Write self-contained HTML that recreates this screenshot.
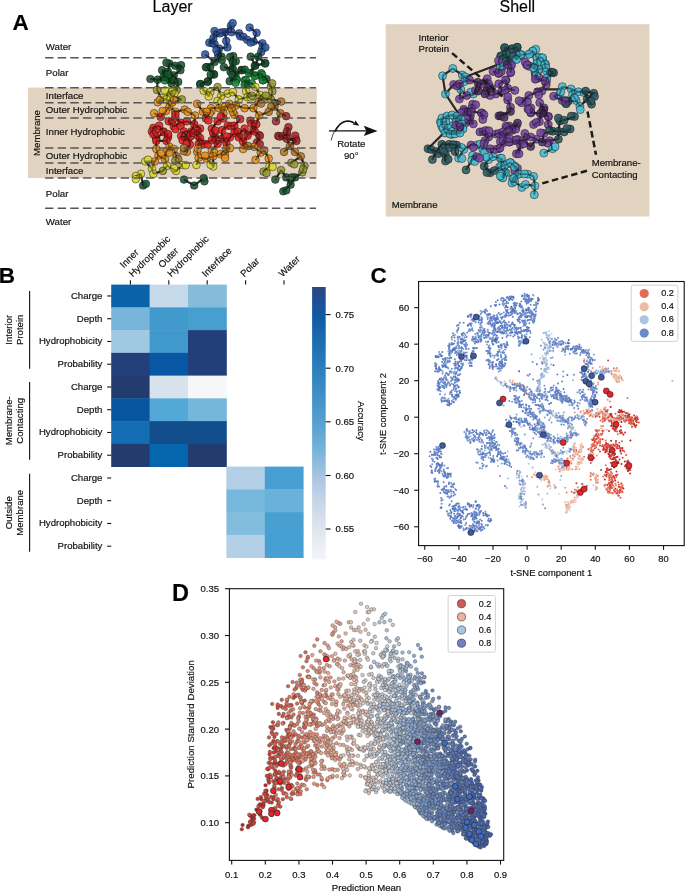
<!DOCTYPE html>
<html><head><meta charset="utf-8"><style>
html,body{margin:0;padding:0;background:#fff;}
svg{display:block;font-family:"Liberation Sans", sans-serif;will-change:transform;}
text{stroke:#111;stroke-width:0.18px;}
.sc circle{r:1px}
.sd circle{r:1.8px}
</style></head><body>
<svg width="685" height="892" viewBox="0 0 685 892">
<text x="12.4" y="30.3" font-size="22.5" font-weight="bold">A</text>
<text x="152.6" y="12.2" font-size="16">Layer</text>
<text x="499.5" y="12.4" font-size="16">Shell</text>
<rect x="28" y="87.6" width="288.8" height="90.4" fill="#e2d2c0"/>
<rect x="385.7" y="24.2" width="263.7" height="192.3" fill="#e2d2c0"/>
<text x="45.8" y="50.4" font-size="9.7" fill="#111">Water</text>
<text x="45.8" y="76.4" font-size="9.7" fill="#111">Polar</text>
<text x="45.8" y="98.5" font-size="9.7" fill="#111">Interface</text>
<text x="45.8" y="113.4" font-size="9.7" fill="#111">Outer Hydrophobic</text>
<text x="45.8" y="135.2" font-size="9.7" fill="#111">Inner Hydrophobic</text>
<text x="45.8" y="158.8" font-size="9.7" fill="#111">Outer Hydrophobic</text>
<text x="45.8" y="174.0" font-size="9.7" fill="#111">Interface</text>
<text x="45.8" y="196.8" font-size="9.7" fill="#111">Polar</text>
<text x="45.8" y="224.6" font-size="9.7" fill="#111">Water</text>
<text x="0" y="0" font-size="9.6" text-anchor="middle" transform="translate(39.5 133) rotate(-90)" fill="#111">Membrane</text>
<g stroke="#111" stroke-width="0.7" stroke-opacity="0.7" fill-opacity="0.88">
<path d="M230.9 25.8L225.0 32.2M230.9 25.8L231.5 32.2M214.5 31.0L219.8 33.4M214.5 31.0L213.4 38.0M225.0 32.2L219.8 33.4M225.0 32.2L231.5 32.2M225.0 32.2L226.2 40.9M219.8 33.4L213.4 38.0M231.5 32.2L239.1 33.4M239.1 33.4L240.2 36.3M240.2 36.3L247.2 39.8M249.6 27.5L256.6 32.8M256.6 32.8L253.6 41.5M247.2 39.8L253.6 41.5M253.6 41.5L262.4 43.3M262.4 43.3L262.4 48.5M262.4 43.3L261.2 52.0M262.4 48.5L261.2 52.0M261.2 52.0L258.3 56.7M209.3 42.7L214.5 43.9M209.3 42.7L213.4 38.0M214.5 43.9L219.2 48.5M214.5 43.9L213.4 38.0M226.2 40.9L227.4 47.4M227.4 47.4L219.2 48.5M219.2 48.5L218.0 54.4M219.2 48.5L221.5 56.7M218.0 54.4L221.5 56.7M218.0 54.4L214.5 62.0M205.2 54.4L214.5 62.0M221.5 56.7L214.5 62.0M233.2 56.1L232.6 60.8M233.2 56.1L232.9 62.2M232.6 60.8L232.0 69.0M232.6 60.8L232.9 68.8M250.7 56.7L258.3 56.7M250.7 56.7L255.4 65.5M258.3 56.7L255.4 65.5M258.3 56.7L265.3 63.1M258.3 56.7L265.0 63.6M214.5 62.0L206.9 67.2M214.5 62.0L205.9 67.3M206.9 67.2L213.9 74.2M223.9 67.2L232.0 69.0M223.9 67.2L232.9 68.8M232.0 69.0L235.5 74.2M232.0 69.0L232.9 62.2M241.4 70.1L235.5 74.2M241.4 70.1L249.0 73.1M255.4 65.5L265.3 63.1M255.4 65.5L250.7 73.1M255.4 65.5L265.0 63.6M213.9 74.2L208.1 81.2M208.1 81.2L200.5 84.2M208.1 81.2L200.1 84.1M208.1 81.2L213.9 74.6M200.5 84.2L207.4 81.9M200.5 84.2L203.7 90.7M229.7 81.2L236.7 79.5M229.7 81.2L234.4 77.5M229.7 81.2L236.6 79.7M235.5 74.2L236.7 79.5M235.5 74.2L232.9 68.8M235.5 74.2L241.7 70.2M235.5 74.2L234.4 77.5M235.5 74.2L236.6 79.7M236.7 79.5L234.4 77.5M244.9 80.1L246.1 84.7M244.9 80.1L244.6 84.8M244.9 80.1L251.9 83.4M250.7 73.1L255.4 75.4M250.7 73.1L254.8 65.8M250.7 73.1L254.8 76.1M255.4 75.4L261.2 73.1M255.4 75.4L249.0 73.1M255.4 75.4L262.1 74.6M261.2 73.1L263.0 80.1M261.2 73.1L254.8 76.1M261.2 73.1L262.8 80.4M263.0 80.1L266.5 79.0M263.0 80.1L262.1 74.6M246.1 84.7L246.1 80.4M246.1 84.7L251.9 83.4M246.1 84.7L246.1 91.4M169.4 63.6L175.3 65.8M169.4 63.6L168.0 71.7M175.3 65.8L181.1 65.1M175.3 65.8L180.4 70.2M181.1 65.1L180.4 70.2M180.4 70.2L173.8 75.3M162.1 70.2L168.0 71.7M162.1 70.2L163.6 76.8M162.1 70.2L168.0 74.6M168.0 71.7L173.8 75.3M168.0 71.7L163.6 76.8M173.8 75.3L168.7 79.0M173.8 75.3L178.2 81.9M173.8 75.3L168.0 74.6M150.4 79.0L157.7 79.7M157.7 79.7L163.6 76.8M157.7 79.7L165.0 80.4M157.7 79.7L157.0 89.9M163.6 76.8L168.7 79.0M163.6 76.8L168.0 74.6M163.6 76.8L165.0 80.4M168.7 79.0L171.6 83.4M168.7 79.0L168.0 74.6M168.7 79.0L165.0 80.4M171.6 83.4L178.2 81.9M171.6 83.4L165.0 80.4M178.2 81.9L176.7 89.9M200.1 84.1L207.4 81.9M200.1 84.1L203.7 90.7M207.4 81.9L213.9 74.6M168.0 74.6L165.0 80.4M157.0 89.9L161.4 98.0M176.7 89.9L172.3 91.4M176.7 89.9L173.8 96.5M217.6 87.0L210.3 92.1M217.6 87.0L221.2 95.8M181.8 99.4L173.8 96.5M181.8 99.4L172.3 102.3M161.4 98.0L166.5 99.4M161.4 98.0L157.7 102.3M168.0 91.4L172.3 91.4M168.0 91.4L173.8 96.5M168.0 91.4L166.5 99.4M172.3 91.4L173.8 96.5M173.8 96.5L172.3 102.3M166.5 99.4L157.7 102.3M166.5 99.4L169.4 106.7M166.5 99.4L172.3 102.3M203.7 90.7L210.3 92.1M203.7 90.7L208.8 96.5M210.3 92.1L208.8 96.5M221.2 95.8L217.6 100.9M221.2 95.8L227.8 93.6M217.6 100.9L219.1 108.2M227.8 93.6L232.9 92.1M169.4 106.7L165.8 111.1M169.4 106.7L175.3 111.8M169.4 106.7L172.3 102.3M165.8 111.1L160.7 116.9M175.3 111.8L184.7 109.6M175.3 111.8L175.3 117.7M154.1 113.3L160.7 116.9M184.7 109.6L187.7 111.8M187.7 111.8L195.0 115.5M197.2 103.8L203.0 111.8M195.0 115.5L194.2 124.2M203.0 111.8L209.6 113.3M203.0 111.8L205.9 118.4M211.0 108.2L209.6 113.3M211.0 108.2L219.1 108.2M209.6 113.3L205.9 118.4M219.1 108.2L224.9 106.7M219.1 108.2L223.4 113.3M224.9 106.7L223.4 113.3M224.9 106.7L229.3 103.8M224.9 106.7L231.5 108.2M223.4 113.3L223.4 118.4M229.3 103.8L235.8 105.3M229.3 103.8L231.5 108.2M168.7 121.3L175.3 117.7M168.7 121.3L173.8 126.4M175.3 117.7L181.1 122.8M153.4 127.9L159.2 125.7M153.4 127.9L151.9 131.5M159.2 125.7L163.6 131.5M159.2 125.7L163.6 132.2M163.6 131.5L168.0 135.9M163.6 131.5L168.0 137.3M173.8 126.4L181.1 122.8M168.0 135.9L163.6 132.2M168.0 135.9L166.5 140.9M181.1 122.8L186.9 121.3M186.9 121.3L194.2 124.2M194.2 124.2L191.3 131.5M194.2 124.2L200.1 128.6M184.0 131.5L191.3 131.5M184.0 131.5L181.1 135.8M184.0 131.5L188.4 138.8M191.3 131.5L188.4 138.8M200.1 128.6L197.9 135.9M200.1 128.6L192.8 132.9M197.9 135.9L192.8 132.9M197.9 135.9L200.1 138.0M197.9 135.9L198.6 143.9M211.8 128.6L217.6 121.3M211.8 128.6L214.7 135.9M211.8 128.6L213.2 132.9M217.6 121.3L223.4 118.4M222.0 130.1L227.8 125.7M222.0 130.1L222.0 138.8M227.8 125.7L234.4 125.7M214.7 135.9L213.2 132.9M214.7 135.9L222.0 138.8M214.7 135.9L217.6 143.9M214.7 135.9L211.8 140.2M156.3 138.8L151.9 131.5M156.3 138.8L163.6 132.2M232.9 62.2L232.9 68.8M241.7 70.2L249.0 73.1M254.8 65.8L249.0 73.1M234.4 77.5L236.6 79.7M266.5 79.0L262.1 74.6M266.5 79.0L262.8 80.4M266.5 79.0L270.9 86.3M249.0 73.1L254.8 76.1M262.1 74.6L262.8 80.4M246.1 80.4L244.6 84.8M246.1 80.4L251.9 83.4M244.6 84.8L246.1 91.4M251.9 83.4L255.5 87.0M255.5 87.0L259.9 95.0M232.9 92.1L238.8 99.4M246.1 91.4L247.5 97.2M246.1 91.4L251.9 95.8M238.8 99.4L247.5 97.2M238.8 99.4L235.8 105.3M247.5 97.2L251.9 95.8M259.9 95.0L263.6 98.0M259.9 95.0L251.9 95.8M259.9 95.0L258.5 101.6M270.9 86.3L272.3 91.4M272.3 91.4L270.9 99.4M270.9 99.4L263.6 98.0M270.9 99.4L281.1 101.6M270.9 99.4L274.5 106.7M263.6 98.0L258.5 101.6M235.8 105.3L244.6 108.2M235.8 105.3L231.5 108.2M244.6 108.2L253.4 108.2M253.4 108.2L259.2 115.5M253.4 108.2L258.5 101.6M259.2 115.5L268.7 111.8M259.2 115.5L256.3 124.2M234.4 114.7L231.5 108.2M234.4 114.7L240.2 119.1M281.1 101.6L274.5 106.7M274.5 106.7L268.7 111.8M274.5 106.7L280.4 113.3M280.4 113.3L286.2 116.2M280.4 113.3L276.0 121.3M240.2 119.1L234.4 125.7M250.4 120.6L256.3 124.2M250.4 120.6L253.4 130.1M256.3 124.2L253.4 130.1M256.3 124.2L254.8 131.5M234.4 125.7L234.4 132.9M244.6 128.6L238.8 134.5M244.6 128.6L247.5 134.5M244.6 128.6L247.5 135.8M253.4 130.1L247.5 134.5M253.4 130.1L259.2 135.2M253.4 130.1L247.5 135.8M238.8 134.5L234.4 132.9M238.8 134.5L243.1 141.7M247.5 134.5L254.8 131.5M259.2 135.2L254.8 131.5M259.2 135.2L257.0 142.4M288.4 127.2L286.9 134.5M288.4 127.2L286.9 131.5M278.2 135.9L286.9 134.5M278.2 135.9L286.9 138.8M286.9 134.5L279.6 136.6M286.9 134.5L286.9 138.8M295.7 138.8L286.9 138.8M295.7 138.8L289.9 146.1M163.6 132.2L168.0 137.3M168.0 137.3L166.5 140.9M156.3 140.9L166.5 140.9M156.3 140.9L156.3 149.0M166.5 140.9L169.4 146.8M181.1 135.8L182.6 140.2M181.1 135.8L188.4 138.8M182.6 140.2L188.4 138.8M188.4 138.8L192.8 132.9M188.4 138.8L189.9 144.6M200.1 138.0L198.6 143.9M200.1 138.0L204.5 143.9M198.6 143.9L204.5 143.9M198.6 143.9L197.2 151.9M189.9 144.6L186.9 151.9M189.9 144.6L184.0 151.2M204.5 143.9L211.8 140.2M213.2 132.9L211.8 140.2M222.0 138.8L217.6 143.9M222.0 138.8L226.4 143.1M222.0 138.8L230.0 137.3M217.6 143.9L211.8 140.2M217.6 143.9L211.8 150.4M226.4 143.1L226.4 149.0M226.4 143.1L230.0 137.3M226.4 143.1L230.0 148.2M156.3 149.0L158.5 155.5M169.4 146.8L173.8 149.0M169.4 146.8L166.5 151.2M173.8 149.0L166.5 151.2M173.8 149.0L176.7 156.3M166.5 151.2L165.0 159.2M158.5 155.5L165.0 159.2M158.5 155.5L154.8 161.4M165.0 159.2L167.2 165.8M154.8 161.4L145.3 161.4M154.8 161.4L151.9 168.7M186.9 151.9L184.0 151.2M197.2 151.9L198.6 157.7M198.6 157.7L206.6 158.5M198.6 157.7L196.4 165.0M206.6 158.5L213.2 156.3M206.6 158.5L213.2 166.5M211.8 150.4L213.2 156.3M220.5 154.1L224.9 154.8M220.5 154.1L213.2 156.3M220.5 154.1L226.4 149.0M224.9 154.8L226.4 149.0M224.9 154.8L230.0 148.2M213.2 156.3L213.2 166.5M226.4 149.0L230.0 148.2M176.7 156.3L175.3 160.7M145.3 161.4L151.9 168.7M151.9 168.7L153.4 173.8M153.4 173.8L162.8 170.9M140.9 173.8L135.8 176.0M140.9 173.8L143.1 185.5M167.2 165.8L176.0 170.9M167.2 165.8L162.8 170.9M176.0 170.9L182.6 165.0M182.6 165.0L175.3 160.7M184.0 179.6L194.2 185.5M194.2 185.5L203.7 178.2M234.4 132.9L238.8 137.3M234.4 132.9L230.0 137.3M238.8 137.3L243.1 141.7M247.5 135.8L243.1 141.7M243.1 141.7L243.1 149.0M243.1 141.7L248.2 146.1M254.8 131.5L259.9 135.8M259.9 135.8L257.0 142.4M257.0 142.4L254.1 146.8M279.6 136.6L286.9 138.8M286.9 131.5L286.9 138.8M286.9 138.8L296.4 140.9M286.9 138.8L289.9 146.1M296.4 140.9L289.9 146.1M243.1 149.0L248.2 146.1M254.1 146.8L260.7 152.6M254.1 146.8L248.2 146.1M260.7 152.6L255.5 159.9M260.7 152.6L264.3 150.4M268.7 158.5L264.3 150.4M268.7 158.5L269.4 166.5M289.9 146.1L284.0 151.9M289.9 146.1L295.0 151.9M295.0 151.9L300.8 156.3M300.8 156.3L291.3 162.8M300.8 156.3L304.5 165.8M269.4 166.5L263.6 171.6M281.1 170.1L275.3 179.6M281.1 170.1L286.2 177.4M304.5 165.8L302.3 172.3M302.3 172.3L295.0 177.4M286.2 177.4L295.0 177.4M286.2 177.4L290.6 184.7M295.0 177.4L290.6 184.7M290.6 184.7L283.3 191.3" stroke="#000" stroke-width="2.2" fill="none"/>
<circle cx="230.9" cy="25.8" r="3.85" fill="#2f58a8"/>
<circle cx="232.7" cy="23.1" r="3.85" fill="#2f58a8"/>
<circle cx="214.5" cy="31.0" r="3.85" fill="#2f58a8"/>
<circle cx="225.0" cy="32.2" r="3.85" fill="#2f58a8"/>
<circle cx="221.8" cy="32.3" r="3.85" fill="#2f58a8"/>
<circle cx="219.8" cy="33.4" r="3.85" fill="#2f58a8"/>
<circle cx="231.5" cy="32.2" r="3.85" fill="#2f58a8"/>
<circle cx="239.1" cy="33.4" r="3.85" fill="#2f58a8"/>
<circle cx="240.2" cy="36.3" r="3.85" fill="#2f58a8"/>
<circle cx="243.4" cy="36.8" r="3.85" fill="#2f58a8"/>
<circle cx="249.6" cy="27.5" r="3.85" fill="#2f58a8"/>
<circle cx="256.6" cy="32.8" r="3.85" fill="#2f58a8"/>
<circle cx="247.2" cy="39.8" r="3.85" fill="#2f58a8"/>
<circle cx="253.6" cy="41.5" r="3.85" fill="#2f58a8"/>
<circle cx="250.6" cy="42.6" r="3.85" fill="#2f58a8"/>
<circle cx="262.4" cy="43.3" r="3.85" fill="#2f58a8"/>
<circle cx="262.4" cy="48.5" r="3.85" fill="#2f58a8"/>
<circle cx="265.4" cy="47.5" r="3.85" fill="#2f58a8"/>
<circle cx="261.2" cy="52.0" r="3.85" fill="#2f58a8"/>
<circle cx="209.3" cy="42.7" r="3.85" fill="#2f58a8"/>
<circle cx="212.4" cy="43.2" r="3.85" fill="#2f58a8"/>
<circle cx="214.5" cy="43.9" r="3.85" fill="#2f58a8"/>
<circle cx="226.2" cy="40.9" r="3.85" fill="#2f58a8"/>
<circle cx="227.4" cy="47.4" r="3.85" fill="#2f58a8"/>
<circle cx="219.2" cy="48.5" r="3.85" fill="#2f58a8"/>
<circle cx="216.4" cy="50.0" r="3.85" fill="#2f58a8"/>
<circle cx="218.0" cy="54.4" r="3.85" fill="#2f58a8"/>
<circle cx="218.6" cy="57.5" r="3.85" fill="#2f58a8"/>
<circle cx="205.2" cy="54.4" r="3.85" fill="#2f58a8"/>
<circle cx="213.4" cy="38.0" r="3.85" fill="#2f58a8"/>
<circle cx="221.5" cy="56.7" r="3.85" fill="#1a5530"/>
<circle cx="221.9" cy="59.9" r="3.85" fill="#1a5530"/>
<circle cx="233.2" cy="56.1" r="3.85" fill="#1a5530"/>
<circle cx="230.1" cy="56.9" r="3.85" fill="#1a5530"/>
<circle cx="232.6" cy="60.8" r="3.85" fill="#1a5530"/>
<circle cx="235.8" cy="61.2" r="3.85" fill="#1a5530"/>
<circle cx="250.7" cy="56.7" r="3.85" fill="#1a5530"/>
<circle cx="258.3" cy="56.7" r="3.85" fill="#1a5530"/>
<circle cx="214.5" cy="62.0" r="3.85" fill="#1a5530"/>
<circle cx="206.9" cy="67.2" r="3.85" fill="#1a5530"/>
<circle cx="210.1" cy="67.1" r="3.85" fill="#1a5530"/>
<circle cx="223.9" cy="67.2" r="3.85" fill="#1a5530"/>
<circle cx="232.0" cy="69.0" r="3.85" fill="#1a5530"/>
<circle cx="230.5" cy="71.8" r="3.85" fill="#1a5530"/>
<circle cx="241.4" cy="70.1" r="3.85" fill="#1a5530"/>
<circle cx="255.4" cy="65.5" r="3.85" fill="#1a5530"/>
<circle cx="265.3" cy="63.1" r="3.85" fill="#1a5530"/>
<circle cx="213.9" cy="74.2" r="3.85" fill="#1a5530"/>
<circle cx="208.1" cy="81.2" r="3.85" fill="#1a5530"/>
<circle cx="200.5" cy="84.2" r="3.85" fill="#1a5530"/>
<circle cx="229.7" cy="81.2" r="3.85" fill="#1a5530"/>
<circle cx="235.5" cy="74.2" r="3.85" fill="#1a5530"/>
<circle cx="236.7" cy="79.5" r="3.85" fill="#178a3e"/>
<circle cx="244.9" cy="80.1" r="3.85" fill="#178a3e"/>
<circle cx="250.7" cy="73.1" r="3.85" fill="#178a3e"/>
<circle cx="255.4" cy="75.4" r="3.85" fill="#178a3e"/>
<circle cx="261.2" cy="73.1" r="3.85" fill="#178a3e"/>
<circle cx="261.4" cy="76.3" r="3.85" fill="#178a3e"/>
<circle cx="263.0" cy="80.1" r="3.85" fill="#178a3e"/>
<circle cx="246.1" cy="84.7" r="3.85" fill="#178a3e"/>
<circle cx="169.4" cy="63.6" r="3.85" fill="#1a5530"/>
<circle cx="166.4" cy="62.7" r="3.85" fill="#1a5530"/>
<circle cx="175.3" cy="65.8" r="3.85" fill="#1a5530"/>
<circle cx="181.1" cy="65.1" r="3.85" fill="#1a5530"/>
<circle cx="180.4" cy="70.2" r="3.85" fill="#1a5530"/>
<circle cx="162.1" cy="70.2" r="3.85" fill="#1a5530"/>
<circle cx="168.0" cy="71.7" r="3.85" fill="#1a5530"/>
<circle cx="173.8" cy="75.3" r="3.85" fill="#1a5530"/>
<circle cx="150.4" cy="79.0" r="3.85" fill="#1a5530"/>
<circle cx="157.7" cy="79.7" r="3.85" fill="#1a5530"/>
<circle cx="163.6" cy="76.8" r="3.85" fill="#1a5530"/>
<circle cx="168.7" cy="79.0" r="3.85" fill="#1a5530"/>
<circle cx="171.8" cy="79.8" r="3.85" fill="#1a5530"/>
<circle cx="171.6" cy="83.4" r="3.85" fill="#1a5530"/>
<circle cx="178.2" cy="81.9" r="3.85" fill="#1a5530"/>
<circle cx="200.1" cy="84.1" r="3.85" fill="#1a5530"/>
<circle cx="207.4" cy="81.9" r="3.85" fill="#1a5530"/>
<circle cx="213.9" cy="74.6" r="3.85" fill="#1a5530"/>
<circle cx="210.7" cy="74.6" r="3.85" fill="#1a5530"/>
<circle cx="205.9" cy="67.3" r="3.85" fill="#1a5530"/>
<circle cx="168.0" cy="74.6" r="3.85" fill="#178a3e"/>
<circle cx="165.0" cy="80.4" r="3.85" fill="#178a3e"/>
<circle cx="157.0" cy="89.9" r="3.85" fill="#999a32"/>
<circle cx="176.7" cy="89.9" r="3.85" fill="#999a32"/>
<circle cx="173.5" cy="89.7" r="3.85" fill="#999a32"/>
<circle cx="217.6" cy="87.0" r="3.85" fill="#999a32"/>
<circle cx="181.8" cy="99.4" r="3.85" fill="#999a32"/>
<circle cx="161.4" cy="98.0" r="3.85" fill="#dcd830"/>
<circle cx="168.0" cy="91.4" r="3.85" fill="#dcd830"/>
<circle cx="164.9" cy="90.4" r="3.85" fill="#dcd830"/>
<circle cx="172.3" cy="91.4" r="3.85" fill="#dcd830"/>
<circle cx="173.8" cy="96.5" r="3.85" fill="#dcd830"/>
<circle cx="174.5" cy="93.4" r="3.85" fill="#dcd830"/>
<circle cx="166.5" cy="99.4" r="3.85" fill="#dcd830"/>
<circle cx="203.7" cy="90.7" r="3.85" fill="#dcd830"/>
<circle cx="210.3" cy="92.1" r="3.85" fill="#dcd830"/>
<circle cx="208.8" cy="96.5" r="3.85" fill="#dcd830"/>
<circle cx="221.2" cy="95.8" r="3.85" fill="#dcd830"/>
<circle cx="217.6" cy="100.9" r="3.85" fill="#dcd830"/>
<circle cx="227.8" cy="93.6" r="3.85" fill="#dcd830"/>
<circle cx="157.7" cy="102.3" r="3.85" fill="#e6921c"/>
<circle cx="159.9" cy="100.0" r="3.85" fill="#e6921c"/>
<circle cx="169.4" cy="106.7" r="3.85" fill="#e6921c"/>
<circle cx="165.8" cy="111.1" r="3.85" fill="#e6921c"/>
<circle cx="162.6" cy="111.0" r="3.85" fill="#e6921c"/>
<circle cx="175.3" cy="111.8" r="3.85" fill="#e6921c"/>
<circle cx="154.1" cy="113.3" r="3.85" fill="#e6921c"/>
<circle cx="184.7" cy="109.6" r="3.85" fill="#e6921c"/>
<circle cx="187.7" cy="111.8" r="3.85" fill="#e6921c"/>
<circle cx="197.2" cy="103.8" r="3.85" fill="#e6921c"/>
<circle cx="195.0" cy="115.5" r="3.85" fill="#e6921c"/>
<circle cx="203.0" cy="111.8" r="3.85" fill="#e6921c"/>
<circle cx="211.0" cy="108.2" r="3.85" fill="#e6921c"/>
<circle cx="211.4" cy="111.3" r="3.85" fill="#e6921c"/>
<circle cx="209.6" cy="113.3" r="3.85" fill="#e6921c"/>
<circle cx="206.8" cy="111.7" r="3.85" fill="#e6921c"/>
<circle cx="219.1" cy="108.2" r="3.85" fill="#e6921c"/>
<circle cx="224.9" cy="106.7" r="3.85" fill="#e6921c"/>
<circle cx="223.4" cy="113.3" r="3.85" fill="#e6921c"/>
<circle cx="229.3" cy="103.8" r="3.85" fill="#e6921c"/>
<circle cx="172.3" cy="102.3" r="3.85" fill="#e6921c"/>
<circle cx="174.1" cy="99.7" r="3.85" fill="#e6921c"/>
<circle cx="160.7" cy="116.9" r="3.85" fill="#e02424"/>
<circle cx="168.7" cy="121.3" r="3.85" fill="#e02424"/>
<circle cx="171.9" cy="121.6" r="3.85" fill="#e02424"/>
<circle cx="175.3" cy="117.7" r="3.85" fill="#e02424"/>
<circle cx="175.4" cy="114.5" r="3.85" fill="#e02424"/>
<circle cx="153.4" cy="127.9" r="3.85" fill="#e02424"/>
<circle cx="155.8" cy="129.9" r="3.85" fill="#e02424"/>
<circle cx="159.2" cy="125.7" r="3.85" fill="#e02424"/>
<circle cx="163.6" cy="131.5" r="3.85" fill="#e02424"/>
<circle cx="173.8" cy="126.4" r="3.85" fill="#e02424"/>
<circle cx="175.5" cy="129.1" r="3.85" fill="#e02424"/>
<circle cx="168.0" cy="135.9" r="3.85" fill="#e02424"/>
<circle cx="181.1" cy="122.8" r="3.85" fill="#e02424"/>
<circle cx="180.6" cy="125.9" r="3.85" fill="#e02424"/>
<circle cx="186.9" cy="121.3" r="3.85" fill="#e02424"/>
<circle cx="194.2" cy="124.2" r="3.85" fill="#e02424"/>
<circle cx="184.0" cy="131.5" r="3.85" fill="#e02424"/>
<circle cx="191.3" cy="131.5" r="3.85" fill="#e02424"/>
<circle cx="200.1" cy="128.6" r="3.85" fill="#e02424"/>
<circle cx="197.7" cy="130.7" r="3.85" fill="#e02424"/>
<circle cx="197.9" cy="135.9" r="3.85" fill="#e02424"/>
<circle cx="205.9" cy="118.4" r="3.85" fill="#e02424"/>
<circle cx="208.4" cy="120.4" r="3.85" fill="#e02424"/>
<circle cx="211.8" cy="128.6" r="3.85" fill="#e02424"/>
<circle cx="217.6" cy="121.3" r="3.85" fill="#e02424"/>
<circle cx="223.4" cy="118.4" r="3.85" fill="#e02424"/>
<circle cx="220.9" cy="116.4" r="3.85" fill="#e02424"/>
<circle cx="222.0" cy="130.1" r="3.85" fill="#e02424"/>
<circle cx="227.8" cy="125.7" r="3.85" fill="#e02424"/>
<circle cx="231.0" cy="126.1" r="3.85" fill="#e02424"/>
<circle cx="214.7" cy="135.9" r="3.85" fill="#e02424"/>
<circle cx="214.0" cy="132.8" r="3.85" fill="#e02424"/>
<circle cx="156.3" cy="138.8" r="3.85" fill="#e02424"/>
<circle cx="155.4" cy="135.8" r="3.85" fill="#e02424"/>
<circle cx="232.9" cy="62.2" r="3.85" fill="#1a5530"/>
<circle cx="232.9" cy="68.8" r="3.85" fill="#1a5530"/>
<circle cx="241.7" cy="70.2" r="3.85" fill="#1a5530"/>
<circle cx="244.8" cy="69.7" r="3.85" fill="#1a5530"/>
<circle cx="254.8" cy="65.8" r="3.85" fill="#1a5530"/>
<circle cx="265.0" cy="63.6" r="3.85" fill="#1a5530"/>
<circle cx="234.4" cy="77.5" r="3.85" fill="#1a5530"/>
<circle cx="232.5" cy="74.9" r="3.85" fill="#1a5530"/>
<circle cx="266.5" cy="79.0" r="3.85" fill="#1a5530"/>
<circle cx="249.0" cy="73.1" r="3.85" fill="#178a3e"/>
<circle cx="254.8" cy="76.1" r="3.85" fill="#178a3e"/>
<circle cx="262.1" cy="74.6" r="3.85" fill="#178a3e"/>
<circle cx="236.6" cy="79.7" r="3.85" fill="#178a3e"/>
<circle cx="235.6" cy="82.8" r="3.85" fill="#178a3e"/>
<circle cx="246.1" cy="80.4" r="3.85" fill="#178a3e"/>
<circle cx="244.6" cy="84.8" r="3.85" fill="#178a3e"/>
<circle cx="262.8" cy="80.4" r="3.85" fill="#178a3e"/>
<circle cx="251.9" cy="83.4" r="3.85" fill="#178a3e"/>
<circle cx="255.5" cy="87.0" r="3.85" fill="#dcd830"/>
<circle cx="232.9" cy="92.1" r="3.85" fill="#dcd830"/>
<circle cx="246.1" cy="91.4" r="3.85" fill="#dcd830"/>
<circle cx="238.8" cy="99.4" r="3.85" fill="#dcd830"/>
<circle cx="247.5" cy="97.2" r="3.85" fill="#dcd830"/>
<circle cx="250.7" cy="97.4" r="3.85" fill="#dcd830"/>
<circle cx="259.9" cy="95.0" r="3.85" fill="#dcd830"/>
<circle cx="270.9" cy="86.3" r="3.85" fill="#999a32"/>
<circle cx="272.2" cy="83.4" r="3.85" fill="#999a32"/>
<circle cx="272.3" cy="91.4" r="3.85" fill="#999a32"/>
<circle cx="270.9" cy="99.4" r="3.85" fill="#999a32"/>
<circle cx="263.6" cy="98.0" r="3.85" fill="#999a32"/>
<circle cx="265.7" cy="95.6" r="3.85" fill="#999a32"/>
<circle cx="251.9" cy="95.8" r="3.85" fill="#999a32"/>
<circle cx="235.8" cy="105.3" r="3.85" fill="#e6921c"/>
<circle cx="244.6" cy="108.2" r="3.85" fill="#e6921c"/>
<circle cx="253.4" cy="108.2" r="3.85" fill="#e6921c"/>
<circle cx="259.2" cy="115.5" r="3.85" fill="#e6921c"/>
<circle cx="234.4" cy="114.7" r="3.85" fill="#e6921c"/>
<circle cx="232.9" cy="111.9" r="3.85" fill="#e6921c"/>
<circle cx="231.5" cy="108.2" r="3.85" fill="#e6921c"/>
<circle cx="258.5" cy="101.6" r="3.85" fill="#b47a2c"/>
<circle cx="261.0" cy="103.6" r="3.85" fill="#b47a2c"/>
<circle cx="281.1" cy="101.6" r="3.85" fill="#b47a2c"/>
<circle cx="274.5" cy="106.7" r="3.85" fill="#b47a2c"/>
<circle cx="271.3" cy="106.7" r="3.85" fill="#b47a2c"/>
<circle cx="268.7" cy="111.8" r="3.85" fill="#b47a2c"/>
<circle cx="280.4" cy="113.3" r="3.85" fill="#b47a2c"/>
<circle cx="240.2" cy="119.1" r="3.85" fill="#e02424"/>
<circle cx="250.4" cy="120.6" r="3.85" fill="#e02424"/>
<circle cx="251.4" cy="123.6" r="3.85" fill="#e02424"/>
<circle cx="256.3" cy="124.2" r="3.85" fill="#e02424"/>
<circle cx="234.4" cy="125.7" r="3.85" fill="#e02424"/>
<circle cx="244.6" cy="128.6" r="3.85" fill="#e02424"/>
<circle cx="253.4" cy="130.1" r="3.85" fill="#e02424"/>
<circle cx="238.8" cy="134.5" r="3.85" fill="#e02424"/>
<circle cx="237.3" cy="131.6" r="3.85" fill="#e02424"/>
<circle cx="247.5" cy="134.5" r="3.85" fill="#e02424"/>
<circle cx="259.2" cy="135.2" r="3.85" fill="#e02424"/>
<circle cx="286.2" cy="116.2" r="3.85" fill="#a92a2c"/>
<circle cx="276.0" cy="121.3" r="3.85" fill="#a92a2c"/>
<circle cx="288.4" cy="127.2" r="3.85" fill="#a92a2c"/>
<circle cx="278.2" cy="135.9" r="3.85" fill="#a92a2c"/>
<circle cx="286.9" cy="134.5" r="3.85" fill="#a92a2c"/>
<circle cx="295.7" cy="138.8" r="3.85" fill="#a92a2c"/>
<circle cx="295.2" cy="135.7" r="3.85" fill="#a92a2c"/>
<circle cx="151.9" cy="131.5" r="3.85" fill="#e02424"/>
<circle cx="153.4" cy="134.3" r="3.85" fill="#e02424"/>
<circle cx="163.6" cy="132.2" r="3.85" fill="#e02424"/>
<circle cx="168.0" cy="137.3" r="3.85" fill="#e02424"/>
<circle cx="168.1" cy="134.1" r="3.85" fill="#e02424"/>
<circle cx="156.3" cy="140.9" r="3.85" fill="#e02424"/>
<circle cx="166.5" cy="140.9" r="3.85" fill="#e02424"/>
<circle cx="181.1" cy="135.8" r="3.85" fill="#e02424"/>
<circle cx="182.6" cy="140.2" r="3.85" fill="#e02424"/>
<circle cx="188.4" cy="138.8" r="3.85" fill="#e02424"/>
<circle cx="190.5" cy="136.4" r="3.85" fill="#e02424"/>
<circle cx="192.8" cy="132.9" r="3.85" fill="#e02424"/>
<circle cx="200.1" cy="138.0" r="3.85" fill="#e02424"/>
<circle cx="198.6" cy="143.9" r="3.85" fill="#e02424"/>
<circle cx="189.9" cy="144.6" r="3.85" fill="#e02424"/>
<circle cx="186.8" cy="143.6" r="3.85" fill="#e02424"/>
<circle cx="204.5" cy="143.9" r="3.85" fill="#e02424"/>
<circle cx="207.6" cy="144.6" r="3.85" fill="#e02424"/>
<circle cx="213.2" cy="132.9" r="3.85" fill="#e02424"/>
<circle cx="215.3" cy="130.5" r="3.85" fill="#e02424"/>
<circle cx="222.0" cy="138.8" r="3.85" fill="#e02424"/>
<circle cx="217.6" cy="143.9" r="3.85" fill="#e02424"/>
<circle cx="226.4" cy="143.1" r="3.85" fill="#e02424"/>
<circle cx="211.8" cy="140.2" r="3.85" fill="#e02424"/>
<circle cx="156.3" cy="149.0" r="3.85" fill="#e6921c"/>
<circle cx="169.4" cy="146.8" r="3.85" fill="#e6921c"/>
<circle cx="173.8" cy="149.0" r="3.85" fill="#e6921c"/>
<circle cx="166.5" cy="151.2" r="3.85" fill="#e6921c"/>
<circle cx="169.3" cy="152.7" r="3.85" fill="#e6921c"/>
<circle cx="158.5" cy="155.5" r="3.85" fill="#e6921c"/>
<circle cx="160.9" cy="153.5" r="3.85" fill="#e6921c"/>
<circle cx="165.0" cy="159.2" r="3.85" fill="#e6921c"/>
<circle cx="154.8" cy="161.4" r="3.85" fill="#e6921c"/>
<circle cx="186.9" cy="151.9" r="3.85" fill="#e6921c"/>
<circle cx="197.2" cy="151.9" r="3.85" fill="#e6921c"/>
<circle cx="197.9" cy="148.8" r="3.85" fill="#e6921c"/>
<circle cx="198.6" cy="157.7" r="3.85" fill="#e6921c"/>
<circle cx="206.6" cy="158.5" r="3.85" fill="#e6921c"/>
<circle cx="205.1" cy="155.7" r="3.85" fill="#e6921c"/>
<circle cx="211.8" cy="150.4" r="3.85" fill="#e6921c"/>
<circle cx="214.2" cy="152.6" r="3.85" fill="#e6921c"/>
<circle cx="220.5" cy="154.1" r="3.85" fill="#e6921c"/>
<circle cx="224.9" cy="154.8" r="3.85" fill="#e6921c"/>
<circle cx="225.1" cy="158.0" r="3.85" fill="#e6921c"/>
<circle cx="213.2" cy="156.3" r="3.85" fill="#e6921c"/>
<circle cx="226.4" cy="149.0" r="3.85" fill="#e6921c"/>
<circle cx="176.7" cy="156.3" r="3.85" fill="#b47a2c"/>
<circle cx="178.3" cy="159.1" r="3.85" fill="#b47a2c"/>
<circle cx="184.0" cy="151.2" r="3.85" fill="#b47a2c"/>
<circle cx="183.9" cy="148.0" r="3.85" fill="#b47a2c"/>
<circle cx="145.3" cy="161.4" r="3.85" fill="#dcd830"/>
<circle cx="148.0" cy="159.7" r="3.85" fill="#dcd830"/>
<circle cx="151.9" cy="168.7" r="3.85" fill="#dcd830"/>
<circle cx="153.4" cy="173.8" r="3.85" fill="#dcd830"/>
<circle cx="140.9" cy="173.8" r="3.85" fill="#dcd830"/>
<circle cx="135.8" cy="176.0" r="3.85" fill="#dcd830"/>
<circle cx="135.8" cy="179.2" r="3.85" fill="#dcd830"/>
<circle cx="167.2" cy="165.8" r="3.85" fill="#dcd830"/>
<circle cx="176.0" cy="170.9" r="3.85" fill="#dcd830"/>
<circle cx="174.1" cy="168.3" r="3.85" fill="#dcd830"/>
<circle cx="182.6" cy="165.0" r="3.85" fill="#dcd830"/>
<circle cx="185.7" cy="165.2" r="3.85" fill="#dcd830"/>
<circle cx="196.4" cy="165.0" r="3.85" fill="#dcd830"/>
<circle cx="213.2" cy="166.5" r="3.85" fill="#dcd830"/>
<circle cx="210.6" cy="164.7" r="3.85" fill="#dcd830"/>
<circle cx="162.8" cy="170.9" r="3.85" fill="#999a32"/>
<circle cx="175.3" cy="160.7" r="3.85" fill="#999a32"/>
<circle cx="143.1" cy="185.5" r="3.85" fill="#1a5530"/>
<circle cx="145.9" cy="183.8" r="3.85" fill="#1a5530"/>
<circle cx="184.0" cy="179.6" r="3.85" fill="#1a5530"/>
<circle cx="194.2" cy="185.5" r="3.85" fill="#1a5530"/>
<circle cx="203.7" cy="178.2" r="3.85" fill="#1a5530"/>
<circle cx="204.4" cy="181.3" r="3.85" fill="#1a5530"/>
<circle cx="234.4" cy="132.9" r="3.85" fill="#e02424"/>
<circle cx="238.8" cy="137.3" r="3.85" fill="#e02424"/>
<circle cx="247.5" cy="135.8" r="3.85" fill="#e02424"/>
<circle cx="243.1" cy="141.7" r="3.85" fill="#e02424"/>
<circle cx="254.8" cy="131.5" r="3.85" fill="#e02424"/>
<circle cx="230.0" cy="137.3" r="3.85" fill="#e02424"/>
<circle cx="226.9" cy="136.5" r="3.85" fill="#e02424"/>
<circle cx="259.9" cy="135.8" r="3.85" fill="#a92a2c"/>
<circle cx="257.0" cy="142.4" r="3.85" fill="#a92a2c"/>
<circle cx="259.8" cy="144.0" r="3.85" fill="#a92a2c"/>
<circle cx="279.6" cy="136.6" r="3.85" fill="#a92a2c"/>
<circle cx="282.8" cy="136.2" r="3.85" fill="#a92a2c"/>
<circle cx="286.9" cy="131.5" r="3.85" fill="#a92a2c"/>
<circle cx="286.9" cy="138.8" r="3.85" fill="#a92a2c"/>
<circle cx="296.4" cy="140.9" r="3.85" fill="#a92a2c"/>
<circle cx="243.1" cy="149.0" r="3.85" fill="#e6921c"/>
<circle cx="254.1" cy="146.8" r="3.85" fill="#e6921c"/>
<circle cx="260.7" cy="152.6" r="3.85" fill="#e6921c"/>
<circle cx="255.5" cy="159.9" r="3.85" fill="#e6921c"/>
<circle cx="268.7" cy="158.5" r="3.85" fill="#e6921c"/>
<circle cx="230.0" cy="148.2" r="3.85" fill="#e6921c"/>
<circle cx="248.2" cy="146.1" r="3.85" fill="#b47a2c"/>
<circle cx="264.3" cy="150.4" r="3.85" fill="#b47a2c"/>
<circle cx="289.9" cy="146.1" r="3.85" fill="#b47a2c"/>
<circle cx="284.0" cy="151.9" r="3.85" fill="#b47a2c"/>
<circle cx="295.0" cy="151.9" r="3.85" fill="#b47a2c"/>
<circle cx="300.8" cy="156.3" r="3.85" fill="#b47a2c"/>
<circle cx="269.4" cy="166.5" r="3.85" fill="#dcd830"/>
<circle cx="272.6" cy="166.9" r="3.85" fill="#dcd830"/>
<circle cx="263.6" cy="171.6" r="3.85" fill="#999a32"/>
<circle cx="266.5" cy="173.0" r="3.85" fill="#999a32"/>
<circle cx="281.1" cy="170.1" r="3.85" fill="#999a32"/>
<circle cx="291.3" cy="162.8" r="3.85" fill="#999a32"/>
<circle cx="294.2" cy="164.3" r="3.85" fill="#999a32"/>
<circle cx="304.5" cy="165.8" r="3.85" fill="#999a32"/>
<circle cx="302.3" cy="172.3" r="3.85" fill="#999a32"/>
<circle cx="303.1" cy="169.2" r="3.85" fill="#999a32"/>
<circle cx="275.3" cy="179.6" r="3.85" fill="#1a5530"/>
<circle cx="286.2" cy="177.4" r="3.85" fill="#1a5530"/>
<circle cx="295.0" cy="177.4" r="3.85" fill="#1a5530"/>
<circle cx="291.8" cy="177.4" r="3.85" fill="#1a5530"/>
<circle cx="290.6" cy="184.7" r="3.85" fill="#1a5530"/>
<circle cx="283.3" cy="191.3" r="3.85" fill="#1a5530"/>
<circle cx="286.3" cy="190.3" r="3.85" fill="#1a5530"/>
<path d="M230.9 25.8L225.0 32.2M230.9 25.8L231.5 32.2M214.5 31.0L219.8 33.4M214.5 31.0L213.4 38.0M225.0 32.2L219.8 33.4M225.0 32.2L231.5 32.2M225.0 32.2L226.2 40.9M219.8 33.4L213.4 38.0M231.5 32.2L239.1 33.4M239.1 33.4L240.2 36.3M240.2 36.3L247.2 39.8M249.6 27.5L256.6 32.8M256.6 32.8L253.6 41.5M247.2 39.8L253.6 41.5M253.6 41.5L262.4 43.3M262.4 43.3L262.4 48.5M262.4 43.3L261.2 52.0M262.4 48.5L261.2 52.0M261.2 52.0L258.3 56.7M209.3 42.7L214.5 43.9M209.3 42.7L213.4 38.0M214.5 43.9L219.2 48.5M214.5 43.9L213.4 38.0M226.2 40.9L227.4 47.4M227.4 47.4L219.2 48.5M219.2 48.5L218.0 54.4M219.2 48.5L221.5 56.7M218.0 54.4L221.5 56.7M218.0 54.4L214.5 62.0M205.2 54.4L214.5 62.0M221.5 56.7L214.5 62.0M233.2 56.1L232.6 60.8M233.2 56.1L232.9 62.2M232.6 60.8L232.0 69.0M232.6 60.8L232.9 68.8M250.7 56.7L258.3 56.7M250.7 56.7L255.4 65.5M258.3 56.7L255.4 65.5M258.3 56.7L265.3 63.1M258.3 56.7L265.0 63.6M214.5 62.0L206.9 67.2M214.5 62.0L205.9 67.3M206.9 67.2L213.9 74.2M223.9 67.2L232.0 69.0M223.9 67.2L232.9 68.8M232.0 69.0L235.5 74.2M232.0 69.0L232.9 62.2M241.4 70.1L235.5 74.2M241.4 70.1L249.0 73.1M255.4 65.5L265.3 63.1M255.4 65.5L250.7 73.1M255.4 65.5L265.0 63.6M213.9 74.2L208.1 81.2M208.1 81.2L200.5 84.2M208.1 81.2L200.1 84.1M208.1 81.2L213.9 74.6M200.5 84.2L207.4 81.9M200.5 84.2L203.7 90.7M229.7 81.2L236.7 79.5M229.7 81.2L234.4 77.5M229.7 81.2L236.6 79.7M235.5 74.2L236.7 79.5M235.5 74.2L232.9 68.8M235.5 74.2L241.7 70.2M235.5 74.2L234.4 77.5M235.5 74.2L236.6 79.7M236.7 79.5L234.4 77.5M244.9 80.1L246.1 84.7M244.9 80.1L244.6 84.8M244.9 80.1L251.9 83.4M250.7 73.1L255.4 75.4M250.7 73.1L254.8 65.8M250.7 73.1L254.8 76.1M255.4 75.4L261.2 73.1M255.4 75.4L249.0 73.1M255.4 75.4L262.1 74.6M261.2 73.1L263.0 80.1M261.2 73.1L254.8 76.1M261.2 73.1L262.8 80.4M263.0 80.1L266.5 79.0M263.0 80.1L262.1 74.6M246.1 84.7L246.1 80.4M246.1 84.7L251.9 83.4M246.1 84.7L246.1 91.4M169.4 63.6L175.3 65.8M169.4 63.6L168.0 71.7M175.3 65.8L181.1 65.1M175.3 65.8L180.4 70.2M181.1 65.1L180.4 70.2M180.4 70.2L173.8 75.3M162.1 70.2L168.0 71.7M162.1 70.2L163.6 76.8M162.1 70.2L168.0 74.6M168.0 71.7L173.8 75.3M168.0 71.7L163.6 76.8M173.8 75.3L168.7 79.0M173.8 75.3L178.2 81.9M173.8 75.3L168.0 74.6M150.4 79.0L157.7 79.7M157.7 79.7L163.6 76.8M157.7 79.7L165.0 80.4M157.7 79.7L157.0 89.9M163.6 76.8L168.7 79.0M163.6 76.8L168.0 74.6M163.6 76.8L165.0 80.4M168.7 79.0L171.6 83.4M168.7 79.0L168.0 74.6M168.7 79.0L165.0 80.4M171.6 83.4L178.2 81.9M171.6 83.4L165.0 80.4M178.2 81.9L176.7 89.9M200.1 84.1L207.4 81.9M200.1 84.1L203.7 90.7M207.4 81.9L213.9 74.6M168.0 74.6L165.0 80.4M157.0 89.9L161.4 98.0M176.7 89.9L172.3 91.4M176.7 89.9L173.8 96.5M217.6 87.0L210.3 92.1M217.6 87.0L221.2 95.8M181.8 99.4L173.8 96.5M181.8 99.4L172.3 102.3M161.4 98.0L166.5 99.4M161.4 98.0L157.7 102.3M168.0 91.4L172.3 91.4M168.0 91.4L173.8 96.5M168.0 91.4L166.5 99.4M172.3 91.4L173.8 96.5M173.8 96.5L172.3 102.3M166.5 99.4L157.7 102.3M166.5 99.4L169.4 106.7M166.5 99.4L172.3 102.3M203.7 90.7L210.3 92.1M203.7 90.7L208.8 96.5M210.3 92.1L208.8 96.5M221.2 95.8L217.6 100.9M221.2 95.8L227.8 93.6M217.6 100.9L219.1 108.2M227.8 93.6L232.9 92.1M169.4 106.7L165.8 111.1M169.4 106.7L175.3 111.8M169.4 106.7L172.3 102.3M165.8 111.1L160.7 116.9M175.3 111.8L184.7 109.6M175.3 111.8L175.3 117.7M154.1 113.3L160.7 116.9M184.7 109.6L187.7 111.8M187.7 111.8L195.0 115.5M197.2 103.8L203.0 111.8M195.0 115.5L194.2 124.2M203.0 111.8L209.6 113.3M203.0 111.8L205.9 118.4M211.0 108.2L209.6 113.3M211.0 108.2L219.1 108.2M209.6 113.3L205.9 118.4M219.1 108.2L224.9 106.7M219.1 108.2L223.4 113.3M224.9 106.7L223.4 113.3M224.9 106.7L229.3 103.8M224.9 106.7L231.5 108.2M223.4 113.3L223.4 118.4M229.3 103.8L235.8 105.3M229.3 103.8L231.5 108.2M168.7 121.3L175.3 117.7M168.7 121.3L173.8 126.4M175.3 117.7L181.1 122.8M153.4 127.9L159.2 125.7M153.4 127.9L151.9 131.5M159.2 125.7L163.6 131.5M159.2 125.7L163.6 132.2M163.6 131.5L168.0 135.9M163.6 131.5L168.0 137.3M173.8 126.4L181.1 122.8M168.0 135.9L163.6 132.2M168.0 135.9L166.5 140.9M181.1 122.8L186.9 121.3M186.9 121.3L194.2 124.2M194.2 124.2L191.3 131.5M194.2 124.2L200.1 128.6M184.0 131.5L191.3 131.5M184.0 131.5L181.1 135.8M184.0 131.5L188.4 138.8M191.3 131.5L188.4 138.8M200.1 128.6L197.9 135.9M200.1 128.6L192.8 132.9M197.9 135.9L192.8 132.9M197.9 135.9L200.1 138.0M197.9 135.9L198.6 143.9M211.8 128.6L217.6 121.3M211.8 128.6L214.7 135.9M211.8 128.6L213.2 132.9M217.6 121.3L223.4 118.4M222.0 130.1L227.8 125.7M222.0 130.1L222.0 138.8M227.8 125.7L234.4 125.7M214.7 135.9L213.2 132.9M214.7 135.9L222.0 138.8M214.7 135.9L217.6 143.9M214.7 135.9L211.8 140.2M156.3 138.8L151.9 131.5M156.3 138.8L163.6 132.2M232.9 62.2L232.9 68.8M241.7 70.2L249.0 73.1M254.8 65.8L249.0 73.1M234.4 77.5L236.6 79.7M266.5 79.0L262.1 74.6M266.5 79.0L262.8 80.4M266.5 79.0L270.9 86.3M249.0 73.1L254.8 76.1M262.1 74.6L262.8 80.4M246.1 80.4L244.6 84.8M246.1 80.4L251.9 83.4M244.6 84.8L246.1 91.4M251.9 83.4L255.5 87.0M255.5 87.0L259.9 95.0M232.9 92.1L238.8 99.4M246.1 91.4L247.5 97.2M246.1 91.4L251.9 95.8M238.8 99.4L247.5 97.2M238.8 99.4L235.8 105.3M247.5 97.2L251.9 95.8M259.9 95.0L263.6 98.0M259.9 95.0L251.9 95.8M259.9 95.0L258.5 101.6M270.9 86.3L272.3 91.4M272.3 91.4L270.9 99.4M270.9 99.4L263.6 98.0M270.9 99.4L281.1 101.6M270.9 99.4L274.5 106.7M263.6 98.0L258.5 101.6M235.8 105.3L244.6 108.2M235.8 105.3L231.5 108.2M244.6 108.2L253.4 108.2M253.4 108.2L259.2 115.5M253.4 108.2L258.5 101.6M259.2 115.5L268.7 111.8M259.2 115.5L256.3 124.2M234.4 114.7L231.5 108.2M234.4 114.7L240.2 119.1M281.1 101.6L274.5 106.7M274.5 106.7L268.7 111.8M274.5 106.7L280.4 113.3M280.4 113.3L286.2 116.2M280.4 113.3L276.0 121.3M240.2 119.1L234.4 125.7M250.4 120.6L256.3 124.2M250.4 120.6L253.4 130.1M256.3 124.2L253.4 130.1M256.3 124.2L254.8 131.5M234.4 125.7L234.4 132.9M244.6 128.6L238.8 134.5M244.6 128.6L247.5 134.5M244.6 128.6L247.5 135.8M253.4 130.1L247.5 134.5M253.4 130.1L259.2 135.2M253.4 130.1L247.5 135.8M238.8 134.5L234.4 132.9M238.8 134.5L243.1 141.7M247.5 134.5L254.8 131.5M259.2 135.2L254.8 131.5M259.2 135.2L257.0 142.4M288.4 127.2L286.9 134.5M288.4 127.2L286.9 131.5M278.2 135.9L286.9 134.5M278.2 135.9L286.9 138.8M286.9 134.5L279.6 136.6M286.9 134.5L286.9 138.8M295.7 138.8L286.9 138.8M295.7 138.8L289.9 146.1M163.6 132.2L168.0 137.3M168.0 137.3L166.5 140.9M156.3 140.9L166.5 140.9M156.3 140.9L156.3 149.0M166.5 140.9L169.4 146.8M181.1 135.8L182.6 140.2M181.1 135.8L188.4 138.8M182.6 140.2L188.4 138.8M188.4 138.8L192.8 132.9M188.4 138.8L189.9 144.6M200.1 138.0L198.6 143.9M200.1 138.0L204.5 143.9M198.6 143.9L204.5 143.9M198.6 143.9L197.2 151.9M189.9 144.6L186.9 151.9M189.9 144.6L184.0 151.2M204.5 143.9L211.8 140.2M213.2 132.9L211.8 140.2M222.0 138.8L217.6 143.9M222.0 138.8L226.4 143.1M222.0 138.8L230.0 137.3M217.6 143.9L211.8 140.2M217.6 143.9L211.8 150.4M226.4 143.1L226.4 149.0M226.4 143.1L230.0 137.3M226.4 143.1L230.0 148.2M156.3 149.0L158.5 155.5M169.4 146.8L173.8 149.0M169.4 146.8L166.5 151.2M173.8 149.0L166.5 151.2M173.8 149.0L176.7 156.3M166.5 151.2L165.0 159.2M158.5 155.5L165.0 159.2M158.5 155.5L154.8 161.4M165.0 159.2L167.2 165.8M154.8 161.4L145.3 161.4M154.8 161.4L151.9 168.7M186.9 151.9L184.0 151.2M197.2 151.9L198.6 157.7M198.6 157.7L206.6 158.5M198.6 157.7L196.4 165.0M206.6 158.5L213.2 156.3M206.6 158.5L213.2 166.5M211.8 150.4L213.2 156.3M220.5 154.1L224.9 154.8M220.5 154.1L213.2 156.3M220.5 154.1L226.4 149.0M224.9 154.8L226.4 149.0M224.9 154.8L230.0 148.2M213.2 156.3L213.2 166.5M226.4 149.0L230.0 148.2M176.7 156.3L175.3 160.7M145.3 161.4L151.9 168.7M151.9 168.7L153.4 173.8M153.4 173.8L162.8 170.9M140.9 173.8L135.8 176.0M140.9 173.8L143.1 185.5M167.2 165.8L176.0 170.9M167.2 165.8L162.8 170.9M176.0 170.9L182.6 165.0M182.6 165.0L175.3 160.7M184.0 179.6L194.2 185.5M194.2 185.5L203.7 178.2M234.4 132.9L238.8 137.3M234.4 132.9L230.0 137.3M238.8 137.3L243.1 141.7M247.5 135.8L243.1 141.7M243.1 141.7L243.1 149.0M243.1 141.7L248.2 146.1M254.8 131.5L259.9 135.8M259.9 135.8L257.0 142.4M257.0 142.4L254.1 146.8M279.6 136.6L286.9 138.8M286.9 131.5L286.9 138.8M286.9 138.8L296.4 140.9M286.9 138.8L289.9 146.1M296.4 140.9L289.9 146.1M243.1 149.0L248.2 146.1M254.1 146.8L260.7 152.6M254.1 146.8L248.2 146.1M260.7 152.6L255.5 159.9M260.7 152.6L264.3 150.4M268.7 158.5L264.3 150.4M268.7 158.5L269.4 166.5M289.9 146.1L284.0 151.9M289.9 146.1L295.0 151.9M295.0 151.9L300.8 156.3M300.8 156.3L291.3 162.8M300.8 156.3L304.5 165.8M269.4 166.5L263.6 171.6M281.1 170.1L275.3 179.6M281.1 170.1L286.2 177.4M304.5 165.8L302.3 172.3M302.3 172.3L295.0 177.4M286.2 177.4L295.0 177.4M286.2 177.4L290.6 184.7M295.0 177.4L290.6 184.7M290.6 184.7L283.3 191.3" stroke="#000" stroke-opacity="0.35" stroke-width="1.8" fill="none"/>
<path d="M442.6 75.8L452.8 68.5M452.8 68.5L462.3 75.0M462.3 75.0L464.5 81.6M462.3 75.0L469.6 80.1M445.5 94.0L453.6 84.5M464.5 81.6L459.4 83.8M464.5 81.6L469.6 80.1M460.9 89.6L453.6 84.5M460.9 89.6L459.4 83.8M460.9 89.6L466.7 95.5M460.9 89.6L459.4 99.1M473.3 94.0L466.7 95.5M473.3 94.0L475.5 90.4M473.3 94.0L478.4 91.1M499.6 65.5L498.8 73.6M499.6 65.5L503.2 66.3M499.6 65.5L498.5 60.8M499.6 65.5L498.5 73.0M501.0 56.1L506.1 53.9M501.0 56.1L506.4 53.8M501.0 56.1L498.5 60.8M506.1 53.9L504.7 48.0M506.1 53.9L507.6 59.7M506.1 53.9L504.6 47.6M506.1 53.9L500.7 56.0M516.4 59.0L519.3 56.1M516.4 59.0L521.5 54.6M516.4 59.0L513.4 56.4M516.4 59.0L520.4 54.6M519.3 56.1L513.4 56.4M519.3 56.1L516.5 59.5M504.7 48.0L512.0 48.8M504.7 48.0L512.1 48.9M504.7 48.0L506.4 53.8M512.0 48.8L517.1 47.3M512.0 48.8L504.6 47.6M512.0 48.8L517.3 47.2M517.1 47.3L512.1 48.9M517.1 47.3L520.4 54.6M507.6 59.7L506.4 53.8M507.6 59.7L507.3 64.3M507.6 59.7L511.6 65.1M453.6 84.5L459.4 83.8M469.6 80.1L477.7 82.3M466.7 95.5L459.4 99.1M472.6 104.2L471.8 108.6M472.6 104.2L471.1 111.5M463.8 109.3L471.8 108.6M463.8 109.3L471.1 111.5M471.8 108.6L470.4 115.9M482.0 113.0L482.8 119.5M493.0 71.4L498.8 73.6M493.0 71.4L498.5 73.0M498.8 73.6L500.3 66.0M510.5 72.8L510.5 66.3M510.5 72.8L511.6 65.1M506.1 80.1L498.8 83.8M506.1 80.1L507.6 88.2M498.8 83.8L501.8 91.1M498.8 83.8L505.5 80.0M507.6 88.2L514.9 90.4M507.6 88.2L501.8 91.1M507.6 88.2L505.5 80.0M501.8 91.1L495.9 94.0M495.9 94.0L491.5 88.2M495.9 94.0L490.1 95.5M507.6 99.9L510.5 107.2M510.5 107.2L510.5 111.5M498.8 115.9L510.5 111.5M475.5 90.4L477.7 82.3M475.5 90.4L478.4 91.1M487.2 78.7L481.3 83.8M487.2 78.7L488.6 83.8M481.3 83.8L488.6 83.8M481.3 83.8L477.7 82.3M481.3 83.8L478.4 91.1M488.6 83.8L491.5 88.2M488.6 83.8L487.2 89.6M488.6 83.8L486.4 91.1M491.5 88.2L487.2 89.6M491.5 88.2L486.4 91.1M487.2 89.6L490.1 95.5M490.1 95.5L486.4 91.1M503.2 66.3L506.0 61.2M503.2 66.3L507.3 64.3M510.5 66.3L506.0 61.2M510.5 66.3L507.3 64.3M510.5 66.3L510.8 72.2M470.4 115.9L463.8 111.5M470.4 115.9L471.1 111.5M470.4 115.9L469.6 119.5M470.4 115.9L473.3 123.9M521.5 54.6L529.5 53.9M521.5 54.6L516.5 59.5M521.5 54.6L529.2 54.2M533.1 50.9L529.5 53.9M533.1 50.9L529.2 54.2M533.1 50.9L537.0 57.7M529.5 53.9L532.7 51.1M536.8 58.2L542.6 58.2M536.8 58.2L537.5 63.4M536.8 58.2L542.3 57.7M536.8 58.2L537.0 63.4M542.6 58.2L545.5 64.1M542.6 58.2L537.0 57.7M542.6 58.2L544.9 64.3M537.5 63.4L537.0 57.7M537.5 63.4L538.8 69.5M537.5 63.4L533.5 67.8M545.5 64.1L545.5 67.7M545.5 64.1L545.8 67.8M528.8 66.3L537.0 63.4M528.8 66.3L533.5 67.8M538.2 70.7L536.1 78.7M538.2 70.7L535.3 75.0M538.2 70.7L533.5 67.8M538.2 70.7L536.2 75.7M545.5 67.7L544.9 64.3M545.5 67.7L538.8 69.5M545.5 67.7L551.9 72.2M546.3 78.7L553.6 72.8M546.3 78.7L551.9 72.2M562.3 86.7L571.1 88.9M562.3 86.7L559.4 94.7M571.1 88.9L572.6 94.7M571.1 88.9L578.4 91.8M559.4 94.7L553.6 96.2M559.4 94.7L562.3 100.6M572.6 94.7L578.4 91.8M572.6 94.7L576.2 100.6M572.6 94.7L568.2 101.3M578.4 91.8L584.2 92.6M578.4 91.8L585.7 91.1M566.0 103.5L568.2 101.3M566.0 103.5L562.3 100.6M576.2 100.6L579.9 106.4M576.2 100.6L568.2 101.3M579.9 106.4L587.2 99.1M584.2 92.6L587.2 99.1M553.6 72.8L545.8 67.8M553.6 72.8L546.7 78.3M585.7 91.1L593.7 93.3M585.7 91.1L587.2 99.1M593.7 93.3L587.2 99.1M587.2 99.1L591.5 104.2M568.2 101.3L562.3 100.6M526.6 64.8L530.0 66.0M526.6 64.8L533.5 67.8M536.1 78.7L535.3 75.0M536.1 78.7L544.9 80.9M535.3 75.0L535.3 79.2M546.3 81.6L541.9 91.1M546.3 81.6L546.7 78.3M541.9 91.1L537.5 91.8M537.5 91.8L528.8 95.5M553.6 96.2L562.3 100.6M528.8 95.5L524.4 101.3M528.8 95.5L521.5 102.8M524.4 101.3L521.5 102.8M539.7 102.8L544.1 107.9M539.7 102.8L543.8 110.0M544.1 107.9L540.4 113.7M544.1 107.9L540.9 113.6M530.9 107.9L530.9 113.0M530.9 107.9L530.7 112.2M530.9 113.0L540.4 113.7M540.4 113.7L530.7 112.2M540.4 113.7L539.4 121.7M540.4 113.7L543.8 110.0M548.5 116.6L540.9 113.6M548.5 116.6L548.2 124.6M548.5 116.6L543.8 110.0M446.3 117.3L442.0 118.0M446.3 117.3L452.0 115.0M446.3 117.3L446.0 122.0M455.0 117.3L456.5 121.7M455.0 117.3L452.0 115.0M455.0 117.3L456.0 122.0M440.4 121.7L442.0 118.0M440.4 121.7L446.0 122.0M440.4 121.7L443.0 128.0M447.7 126.1L443.4 129.0M447.7 126.1L446.0 122.0M447.7 126.1L443.0 128.0M443.4 129.0L448.0 128.0M443.4 129.0L445.0 133.0M449.2 132.6L448.0 128.0M449.2 132.6L453.0 131.0M449.2 132.6L445.0 133.0M458.0 131.9L453.0 131.0M458.0 131.9L458.0 128.0M458.0 131.9L455.0 134.0M462.3 128.2L465.3 123.1M462.3 128.2L462.0 124.0M462.3 128.2L458.0 128.0M462.3 128.2L460.0 133.0M455.8 126.1L456.5 121.7M455.8 126.1L456.0 122.0M455.8 126.1L460.0 127.0M476.9 145.0L482.8 149.4M476.9 145.0L471.1 145.0M463.8 149.4L458.7 158.2M463.8 149.4L456.5 145.0M463.8 149.4L471.1 145.0M458.7 158.2L455.0 151.6M472.6 155.3L471.8 160.4M472.6 155.3L476.9 156.7M471.8 160.4L466.0 169.9M471.8 160.4L476.9 156.7M482.8 149.4L485.0 140.7M482.8 149.4L490.1 148.7M488.6 159.6L493.0 156.7M488.6 159.6L484.2 166.2M493.0 156.7L500.3 158.2M493.0 156.7L490.1 148.7M500.3 158.2L501.5 165.5M499.6 166.9L504.7 165.5M499.6 166.9L494.5 170.6M499.6 166.9L504.4 172.8M504.7 165.5L510.5 162.6M504.7 165.5L506.1 172.8M504.7 165.5L501.5 158.2M504.7 165.5L501.5 165.5M504.7 165.5L510.2 162.6M504.7 165.5L504.4 172.8M510.5 162.6L514.9 166.2M510.5 162.6L514.6 166.9M514.9 166.2L517.5 168.4M514.9 166.2L510.2 162.6M506.1 172.8L501.8 177.2M506.1 172.8L502.9 177.9M501.8 177.2L504.4 172.8M512.7 178.6L517.8 174.2M512.7 178.6L512.0 183.0M512.7 178.6L519.0 174.2M512.7 178.6L514.6 181.5M517.8 174.2L517.5 168.4M517.8 174.2L514.6 166.9M517.8 174.2L514.6 181.5M512.0 183.0L514.6 181.5M428.0 148.7L436.1 151.6M436.1 151.6L432.4 159.6M436.1 151.6L441.9 144.3M436.1 151.6L445.5 154.5M441.9 144.3L449.2 144.3M449.2 144.3L456.5 145.0M456.5 145.0L455.0 151.6M445.5 154.5L445.5 161.1M484.2 166.2L490.1 172.8M490.1 172.8L494.5 170.6M463.8 111.5L471.1 111.5M463.8 111.5L461.0 119.0M471.1 111.5L481.3 112.9M481.3 112.9L482.8 119.5M469.6 119.5L465.3 123.1M469.6 119.5L473.3 123.9M465.3 123.1L473.3 123.9M465.3 123.1L462.0 124.0M479.9 131.9L485.7 130.4M479.9 131.9L488.6 137.0M485.7 130.4L488.6 137.0M488.6 137.0L485.0 140.7M488.6 137.0L495.9 134.1M495.9 134.1L498.8 133.4M495.9 134.1L502.9 131.9M498.8 133.4L506.1 134.8M498.8 133.4L502.9 131.9M506.1 134.8L512.0 130.4M506.1 134.8L502.9 131.9M506.1 134.8L502.9 140.7M509.1 126.1L512.0 130.4M509.1 126.1L516.4 126.1M509.1 126.1L511.7 129.0M512.0 130.4L516.4 126.1M512.0 130.4L507.3 127.5M516.4 126.1L511.7 129.0M516.4 126.1L517.5 123.1M514.9 140.7L509.8 142.1M514.9 140.7L520.4 145.0M514.9 140.7L508.8 142.1M509.8 142.1L503.2 142.8M509.8 142.1L516.1 139.9M509.8 142.1L502.9 140.7M503.2 142.8L498.8 148.7M503.2 142.8L508.8 142.1M503.2 142.8L500.0 148.0M498.8 148.7L490.1 148.7M516.4 153.8L520.4 145.0M500.3 115.8L510.5 111.5M510.5 111.5L501.5 115.8M456.5 121.7L457.0 116.0M456.5 121.7L461.0 119.0M456.5 121.7L456.0 125.0M540.9 113.6L548.2 116.6M540.9 113.6L539.4 121.7M540.9 113.6L543.8 110.0M548.2 116.6L548.2 124.6M548.2 116.6L543.8 110.0M533.6 124.6L539.4 121.7M548.2 124.6L552.6 131.2M543.8 133.4L542.3 142.1M543.8 133.4L552.6 131.2M536.5 139.2L530.7 137.0M536.5 139.2L530.7 146.5M536.5 139.2L542.3 142.1M530.7 137.0L524.8 133.4M530.7 137.0L523.4 140.7M524.8 133.4L523.4 140.7M516.1 139.9L520.4 145.0M516.1 139.9L523.4 140.7M520.4 145.0L523.4 140.7M520.4 145.0L519.0 153.8M523.4 140.7L530.7 146.5M507.3 127.5L511.7 129.0M507.3 127.5L502.9 131.9M511.7 129.0L517.5 123.1M502.9 140.7L508.8 142.1M502.9 140.7L500.0 148.0M549.6 140.7L542.3 142.1M549.6 140.7L558.4 139.2M549.6 140.7L552.6 148.7M517.5 168.4L514.6 166.9M517.5 168.4L519.0 174.2M559.9 120.9L564.2 120.2M559.9 120.9L558.4 131.2M564.2 120.2L574.5 116.6M552.6 131.2L558.4 131.2M558.4 131.2L564.2 131.9M558.4 131.2L558.4 139.2M564.2 131.9L570.1 129.0M552.6 148.7L543.8 153.1M501.5 158.2L501.5 165.5M510.2 162.6L514.6 166.9M504.4 172.8L502.9 177.9M519.0 174.2L527.7 174.2M527.7 174.2L533.6 176.4M533.6 176.4L535.0 185.9M514.6 181.5L521.9 187.4M521.9 187.4L525.5 184.5M525.5 184.5L535.0 185.9M535.0 185.9L534.3 194.7M504.6 47.6L506.4 53.8M512.1 48.9L517.3 47.2M517.3 47.2L520.4 54.6M500.7 56.0L506.4 53.8M500.7 56.0L498.5 60.8M513.4 56.4L520.4 54.6M513.4 56.4L516.5 59.5M506.0 61.2L507.3 64.3M506.0 61.2L511.6 65.1M500.3 66.0L498.5 60.8M500.3 66.0L507.3 64.3M500.3 66.0L498.5 73.0M520.4 54.6L516.5 59.5M507.3 64.3L511.6 65.1M511.6 65.1L510.8 72.2M532.7 51.1L529.2 54.2M532.7 51.1L537.0 57.7M537.0 57.7L542.3 57.7M537.0 57.7L537.0 63.4M542.3 57.7L544.9 64.3M537.0 63.4L538.8 69.5M537.0 63.4L530.0 66.0M537.0 63.4L533.5 67.8M537.0 63.4L527.4 65.1M544.9 64.3L545.8 67.8M545.8 67.8L538.8 69.5M545.8 67.8L551.9 72.2M538.8 69.5L533.5 67.8M538.8 69.5L536.2 75.7M530.0 66.0L533.5 67.8M533.5 67.8L527.4 65.1M546.7 78.3L544.9 80.9M546.7 78.3L551.9 72.2M536.2 75.7L535.3 79.2M442.0 118.0L447.0 116.0M442.0 118.0L441.0 123.0M447.0 116.0L452.0 115.0M447.0 116.0L446.0 122.0M452.0 115.0L457.0 116.0M457.0 116.0L461.0 119.0M461.0 119.0L456.0 122.0M461.0 119.0L462.0 124.0M441.0 123.0L446.0 122.0M441.0 123.0L443.0 128.0M462.0 124.0L463.0 129.0M462.0 124.0L460.0 127.0M443.0 128.0L448.0 128.0M453.0 131.0L450.0 134.0M453.0 131.0L455.0 134.0M458.0 128.0L456.0 125.0M463.0 129.0L460.0 133.0M463.0 129.0L460.0 127.0M445.0 133.0L450.0 134.0M450.0 134.0L455.0 134.0M455.0 134.0L460.0 133.0M456.0 125.0L460.0 127.0M442.6 75.8L445.5 94.0M445.5 94.0L460.9 117.4M464.5 77.2L497.4 64.8M428.0 148.7L443.4 133.4M534.9 89.4L560.6 89.4" stroke="#000" stroke-width="2.2" fill="none"/>
<circle cx="442.6" cy="75.8" r="4.0" fill="#48bdd6"/>
<circle cx="452.8" cy="68.5" r="4.0" fill="#48bdd6"/>
<circle cx="462.3" cy="75.0" r="4.0" fill="#48bdd6"/>
<circle cx="465.1" cy="76.7" r="4.0" fill="#48bdd6"/>
<circle cx="445.5" cy="94.0" r="4.0" fill="#48bdd6"/>
<circle cx="464.5" cy="81.6" r="4.0" fill="#48bdd6"/>
<circle cx="460.9" cy="89.6" r="4.0" fill="#48bdd6"/>
<circle cx="473.3" cy="94.0" r="4.0" fill="#48bdd6"/>
<circle cx="470.8" cy="92.0" r="4.0" fill="#48bdd6"/>
<circle cx="499.6" cy="65.5" r="4.0" fill="#48bdd6"/>
<circle cx="501.0" cy="56.1" r="4.0" fill="#48bdd6"/>
<circle cx="506.1" cy="53.9" r="4.0" fill="#48bdd6"/>
<circle cx="503.2" cy="55.2" r="4.0" fill="#48bdd6"/>
<circle cx="516.4" cy="59.0" r="4.0" fill="#48bdd6"/>
<circle cx="515.8" cy="55.8" r="4.0" fill="#48bdd6"/>
<circle cx="519.3" cy="56.1" r="4.0" fill="#48bdd6"/>
<circle cx="504.7" cy="48.0" r="4.0" fill="#2b5a62"/>
<circle cx="512.0" cy="48.8" r="4.0" fill="#2b5a62"/>
<circle cx="517.1" cy="47.3" r="4.0" fill="#2b5a62"/>
<circle cx="516.7" cy="50.5" r="4.0" fill="#2b5a62"/>
<circle cx="507.6" cy="59.7" r="4.0" fill="#2b5a62"/>
<circle cx="510.7" cy="60.3" r="4.0" fill="#2b5a62"/>
<circle cx="453.6" cy="84.5" r="4.0" fill="#7444a0"/>
<circle cx="459.4" cy="83.8" r="4.0" fill="#7444a0"/>
<circle cx="457.1" cy="86.0" r="4.0" fill="#7444a0"/>
<circle cx="469.6" cy="80.1" r="4.0" fill="#7444a0"/>
<circle cx="466.7" cy="95.5" r="4.0" fill="#7444a0"/>
<circle cx="459.4" cy="99.1" r="4.0" fill="#7444a0"/>
<circle cx="472.6" cy="104.2" r="4.0" fill="#7444a0"/>
<circle cx="475.7" cy="104.7" r="4.0" fill="#7444a0"/>
<circle cx="463.8" cy="109.3" r="4.0" fill="#7444a0"/>
<circle cx="465.9" cy="111.8" r="4.0" fill="#7444a0"/>
<circle cx="471.8" cy="108.6" r="4.0" fill="#7444a0"/>
<circle cx="482.0" cy="113.0" r="4.0" fill="#7444a0"/>
<circle cx="493.0" cy="71.4" r="4.0" fill="#7444a0"/>
<circle cx="498.8" cy="73.6" r="4.0" fill="#7444a0"/>
<circle cx="501.3" cy="71.6" r="4.0" fill="#7444a0"/>
<circle cx="510.5" cy="72.8" r="4.0" fill="#7444a0"/>
<circle cx="506.1" cy="80.1" r="4.0" fill="#7444a0"/>
<circle cx="498.8" cy="83.8" r="4.0" fill="#7444a0"/>
<circle cx="507.6" cy="88.2" r="4.0" fill="#7444a0"/>
<circle cx="514.9" cy="90.4" r="4.0" fill="#7444a0"/>
<circle cx="501.8" cy="91.1" r="4.0" fill="#7444a0"/>
<circle cx="504.9" cy="90.7" r="4.0" fill="#7444a0"/>
<circle cx="495.9" cy="94.0" r="4.0" fill="#7444a0"/>
<circle cx="507.6" cy="99.9" r="4.0" fill="#7444a0"/>
<circle cx="507.7" cy="96.7" r="4.0" fill="#7444a0"/>
<circle cx="510.5" cy="107.2" r="4.0" fill="#7444a0"/>
<circle cx="498.8" cy="115.9" r="4.0" fill="#7444a0"/>
<circle cx="475.5" cy="90.4" r="4.0" fill="#7444a0"/>
<circle cx="487.2" cy="78.7" r="4.0" fill="#7444a0"/>
<circle cx="481.3" cy="83.8" r="4.0" fill="#7444a0"/>
<circle cx="488.6" cy="83.8" r="4.0" fill="#7444a0"/>
<circle cx="491.5" cy="88.2" r="4.0" fill="#7444a0"/>
<circle cx="487.2" cy="89.6" r="4.0" fill="#7444a0"/>
<circle cx="489.5" cy="87.5" r="4.0" fill="#7444a0"/>
<circle cx="490.1" cy="95.5" r="4.0" fill="#7444a0"/>
<circle cx="503.2" cy="66.3" r="4.0" fill="#7444a0"/>
<circle cx="510.5" cy="66.3" r="4.0" fill="#7444a0"/>
<circle cx="470.4" cy="115.9" r="4.0" fill="#7444a0"/>
<circle cx="477.7" cy="82.3" r="4.0" fill="#4b3060"/>
<circle cx="478.4" cy="91.1" r="4.0" fill="#4b3060"/>
<circle cx="486.4" cy="91.1" r="4.0" fill="#4b3060"/>
<circle cx="485.0" cy="93.9" r="4.0" fill="#4b3060"/>
<circle cx="521.5" cy="54.6" r="4.0" fill="#48bdd6"/>
<circle cx="533.1" cy="50.9" r="4.0" fill="#48bdd6"/>
<circle cx="535.8" cy="49.2" r="4.0" fill="#48bdd6"/>
<circle cx="529.5" cy="53.9" r="4.0" fill="#48bdd6"/>
<circle cx="532.2" cy="52.2" r="4.0" fill="#48bdd6"/>
<circle cx="536.8" cy="58.2" r="4.0" fill="#48bdd6"/>
<circle cx="539.9" cy="57.4" r="4.0" fill="#48bdd6"/>
<circle cx="542.6" cy="58.2" r="4.0" fill="#48bdd6"/>
<circle cx="537.5" cy="63.4" r="4.0" fill="#48bdd6"/>
<circle cx="545.5" cy="64.1" r="4.0" fill="#48bdd6"/>
<circle cx="528.8" cy="66.3" r="4.0" fill="#48bdd6"/>
<circle cx="538.2" cy="70.7" r="4.0" fill="#48bdd6"/>
<circle cx="545.5" cy="67.7" r="4.0" fill="#48bdd6"/>
<circle cx="546.4" cy="70.8" r="4.0" fill="#48bdd6"/>
<circle cx="546.3" cy="78.7" r="4.0" fill="#48bdd6"/>
<circle cx="562.3" cy="86.7" r="4.0" fill="#48bdd6"/>
<circle cx="571.1" cy="88.9" r="4.0" fill="#48bdd6"/>
<circle cx="559.4" cy="94.7" r="4.0" fill="#48bdd6"/>
<circle cx="560.8" cy="91.9" r="4.0" fill="#48bdd6"/>
<circle cx="572.6" cy="94.7" r="4.0" fill="#48bdd6"/>
<circle cx="578.4" cy="91.8" r="4.0" fill="#48bdd6"/>
<circle cx="566.0" cy="103.5" r="4.0" fill="#48bdd6"/>
<circle cx="565.9" cy="100.3" r="4.0" fill="#48bdd6"/>
<circle cx="576.2" cy="100.6" r="4.0" fill="#48bdd6"/>
<circle cx="574.4" cy="98.0" r="4.0" fill="#48bdd6"/>
<circle cx="579.9" cy="106.4" r="4.0" fill="#48bdd6"/>
<circle cx="580.3" cy="109.6" r="4.0" fill="#48bdd6"/>
<circle cx="584.2" cy="92.6" r="4.0" fill="#48bdd6"/>
<circle cx="553.6" cy="72.8" r="4.0" fill="#2b5a62"/>
<circle cx="550.4" cy="72.4" r="4.0" fill="#2b5a62"/>
<circle cx="585.7" cy="91.1" r="4.0" fill="#2b5a62"/>
<circle cx="593.7" cy="93.3" r="4.0" fill="#2b5a62"/>
<circle cx="594.5" cy="96.4" r="4.0" fill="#2b5a62"/>
<circle cx="587.2" cy="99.1" r="4.0" fill="#2b5a62"/>
<circle cx="591.5" cy="104.2" r="4.0" fill="#2b5a62"/>
<circle cx="590.9" cy="101.1" r="4.0" fill="#2b5a62"/>
<circle cx="568.2" cy="101.3" r="4.0" fill="#2b5a62"/>
<circle cx="566.1" cy="103.7" r="4.0" fill="#2b5a62"/>
<circle cx="526.6" cy="64.8" r="4.0" fill="#7444a0"/>
<circle cx="525.1" cy="62.0" r="4.0" fill="#7444a0"/>
<circle cx="536.1" cy="78.7" r="4.0" fill="#7444a0"/>
<circle cx="539.1" cy="77.8" r="4.0" fill="#7444a0"/>
<circle cx="535.3" cy="75.0" r="4.0" fill="#7444a0"/>
<circle cx="534.9" cy="71.9" r="4.0" fill="#7444a0"/>
<circle cx="546.3" cy="81.6" r="4.0" fill="#7444a0"/>
<circle cx="546.2" cy="84.8" r="4.0" fill="#7444a0"/>
<circle cx="541.9" cy="91.1" r="4.0" fill="#7444a0"/>
<circle cx="537.5" cy="91.8" r="4.0" fill="#7444a0"/>
<circle cx="538.8" cy="94.8" r="4.0" fill="#7444a0"/>
<circle cx="553.6" cy="96.2" r="4.0" fill="#7444a0"/>
<circle cx="562.3" cy="100.6" r="4.0" fill="#7444a0"/>
<circle cx="565.4" cy="101.4" r="4.0" fill="#7444a0"/>
<circle cx="528.8" cy="95.5" r="4.0" fill="#7444a0"/>
<circle cx="524.4" cy="101.3" r="4.0" fill="#7444a0"/>
<circle cx="527.5" cy="102.0" r="4.0" fill="#7444a0"/>
<circle cx="521.5" cy="102.8" r="4.0" fill="#7444a0"/>
<circle cx="519.1" cy="100.7" r="4.0" fill="#7444a0"/>
<circle cx="539.7" cy="102.8" r="4.0" fill="#7444a0"/>
<circle cx="544.1" cy="107.9" r="4.0" fill="#7444a0"/>
<circle cx="542.4" cy="110.6" r="4.0" fill="#7444a0"/>
<circle cx="530.9" cy="107.9" r="4.0" fill="#7444a0"/>
<circle cx="527.9" cy="108.9" r="4.0" fill="#7444a0"/>
<circle cx="530.9" cy="113.0" r="4.0" fill="#7444a0"/>
<circle cx="540.4" cy="113.7" r="4.0" fill="#7444a0"/>
<circle cx="548.5" cy="116.6" r="4.0" fill="#7444a0"/>
<circle cx="446.3" cy="117.3" r="4.0" fill="#48bdd6"/>
<circle cx="455.0" cy="117.3" r="4.0" fill="#48bdd6"/>
<circle cx="440.4" cy="121.7" r="4.0" fill="#48bdd6"/>
<circle cx="447.7" cy="126.1" r="4.0" fill="#48bdd6"/>
<circle cx="443.4" cy="129.0" r="4.0" fill="#48bdd6"/>
<circle cx="441.7" cy="126.3" r="4.0" fill="#48bdd6"/>
<circle cx="449.2" cy="132.6" r="4.0" fill="#48bdd6"/>
<circle cx="451.8" cy="134.5" r="4.0" fill="#48bdd6"/>
<circle cx="458.0" cy="131.9" r="4.0" fill="#48bdd6"/>
<circle cx="460.2" cy="129.6" r="4.0" fill="#48bdd6"/>
<circle cx="462.3" cy="128.2" r="4.0" fill="#48bdd6"/>
<circle cx="459.6" cy="126.6" r="4.0" fill="#48bdd6"/>
<circle cx="455.8" cy="126.1" r="4.0" fill="#48bdd6"/>
<circle cx="452.6" cy="125.8" r="4.0" fill="#48bdd6"/>
<circle cx="476.9" cy="145.0" r="4.0" fill="#48bdd6"/>
<circle cx="480.0" cy="144.2" r="4.0" fill="#48bdd6"/>
<circle cx="463.8" cy="149.4" r="4.0" fill="#48bdd6"/>
<circle cx="461.3" cy="147.4" r="4.0" fill="#48bdd6"/>
<circle cx="458.7" cy="158.2" r="4.0" fill="#48bdd6"/>
<circle cx="461.9" cy="158.5" r="4.0" fill="#48bdd6"/>
<circle cx="472.6" cy="155.3" r="4.0" fill="#48bdd6"/>
<circle cx="471.8" cy="160.4" r="4.0" fill="#48bdd6"/>
<circle cx="474.8" cy="161.5" r="4.0" fill="#48bdd6"/>
<circle cx="482.8" cy="149.4" r="4.0" fill="#48bdd6"/>
<circle cx="484.5" cy="152.1" r="4.0" fill="#48bdd6"/>
<circle cx="488.6" cy="159.6" r="4.0" fill="#48bdd6"/>
<circle cx="486.5" cy="157.2" r="4.0" fill="#48bdd6"/>
<circle cx="493.0" cy="156.7" r="4.0" fill="#48bdd6"/>
<circle cx="500.3" cy="158.2" r="4.0" fill="#48bdd6"/>
<circle cx="499.6" cy="166.9" r="4.0" fill="#48bdd6"/>
<circle cx="504.7" cy="165.5" r="4.0" fill="#48bdd6"/>
<circle cx="510.5" cy="162.6" r="4.0" fill="#48bdd6"/>
<circle cx="507.5" cy="163.6" r="4.0" fill="#48bdd6"/>
<circle cx="514.9" cy="166.2" r="4.0" fill="#48bdd6"/>
<circle cx="512.2" cy="164.5" r="4.0" fill="#48bdd6"/>
<circle cx="506.1" cy="172.8" r="4.0" fill="#48bdd6"/>
<circle cx="501.8" cy="177.2" r="4.0" fill="#48bdd6"/>
<circle cx="512.7" cy="178.6" r="4.0" fill="#48bdd6"/>
<circle cx="517.8" cy="174.2" r="4.0" fill="#48bdd6"/>
<circle cx="515.0" cy="175.7" r="4.0" fill="#48bdd6"/>
<circle cx="512.0" cy="183.0" r="4.0" fill="#48bdd6"/>
<circle cx="428.0" cy="148.7" r="4.0" fill="#2b5a62"/>
<circle cx="431.1" cy="149.4" r="4.0" fill="#2b5a62"/>
<circle cx="436.1" cy="151.6" r="4.0" fill="#2b5a62"/>
<circle cx="438.5" cy="153.7" r="4.0" fill="#2b5a62"/>
<circle cx="432.4" cy="159.6" r="4.0" fill="#2b5a62"/>
<circle cx="441.9" cy="144.3" r="4.0" fill="#2b5a62"/>
<circle cx="444.5" cy="146.2" r="4.0" fill="#2b5a62"/>
<circle cx="449.2" cy="144.3" r="4.0" fill="#2b5a62"/>
<circle cx="449.6" cy="147.5" r="4.0" fill="#2b5a62"/>
<circle cx="456.5" cy="145.0" r="4.0" fill="#2b5a62"/>
<circle cx="453.3" cy="144.6" r="4.0" fill="#2b5a62"/>
<circle cx="455.0" cy="151.6" r="4.0" fill="#2b5a62"/>
<circle cx="445.5" cy="154.5" r="4.0" fill="#2b5a62"/>
<circle cx="443.5" cy="152.0" r="4.0" fill="#2b5a62"/>
<circle cx="445.5" cy="161.1" r="4.0" fill="#2b5a62"/>
<circle cx="448.2" cy="159.3" r="4.0" fill="#2b5a62"/>
<circle cx="466.0" cy="169.9" r="4.0" fill="#2b5a62"/>
<circle cx="484.2" cy="166.2" r="4.0" fill="#2b5a62"/>
<circle cx="490.1" cy="172.8" r="4.0" fill="#2b5a62"/>
<circle cx="486.9" cy="172.5" r="4.0" fill="#2b5a62"/>
<circle cx="494.5" cy="170.6" r="4.0" fill="#2b5a62"/>
<circle cx="463.8" cy="111.5" r="4.0" fill="#7444a0"/>
<circle cx="461.0" cy="113.0" r="4.0" fill="#7444a0"/>
<circle cx="471.1" cy="111.5" r="4.0" fill="#7444a0"/>
<circle cx="481.3" cy="112.9" r="4.0" fill="#7444a0"/>
<circle cx="484.0" cy="114.7" r="4.0" fill="#7444a0"/>
<circle cx="482.8" cy="119.5" r="4.0" fill="#7444a0"/>
<circle cx="469.6" cy="119.5" r="4.0" fill="#7444a0"/>
<circle cx="466.5" cy="119.1" r="4.0" fill="#7444a0"/>
<circle cx="465.3" cy="123.1" r="4.0" fill="#7444a0"/>
<circle cx="473.3" cy="123.9" r="4.0" fill="#7444a0"/>
<circle cx="479.9" cy="131.9" r="4.0" fill="#7444a0"/>
<circle cx="483.0" cy="131.6" r="4.0" fill="#7444a0"/>
<circle cx="485.7" cy="130.4" r="4.0" fill="#7444a0"/>
<circle cx="488.9" cy="130.8" r="4.0" fill="#7444a0"/>
<circle cx="488.6" cy="137.0" r="4.0" fill="#7444a0"/>
<circle cx="485.0" cy="140.7" r="4.0" fill="#7444a0"/>
<circle cx="483.9" cy="143.7" r="4.0" fill="#7444a0"/>
<circle cx="495.9" cy="134.1" r="4.0" fill="#7444a0"/>
<circle cx="498.8" cy="133.4" r="4.0" fill="#7444a0"/>
<circle cx="506.1" cy="134.8" r="4.0" fill="#7444a0"/>
<circle cx="503.1" cy="135.8" r="4.0" fill="#7444a0"/>
<circle cx="509.1" cy="126.1" r="4.0" fill="#7444a0"/>
<circle cx="505.9" cy="126.3" r="4.0" fill="#7444a0"/>
<circle cx="512.0" cy="130.4" r="4.0" fill="#7444a0"/>
<circle cx="509.3" cy="128.7" r="4.0" fill="#7444a0"/>
<circle cx="516.4" cy="126.1" r="4.0" fill="#7444a0"/>
<circle cx="515.7" cy="129.2" r="4.0" fill="#7444a0"/>
<circle cx="514.9" cy="140.7" r="4.0" fill="#7444a0"/>
<circle cx="517.8" cy="139.4" r="4.0" fill="#7444a0"/>
<circle cx="509.8" cy="142.1" r="4.0" fill="#7444a0"/>
<circle cx="509.9" cy="138.9" r="4.0" fill="#7444a0"/>
<circle cx="503.2" cy="142.8" r="4.0" fill="#7444a0"/>
<circle cx="500.3" cy="141.5" r="4.0" fill="#7444a0"/>
<circle cx="498.8" cy="148.7" r="4.0" fill="#7444a0"/>
<circle cx="495.7" cy="149.4" r="4.0" fill="#7444a0"/>
<circle cx="490.1" cy="148.7" r="4.0" fill="#7444a0"/>
<circle cx="471.1" cy="145.0" r="4.0" fill="#7444a0"/>
<circle cx="473.4" cy="147.3" r="4.0" fill="#7444a0"/>
<circle cx="476.9" cy="156.7" r="4.0" fill="#7444a0"/>
<circle cx="479.7" cy="158.3" r="4.0" fill="#7444a0"/>
<circle cx="516.4" cy="153.8" r="4.0" fill="#7444a0"/>
<circle cx="500.3" cy="115.8" r="4.0" fill="#4b3060"/>
<circle cx="510.5" cy="111.5" r="4.0" fill="#4b3060"/>
<circle cx="456.5" cy="121.7" r="4.0" fill="#4b3060"/>
<circle cx="530.7" cy="112.2" r="4.0" fill="#7444a0"/>
<circle cx="528.9" cy="109.5" r="4.0" fill="#7444a0"/>
<circle cx="540.9" cy="113.6" r="4.0" fill="#7444a0"/>
<circle cx="548.2" cy="116.6" r="4.0" fill="#7444a0"/>
<circle cx="533.6" cy="124.6" r="4.0" fill="#7444a0"/>
<circle cx="539.4" cy="121.7" r="4.0" fill="#7444a0"/>
<circle cx="536.3" cy="122.5" r="4.0" fill="#7444a0"/>
<circle cx="548.2" cy="124.6" r="4.0" fill="#7444a0"/>
<circle cx="543.8" cy="133.4" r="4.0" fill="#7444a0"/>
<circle cx="540.6" cy="132.8" r="4.0" fill="#7444a0"/>
<circle cx="536.5" cy="139.2" r="4.0" fill="#7444a0"/>
<circle cx="530.7" cy="137.0" r="4.0" fill="#7444a0"/>
<circle cx="524.8" cy="133.4" r="4.0" fill="#7444a0"/>
<circle cx="516.1" cy="139.9" r="4.0" fill="#7444a0"/>
<circle cx="520.4" cy="145.0" r="4.0" fill="#7444a0"/>
<circle cx="523.4" cy="140.7" r="4.0" fill="#7444a0"/>
<circle cx="523.7" cy="143.8" r="4.0" fill="#7444a0"/>
<circle cx="507.3" cy="127.5" r="4.0" fill="#7444a0"/>
<circle cx="511.7" cy="129.0" r="4.0" fill="#7444a0"/>
<circle cx="508.8" cy="130.4" r="4.0" fill="#7444a0"/>
<circle cx="502.9" cy="131.9" r="4.0" fill="#7444a0"/>
<circle cx="502.9" cy="140.7" r="4.0" fill="#7444a0"/>
<circle cx="508.8" cy="142.1" r="4.0" fill="#7444a0"/>
<circle cx="500.0" cy="148.0" r="4.0" fill="#7444a0"/>
<circle cx="549.6" cy="140.7" r="4.0" fill="#7444a0"/>
<circle cx="547.7" cy="143.2" r="4.0" fill="#7444a0"/>
<circle cx="519.0" cy="153.8" r="4.0" fill="#7444a0"/>
<circle cx="517.5" cy="168.4" r="4.0" fill="#7444a0"/>
<circle cx="514.7" cy="170.0" r="4.0" fill="#7444a0"/>
<circle cx="501.5" cy="115.8" r="4.0" fill="#4b3060"/>
<circle cx="504.2" cy="117.5" r="4.0" fill="#4b3060"/>
<circle cx="517.5" cy="123.1" r="4.0" fill="#4b3060"/>
<circle cx="530.7" cy="146.5" r="4.0" fill="#4b3060"/>
<circle cx="542.3" cy="142.1" r="4.0" fill="#4b3060"/>
<circle cx="543.8" cy="110.0" r="4.0" fill="#4b3060"/>
<circle cx="542.9" cy="113.1" r="4.0" fill="#4b3060"/>
<circle cx="559.9" cy="120.9" r="4.0" fill="#2b5a62"/>
<circle cx="558.3" cy="118.1" r="4.0" fill="#2b5a62"/>
<circle cx="564.2" cy="120.2" r="4.0" fill="#2b5a62"/>
<circle cx="574.5" cy="116.6" r="4.0" fill="#2b5a62"/>
<circle cx="571.3" cy="116.1" r="4.0" fill="#2b5a62"/>
<circle cx="552.6" cy="131.2" r="4.0" fill="#2b5a62"/>
<circle cx="549.5" cy="130.4" r="4.0" fill="#2b5a62"/>
<circle cx="558.4" cy="131.2" r="4.0" fill="#2b5a62"/>
<circle cx="564.2" cy="131.9" r="4.0" fill="#2b5a62"/>
<circle cx="570.1" cy="129.0" r="4.0" fill="#2b5a62"/>
<circle cx="566.9" cy="128.6" r="4.0" fill="#2b5a62"/>
<circle cx="558.4" cy="139.2" r="4.0" fill="#2b5a62"/>
<circle cx="552.6" cy="148.7" r="4.0" fill="#48bdd6"/>
<circle cx="555.1" cy="146.7" r="4.0" fill="#48bdd6"/>
<circle cx="543.8" cy="153.1" r="4.0" fill="#48bdd6"/>
<circle cx="501.5" cy="158.2" r="4.0" fill="#48bdd6"/>
<circle cx="501.5" cy="165.5" r="4.0" fill="#48bdd6"/>
<circle cx="504.7" cy="165.4" r="4.0" fill="#48bdd6"/>
<circle cx="510.2" cy="162.6" r="4.0" fill="#48bdd6"/>
<circle cx="514.6" cy="166.9" r="4.0" fill="#48bdd6"/>
<circle cx="504.4" cy="172.8" r="4.0" fill="#48bdd6"/>
<circle cx="501.4" cy="173.9" r="4.0" fill="#48bdd6"/>
<circle cx="502.9" cy="177.9" r="4.0" fill="#48bdd6"/>
<circle cx="500.3" cy="176.1" r="4.0" fill="#48bdd6"/>
<circle cx="519.0" cy="174.2" r="4.0" fill="#48bdd6"/>
<circle cx="527.7" cy="174.2" r="4.0" fill="#48bdd6"/>
<circle cx="524.5" cy="174.0" r="4.0" fill="#48bdd6"/>
<circle cx="533.6" cy="176.4" r="4.0" fill="#48bdd6"/>
<circle cx="514.6" cy="181.5" r="4.0" fill="#48bdd6"/>
<circle cx="513.8" cy="178.4" r="4.0" fill="#48bdd6"/>
<circle cx="521.9" cy="187.4" r="4.0" fill="#48bdd6"/>
<circle cx="525.5" cy="184.5" r="4.0" fill="#48bdd6"/>
<circle cx="535.0" cy="185.9" r="4.0" fill="#48bdd6"/>
<circle cx="534.3" cy="194.7" r="4.0" fill="#48bdd6"/>
<circle cx="504.6" cy="47.6" r="4.0" fill="#2b5a62"/>
<circle cx="512.1" cy="48.9" r="4.0" fill="#2b5a62"/>
<circle cx="517.3" cy="47.2" r="4.0" fill="#2b5a62"/>
<circle cx="500.7" cy="56.0" r="4.0" fill="#2b5a62"/>
<circle cx="506.4" cy="53.8" r="4.0" fill="#2b5a62"/>
<circle cx="513.4" cy="56.4" r="4.0" fill="#2b5a62"/>
<circle cx="506.0" cy="61.2" r="4.0" fill="#2b5a62"/>
<circle cx="500.3" cy="66.0" r="4.0" fill="#48bdd6"/>
<circle cx="520.4" cy="54.6" r="4.0" fill="#48bdd6"/>
<circle cx="516.5" cy="59.5" r="4.0" fill="#48bdd6"/>
<circle cx="498.5" cy="60.8" r="4.0" fill="#7444a0"/>
<circle cx="507.3" cy="64.3" r="4.0" fill="#7444a0"/>
<circle cx="511.6" cy="65.1" r="4.0" fill="#7444a0"/>
<circle cx="510.8" cy="72.2" r="4.0" fill="#7444a0"/>
<circle cx="498.5" cy="73.0" r="4.0" fill="#7444a0"/>
<circle cx="505.5" cy="80.0" r="4.0" fill="#7444a0"/>
<circle cx="532.7" cy="51.1" r="4.0" fill="#48bdd6"/>
<circle cx="529.2" cy="54.2" r="4.0" fill="#48bdd6"/>
<circle cx="537.0" cy="57.7" r="4.0" fill="#48bdd6"/>
<circle cx="542.3" cy="57.7" r="4.0" fill="#48bdd6"/>
<circle cx="537.0" cy="63.4" r="4.0" fill="#48bdd6"/>
<circle cx="544.9" cy="64.3" r="4.0" fill="#48bdd6"/>
<circle cx="545.8" cy="67.8" r="4.0" fill="#48bdd6"/>
<circle cx="538.8" cy="69.5" r="4.0" fill="#48bdd6"/>
<circle cx="530.0" cy="66.0" r="4.0" fill="#48bdd6"/>
<circle cx="533.5" cy="67.8" r="4.0" fill="#48bdd6"/>
<circle cx="546.7" cy="78.3" r="4.0" fill="#48bdd6"/>
<circle cx="536.2" cy="75.7" r="4.0" fill="#48bdd6"/>
<circle cx="527.4" cy="65.1" r="4.0" fill="#7444a0"/>
<circle cx="535.3" cy="79.2" r="4.0" fill="#7444a0"/>
<circle cx="544.9" cy="80.9" r="4.0" fill="#7444a0"/>
<circle cx="551.9" cy="72.2" r="4.0" fill="#2b5a62"/>
<circle cx="442.0" cy="118.0" r="4.0" fill="#48bdd6"/>
<circle cx="447.0" cy="116.0" r="4.0" fill="#48bdd6"/>
<circle cx="452.0" cy="115.0" r="4.0" fill="#48bdd6"/>
<circle cx="457.0" cy="116.0" r="4.0" fill="#48bdd6"/>
<circle cx="461.0" cy="119.0" r="4.0" fill="#48bdd6"/>
<circle cx="441.0" cy="123.0" r="4.0" fill="#48bdd6"/>
<circle cx="446.0" cy="122.0" r="4.0" fill="#48bdd6"/>
<circle cx="456.0" cy="122.0" r="4.0" fill="#48bdd6"/>
<circle cx="462.0" cy="124.0" r="4.0" fill="#48bdd6"/>
<circle cx="443.0" cy="128.0" r="4.0" fill="#48bdd6"/>
<circle cx="448.0" cy="128.0" r="4.0" fill="#48bdd6"/>
<circle cx="453.0" cy="131.0" r="4.0" fill="#48bdd6"/>
<circle cx="458.0" cy="128.0" r="4.0" fill="#48bdd6"/>
<circle cx="463.0" cy="129.0" r="4.0" fill="#48bdd6"/>
<circle cx="445.0" cy="133.0" r="4.0" fill="#48bdd6"/>
<circle cx="450.0" cy="134.0" r="4.0" fill="#48bdd6"/>
<circle cx="455.0" cy="134.0" r="4.0" fill="#48bdd6"/>
<circle cx="460.0" cy="133.0" r="4.0" fill="#48bdd6"/>
<circle cx="456.0" cy="125.0" r="4.0" fill="#7444a0"/>
<circle cx="460.0" cy="127.0" r="4.0" fill="#7444a0"/>
<path d="M442.6 75.8L452.8 68.5M452.8 68.5L462.3 75.0M462.3 75.0L464.5 81.6M462.3 75.0L469.6 80.1M445.5 94.0L453.6 84.5M464.5 81.6L459.4 83.8M464.5 81.6L469.6 80.1M460.9 89.6L453.6 84.5M460.9 89.6L459.4 83.8M460.9 89.6L466.7 95.5M460.9 89.6L459.4 99.1M473.3 94.0L466.7 95.5M473.3 94.0L475.5 90.4M473.3 94.0L478.4 91.1M499.6 65.5L498.8 73.6M499.6 65.5L503.2 66.3M499.6 65.5L498.5 60.8M499.6 65.5L498.5 73.0M501.0 56.1L506.1 53.9M501.0 56.1L506.4 53.8M501.0 56.1L498.5 60.8M506.1 53.9L504.7 48.0M506.1 53.9L507.6 59.7M506.1 53.9L504.6 47.6M506.1 53.9L500.7 56.0M516.4 59.0L519.3 56.1M516.4 59.0L521.5 54.6M516.4 59.0L513.4 56.4M516.4 59.0L520.4 54.6M519.3 56.1L513.4 56.4M519.3 56.1L516.5 59.5M504.7 48.0L512.0 48.8M504.7 48.0L512.1 48.9M504.7 48.0L506.4 53.8M512.0 48.8L517.1 47.3M512.0 48.8L504.6 47.6M512.0 48.8L517.3 47.2M517.1 47.3L512.1 48.9M517.1 47.3L520.4 54.6M507.6 59.7L506.4 53.8M507.6 59.7L507.3 64.3M507.6 59.7L511.6 65.1M453.6 84.5L459.4 83.8M469.6 80.1L477.7 82.3M466.7 95.5L459.4 99.1M472.6 104.2L471.8 108.6M472.6 104.2L471.1 111.5M463.8 109.3L471.8 108.6M463.8 109.3L471.1 111.5M471.8 108.6L470.4 115.9M482.0 113.0L482.8 119.5M493.0 71.4L498.8 73.6M493.0 71.4L498.5 73.0M498.8 73.6L500.3 66.0M510.5 72.8L510.5 66.3M510.5 72.8L511.6 65.1M506.1 80.1L498.8 83.8M506.1 80.1L507.6 88.2M498.8 83.8L501.8 91.1M498.8 83.8L505.5 80.0M507.6 88.2L514.9 90.4M507.6 88.2L501.8 91.1M507.6 88.2L505.5 80.0M501.8 91.1L495.9 94.0M495.9 94.0L491.5 88.2M495.9 94.0L490.1 95.5M507.6 99.9L510.5 107.2M510.5 107.2L510.5 111.5M498.8 115.9L510.5 111.5M475.5 90.4L477.7 82.3M475.5 90.4L478.4 91.1M487.2 78.7L481.3 83.8M487.2 78.7L488.6 83.8M481.3 83.8L488.6 83.8M481.3 83.8L477.7 82.3M481.3 83.8L478.4 91.1M488.6 83.8L491.5 88.2M488.6 83.8L487.2 89.6M488.6 83.8L486.4 91.1M491.5 88.2L487.2 89.6M491.5 88.2L486.4 91.1M487.2 89.6L490.1 95.5M490.1 95.5L486.4 91.1M503.2 66.3L506.0 61.2M503.2 66.3L507.3 64.3M510.5 66.3L506.0 61.2M510.5 66.3L507.3 64.3M510.5 66.3L510.8 72.2M470.4 115.9L463.8 111.5M470.4 115.9L471.1 111.5M470.4 115.9L469.6 119.5M470.4 115.9L473.3 123.9M521.5 54.6L529.5 53.9M521.5 54.6L516.5 59.5M521.5 54.6L529.2 54.2M533.1 50.9L529.5 53.9M533.1 50.9L529.2 54.2M533.1 50.9L537.0 57.7M529.5 53.9L532.7 51.1M536.8 58.2L542.6 58.2M536.8 58.2L537.5 63.4M536.8 58.2L542.3 57.7M536.8 58.2L537.0 63.4M542.6 58.2L545.5 64.1M542.6 58.2L537.0 57.7M542.6 58.2L544.9 64.3M537.5 63.4L537.0 57.7M537.5 63.4L538.8 69.5M537.5 63.4L533.5 67.8M545.5 64.1L545.5 67.7M545.5 64.1L545.8 67.8M528.8 66.3L537.0 63.4M528.8 66.3L533.5 67.8M538.2 70.7L536.1 78.7M538.2 70.7L535.3 75.0M538.2 70.7L533.5 67.8M538.2 70.7L536.2 75.7M545.5 67.7L544.9 64.3M545.5 67.7L538.8 69.5M545.5 67.7L551.9 72.2M546.3 78.7L553.6 72.8M546.3 78.7L551.9 72.2M562.3 86.7L571.1 88.9M562.3 86.7L559.4 94.7M571.1 88.9L572.6 94.7M571.1 88.9L578.4 91.8M559.4 94.7L553.6 96.2M559.4 94.7L562.3 100.6M572.6 94.7L578.4 91.8M572.6 94.7L576.2 100.6M572.6 94.7L568.2 101.3M578.4 91.8L584.2 92.6M578.4 91.8L585.7 91.1M566.0 103.5L568.2 101.3M566.0 103.5L562.3 100.6M576.2 100.6L579.9 106.4M576.2 100.6L568.2 101.3M579.9 106.4L587.2 99.1M584.2 92.6L587.2 99.1M553.6 72.8L545.8 67.8M553.6 72.8L546.7 78.3M585.7 91.1L593.7 93.3M585.7 91.1L587.2 99.1M593.7 93.3L587.2 99.1M587.2 99.1L591.5 104.2M568.2 101.3L562.3 100.6M526.6 64.8L530.0 66.0M526.6 64.8L533.5 67.8M536.1 78.7L535.3 75.0M536.1 78.7L544.9 80.9M535.3 75.0L535.3 79.2M546.3 81.6L541.9 91.1M546.3 81.6L546.7 78.3M541.9 91.1L537.5 91.8M537.5 91.8L528.8 95.5M553.6 96.2L562.3 100.6M528.8 95.5L524.4 101.3M528.8 95.5L521.5 102.8M524.4 101.3L521.5 102.8M539.7 102.8L544.1 107.9M539.7 102.8L543.8 110.0M544.1 107.9L540.4 113.7M544.1 107.9L540.9 113.6M530.9 107.9L530.9 113.0M530.9 107.9L530.7 112.2M530.9 113.0L540.4 113.7M540.4 113.7L530.7 112.2M540.4 113.7L539.4 121.7M540.4 113.7L543.8 110.0M548.5 116.6L540.9 113.6M548.5 116.6L548.2 124.6M548.5 116.6L543.8 110.0M446.3 117.3L442.0 118.0M446.3 117.3L452.0 115.0M446.3 117.3L446.0 122.0M455.0 117.3L456.5 121.7M455.0 117.3L452.0 115.0M455.0 117.3L456.0 122.0M440.4 121.7L442.0 118.0M440.4 121.7L446.0 122.0M440.4 121.7L443.0 128.0M447.7 126.1L443.4 129.0M447.7 126.1L446.0 122.0M447.7 126.1L443.0 128.0M443.4 129.0L448.0 128.0M443.4 129.0L445.0 133.0M449.2 132.6L448.0 128.0M449.2 132.6L453.0 131.0M449.2 132.6L445.0 133.0M458.0 131.9L453.0 131.0M458.0 131.9L458.0 128.0M458.0 131.9L455.0 134.0M462.3 128.2L465.3 123.1M462.3 128.2L462.0 124.0M462.3 128.2L458.0 128.0M462.3 128.2L460.0 133.0M455.8 126.1L456.5 121.7M455.8 126.1L456.0 122.0M455.8 126.1L460.0 127.0M476.9 145.0L482.8 149.4M476.9 145.0L471.1 145.0M463.8 149.4L458.7 158.2M463.8 149.4L456.5 145.0M463.8 149.4L471.1 145.0M458.7 158.2L455.0 151.6M472.6 155.3L471.8 160.4M472.6 155.3L476.9 156.7M471.8 160.4L466.0 169.9M471.8 160.4L476.9 156.7M482.8 149.4L485.0 140.7M482.8 149.4L490.1 148.7M488.6 159.6L493.0 156.7M488.6 159.6L484.2 166.2M493.0 156.7L500.3 158.2M493.0 156.7L490.1 148.7M500.3 158.2L501.5 165.5M499.6 166.9L504.7 165.5M499.6 166.9L494.5 170.6M499.6 166.9L504.4 172.8M504.7 165.5L510.5 162.6M504.7 165.5L506.1 172.8M504.7 165.5L501.5 158.2M504.7 165.5L501.5 165.5M504.7 165.5L510.2 162.6M504.7 165.5L504.4 172.8M510.5 162.6L514.9 166.2M510.5 162.6L514.6 166.9M514.9 166.2L517.5 168.4M514.9 166.2L510.2 162.6M506.1 172.8L501.8 177.2M506.1 172.8L502.9 177.9M501.8 177.2L504.4 172.8M512.7 178.6L517.8 174.2M512.7 178.6L512.0 183.0M512.7 178.6L519.0 174.2M512.7 178.6L514.6 181.5M517.8 174.2L517.5 168.4M517.8 174.2L514.6 166.9M517.8 174.2L514.6 181.5M512.0 183.0L514.6 181.5M428.0 148.7L436.1 151.6M436.1 151.6L432.4 159.6M436.1 151.6L441.9 144.3M436.1 151.6L445.5 154.5M441.9 144.3L449.2 144.3M449.2 144.3L456.5 145.0M456.5 145.0L455.0 151.6M445.5 154.5L445.5 161.1M484.2 166.2L490.1 172.8M490.1 172.8L494.5 170.6M463.8 111.5L471.1 111.5M463.8 111.5L461.0 119.0M471.1 111.5L481.3 112.9M481.3 112.9L482.8 119.5M469.6 119.5L465.3 123.1M469.6 119.5L473.3 123.9M465.3 123.1L473.3 123.9M465.3 123.1L462.0 124.0M479.9 131.9L485.7 130.4M479.9 131.9L488.6 137.0M485.7 130.4L488.6 137.0M488.6 137.0L485.0 140.7M488.6 137.0L495.9 134.1M495.9 134.1L498.8 133.4M495.9 134.1L502.9 131.9M498.8 133.4L506.1 134.8M498.8 133.4L502.9 131.9M506.1 134.8L512.0 130.4M506.1 134.8L502.9 131.9M506.1 134.8L502.9 140.7M509.1 126.1L512.0 130.4M509.1 126.1L516.4 126.1M509.1 126.1L511.7 129.0M512.0 130.4L516.4 126.1M512.0 130.4L507.3 127.5M516.4 126.1L511.7 129.0M516.4 126.1L517.5 123.1M514.9 140.7L509.8 142.1M514.9 140.7L520.4 145.0M514.9 140.7L508.8 142.1M509.8 142.1L503.2 142.8M509.8 142.1L516.1 139.9M509.8 142.1L502.9 140.7M503.2 142.8L498.8 148.7M503.2 142.8L508.8 142.1M503.2 142.8L500.0 148.0M498.8 148.7L490.1 148.7M516.4 153.8L520.4 145.0M500.3 115.8L510.5 111.5M510.5 111.5L501.5 115.8M456.5 121.7L457.0 116.0M456.5 121.7L461.0 119.0M456.5 121.7L456.0 125.0M540.9 113.6L548.2 116.6M540.9 113.6L539.4 121.7M540.9 113.6L543.8 110.0M548.2 116.6L548.2 124.6M548.2 116.6L543.8 110.0M533.6 124.6L539.4 121.7M548.2 124.6L552.6 131.2M543.8 133.4L542.3 142.1M543.8 133.4L552.6 131.2M536.5 139.2L530.7 137.0M536.5 139.2L530.7 146.5M536.5 139.2L542.3 142.1M530.7 137.0L524.8 133.4M530.7 137.0L523.4 140.7M524.8 133.4L523.4 140.7M516.1 139.9L520.4 145.0M516.1 139.9L523.4 140.7M520.4 145.0L523.4 140.7M520.4 145.0L519.0 153.8M523.4 140.7L530.7 146.5M507.3 127.5L511.7 129.0M507.3 127.5L502.9 131.9M511.7 129.0L517.5 123.1M502.9 140.7L508.8 142.1M502.9 140.7L500.0 148.0M549.6 140.7L542.3 142.1M549.6 140.7L558.4 139.2M549.6 140.7L552.6 148.7M517.5 168.4L514.6 166.9M517.5 168.4L519.0 174.2M559.9 120.9L564.2 120.2M559.9 120.9L558.4 131.2M564.2 120.2L574.5 116.6M552.6 131.2L558.4 131.2M558.4 131.2L564.2 131.9M558.4 131.2L558.4 139.2M564.2 131.9L570.1 129.0M552.6 148.7L543.8 153.1M501.5 158.2L501.5 165.5M510.2 162.6L514.6 166.9M504.4 172.8L502.9 177.9M519.0 174.2L527.7 174.2M527.7 174.2L533.6 176.4M533.6 176.4L535.0 185.9M514.6 181.5L521.9 187.4M521.9 187.4L525.5 184.5M525.5 184.5L535.0 185.9M535.0 185.9L534.3 194.7M504.6 47.6L506.4 53.8M512.1 48.9L517.3 47.2M517.3 47.2L520.4 54.6M500.7 56.0L506.4 53.8M500.7 56.0L498.5 60.8M513.4 56.4L520.4 54.6M513.4 56.4L516.5 59.5M506.0 61.2L507.3 64.3M506.0 61.2L511.6 65.1M500.3 66.0L498.5 60.8M500.3 66.0L507.3 64.3M500.3 66.0L498.5 73.0M520.4 54.6L516.5 59.5M507.3 64.3L511.6 65.1M511.6 65.1L510.8 72.2M532.7 51.1L529.2 54.2M532.7 51.1L537.0 57.7M537.0 57.7L542.3 57.7M537.0 57.7L537.0 63.4M542.3 57.7L544.9 64.3M537.0 63.4L538.8 69.5M537.0 63.4L530.0 66.0M537.0 63.4L533.5 67.8M537.0 63.4L527.4 65.1M544.9 64.3L545.8 67.8M545.8 67.8L538.8 69.5M545.8 67.8L551.9 72.2M538.8 69.5L533.5 67.8M538.8 69.5L536.2 75.7M530.0 66.0L533.5 67.8M533.5 67.8L527.4 65.1M546.7 78.3L544.9 80.9M546.7 78.3L551.9 72.2M536.2 75.7L535.3 79.2M442.0 118.0L447.0 116.0M442.0 118.0L441.0 123.0M447.0 116.0L452.0 115.0M447.0 116.0L446.0 122.0M452.0 115.0L457.0 116.0M457.0 116.0L461.0 119.0M461.0 119.0L456.0 122.0M461.0 119.0L462.0 124.0M441.0 123.0L446.0 122.0M441.0 123.0L443.0 128.0M462.0 124.0L463.0 129.0M462.0 124.0L460.0 127.0M443.0 128.0L448.0 128.0M453.0 131.0L450.0 134.0M453.0 131.0L455.0 134.0M458.0 128.0L456.0 125.0M463.0 129.0L460.0 133.0M463.0 129.0L460.0 127.0M445.0 133.0L450.0 134.0M450.0 134.0L455.0 134.0M455.0 134.0L460.0 133.0M456.0 125.0L460.0 127.0M442.6 75.8L445.5 94.0M445.5 94.0L460.9 117.4M464.5 77.2L497.4 64.8M428.0 148.7L443.4 133.4M534.9 89.4L560.6 89.4" stroke="#000" stroke-opacity="0.35" stroke-width="1.8" fill="none"/>
</g>
<line x1="45.1" y1="57.7" x2="316" y2="57.7" stroke="#555" stroke-width="1.5" stroke-dasharray="8.4 4.2"/>
<line x1="45.1" y1="87.7" x2="316" y2="87.7" stroke="#555" stroke-width="1.5" stroke-dasharray="8.4 4.2"/>
<line x1="45.1" y1="102.8" x2="316" y2="102.8" stroke="#555" stroke-width="1.5" stroke-dasharray="8.4 4.2"/>
<line x1="45.1" y1="117.9" x2="316" y2="117.9" stroke="#555" stroke-width="1.5" stroke-dasharray="8.4 4.2"/>
<line x1="45.1" y1="147.9" x2="316" y2="147.9" stroke="#555" stroke-width="1.5" stroke-dasharray="8.4 4.2"/>
<line x1="45.1" y1="162.9" x2="316" y2="162.9" stroke="#555" stroke-width="1.5" stroke-dasharray="8.4 4.2"/>
<line x1="45.1" y1="177.9" x2="316" y2="177.9" stroke="#555" stroke-width="1.5" stroke-dasharray="8.4 4.2"/>
<line x1="45.1" y1="208.2" x2="316" y2="208.2" stroke="#555" stroke-width="1.5" stroke-dasharray="8.4 4.2"/>
<line x1="452.1" y1="53.1" x2="504.7" y2="98.4" stroke="#1a1a1a" stroke-width="2.5" stroke-dasharray="6.5 3.5"/>
<line x1="587.5" y1="111.4" x2="596" y2="154.7" stroke="#1a1a1a" stroke-width="2.5" stroke-dasharray="6.5 3.5"/>
<line x1="587" y1="170.7" x2="541.9" y2="183.5" stroke="#1a1a1a" stroke-width="2.5" stroke-dasharray="6.5 3.5"/>
<line x1="329" y1="130.9" x2="366" y2="130.9" stroke="#111" stroke-width="1.4"/>
<path d="M377.6 130.9 L363.8 125.8 L366.3 130.9 L363.8 136.1 Z" fill="#111"/>
<path d="M331.1 140.5 C333 133, 336 127, 340 124 C344 120.5, 350 120.5, 354.5 123" fill="none" stroke="#111" stroke-width="0.8"/>
<path d="M335.2 131.5 C337 127.5, 339 125.3, 340.5 123.8 C344.5 120.6, 350 120.6, 354.3 123" fill="none" stroke="#111" stroke-width="1.5"/>
<path d="M359.3 125.7 L355.3 120.2 L354.9 123.0 L352.5 124.5 Z" fill="#111"/>
<text x="351.3" y="146.7" font-size="9.6" text-anchor="middle" fill="#111">Rotate</text>
<text x="351.3" y="158.6" font-size="9.6" text-anchor="middle" fill="#111">90°</text>
<text x="418.6" y="40.7" font-size="9.6" fill="#111">Interior</text>
<text x="418.6" y="52.2" font-size="9.6" fill="#111">Protein</text>
<text x="591.7" y="166.3" font-size="9.6" fill="#111">Membrane-</text>
<text x="591.7" y="178.4" font-size="9.6" fill="#111">Contacting</text>
<text x="391.7" y="208.1" font-size="9.6" fill="#111">Membrane</text>
<text x="-1.2" y="283.0" font-size="22.5" font-weight="bold">B</text>
<rect x="111.20" y="284.60" width="38.80" height="23.15" fill="#0a62ab"/>
<rect x="149.60" y="284.60" width="38.80" height="23.15" fill="#c6d9ea"/>
<rect x="188.00" y="284.60" width="38.80" height="23.15" fill="#85bcdc"/>
<rect x="111.20" y="307.35" width="38.80" height="23.15" fill="#79b5da"/>
<rect x="149.60" y="307.35" width="38.80" height="23.15" fill="#4199cc"/>
<rect x="188.00" y="307.35" width="38.80" height="23.15" fill="#479fcf"/>
<rect x="111.20" y="330.10" width="38.80" height="23.15" fill="#a0c8e0"/>
<rect x="149.60" y="330.10" width="38.80" height="23.15" fill="#4198cd"/>
<rect x="188.00" y="330.10" width="38.80" height="23.15" fill="#213f78"/>
<rect x="111.20" y="352.85" width="38.80" height="23.15" fill="#22407a"/>
<rect x="149.60" y="352.85" width="38.80" height="23.15" fill="#0757a4"/>
<rect x="188.00" y="352.85" width="38.80" height="23.15" fill="#213f78"/>
<rect x="111.20" y="375.60" width="38.80" height="23.15" fill="#233c70"/>
<rect x="149.60" y="375.60" width="38.80" height="23.15" fill="#d7e2ec"/>
<rect x="188.00" y="375.60" width="38.80" height="23.15" fill="#f6f7f9"/>
<rect x="111.20" y="398.35" width="38.80" height="23.15" fill="#0855a0"/>
<rect x="149.60" y="398.35" width="38.80" height="23.15" fill="#52a8d6"/>
<rect x="188.00" y="398.35" width="38.80" height="23.15" fill="#74b6dc"/>
<rect x="111.20" y="421.10" width="38.80" height="23.15" fill="#136db3"/>
<rect x="149.60" y="421.10" width="38.80" height="23.15" fill="#124d8c"/>
<rect x="188.00" y="421.10" width="38.80" height="23.15" fill="#124d8c"/>
<rect x="111.20" y="443.85" width="38.80" height="23.15" fill="#233c70"/>
<rect x="149.60" y="443.85" width="38.80" height="23.15" fill="#0566ad"/>
<rect x="188.00" y="443.85" width="38.80" height="23.15" fill="#233c70"/>
<rect x="226.40" y="466.60" width="38.80" height="23.15" fill="#b2cfe6"/>
<rect x="264.80" y="466.60" width="38.80" height="23.15" fill="#48a0d2"/>
<rect x="226.40" y="489.35" width="38.80" height="23.15" fill="#78b7dc"/>
<rect x="264.80" y="489.35" width="38.80" height="23.15" fill="#6ab2d9"/>
<rect x="226.40" y="512.10" width="38.80" height="23.15" fill="#82bdde"/>
<rect x="264.80" y="512.10" width="38.80" height="23.15" fill="#48a0d2"/>
<rect x="226.40" y="534.85" width="38.80" height="23.15" fill="#b4d0e6"/>
<rect x="264.80" y="534.85" width="38.80" height="23.15" fill="#48a0d2"/>
<line x1="107.2" y1="295.98" x2="111.2" y2="295.98" stroke="#111" stroke-width="1.1"/>
<text x="102.4" y="298.98" font-size="9.6" text-anchor="end" fill="#111">Charge</text>
<line x1="107.2" y1="318.73" x2="111.2" y2="318.73" stroke="#111" stroke-width="1.1"/>
<text x="102.4" y="321.73" font-size="9.6" text-anchor="end" fill="#111">Depth</text>
<line x1="107.2" y1="341.48" x2="111.2" y2="341.48" stroke="#111" stroke-width="1.1"/>
<text x="102.4" y="344.48" font-size="9.6" text-anchor="end" fill="#111">Hydrophobicity</text>
<line x1="107.2" y1="364.23" x2="111.2" y2="364.23" stroke="#111" stroke-width="1.1"/>
<text x="102.4" y="367.23" font-size="9.6" text-anchor="end" fill="#111">Probability</text>
<line x1="107.2" y1="386.98" x2="111.2" y2="386.98" stroke="#111" stroke-width="1.1"/>
<text x="102.4" y="389.98" font-size="9.6" text-anchor="end" fill="#111">Charge</text>
<line x1="107.2" y1="409.73" x2="111.2" y2="409.73" stroke="#111" stroke-width="1.1"/>
<text x="102.4" y="412.73" font-size="9.6" text-anchor="end" fill="#111">Depth</text>
<line x1="107.2" y1="432.48" x2="111.2" y2="432.48" stroke="#111" stroke-width="1.1"/>
<text x="102.4" y="435.48" font-size="9.6" text-anchor="end" fill="#111">Hydrophobicity</text>
<line x1="107.2" y1="455.23" x2="111.2" y2="455.23" stroke="#111" stroke-width="1.1"/>
<text x="102.4" y="458.23" font-size="9.6" text-anchor="end" fill="#111">Probability</text>
<line x1="107.2" y1="477.98" x2="111.2" y2="477.98" stroke="#111" stroke-width="1.1"/>
<text x="102.4" y="480.98" font-size="9.6" text-anchor="end" fill="#111">Charge</text>
<line x1="107.2" y1="500.73" x2="111.2" y2="500.73" stroke="#111" stroke-width="1.1"/>
<text x="102.4" y="503.73" font-size="9.6" text-anchor="end" fill="#111">Depth</text>
<line x1="107.2" y1="523.48" x2="111.2" y2="523.48" stroke="#111" stroke-width="1.1"/>
<text x="102.4" y="526.48" font-size="9.6" text-anchor="end" fill="#111">Hydrophobicity</text>
<line x1="107.2" y1="546.23" x2="111.2" y2="546.23" stroke="#111" stroke-width="1.1"/>
<text x="102.4" y="549.23" font-size="9.6" text-anchor="end" fill="#111">Probability</text>
<line x1="130.40" y1="280.2" x2="130.40" y2="284.6" stroke="#111" stroke-width="1.1"/>
<text font-size="9.6" fill="#111" transform="translate(132.80 277.6) rotate(-45)"><tspan x="0" y="-12.8">Inner</tspan><tspan x="0" y="0">Hydrophobic</tspan></text>
<line x1="168.80" y1="280.2" x2="168.80" y2="284.6" stroke="#111" stroke-width="1.1"/>
<text font-size="9.6" fill="#111" transform="translate(171.20 277.6) rotate(-45)"><tspan x="0" y="-12.8">Outer</tspan><tspan x="0" y="0">Hydrophobic</tspan></text>
<line x1="207.20" y1="280.2" x2="207.20" y2="284.6" stroke="#111" stroke-width="1.1"/>
<text font-size="9.6" fill="#111" transform="translate(205.80 277.6) rotate(-45)"><tspan x="0" y="0">Interface</tspan></text>
<line x1="245.60" y1="280.2" x2="245.60" y2="284.6" stroke="#111" stroke-width="1.1"/>
<text font-size="9.6" fill="#111" transform="translate(244.20 277.6) rotate(-45)"><tspan x="0" y="0">Polar</tspan></text>
<line x1="284.00" y1="280.2" x2="284.00" y2="284.6" stroke="#111" stroke-width="1.1"/>
<text font-size="9.6" fill="#111" transform="translate(282.60 277.6) rotate(-45)"><tspan x="0" y="0">Water</tspan></text>
<line x1="29.6" y1="291" x2="29.6" y2="368.8" stroke="#111" stroke-width="1.1"/>
<line x1="29.6" y1="382" x2="29.6" y2="459.7" stroke="#111" stroke-width="1.1"/>
<line x1="29.6" y1="473.8" x2="29.6" y2="551.8" stroke="#111" stroke-width="1.1"/>
<text font-size="9.6" fill="#111" text-anchor="middle" transform="translate(0 329.8) rotate(-90)"><tspan x="0" y="12.4">Interior</tspan><tspan x="0" y="23.4">Protein</tspan></text>
<text font-size="9.6" fill="#111" text-anchor="middle" transform="translate(0 420.8) rotate(-90)"><tspan x="0" y="12.4">Membrane-</tspan><tspan x="0" y="23.4">Contacting</tspan></text>
<text font-size="9.6" fill="#111" text-anchor="middle" transform="translate(0 512.8) rotate(-90)"><tspan x="0" y="12.4">Outside</tspan><tspan x="0" y="23.4">Membrane</tspan></text>
<defs><linearGradient id="cb" x1="0" y1="1" x2="0" y2="0"><stop offset="0" stop-color="#f3f5f8"/><stop offset="0.111" stop-color="#dfe5ee"/><stop offset="0.223" stop-color="#c4d4e6"/><stop offset="0.308" stop-color="#a6c4e0"/><stop offset="0.396" stop-color="#78b4da"/><stop offset="0.505" stop-color="#55a0d0"/><stop offset="0.702" stop-color="#2a7fbd"/><stop offset="0.899" stop-color="#0f59a4"/><stop offset="1" stop-color="#2d4680"/></linearGradient></defs>
<rect x="312.1" y="287" width="13.6" height="272.3" fill="url(#cb)"/>
<line x1="325.7" y1="314.6" x2="330.6" y2="314.6" stroke="#111" stroke-width="1.1"/>
<text x="335.4" y="317.9" font-size="9.6" fill="#111">0.75</text>
<line x1="325.7" y1="368.2" x2="330.6" y2="368.2" stroke="#111" stroke-width="1.1"/>
<text x="335.4" y="371.5" font-size="9.6" fill="#111">0.70</text>
<line x1="325.7" y1="421.8" x2="330.6" y2="421.8" stroke="#111" stroke-width="1.1"/>
<text x="335.4" y="425.1" font-size="9.6" fill="#111">0.65</text>
<line x1="325.7" y1="475.5" x2="330.6" y2="475.5" stroke="#111" stroke-width="1.1"/>
<text x="335.4" y="478.8" font-size="9.6" fill="#111">0.60</text>
<line x1="325.7" y1="529.0" x2="330.6" y2="529.0" stroke="#111" stroke-width="1.1"/>
<text x="335.4" y="532.3" font-size="9.6" fill="#111">0.55</text>
<text font-size="9.7" fill="#111" text-anchor="middle" transform="translate(358.2 421) rotate(90)">Accuracy</text>
<text x="370.4" y="283.4" font-size="22.5" font-weight="bold">C</text>
<g>
<g class="sc">
<g fill="#b2181e"><circle cx="611.9" cy="423.0"/><circle cx="611.3" cy="419.4"/><circle cx="613.8" cy="417.9"/><circle cx="633.1" cy="420.8"/><circle cx="635.7" cy="418.1"/><circle cx="605.3" cy="415.0"/><circle cx="610.2" cy="414.1"/><circle cx="620.1" cy="410.7"/><circle cx="621.2" cy="411.4"/><circle cx="610.7" cy="407.1"/><circle cx="618.4" cy="411.9"/><circle cx="614.0" cy="425.3"/><circle cx="594.8" cy="440.5"/><circle cx="606.5" cy="445.0"/><circle cx="609.6" cy="446.5"/><circle cx="619.2" cy="446.0"/><circle cx="622.5" cy="450.4"/><circle cx="609.0" cy="419.9"/><circle cx="608.7" cy="418.9"/><circle cx="611.2" cy="425.9"/><circle cx="623.4" cy="434.6"/><circle cx="596.6" cy="430.4"/><circle cx="606.6" cy="449.9"/><circle cx="606.2" cy="449.4"/><circle cx="610.6" cy="450.0"/><circle cx="610.6" cy="449.7"/><circle cx="609.5" cy="451.8"/><circle cx="608.4" cy="453.7"/><circle cx="609.5" cy="454.4"/><circle cx="618.4" cy="463.0"/><circle cx="617.1" cy="462.9"/><circle cx="614.0" cy="467.4"/><circle cx="616.0" cy="475.2"/><circle cx="606.7" cy="474.7"/><circle cx="613.0" cy="477.0"/><circle cx="618.4" cy="495.4"/><circle cx="623.4" cy="488.6"/><circle cx="620.5" cy="490.2"/><circle cx="626.0" cy="465.0"/><circle cx="628.8" cy="469.2"/><circle cx="630.4" cy="440.4"/></g>
<g fill="#b71e22"><circle cx="631.4" cy="423.4"/><circle cx="624.6" cy="415.9"/><circle cx="611.5" cy="415.9"/><circle cx="608.8" cy="418.6"/><circle cx="622.2" cy="412.0"/><circle cx="621.5" cy="422.1"/><circle cx="611.3" cy="420.9"/><circle cx="592.7" cy="439.7"/><circle cx="595.0" cy="440.7"/><circle cx="611.1" cy="440.7"/><circle cx="615.8" cy="445.5"/><circle cx="620.4" cy="450.1"/><circle cx="598.6" cy="414.1"/><circle cx="604.9" cy="420.2"/><circle cx="626.9" cy="417.4"/><circle cx="615.4" cy="430.8"/><circle cx="619.7" cy="430.9"/><circle cx="603.7" cy="448.1"/><circle cx="606.6" cy="447.5"/><circle cx="615.0" cy="453.9"/><circle cx="616.3" cy="457.0"/><circle cx="605.7" cy="471.9"/><circle cx="608.7" cy="470.1"/><circle cx="611.4" cy="483.4"/><circle cx="616.5" cy="493.6"/><circle cx="620.2" cy="491.6"/><circle cx="621.7" cy="484.5"/><circle cx="628.5" cy="461.7"/></g>
<g fill="#bd2425"><circle cx="610.3" cy="415.2"/><circle cx="628.0" cy="415.9"/><circle cx="635.7" cy="421.1"/><circle cx="635.1" cy="419.1"/><circle cx="619.8" cy="412.5"/><circle cx="624.0" cy="411.7"/><circle cx="620.9" cy="417.1"/><circle cx="623.2" cy="416.5"/><circle cx="636.3" cy="420.9"/><circle cx="595.4" cy="439.8"/><circle cx="599.4" cy="440.9"/><circle cx="616.0" cy="441.0"/><circle cx="620.0" cy="447.9"/><circle cx="603.7" cy="417.4"/><circle cx="617.0" cy="418.6"/><circle cx="619.4" cy="417.6"/><circle cx="624.8" cy="419.7"/><circle cx="637.6" cy="419.2"/><circle cx="614.2" cy="429.6"/><circle cx="620.9" cy="430.5"/><circle cx="603.1" cy="449.8"/><circle cx="605.2" cy="452.2"/><circle cx="606.8" cy="447.3"/><circle cx="608.7" cy="446.7"/><circle cx="610.2" cy="450.9"/><circle cx="614.2" cy="455.1"/><circle cx="613.1" cy="453.8"/><circle cx="611.0" cy="462.8"/><circle cx="611.0" cy="469.2"/><circle cx="610.0" cy="486.0"/><circle cx="624.8" cy="461.6"/><circle cx="621.5" cy="464.0"/><circle cx="582.2" cy="484.0"/></g>
<g fill="#c22b29"><circle cx="608.7" cy="416.3"/><circle cx="633.9" cy="424.4"/><circle cx="611.3" cy="414.1"/><circle cx="612.0" cy="416.4"/><circle cx="634.6" cy="425.4"/><circle cx="629.6" cy="420.2"/><circle cx="629.4" cy="423.2"/><circle cx="611.8" cy="418.4"/><circle cx="607.0" cy="411.5"/><circle cx="633.9" cy="423.3"/><circle cx="631.7" cy="420.0"/><circle cx="635.2" cy="418.7"/><circle cx="620.8" cy="426.4"/><circle cx="629.5" cy="414.4"/><circle cx="630.8" cy="421.1"/><circle cx="628.3" cy="415.2"/><circle cx="617.9" cy="418.9"/><circle cx="609.1" cy="418.6"/><circle cx="606.0" cy="442.9"/><circle cx="617.9" cy="448.2"/><circle cx="603.2" cy="416.3"/><circle cx="599.5" cy="416.8"/><circle cx="605.1" cy="417.6"/><circle cx="613.1" cy="419.0"/><circle cx="623.1" cy="418.4"/><circle cx="635.1" cy="417.8"/><circle cx="637.3" cy="417.5"/><circle cx="614.0" cy="424.8"/><circle cx="609.0" cy="431.0"/><circle cx="621.1" cy="432.8"/><circle cx="622.1" cy="432.6"/><circle cx="592.3" cy="459.5"/><circle cx="605.3" cy="446.3"/><circle cx="612.3" cy="449.3"/><circle cx="609.9" cy="451.9"/><circle cx="614.9" cy="453.6"/><circle cx="609.3" cy="455.0"/><circle cx="610.8" cy="455.8"/><circle cx="610.1" cy="456.4"/><circle cx="613.1" cy="458.4"/><circle cx="613.7" cy="457.7"/><circle cx="614.2" cy="457.4"/><circle cx="618.4" cy="462.1"/><circle cx="614.0" cy="459.3"/><circle cx="615.6" cy="462.7"/><circle cx="609.4" cy="469.7"/><circle cx="610.3" cy="474.8"/><circle cx="604.8" cy="479.4"/><circle cx="610.8" cy="483.2"/><circle cx="609.1" cy="483.1"/><circle cx="615.3" cy="480.6"/><circle cx="610.3" cy="487.2"/><circle cx="614.7" cy="491.4"/><circle cx="608.8" cy="492.3"/><circle cx="618.7" cy="486.4"/><circle cx="627.1" cy="465.4"/><circle cx="626.3" cy="466.2"/><circle cx="626.4" cy="468.2"/></g>
<g fill="#c8312c"><circle cx="636.3" cy="419.0"/><circle cx="630.9" cy="424.1"/><circle cx="629.1" cy="416.7"/><circle cx="625.7" cy="413.2"/><circle cx="630.0" cy="421.4"/><circle cx="618.8" cy="418.5"/><circle cx="620.0" cy="420.4"/><circle cx="607.1" cy="417.7"/><circle cx="611.5" cy="418.5"/><circle cx="605.2" cy="409.6"/><circle cx="635.5" cy="427.0"/><circle cx="619.4" cy="410.0"/><circle cx="632.0" cy="426.8"/><circle cx="634.1" cy="415.6"/><circle cx="587.1" cy="411.1"/><circle cx="593.6" cy="444.8"/><circle cx="597.3" cy="436.6"/><circle cx="597.9" cy="443.2"/><circle cx="600.0" cy="445.5"/><circle cx="602.6" cy="439.2"/><circle cx="598.8" cy="441.6"/><circle cx="600.1" cy="439.7"/><circle cx="609.9" cy="445.2"/><circle cx="613.3" cy="444.5"/><circle cx="622.5" cy="448.1"/><circle cx="622.0" cy="448.2"/><circle cx="617.2" cy="448.2"/><circle cx="621.6" cy="416.3"/><circle cx="637.7" cy="419.3"/><circle cx="614.0" cy="427.1"/><circle cx="613.3" cy="425.7"/><circle cx="613.4" cy="426.6"/><circle cx="612.5" cy="428.4"/><circle cx="615.7" cy="428.2"/><circle cx="625.0" cy="432.6"/><circle cx="596.0" cy="436.1"/><circle cx="597.4" cy="438.4"/><circle cx="606.7" cy="447.1"/><circle cx="606.0" cy="451.1"/><circle cx="603.6" cy="449.1"/><circle cx="609.6" cy="450.0"/><circle cx="613.7" cy="453.7"/><circle cx="610.8" cy="456.5"/><circle cx="613.0" cy="451.0"/><circle cx="610.4" cy="458.6"/><circle cx="619.5" cy="459.5"/><circle cx="617.5" cy="456.7"/><circle cx="615.1" cy="457.7"/><circle cx="608.4" cy="469.9"/><circle cx="611.2" cy="481.7"/><circle cx="607.5" cy="485.1"/><circle cx="609.7" cy="488.4"/><circle cx="614.2" cy="490.3"/><circle cx="612.4" cy="493.0"/><circle cx="620.4" cy="489.8"/><circle cx="617.4" cy="493.0"/><circle cx="615.3" cy="488.8"/><circle cx="621.3" cy="483.8"/><circle cx="620.1" cy="489.5"/><circle cx="630.1" cy="469.9"/><circle cx="630.1" cy="473.5"/><circle cx="628.2" cy="471.1"/><circle cx="578.7" cy="492.3"/></g>
<g fill="#cd3730"><circle cx="628.3" cy="420.5"/><circle cx="631.0" cy="422.8"/><circle cx="636.9" cy="417.1"/><circle cx="621.6" cy="414.9"/><circle cx="618.9" cy="420.1"/><circle cx="610.9" cy="419.7"/><circle cx="629.2" cy="416.5"/><circle cx="610.5" cy="420.1"/><circle cx="635.4" cy="425.9"/><circle cx="619.2" cy="415.5"/><circle cx="626.3" cy="420.2"/><circle cx="625.8" cy="415.7"/><circle cx="618.3" cy="416.6"/><circle cx="621.6" cy="410.2"/><circle cx="636.4" cy="425.0"/><circle cx="595.7" cy="416.8"/><circle cx="594.0" cy="438.1"/><circle cx="592.4" cy="439.8"/><circle cx="598.0" cy="438.0"/><circle cx="594.5" cy="442.5"/><circle cx="602.2" cy="446.3"/><circle cx="605.0" cy="445.1"/><circle cx="610.1" cy="446.7"/><circle cx="608.5" cy="445.9"/><circle cx="608.3" cy="446.2"/><circle cx="611.4" cy="445.3"/><circle cx="614.0" cy="445.6"/><circle cx="617.2" cy="445.0"/><circle cx="617.4" cy="444.8"/><circle cx="620.3" cy="451.6"/><circle cx="603.3" cy="414.1"/><circle cx="610.8" cy="415.4"/><circle cx="616.3" cy="419.5"/><circle cx="623.5" cy="417.6"/><circle cx="618.6" cy="416.7"/><circle cx="627.6" cy="417.6"/><circle cx="621.7" cy="417.7"/><circle cx="630.2" cy="418.6"/><circle cx="629.9" cy="420.6"/><circle cx="636.7" cy="418.8"/><circle cx="611.8" cy="425.1"/><circle cx="615.9" cy="429.3"/><circle cx="595.7" cy="430.6"/><circle cx="590.4" cy="460.1"/><circle cx="606.4" cy="451.8"/><circle cx="612.0" cy="459.6"/><circle cx="609.2" cy="456.7"/><circle cx="612.6" cy="459.0"/><circle cx="616.9" cy="461.2"/><circle cx="615.7" cy="460.3"/><circle cx="605.2" cy="475.2"/><circle cx="606.9" cy="470.4"/><circle cx="601.1" cy="469.9"/><circle cx="607.4" cy="468.6"/><circle cx="606.8" cy="468.8"/><circle cx="616.5" cy="471.6"/><circle cx="612.2" cy="482.2"/><circle cx="609.3" cy="475.8"/><circle cx="617.2" cy="490.3"/><circle cx="627.4" cy="462.3"/><circle cx="628.2" cy="469.3"/><circle cx="627.9" cy="469.8"/><circle cx="627.9" cy="471.1"/><circle cx="630.5" cy="468.0"/><circle cx="629.3" cy="470.0"/><circle cx="586.7" cy="486.1"/><circle cx="574.4" cy="456.5"/><circle cx="576.2" cy="450.3"/><circle cx="576.4" cy="483.2"/><circle cx="602.4" cy="430.8"/><circle cx="601.3" cy="374.3"/><circle cx="612.4" cy="466.1"/></g>
<g fill="#d14238"><circle cx="631.8" cy="418.1"/><circle cx="629.3" cy="422.9"/><circle cx="636.9" cy="422.3"/><circle cx="631.6" cy="417.9"/><circle cx="628.1" cy="413.7"/><circle cx="631.0" cy="419.2"/><circle cx="619.8" cy="417.1"/><circle cx="596.3" cy="413.1"/><circle cx="601.4" cy="411.3"/><circle cx="593.3" cy="439.7"/><circle cx="599.2" cy="441.6"/><circle cx="600.4" cy="439.4"/><circle cx="607.0" cy="444.5"/><circle cx="606.0" cy="444.8"/><circle cx="608.1" cy="446.8"/><circle cx="607.4" cy="444.1"/><circle cx="621.2" cy="453.4"/><circle cx="604.7" cy="419.0"/><circle cx="603.4" cy="417.0"/><circle cx="604.5" cy="416.7"/><circle cx="608.3" cy="417.9"/><circle cx="612.5" cy="418.7"/><circle cx="618.9" cy="418.6"/><circle cx="624.1" cy="420.6"/><circle cx="630.4" cy="419.9"/><circle cx="631.9" cy="417.3"/><circle cx="632.6" cy="420.9"/><circle cx="635.9" cy="416.9"/><circle cx="616.9" cy="427.7"/><circle cx="613.9" cy="429.0"/><circle cx="620.3" cy="433.0"/><circle cx="597.3" cy="431.7"/><circle cx="599.9" cy="441.7"/><circle cx="592.2" cy="452.0"/><circle cx="589.9" cy="456.6"/><circle cx="605.3" cy="450.8"/><circle cx="600.0" cy="451.4"/><circle cx="607.5" cy="448.4"/><circle cx="605.2" cy="449.4"/><circle cx="604.2" cy="448.5"/><circle cx="611.9" cy="454.8"/><circle cx="615.5" cy="459.2"/><circle cx="611.8" cy="466.1"/><circle cx="606.5" cy="471.8"/><circle cx="614.4" cy="476.8"/><circle cx="606.5" cy="476.5"/><circle cx="609.3" cy="476.8"/><circle cx="611.3" cy="477.5"/><circle cx="610.8" cy="485.2"/><circle cx="609.6" cy="484.7"/><circle cx="609.2" cy="491.6"/><circle cx="617.6" cy="492.0"/><circle cx="624.9" cy="466.3"/><circle cx="629.9" cy="468.2"/><circle cx="584.7" cy="487.0"/></g>
<g fill="#d54c3f"><circle cx="626.7" cy="412.7"/><circle cx="607.3" cy="418.0"/><circle cx="622.1" cy="415.9"/><circle cx="604.2" cy="409.3"/><circle cx="628.6" cy="419.7"/><circle cx="585.3" cy="412.7"/><circle cx="605.9" cy="411.2"/><circle cx="596.3" cy="439.0"/><circle cx="597.0" cy="442.8"/><circle cx="600.1" cy="442.6"/><circle cx="602.7" cy="418.8"/><circle cx="607.3" cy="417.7"/><circle cx="615.7" cy="419.5"/><circle cx="618.4" cy="418.7"/><circle cx="618.3" cy="420.0"/><circle cx="621.4" cy="419.2"/><circle cx="627.9" cy="418.2"/><circle cx="630.0" cy="421.2"/><circle cx="632.5" cy="420.6"/><circle cx="620.7" cy="433.2"/><circle cx="621.1" cy="430.3"/><circle cx="602.5" cy="433.2"/><circle cx="601.4" cy="434.9"/><circle cx="598.4" cy="434.2"/><circle cx="595.9" cy="434.8"/><circle cx="594.4" cy="440.6"/><circle cx="588.4" cy="449.2"/><circle cx="593.3" cy="450.3"/><circle cx="591.2" cy="454.9"/><circle cx="591.5" cy="449.9"/><circle cx="593.8" cy="458.1"/><circle cx="607.0" cy="451.0"/><circle cx="612.3" cy="446.8"/><circle cx="607.2" cy="472.7"/><circle cx="617.4" cy="474.7"/><circle cx="614.6" cy="478.7"/><circle cx="613.2" cy="481.4"/><circle cx="609.5" cy="487.6"/><circle cx="607.9" cy="492.2"/><circle cx="622.5" cy="492.3"/><circle cx="618.3" cy="491.5"/><circle cx="622.0" cy="487.4"/><circle cx="619.9" cy="489.7"/><circle cx="622.5" cy="488.1"/><circle cx="627.1" cy="461.5"/><circle cx="622.6" cy="457.8"/><circle cx="627.9" cy="460.6"/><circle cx="627.9" cy="467.5"/><circle cx="574.2" cy="451.3"/><circle cx="574.1" cy="450.1"/><circle cx="608.1" cy="360.5"/><circle cx="594.8" cy="448.4"/></g>
<g fill="#d85747"><circle cx="625.1" cy="421.8"/><circle cx="616.8" cy="426.5"/><circle cx="605.7" cy="410.5"/><circle cx="632.3" cy="423.6"/><circle cx="622.7" cy="414.8"/><circle cx="615.5" cy="413.8"/><circle cx="597.5" cy="415.7"/><circle cx="592.3" cy="439.5"/><circle cx="602.6" cy="444.9"/><circle cx="608.3" cy="445.8"/><circle cx="608.3" cy="443.9"/><circle cx="614.8" cy="446.0"/><circle cx="617.4" cy="446.4"/><circle cx="615.3" cy="445.3"/><circle cx="616.4" cy="447.6"/><circle cx="615.9" cy="443.1"/><circle cx="623.8" cy="450.8"/><circle cx="626.2" cy="455.0"/><circle cx="526.7" cy="393.4"/><circle cx="599.5" cy="412.9"/><circle cx="612.3" cy="417.5"/><circle cx="613.1" cy="419.6"/><circle cx="614.8" cy="418.2"/><circle cx="625.5" cy="419.8"/><circle cx="638.9" cy="422.4"/><circle cx="636.7" cy="418.9"/><circle cx="636.3" cy="421.2"/><circle cx="614.8" cy="430.8"/><circle cx="617.0" cy="431.5"/><circle cx="598.7" cy="438.1"/><circle cx="596.5" cy="434.1"/><circle cx="595.4" cy="447.1"/><circle cx="592.6" cy="445.1"/><circle cx="596.1" cy="447.2"/><circle cx="594.0" cy="446.0"/><circle cx="591.0" cy="448.1"/><circle cx="593.4" cy="444.5"/><circle cx="592.3" cy="446.2"/><circle cx="590.8" cy="463.1"/><circle cx="613.0" cy="455.4"/><circle cx="610.9" cy="471.9"/><circle cx="609.3" cy="477.9"/><circle cx="610.4" cy="475.5"/><circle cx="613.5" cy="475.8"/><circle cx="614.4" cy="477.8"/><circle cx="612.4" cy="479.9"/><circle cx="608.7" cy="483.5"/><circle cx="604.5" cy="485.6"/><circle cx="608.1" cy="487.5"/><circle cx="612.0" cy="488.1"/><circle cx="611.7" cy="487.7"/><circle cx="615.0" cy="491.8"/><circle cx="611.5" cy="487.1"/><circle cx="619.3" cy="493.1"/><circle cx="620.6" cy="487.0"/><circle cx="619.3" cy="486.9"/><circle cx="625.5" cy="465.5"/><circle cx="574.8" cy="492.5"/><circle cx="577.1" cy="495.4"/><circle cx="581.0" cy="491.3"/><circle cx="581.2" cy="491.1"/><circle cx="566.7" cy="466.9"/><circle cx="619.3" cy="442.8"/><circle cx="570.0" cy="427.3"/><circle cx="622.0" cy="441.3"/></g>
<g fill="#dc614e"><circle cx="630.8" cy="423.3"/><circle cx="607.8" cy="410.1"/><circle cx="587.5" cy="412.2"/><circle cx="591.7" cy="414.6"/><circle cx="590.5" cy="411.8"/><circle cx="593.6" cy="415.3"/><circle cx="617.0" cy="417.9"/><circle cx="603.6" cy="446.0"/><circle cx="608.3" cy="446.9"/><circle cx="608.8" cy="419.1"/><circle cx="609.3" cy="421.6"/><circle cx="615.0" cy="419.0"/><circle cx="619.6" cy="417.5"/><circle cx="626.1" cy="417.5"/><circle cx="624.2" cy="420.8"/><circle cx="630.9" cy="417.6"/><circle cx="603.5" cy="430.7"/><circle cx="598.5" cy="435.6"/><circle cx="597.3" cy="436.0"/><circle cx="596.8" cy="444.2"/><circle cx="590.7" cy="451.1"/><circle cx="594.0" cy="458.1"/><circle cx="598.6" cy="449.5"/><circle cx="614.2" cy="464.0"/><circle cx="612.2" cy="473.6"/><circle cx="608.6" cy="473.5"/><circle cx="609.9" cy="480.0"/><circle cx="612.0" cy="484.0"/><circle cx="612.0" cy="478.0"/><circle cx="609.2" cy="487.3"/><circle cx="620.5" cy="497.7"/><circle cx="612.9" cy="493.2"/><circle cx="616.6" cy="492.9"/><circle cx="610.1" cy="492.7"/><circle cx="618.9" cy="495.8"/><circle cx="622.0" cy="491.5"/><circle cx="622.6" cy="485.7"/><circle cx="618.9" cy="484.4"/><circle cx="618.2" cy="482.3"/><circle cx="627.0" cy="468.7"/><circle cx="573.8" cy="492.9"/><circle cx="571.6" cy="491.7"/><circle cx="576.7" cy="490.5"/><circle cx="579.2" cy="490.9"/><circle cx="579.7" cy="491.5"/><circle cx="576.6" cy="452.6"/><circle cx="590.5" cy="476.3"/></g>
<g fill="#e06c56"><circle cx="590.5" cy="415.0"/><circle cx="589.1" cy="412.2"/><circle cx="590.0" cy="411.1"/><circle cx="598.3" cy="413.0"/><circle cx="602.6" cy="412.3"/><circle cx="610.9" cy="419.4"/><circle cx="594.9" cy="439.5"/><circle cx="616.2" cy="445.5"/><circle cx="496.5" cy="378.4"/><circle cx="518.3" cy="384.8"/><circle cx="602.6" cy="421.8"/><circle cx="610.5" cy="421.2"/><circle cx="615.1" cy="422.4"/><circle cx="620.0" cy="419.7"/><circle cx="622.5" cy="417.8"/><circle cx="633.7" cy="419.2"/><circle cx="600.5" cy="433.9"/><circle cx="601.6" cy="434.6"/><circle cx="599.3" cy="430.4"/><circle cx="591.2" cy="448.1"/><circle cx="616.4" cy="477.0"/><circle cx="610.7" cy="475.3"/><circle cx="609.4" cy="478.1"/><circle cx="613.0" cy="485.3"/><circle cx="615.5" cy="483.7"/><circle cx="607.8" cy="489.9"/><circle cx="610.2" cy="489.8"/><circle cx="606.7" cy="489.9"/><circle cx="614.4" cy="489.8"/><circle cx="610.1" cy="483.2"/><circle cx="618.1" cy="491.6"/><circle cx="575.0" cy="489.7"/><circle cx="578.8" cy="490.6"/><circle cx="580.6" cy="489.6"/><circle cx="582.1" cy="488.1"/><circle cx="559.3" cy="469.1"/><circle cx="563.6" cy="467.3"/><circle cx="571.5" cy="463.4"/><circle cx="567.6" cy="458.6"/><circle cx="627.5" cy="398.0"/><circle cx="603.1" cy="476.5"/><circle cx="617.9" cy="434.3"/><circle cx="594.3" cy="435.9"/></g>
<g fill="#e2745e"><circle cx="613.7" cy="368.3"/><circle cx="587.6" cy="413.6"/><circle cx="592.6" cy="416.6"/><circle cx="589.7" cy="415.9"/><circle cx="614.7" cy="420.3"/><circle cx="617.1" cy="421.9"/><circle cx="612.8" cy="420.1"/><circle cx="622.3" cy="417.2"/><circle cx="598.5" cy="441.7"/><circle cx="605.6" cy="445.8"/><circle cx="605.8" cy="440.6"/><circle cx="624.5" cy="451.8"/><circle cx="596.7" cy="415.4"/><circle cx="605.0" cy="417.3"/><circle cx="607.3" cy="419.2"/><circle cx="614.1" cy="417.9"/><circle cx="611.8" cy="419.1"/><circle cx="632.8" cy="421.7"/><circle cx="597.8" cy="438.1"/><circle cx="595.8" cy="441.3"/><circle cx="595.8" cy="447.5"/><circle cx="588.5" cy="454.8"/><circle cx="589.2" cy="456.6"/><circle cx="605.8" cy="465.2"/><circle cx="610.0" cy="477.1"/><circle cx="611.1" cy="479.6"/><circle cx="620.6" cy="492.0"/><circle cx="621.5" cy="483.2"/><circle cx="581.0" cy="489.0"/><circle cx="582.6" cy="484.5"/><circle cx="569.3" cy="468.8"/><circle cx="575.1" cy="451.0"/><circle cx="584.1" cy="456.7"/><circle cx="566.3" cy="504.9"/><circle cx="605.6" cy="484.4"/><circle cx="600.5" cy="420.4"/><circle cx="590.7" cy="479.7"/><circle cx="602.5" cy="419.7"/></g>
<g fill="#e57d66"><circle cx="602.5" cy="413.6"/><circle cx="601.2" cy="410.6"/><circle cx="578.7" cy="452.0"/><circle cx="521.4" cy="386.9"/><circle cx="604.1" cy="421.3"/><circle cx="603.0" cy="426.1"/><circle cx="595.9" cy="430.0"/><circle cx="598.2" cy="430.3"/><circle cx="595.9" cy="445.2"/><circle cx="596.4" cy="445.4"/><circle cx="591.5" cy="445.2"/><circle cx="591.6" cy="447.5"/><circle cx="592.1" cy="450.8"/><circle cx="591.1" cy="458.4"/><circle cx="609.0" cy="475.9"/><circle cx="609.0" cy="480.2"/><circle cx="606.2" cy="489.1"/><circle cx="612.2" cy="493.5"/><circle cx="621.2" cy="488.7"/><circle cx="591.0" cy="473.5"/><circle cx="593.1" cy="474.9"/><circle cx="570.1" cy="455.9"/><circle cx="574.6" cy="451.6"/><circle cx="585.4" cy="374.1"/><circle cx="596.0" cy="482.6"/><circle cx="566.6" cy="492.6"/><circle cx="584.0" cy="361.7"/><circle cx="609.8" cy="401.5"/><circle cx="570.7" cy="438.1"/></g>
<g fill="#e7856e"><circle cx="621.2" cy="377.2"/><circle cx="617.1" cy="381.6"/><circle cx="600.5" cy="413.1"/><circle cx="595.3" cy="414.7"/><circle cx="603.5" cy="414.0"/><circle cx="607.1" cy="413.2"/><circle cx="609.1" cy="415.9"/><circle cx="621.2" cy="415.4"/><circle cx="580.8" cy="448.5"/><circle cx="521.9" cy="385.0"/><circle cx="527.2" cy="394.2"/><circle cx="628.3" cy="418.5"/><circle cx="629.1" cy="422.2"/><circle cx="632.3" cy="419.2"/><circle cx="600.1" cy="443.1"/><circle cx="592.5" cy="443.8"/><circle cx="590.3" cy="453.7"/><circle cx="593.3" cy="454.2"/><circle cx="591.8" cy="458.2"/><circle cx="616.0" cy="485.2"/><circle cx="607.6" cy="488.3"/><circle cx="614.2" cy="486.8"/><circle cx="617.3" cy="489.2"/><circle cx="593.7" cy="473.6"/><circle cx="597.9" cy="482.4"/><circle cx="577.0" cy="491.7"/><circle cx="577.7" cy="487.6"/><circle cx="581.9" cy="492.9"/><circle cx="558.4" cy="466.4"/><circle cx="573.4" cy="449.5"/><circle cx="534.2" cy="474.4"/><circle cx="541.4" cy="475.7"/><circle cx="587.1" cy="418.7"/><circle cx="588.3" cy="389.6"/><circle cx="592.6" cy="368.1"/></g>
<g fill="#ea8e76"><circle cx="617.6" cy="381.5"/><circle cx="614.4" cy="374.6"/><circle cx="611.6" cy="371.2"/><circle cx="586.6" cy="409.7"/><circle cx="593.0" cy="416.5"/><circle cx="604.8" cy="413.0"/><circle cx="603.4" cy="416.6"/><circle cx="606.6" cy="414.9"/><circle cx="613.0" cy="421.9"/><circle cx="609.7" cy="418.9"/><circle cx="614.1" cy="418.5"/><circle cx="617.1" cy="419.1"/><circle cx="617.1" cy="420.5"/><circle cx="579.6" cy="455.9"/><circle cx="581.8" cy="459.0"/><circle cx="525.3" cy="391.1"/><circle cx="598.7" cy="435.9"/><circle cx="595.7" cy="446.7"/><circle cx="596.8" cy="455.5"/><circle cx="604.7" cy="474.2"/><circle cx="609.0" cy="492.9"/><circle cx="610.5" cy="491.9"/><circle cx="590.6" cy="472.9"/><circle cx="597.8" cy="475.7"/><circle cx="595.6" cy="479.0"/><circle cx="595.9" cy="489.6"/><circle cx="597.2" cy="487.9"/><circle cx="580.1" cy="491.9"/><circle cx="586.7" cy="487.3"/><circle cx="582.4" cy="487.9"/><circle cx="568.8" cy="504.3"/><circle cx="559.7" cy="471.4"/><circle cx="572.3" cy="469.2"/><circle cx="567.5" cy="463.3"/><circle cx="573.0" cy="459.2"/><circle cx="572.9" cy="454.9"/><circle cx="574.6" cy="447.6"/><circle cx="574.2" cy="445.6"/><circle cx="573.5" cy="446.4"/><circle cx="540.0" cy="479.0"/><circle cx="547.2" cy="476.5"/><circle cx="549.4" cy="485.0"/><circle cx="598.2" cy="382.6"/><circle cx="574.7" cy="412.5"/></g>
<g fill="#ec967e"><circle cx="616.7" cy="368.2"/><circle cx="621.7" cy="378.9"/><circle cx="606.0" cy="368.8"/><circle cx="612.0" cy="374.5"/><circle cx="616.2" cy="377.4"/><circle cx="582.3" cy="415.4"/><circle cx="584.6" cy="413.7"/><circle cx="583.4" cy="410.7"/><circle cx="588.3" cy="413.4"/><circle cx="588.6" cy="412.4"/><circle cx="599.5" cy="412.2"/><circle cx="605.4" cy="409.3"/><circle cx="604.2" cy="416.6"/><circle cx="617.4" cy="416.0"/><circle cx="577.9" cy="454.5"/><circle cx="578.1" cy="462.2"/><circle cx="579.3" cy="464.1"/><circle cx="507.8" cy="386.0"/><circle cx="624.6" cy="420.0"/><circle cx="624.0" cy="416.6"/><circle cx="590.1" cy="453.6"/><circle cx="622.0" cy="484.4"/><circle cx="596.4" cy="478.0"/><circle cx="597.7" cy="475.9"/><circle cx="595.7" cy="479.3"/><circle cx="579.2" cy="491.4"/><circle cx="568.7" cy="468.9"/><circle cx="570.5" cy="460.9"/><circle cx="572.3" cy="458.2"/><circle cx="532.2" cy="476.9"/><circle cx="548.2" cy="486.0"/><circle cx="547.6" cy="486.6"/><circle cx="587.2" cy="360.2"/><circle cx="601.1" cy="426.0"/><circle cx="570.0" cy="437.1"/><circle cx="631.5" cy="424.8"/></g>
<g fill="#ed9d86"><circle cx="615.7" cy="371.1"/><circle cx="619.0" cy="371.2"/><circle cx="618.6" cy="379.0"/><circle cx="619.4" cy="381.3"/><circle cx="604.0" cy="370.0"/><circle cx="609.7" cy="371.1"/><circle cx="611.3" cy="373.5"/><circle cx="614.2" cy="370.5"/><circle cx="614.6" cy="376.6"/><circle cx="615.3" cy="378.6"/><circle cx="586.3" cy="412.8"/><circle cx="580.7" cy="412.6"/><circle cx="580.5" cy="411.4"/><circle cx="588.2" cy="409.8"/><circle cx="603.5" cy="412.3"/><circle cx="620.1" cy="420.8"/><circle cx="622.1" cy="414.1"/><circle cx="581.2" cy="449.5"/><circle cx="578.3" cy="462.4"/><circle cx="575.6" cy="469.6"/><circle cx="520.2" cy="385.8"/><circle cx="590.0" cy="449.1"/><circle cx="592.1" cy="460.9"/><circle cx="596.8" cy="482.8"/><circle cx="567.8" cy="509.0"/><circle cx="567.0" cy="507.0"/><circle cx="571.6" cy="501.8"/><circle cx="559.7" cy="468.6"/><circle cx="566.8" cy="469.0"/><circle cx="574.6" cy="452.5"/><circle cx="537.6" cy="473.9"/><circle cx="543.1" cy="476.2"/><circle cx="544.5" cy="476.8"/><circle cx="547.9" cy="479.2"/><circle cx="544.7" cy="478.9"/><circle cx="545.5" cy="475.9"/><circle cx="549.2" cy="482.7"/><circle cx="607.6" cy="399.7"/></g>
<g fill="#eda58e"><circle cx="617.1" cy="369.1"/><circle cx="615.7" cy="375.1"/><circle cx="619.6" cy="375.4"/><circle cx="618.3" cy="376.9"/><circle cx="616.1" cy="379.2"/><circle cx="605.4" cy="370.6"/><circle cx="605.6" cy="368.3"/><circle cx="611.3" cy="372.0"/><circle cx="589.6" cy="411.3"/><circle cx="597.4" cy="409.1"/><circle cx="605.7" cy="407.2"/><circle cx="603.7" cy="416.6"/><circle cx="610.1" cy="418.6"/><circle cx="615.7" cy="419.9"/><circle cx="619.1" cy="420.3"/><circle cx="618.8" cy="420.2"/><circle cx="579.5" cy="450.4"/><circle cx="583.0" cy="447.2"/><circle cx="578.8" cy="458.4"/><circle cx="579.9" cy="462.3"/><circle cx="579.4" cy="469.0"/><circle cx="576.6" cy="468.8"/><circle cx="511.7" cy="383.7"/><circle cx="512.7" cy="380.7"/><circle cx="636.5" cy="416.0"/><circle cx="599.7" cy="440.6"/><circle cx="596.3" cy="443.8"/><circle cx="590.4" cy="449.1"/><circle cx="596.4" cy="474.7"/><circle cx="592.4" cy="474.0"/><circle cx="590.9" cy="474.4"/><circle cx="594.8" cy="477.8"/><circle cx="596.7" cy="481.0"/><circle cx="568.4" cy="506.7"/><circle cx="566.0" cy="504.9"/><circle cx="572.7" cy="500.6"/><circle cx="569.4" cy="466.1"/><circle cx="568.4" cy="466.7"/><circle cx="567.9" cy="462.7"/><circle cx="576.0" cy="454.4"/><circle cx="546.1" cy="477.9"/><circle cx="549.1" cy="480.8"/><circle cx="584.4" cy="359.2"/><circle cx="598.2" cy="384.6"/><circle cx="583.2" cy="447.1"/><circle cx="589.1" cy="404.6"/></g>
<g fill="#eeac95"><circle cx="617.0" cy="368.1"/><circle cx="615.4" cy="370.4"/><circle cx="616.5" cy="375.5"/><circle cx="619.2" cy="378.0"/><circle cx="618.8" cy="382.1"/><circle cx="622.7" cy="380.3"/><circle cx="599.9" cy="366.9"/><circle cx="603.6" cy="370.6"/><circle cx="607.2" cy="370.6"/><circle cx="613.4" cy="376.4"/><circle cx="615.3" cy="377.6"/><circle cx="603.6" cy="415.1"/><circle cx="606.6" cy="415.3"/><circle cx="619.8" cy="421.6"/><circle cx="621.5" cy="415.6"/><circle cx="582.5" cy="445.9"/><circle cx="583.1" cy="447.2"/><circle cx="579.7" cy="456.4"/><circle cx="583.2" cy="459.6"/><circle cx="503.3" cy="386.0"/><circle cx="519.0" cy="384.9"/><circle cx="525.1" cy="391.6"/><circle cx="601.4" cy="428.3"/><circle cx="598.0" cy="479.4"/><circle cx="565.8" cy="512.6"/><circle cx="568.7" cy="503.6"/><circle cx="566.2" cy="504.6"/><circle cx="567.5" cy="505.0"/><circle cx="571.2" cy="502.4"/><circle cx="573.1" cy="502.4"/><circle cx="561.7" cy="468.3"/><circle cx="564.9" cy="467.4"/><circle cx="567.0" cy="469.7"/><circle cx="574.7" cy="447.7"/><circle cx="574.1" cy="444.0"/><circle cx="536.9" cy="476.9"/><circle cx="544.4" cy="480.3"/><circle cx="546.3" cy="479.0"/><circle cx="554.4" cy="485.0"/><circle cx="606.8" cy="429.8"/><circle cx="589.5" cy="349.5"/></g>
<g fill="#eeb49d"><circle cx="616.8" cy="377.1"/><circle cx="552.7" cy="451.4"/><circle cx="602.7" cy="366.8"/><circle cx="602.5" cy="368.6"/><circle cx="604.4" cy="369.1"/><circle cx="604.9" cy="372.0"/><circle cx="615.7" cy="377.7"/><circle cx="598.7" cy="415.7"/><circle cx="603.9" cy="408.1"/><circle cx="614.5" cy="419.6"/><circle cx="612.9" cy="420.9"/><circle cx="580.8" cy="445.9"/><circle cx="581.4" cy="451.1"/><circle cx="579.9" cy="452.6"/><circle cx="580.8" cy="452.1"/><circle cx="579.9" cy="458.9"/><circle cx="582.2" cy="458.1"/><circle cx="581.1" cy="461.0"/><circle cx="495.9" cy="377.0"/><circle cx="514.7" cy="384.9"/><circle cx="526.0" cy="388.8"/><circle cx="595.8" cy="480.8"/><circle cx="596.0" cy="476.7"/><circle cx="570.5" cy="501.5"/><circle cx="577.3" cy="495.8"/><circle cx="574.6" cy="497.3"/><circle cx="570.3" cy="462.6"/><circle cx="570.5" cy="457.7"/><circle cx="575.1" cy="451.7"/><circle cx="536.3" cy="475.9"/><circle cx="537.9" cy="477.0"/><circle cx="548.2" cy="481.9"/><circle cx="604.6" cy="486.8"/></g>
<g fill="#efbba5"><circle cx="616.2" cy="371.3"/><circle cx="617.7" cy="378.1"/><circle cx="618.7" cy="382.0"/><circle cx="610.6" cy="371.1"/><circle cx="614.1" cy="374.5"/><circle cx="614.2" cy="374.6"/><circle cx="615.7" cy="376.4"/><circle cx="616.7" cy="377.0"/><circle cx="615.7" cy="376.7"/><circle cx="592.1" cy="414.7"/><circle cx="597.3" cy="412.8"/><circle cx="607.6" cy="419.5"/><circle cx="608.3" cy="414.1"/><circle cx="618.6" cy="416.5"/><circle cx="580.7" cy="446.9"/><circle cx="580.5" cy="444.7"/><circle cx="581.4" cy="448.2"/><circle cx="578.3" cy="458.4"/><circle cx="576.0" cy="467.9"/><circle cx="575.9" cy="466.4"/><circle cx="508.4" cy="387.1"/><circle cx="515.0" cy="384.1"/><circle cx="523.7" cy="386.3"/><circle cx="597.5" cy="479.9"/><circle cx="593.5" cy="485.2"/><circle cx="567.1" cy="509.7"/><circle cx="567.1" cy="511.9"/><circle cx="568.7" cy="508.2"/><circle cx="565.1" cy="502.1"/><circle cx="565.9" cy="507.4"/><circle cx="567.8" cy="501.9"/><circle cx="571.2" cy="501.6"/><circle cx="575.7" cy="501.5"/><circle cx="574.3" cy="500.2"/><circle cx="558.7" cy="469.3"/><circle cx="564.1" cy="469.7"/><circle cx="565.0" cy="467.3"/><circle cx="565.0" cy="469.3"/><circle cx="570.8" cy="461.6"/><circle cx="572.8" cy="459.8"/><circle cx="575.1" cy="453.3"/><circle cx="575.9" cy="447.8"/><circle cx="575.1" cy="443.3"/><circle cx="573.7" cy="445.6"/><circle cx="536.7" cy="475.3"/><circle cx="541.5" cy="477.2"/><circle cx="541.0" cy="473.3"/><circle cx="543.0" cy="478.8"/><circle cx="541.1" cy="478.9"/><circle cx="545.5" cy="475.3"/><circle cx="549.6" cy="484.9"/><circle cx="549.9" cy="482.4"/></g>
<g fill="#ecc0ae"><circle cx="618.4" cy="371.6"/><circle cx="615.5" cy="380.6"/><circle cx="605.4" cy="369.7"/><circle cx="613.7" cy="377.5"/><circle cx="598.3" cy="411.6"/><circle cx="607.9" cy="414.9"/><circle cx="580.1" cy="449.4"/><circle cx="581.9" cy="462.9"/><circle cx="581.8" cy="460.3"/><circle cx="512.1" cy="382.4"/><circle cx="513.9" cy="382.4"/><circle cx="595.9" cy="486.4"/><circle cx="566.8" cy="509.6"/><circle cx="569.7" cy="503.7"/><circle cx="577.8" cy="497.0"/><circle cx="560.9" cy="470.2"/><circle cx="562.8" cy="470.2"/><circle cx="569.6" cy="468.4"/><circle cx="567.2" cy="459.9"/><circle cx="574.4" cy="455.6"/><circle cx="575.2" cy="449.9"/><circle cx="523.0" cy="487.9"/><circle cx="535.4" cy="475.3"/><circle cx="542.3" cy="477.8"/></g>
<g fill="#e8c6b8"><circle cx="619.6" cy="375.3"/><circle cx="558.0" cy="459.4"/><circle cx="607.3" cy="370.3"/><circle cx="614.5" cy="377.5"/><circle cx="599.9" cy="411.4"/><circle cx="604.2" cy="412.6"/><circle cx="606.5" cy="414.9"/><circle cx="612.4" cy="418.9"/><circle cx="609.3" cy="418.7"/><circle cx="581.8" cy="443.7"/><circle cx="581.0" cy="448.4"/><circle cx="581.4" cy="463.2"/><circle cx="577.5" cy="464.6"/><circle cx="578.8" cy="463.9"/><circle cx="566.2" cy="512.2"/><circle cx="569.0" cy="505.6"/><circle cx="569.1" cy="503.7"/><circle cx="569.6" cy="508.2"/><circle cx="576.5" cy="498.6"/><circle cx="568.8" cy="469.9"/><circle cx="535.4" cy="472.3"/><circle cx="535.9" cy="475.3"/><circle cx="543.0" cy="478.1"/><circle cx="541.4" cy="480.5"/><circle cx="548.9" cy="484.8"/><circle cx="548.6" cy="482.5"/><circle cx="556.2" cy="487.1"/></g>
<g fill="#e5cbc1"><circle cx="614.8" cy="368.7"/><circle cx="571.2" cy="430.4"/><circle cx="557.2" cy="461.2"/><circle cx="561.9" cy="463.8"/><circle cx="600.9" cy="410.3"/><circle cx="578.6" cy="457.9"/><circle cx="577.4" cy="463.3"/><circle cx="577.9" cy="466.7"/><circle cx="496.5" cy="378.6"/><circle cx="509.9" cy="382.0"/><circle cx="511.7" cy="382.4"/><circle cx="525.0" cy="391.8"/><circle cx="569.5" cy="510.5"/><circle cx="570.4" cy="506.8"/><circle cx="575.2" cy="502.0"/><circle cx="574.9" cy="499.1"/><circle cx="576.2" cy="452.7"/><circle cx="550.6" cy="486.4"/><circle cx="595.8" cy="487.4"/></g>
<g fill="#e1d1cb"><circle cx="615.7" cy="378.1"/><circle cx="542.9" cy="357.9"/><circle cx="569.3" cy="427.1"/><circle cx="545.8" cy="442.6"/><circle cx="554.2" cy="456.1"/><circle cx="560.5" cy="464.3"/><circle cx="582.8" cy="410.8"/><circle cx="610.9" cy="418.6"/><circle cx="499.3" cy="380.9"/><circle cx="517.1" cy="384.1"/><circle cx="523.1" cy="386.7"/><circle cx="574.2" cy="445.5"/><circle cx="521.5" cy="476.5"/><circle cx="524.1" cy="483.4"/><circle cx="521.0" cy="490.2"/><circle cx="524.1" cy="503.1"/><circle cx="543.2" cy="477.8"/><circle cx="550.2" cy="488.7"/></g>
<g fill="#ded6d4"><circle cx="549.8" cy="345.6"/><circle cx="549.7" cy="347.1"/><circle cx="544.9" cy="360.8"/><circle cx="554.8" cy="451.8"/><circle cx="558.3" cy="458.1"/><circle cx="558.8" cy="460.1"/><circle cx="594.3" cy="414.6"/><circle cx="607.5" cy="414.3"/><circle cx="573.4" cy="456.4"/><circle cx="524.1" cy="482.0"/><circle cx="542.8" cy="478.5"/><circle cx="568.9" cy="448.2"/><circle cx="558.9" cy="493.8"/></g>
<g fill="#d4d2d7"><circle cx="544.3" cy="346.2"/><circle cx="545.9" cy="354.3"/><circle cx="542.8" cy="356.9"/><circle cx="549.5" cy="368.4"/><circle cx="538.1" cy="381.7"/><circle cx="563.5" cy="421.5"/><circle cx="566.0" cy="422.6"/><circle cx="568.4" cy="422.9"/><circle cx="572.3" cy="427.0"/><circle cx="549.2" cy="447.0"/><circle cx="549.8" cy="448.2"/><circle cx="559.1" cy="459.5"/><circle cx="564.8" cy="467.2"/><circle cx="589.0" cy="409.1"/><circle cx="593.0" cy="415.5"/><circle cx="606.2" cy="417.0"/><circle cx="622.7" cy="416.8"/><circle cx="524.3" cy="388.0"/><circle cx="555.7" cy="469.4"/><circle cx="568.8" cy="461.3"/><circle cx="519.0" cy="477.6"/><circle cx="523.3" cy="483.7"/><circle cx="523.1" cy="490.9"/><circle cx="521.8" cy="487.7"/><circle cx="523.1" cy="493.5"/><circle cx="522.4" cy="500.6"/><circle cx="566.6" cy="450.9"/></g>
<g fill="#c9cfda"><circle cx="548.1" cy="336.4"/><circle cx="551.4" cy="350.8"/><circle cx="542.3" cy="355.8"/><circle cx="546.1" cy="366.8"/><circle cx="543.2" cy="374.6"/><circle cx="539.2" cy="385.8"/><circle cx="552.8" cy="411.8"/><circle cx="553.7" cy="416.0"/><circle cx="553.4" cy="413.7"/><circle cx="562.0" cy="420.7"/><circle cx="567.9" cy="425.1"/><circle cx="572.8" cy="428.6"/><circle cx="566.7" cy="433.2"/><circle cx="575.1" cy="430.4"/><circle cx="546.9" cy="445.7"/><circle cx="547.4" cy="446.2"/><circle cx="560.5" cy="459.2"/><circle cx="559.2" cy="461.9"/><circle cx="499.9" cy="382.4"/><circle cx="510.5" cy="388.5"/><circle cx="565.6" cy="465.3"/><circle cx="523.8" cy="480.9"/><circle cx="525.2" cy="483.5"/><circle cx="520.9" cy="489.7"/><circle cx="523.6" cy="504.5"/><circle cx="557.9" cy="452.3"/><circle cx="497.2" cy="455.8"/></g>
<g fill="#bfcbdc"><circle cx="543.1" cy="342.5"/><circle cx="544.0" cy="343.0"/><circle cx="544.9" cy="344.3"/><circle cx="547.4" cy="347.5"/><circle cx="549.3" cy="331.2"/><circle cx="551.5" cy="333.7"/><circle cx="550.3" cy="341.2"/><circle cx="550.1" cy="338.0"/><circle cx="552.1" cy="343.9"/><circle cx="544.2" cy="363.2"/><circle cx="547.4" cy="372.6"/><circle cx="545.0" cy="371.3"/><circle cx="542.6" cy="375.0"/><circle cx="539.7" cy="383.7"/><circle cx="539.7" cy="388.8"/><circle cx="540.0" cy="386.9"/><circle cx="551.0" cy="410.9"/><circle cx="557.0" cy="416.2"/><circle cx="562.5" cy="419.2"/><circle cx="571.5" cy="429.4"/><circle cx="545.1" cy="447.6"/><circle cx="559.6" cy="464.4"/><circle cx="497.5" cy="381.0"/><circle cx="501.1" cy="384.7"/><circle cx="509.3" cy="388.1"/><circle cx="520.8" cy="385.6"/><circle cx="579.3" cy="415.7"/><circle cx="519.4" cy="475.0"/><circle cx="516.8" cy="477.7"/><circle cx="523.9" cy="487.8"/><circle cx="524.8" cy="487.5"/><circle cx="518.6" cy="495.7"/><circle cx="524.5" cy="506.0"/><circle cx="562.3" cy="454.0"/><circle cx="561.9" cy="451.7"/><circle cx="566.7" cy="453.6"/><circle cx="572.4" cy="449.0"/><circle cx="560.4" cy="479.9"/><circle cx="533.3" cy="432.1"/></g>
<g fill="#b4c8df"><circle cx="544.8" cy="343.0"/><circle cx="549.5" cy="347.0"/><circle cx="548.2" cy="347.9"/><circle cx="547.4" cy="337.5"/><circle cx="548.2" cy="338.9"/><circle cx="549.4" cy="342.7"/><circle cx="540.2" cy="358.3"/><circle cx="543.9" cy="362.3"/><circle cx="541.5" cy="374.2"/><circle cx="539.8" cy="380.1"/><circle cx="555.5" cy="416.6"/><circle cx="560.5" cy="419.1"/><circle cx="566.5" cy="422.1"/><circle cx="564.7" cy="422.2"/><circle cx="573.8" cy="433.3"/><circle cx="554.7" cy="453.0"/><circle cx="558.0" cy="460.2"/><circle cx="563.0" cy="467.7"/><circle cx="501.8" cy="383.0"/><circle cx="525.0" cy="391.2"/><circle cx="519.0" cy="470.8"/><circle cx="516.8" cy="475.0"/><circle cx="520.8" cy="493.4"/><circle cx="521.2" cy="495.6"/><circle cx="521.8" cy="496.8"/><circle cx="568.5" cy="451.4"/><circle cx="542.2" cy="499.6"/><circle cx="505.2" cy="426.2"/><circle cx="528.6" cy="463.7"/><circle cx="519.5" cy="506.5"/></g>
<g fill="#aac4e2"><circle cx="547.7" cy="345.6"/><circle cx="545.7" cy="347.7"/><circle cx="548.6" cy="347.6"/><circle cx="544.9" cy="332.4"/><circle cx="545.8" cy="333.6"/><circle cx="546.0" cy="332.9"/><circle cx="548.1" cy="335.0"/><circle cx="550.3" cy="340.8"/><circle cx="550.2" cy="345.3"/><circle cx="549.9" cy="344.2"/><circle cx="553.4" cy="348.1"/><circle cx="553.4" cy="351.5"/><circle cx="550.2" cy="350.8"/><circle cx="545.9" cy="354.9"/><circle cx="547.7" cy="351.9"/><circle cx="543.8" cy="359.2"/><circle cx="546.4" cy="359.5"/><circle cx="547.2" cy="360.8"/><circle cx="543.9" cy="360.1"/><circle cx="545.7" cy="365.7"/><circle cx="547.7" cy="369.2"/><circle cx="547.4" cy="368.5"/><circle cx="543.7" cy="371.3"/><circle cx="544.2" cy="375.4"/><circle cx="539.9" cy="379.0"/><circle cx="541.1" cy="378.0"/><circle cx="538.2" cy="386.8"/><circle cx="551.6" cy="414.0"/><circle cx="560.0" cy="417.6"/><circle cx="556.0" cy="413.0"/><circle cx="564.9" cy="420.5"/><circle cx="567.5" cy="421.5"/><circle cx="568.7" cy="423.6"/><circle cx="572.5" cy="433.7"/><circle cx="574.0" cy="433.3"/><circle cx="552.8" cy="450.1"/><circle cx="562.1" cy="465.8"/><circle cx="563.4" cy="465.1"/><circle cx="504.5" cy="381.6"/><circle cx="509.7" cy="380.2"/><circle cx="578.4" cy="416.5"/><circle cx="519.2" cy="477.1"/><circle cx="522.0" cy="487.2"/><circle cx="521.7" cy="491.9"/><circle cx="520.2" cy="493.5"/><circle cx="519.3" cy="497.1"/><circle cx="523.0" cy="499.0"/><circle cx="521.6" cy="501.3"/><circle cx="521.2" cy="505.1"/><circle cx="573.0" cy="446.7"/><circle cx="541.8" cy="339.7"/><circle cx="560.7" cy="459.6"/><circle cx="529.5" cy="422.4"/></g>
<g fill="#a3bedf"><circle cx="502.0" cy="456.5"/><circle cx="595.8" cy="374.0"/><circle cx="549.8" cy="345.2"/><circle cx="549.5" cy="348.6"/><circle cx="546.5" cy="332.2"/><circle cx="549.4" cy="335.5"/><circle cx="548.2" cy="353.4"/><circle cx="546.3" cy="354.6"/><circle cx="545.0" cy="353.3"/><circle cx="546.8" cy="353.0"/><circle cx="543.2" cy="359.5"/><circle cx="545.3" cy="357.7"/><circle cx="546.4" cy="363.2"/><circle cx="546.3" cy="363.9"/><circle cx="546.0" cy="369.0"/><circle cx="541.7" cy="375.6"/><circle cx="537.9" cy="383.0"/><circle cx="539.5" cy="385.1"/><circle cx="553.4" cy="411.1"/><circle cx="560.4" cy="416.5"/><circle cx="556.6" cy="415.6"/><circle cx="562.3" cy="419.1"/><circle cx="569.8" cy="423.5"/><circle cx="572.1" cy="427.4"/><circle cx="569.9" cy="432.3"/><circle cx="547.6" cy="441.6"/><circle cx="551.1" cy="447.2"/><circle cx="549.0" cy="444.4"/><circle cx="546.8" cy="448.0"/><circle cx="550.2" cy="446.6"/><circle cx="551.9" cy="453.9"/><circle cx="559.0" cy="463.0"/><circle cx="592.4" cy="411.1"/><circle cx="623.6" cy="416.6"/><circle cx="496.7" cy="379.6"/><circle cx="562.8" cy="421.2"/><circle cx="519.9" cy="472.5"/><circle cx="519.2" cy="483.6"/><circle cx="523.9" cy="489.1"/><circle cx="522.7" cy="491.6"/><circle cx="523.8" cy="504.5"/><circle cx="525.9" cy="503.3"/><circle cx="559.6" cy="453.5"/><circle cx="562.9" cy="453.8"/><circle cx="562.5" cy="452.7"/><circle cx="547.4" cy="493.8"/><circle cx="557.6" cy="434.8"/><circle cx="507.7" cy="451.6"/><circle cx="542.5" cy="444.7"/><circle cx="507.9" cy="478.6"/><circle cx="521.4" cy="426.7"/></g>
<g fill="#9cb7dc"><circle cx="447.7" cy="384.9"/><circle cx="483.4" cy="454.0"/><circle cx="585.0" cy="382.7"/><circle cx="594.2" cy="372.9"/><circle cx="600.9" cy="371.6"/><circle cx="604.1" cy="371.7"/><circle cx="601.8" cy="372.9"/><circle cx="605.6" cy="371.7"/><circle cx="601.0" cy="370.3"/><circle cx="545.3" cy="345.2"/><circle cx="546.6" cy="334.9"/><circle cx="548.3" cy="340.3"/><circle cx="554.1" cy="344.8"/><circle cx="547.4" cy="350.5"/><circle cx="544.1" cy="358.4"/><circle cx="545.2" cy="362.2"/><circle cx="546.8" cy="363.8"/><circle cx="545.7" cy="371.7"/><circle cx="544.4" cy="369.1"/><circle cx="543.8" cy="376.4"/><circle cx="540.1" cy="381.8"/><circle cx="542.5" cy="377.4"/><circle cx="538.9" cy="381.6"/><circle cx="537.4" cy="388.8"/><circle cx="539.4" cy="389.3"/><circle cx="547.0" cy="395.6"/><circle cx="517.1" cy="402.4"/><circle cx="550.7" cy="411.9"/><circle cx="559.6" cy="415.7"/><circle cx="552.8" cy="415.6"/><circle cx="559.2" cy="420.9"/><circle cx="555.8" cy="415.2"/><circle cx="567.4" cy="422.2"/><circle cx="567.7" cy="422.3"/><circle cx="567.3" cy="421.7"/><circle cx="572.5" cy="429.0"/><circle cx="573.6" cy="427.7"/><circle cx="544.3" cy="443.9"/><circle cx="545.6" cy="444.0"/><circle cx="552.5" cy="451.2"/><circle cx="550.5" cy="450.3"/><circle cx="554.8" cy="452.6"/><circle cx="555.3" cy="455.0"/><circle cx="562.0" cy="466.1"/><circle cx="504.5" cy="385.0"/><circle cx="505.9" cy="383.5"/><circle cx="510.1" cy="389.6"/><circle cx="573.2" cy="455.1"/><circle cx="561.6" cy="462.7"/><circle cx="553.6" cy="443.8"/><circle cx="573.4" cy="433.1"/><circle cx="562.8" cy="422.0"/><circle cx="578.1" cy="416.4"/><circle cx="578.7" cy="417.4"/><circle cx="520.0" cy="471.7"/><circle cx="519.2" cy="474.3"/><circle cx="518.7" cy="475.8"/><circle cx="520.4" cy="472.4"/><circle cx="525.3" cy="483.7"/><circle cx="524.9" cy="491.4"/><circle cx="520.5" cy="502.3"/><circle cx="558.6" cy="454.6"/><circle cx="506.6" cy="488.1"/><circle cx="555.0" cy="486.9"/><circle cx="551.0" cy="364.4"/><circle cx="542.0" cy="422.8"/><circle cx="532.6" cy="467.6"/><circle cx="537.3" cy="486.8"/><circle cx="550.4" cy="417.7"/></g>
<g fill="#96b1da"><circle cx="450.1" cy="355.9"/><circle cx="458.5" cy="353.0"/><circle cx="489.4" cy="345.4"/><circle cx="524.4" cy="335.6"/><circle cx="482.1" cy="441.7"/><circle cx="489.0" cy="452.5"/><circle cx="480.8" cy="442.4"/><circle cx="470.7" cy="436.3"/><circle cx="484.8" cy="450.5"/><circle cx="467.7" cy="440.3"/><circle cx="493.2" cy="445.2"/><circle cx="506.7" cy="462.3"/><circle cx="558.3" cy="344.4"/><circle cx="591.7" cy="388.1"/><circle cx="592.0" cy="404.4"/><circle cx="599.8" cy="373.1"/><circle cx="608.9" cy="372.3"/><circle cx="546.5" cy="344.6"/><circle cx="550.6" cy="346.9"/><circle cx="543.6" cy="332.9"/><circle cx="548.9" cy="341.8"/><circle cx="546.7" cy="364.7"/><circle cx="546.1" cy="369.2"/><circle cx="545.1" cy="370.5"/><circle cx="540.8" cy="374.7"/><circle cx="541.5" cy="376.3"/><circle cx="538.9" cy="379.9"/><circle cx="538.6" cy="381.1"/><circle cx="539.2" cy="384.6"/><circle cx="539.9" cy="383.7"/><circle cx="540.3" cy="390.3"/><circle cx="537.3" cy="391.2"/><circle cx="537.8" cy="387.0"/><circle cx="583.4" cy="392.2"/><circle cx="550.0" cy="390.6"/><circle cx="526.2" cy="407.9"/><circle cx="541.6" cy="429.2"/><circle cx="510.1" cy="416.0"/><circle cx="535.3" cy="428.2"/><circle cx="516.0" cy="444.4"/><circle cx="532.8" cy="453.6"/><circle cx="571.3" cy="428.0"/><circle cx="574.1" cy="433.1"/><circle cx="549.4" cy="449.1"/><circle cx="556.2" cy="456.0"/><circle cx="557.0" cy="457.2"/><circle cx="558.3" cy="460.3"/><circle cx="561.4" cy="462.8"/><circle cx="562.2" cy="467.1"/><circle cx="508.7" cy="387.6"/><circle cx="551.7" cy="441.4"/><circle cx="566.1" cy="439.4"/><circle cx="572.4" cy="419.0"/><circle cx="575.4" cy="416.0"/><circle cx="569.5" cy="416.9"/><circle cx="583.9" cy="413.4"/><circle cx="518.9" cy="477.2"/><circle cx="523.4" cy="482.5"/><circle cx="521.2" cy="489.3"/><circle cx="520.8" cy="497.5"/><circle cx="569.9" cy="452.1"/><circle cx="565.1" cy="487.8"/><circle cx="565.1" cy="354.8"/><circle cx="495.8" cy="449.0"/><circle cx="510.1" cy="464.0"/><circle cx="573.1" cy="380.3"/><circle cx="498.0" cy="465.9"/></g>
<g fill="#8faad7"><circle cx="533.6" cy="295.5"/><circle cx="456.1" cy="365.3"/><circle cx="490.0" cy="318.2"/><circle cx="505.7" cy="327.5"/><circle cx="499.8" cy="321.8"/><circle cx="510.4" cy="297.7"/><circle cx="519.0" cy="345.7"/><circle cx="534.1" cy="319.8"/><circle cx="532.8" cy="294.8"/><circle cx="480.8" cy="319.6"/><circle cx="490.6" cy="366.1"/><circle cx="506.6" cy="347.4"/><circle cx="480.2" cy="332.0"/><circle cx="497.2" cy="321.7"/><circle cx="458.3" cy="341.3"/><circle cx="487.2" cy="316.5"/><circle cx="458.2" cy="387.4"/><circle cx="458.0" cy="350.9"/><circle cx="455.3" cy="516.5"/><circle cx="451.2" cy="493.5"/><circle cx="472.2" cy="514.3"/><circle cx="448.3" cy="515.5"/><circle cx="488.6" cy="457.5"/><circle cx="480.7" cy="438.0"/><circle cx="466.4" cy="430.1"/><circle cx="486.5" cy="455.5"/><circle cx="491.9" cy="448.6"/><circle cx="486.0" cy="434.7"/><circle cx="503.5" cy="459.7"/><circle cx="564.4" cy="349.9"/><circle cx="573.3" cy="352.4"/><circle cx="580.0" cy="372.6"/><circle cx="585.7" cy="381.4"/><circle cx="591.9" cy="383.1"/><circle cx="594.9" cy="372.0"/><circle cx="598.5" cy="371.1"/><circle cx="602.9" cy="371.3"/><circle cx="608.1" cy="371.6"/><circle cx="546.9" cy="337.4"/><circle cx="550.8" cy="346.7"/><circle cx="549.5" cy="350.9"/><circle cx="548.0" cy="367.5"/><circle cx="538.4" cy="381.4"/><circle cx="560.9" cy="391.7"/><circle cx="563.1" cy="397.0"/><circle cx="565.4" cy="400.3"/><circle cx="588.1" cy="402.0"/><circle cx="590.2" cy="406.5"/><circle cx="529.3" cy="389.0"/><circle cx="531.6" cy="393.3"/><circle cx="537.4" cy="420.9"/><circle cx="544.1" cy="434.1"/><circle cx="510.8" cy="417.7"/><circle cx="539.2" cy="429.4"/><circle cx="514.4" cy="432.7"/><circle cx="511.2" cy="431.1"/><circle cx="516.8" cy="434.6"/><circle cx="525.3" cy="450.9"/><circle cx="525.2" cy="453.0"/><circle cx="541.5" cy="454.7"/><circle cx="536.4" cy="451.9"/><circle cx="558.6" cy="421.0"/><circle cx="562.7" cy="417.7"/><circle cx="564.1" cy="419.2"/><circle cx="491.1" cy="437.0"/><circle cx="560.3" cy="463.5"/><circle cx="549.4" cy="412.7"/><circle cx="555.3" cy="459.1"/><circle cx="556.3" cy="460.2"/><circle cx="565.6" cy="461.0"/><circle cx="563.9" cy="460.6"/><circle cx="562.6" cy="438.3"/><circle cx="560.5" cy="436.7"/><circle cx="566.4" cy="433.8"/><circle cx="578.6" cy="434.5"/><circle cx="560.5" cy="418.5"/><circle cx="583.9" cy="416.7"/><circle cx="583.3" cy="416.3"/><circle cx="521.6" cy="481.0"/><circle cx="522.4" cy="482.2"/><circle cx="522.3" cy="484.4"/><circle cx="521.7" cy="493.8"/><circle cx="519.1" cy="498.5"/><circle cx="522.3" cy="505.1"/><circle cx="570.5" cy="448.9"/><circle cx="577.2" cy="392.5"/><circle cx="538.2" cy="408.7"/><circle cx="535.7" cy="427.8"/><circle cx="561.2" cy="475.9"/><circle cx="524.0" cy="394.5"/><circle cx="544.8" cy="417.4"/><circle cx="511.8" cy="431.2"/></g>
<g fill="#88a4d4"><circle cx="438.8" cy="370.5"/><circle cx="533.5" cy="322.9"/><circle cx="469.1" cy="329.9"/><circle cx="439.8" cy="388.2"/><circle cx="494.2" cy="323.1"/><circle cx="487.1" cy="344.4"/><circle cx="450.5" cy="370.9"/><circle cx="462.4" cy="334.1"/><circle cx="489.7" cy="320.6"/><circle cx="535.6" cy="315.1"/><circle cx="477.3" cy="341.7"/><circle cx="457.1" cy="332.3"/><circle cx="494.2" cy="317.3"/><circle cx="499.3" cy="331.3"/><circle cx="457.9" cy="336.4"/><circle cx="458.9" cy="390.9"/><circle cx="441.0" cy="377.9"/><circle cx="496.1" cy="342.7"/><circle cx="462.4" cy="358.0"/><circle cx="501.8" cy="359.4"/><circle cx="503.1" cy="350.9"/><circle cx="494.3" cy="357.7"/><circle cx="494.5" cy="327.1"/><circle cx="444.2" cy="398.1"/><circle cx="511.6" cy="330.6"/><circle cx="453.6" cy="397.3"/><circle cx="490.4" cy="314.5"/><circle cx="479.5" cy="316.2"/><circle cx="520.7" cy="332.0"/><circle cx="484.2" cy="329.1"/><circle cx="442.6" cy="371.3"/><circle cx="480.0" cy="506.7"/><circle cx="438.8" cy="471.5"/><circle cx="475.9" cy="501.1"/><circle cx="446.6" cy="476.5"/><circle cx="476.0" cy="529.0"/><circle cx="487.9" cy="524.7"/><circle cx="450.9" cy="511.2"/><circle cx="440.5" cy="507.6"/><circle cx="455.2" cy="489.1"/><circle cx="477.1" cy="527.0"/><circle cx="463.0" cy="516.8"/><circle cx="481.2" cy="453.9"/><circle cx="494.3" cy="461.9"/><circle cx="472.3" cy="440.6"/><circle cx="492.4" cy="443.3"/><circle cx="478.7" cy="437.7"/><circle cx="480.0" cy="450.4"/><circle cx="480.0" cy="432.6"/><circle cx="491.6" cy="458.7"/><circle cx="482.1" cy="468.5"/><circle cx="490.9" cy="443.4"/><circle cx="483.9" cy="453.4"/><circle cx="508.4" cy="459.8"/><circle cx="565.3" cy="351.1"/><circle cx="570.9" cy="349.8"/><circle cx="584.0" cy="352.1"/><circle cx="593.9" cy="354.4"/><circle cx="588.0" cy="351.5"/><circle cx="588.5" cy="366.4"/><circle cx="589.2" cy="381.3"/><circle cx="596.2" cy="370.4"/><circle cx="608.2" cy="368.4"/><circle cx="548.4" cy="339.0"/><circle cx="553.6" cy="344.0"/><circle cx="549.5" cy="343.2"/><circle cx="547.0" cy="352.6"/><circle cx="549.7" cy="350.6"/><circle cx="541.2" cy="368.9"/><circle cx="537.1" cy="380.8"/><circle cx="559.1" cy="390.5"/><circle cx="573.9" cy="403.5"/><circle cx="579.0" cy="391.9"/><circle cx="584.4" cy="400.0"/><circle cx="512.4" cy="388.1"/><circle cx="520.6" cy="385.6"/><circle cx="522.4" cy="389.9"/><circle cx="550.8" cy="394.8"/><circle cx="566.8" cy="397.9"/><circle cx="515.9" cy="400.0"/><circle cx="515.8" cy="396.0"/><circle cx="522.0" cy="400.7"/><circle cx="527.3" cy="412.5"/><circle cx="525.2" cy="407.9"/><circle cx="532.4" cy="412.7"/><circle cx="526.6" cy="413.6"/><circle cx="537.3" cy="419.7"/><circle cx="519.1" cy="418.5"/><circle cx="516.6" cy="414.5"/><circle cx="522.2" cy="421.8"/><circle cx="518.9" cy="419.2"/><circle cx="529.9" cy="429.2"/><circle cx="539.9" cy="431.4"/><circle cx="533.8" cy="428.8"/><circle cx="546.1" cy="433.7"/><circle cx="550.9" cy="434.8"/><circle cx="512.8" cy="432.6"/><circle cx="513.0" cy="428.9"/><circle cx="515.4" cy="435.3"/><circle cx="515.0" cy="433.8"/><circle cx="514.5" cy="434.4"/><circle cx="511.6" cy="436.3"/><circle cx="517.4" cy="438.1"/><circle cx="515.0" cy="438.8"/><circle cx="523.4" cy="445.3"/><circle cx="523.5" cy="446.9"/><circle cx="531.7" cy="454.9"/><circle cx="558.6" cy="413.1"/><circle cx="564.8" cy="421.4"/><circle cx="568.6" cy="427.1"/><circle cx="571.1" cy="432.9"/><circle cx="489.9" cy="437.4"/><circle cx="494.2" cy="440.6"/><circle cx="509.4" cy="465.9"/><circle cx="546.0" cy="445.8"/><circle cx="551.9" cy="450.6"/><circle cx="556.1" cy="454.0"/><circle cx="495.1" cy="378.6"/><circle cx="550.1" cy="410.0"/><circle cx="555.4" cy="462.3"/><circle cx="559.0" cy="460.1"/><circle cx="566.9" cy="462.3"/><circle cx="557.3" cy="440.2"/><circle cx="559.5" cy="442.8"/><circle cx="561.3" cy="439.0"/><circle cx="567.3" cy="439.1"/><circle cx="573.2" cy="433.8"/><circle cx="560.4" cy="416.9"/><circle cx="562.4" cy="420.1"/><circle cx="561.9" cy="419.0"/><circle cx="565.9" cy="419.9"/><circle cx="581.0" cy="418.4"/><circle cx="583.9" cy="422.5"/><circle cx="584.0" cy="419.4"/><circle cx="585.9" cy="422.5"/><circle cx="516.9" cy="473.3"/><circle cx="525.8" cy="501.9"/><circle cx="521.0" cy="497.5"/><circle cx="562.5" cy="452.9"/><circle cx="569.5" cy="451.2"/><circle cx="527.1" cy="476.3"/><circle cx="541.3" cy="453.9"/><circle cx="519.8" cy="443.4"/><circle cx="555.2" cy="488.1"/><circle cx="528.4" cy="375.7"/><circle cx="530.6" cy="445.7"/><circle cx="550.8" cy="357.9"/><circle cx="531.6" cy="354.3"/><circle cx="503.6" cy="405.6"/><circle cx="519.4" cy="425.3"/><circle cx="556.7" cy="389.0"/><circle cx="551.5" cy="422.6"/><circle cx="579.7" cy="403.6"/><circle cx="553.1" cy="350.6"/><circle cx="537.3" cy="390.3"/></g>
<g fill="#829fd2"><circle cx="478.6" cy="335.7"/><circle cx="499.4" cy="367.5"/><circle cx="441.3" cy="399.8"/><circle cx="467.4" cy="358.6"/><circle cx="439.0" cy="366.8"/><circle cx="472.0" cy="339.4"/><circle cx="501.2" cy="347.3"/><circle cx="522.6" cy="315.6"/><circle cx="439.6" cy="384.3"/><circle cx="526.1" cy="323.7"/><circle cx="446.4" cy="384.8"/><circle cx="443.5" cy="360.0"/><circle cx="472.7" cy="318.8"/><circle cx="439.0" cy="389.0"/><circle cx="502.1" cy="361.5"/><circle cx="503.2" cy="352.6"/><circle cx="498.4" cy="322.7"/><circle cx="503.2" cy="352.4"/><circle cx="496.4" cy="315.8"/><circle cx="449.3" cy="402.0"/><circle cx="449.7" cy="404.1"/><circle cx="501.7" cy="348.2"/><circle cx="485.8" cy="335.7"/><circle cx="458.0" cy="344.2"/><circle cx="438.5" cy="380.8"/><circle cx="457.1" cy="380.3"/><circle cx="441.6" cy="370.4"/><circle cx="470.6" cy="359.4"/><circle cx="457.9" cy="375.3"/><circle cx="503.4" cy="301.3"/><circle cx="504.1" cy="332.4"/><circle cx="524.7" cy="314.4"/><circle cx="459.1" cy="362.3"/><circle cx="487.9" cy="317.8"/><circle cx="519.2" cy="341.1"/><circle cx="526.8" cy="326.9"/><circle cx="497.3" cy="314.7"/><circle cx="436.1" cy="365.5"/><circle cx="493.8" cy="315.7"/><circle cx="498.3" cy="319.2"/><circle cx="485.8" cy="341.7"/><circle cx="454.4" cy="348.3"/><circle cx="508.5" cy="335.3"/><circle cx="480.5" cy="310.8"/><circle cx="524.8" cy="340.2"/><circle cx="449.3" cy="373.8"/><circle cx="492.4" cy="343.3"/><circle cx="530.9" cy="317.5"/><circle cx="439.4" cy="383.6"/><circle cx="488.5" cy="352.7"/><circle cx="459.2" cy="350.5"/><circle cx="487.3" cy="323.4"/><circle cx="515.0" cy="332.8"/><circle cx="523.2" cy="326.0"/><circle cx="461.4" cy="351.0"/><circle cx="471.7" cy="352.8"/><circle cx="438.1" cy="369.5"/><circle cx="449.4" cy="343.5"/><circle cx="525.4" cy="299.3"/><circle cx="477.5" cy="335.0"/><circle cx="475.0" cy="522.8"/><circle cx="472.1" cy="513.4"/><circle cx="451.9" cy="491.2"/><circle cx="471.8" cy="529.7"/><circle cx="476.1" cy="516.0"/><circle cx="432.7" cy="461.0"/><circle cx="460.0" cy="528.3"/><circle cx="445.7" cy="492.8"/><circle cx="485.8" cy="514.4"/><circle cx="452.3" cy="484.4"/><circle cx="474.7" cy="525.5"/><circle cx="437.5" cy="465.4"/><circle cx="453.6" cy="510.5"/><circle cx="474.1" cy="527.6"/><circle cx="485.3" cy="511.4"/><circle cx="474.7" cy="521.8"/><circle cx="442.3" cy="463.0"/><circle cx="467.6" cy="502.9"/><circle cx="449.5" cy="498.0"/><circle cx="474.2" cy="512.5"/><circle cx="451.6" cy="487.1"/><circle cx="468.9" cy="437.6"/><circle cx="478.8" cy="434.4"/><circle cx="478.3" cy="454.3"/><circle cx="486.7" cy="453.7"/><circle cx="465.9" cy="433.2"/><circle cx="485.5" cy="455.3"/><circle cx="485.4" cy="448.2"/><circle cx="466.9" cy="435.7"/><circle cx="476.5" cy="432.2"/><circle cx="484.3" cy="432.9"/><circle cx="490.8" cy="447.4"/><circle cx="468.7" cy="431.7"/><circle cx="481.5" cy="456.5"/><circle cx="485.2" cy="457.3"/><circle cx="495.4" cy="446.9"/><circle cx="485.1" cy="456.3"/><circle cx="501.7" cy="463.6"/><circle cx="500.2" cy="452.0"/><circle cx="558.9" cy="343.5"/><circle cx="557.6" cy="347.0"/><circle cx="565.6" cy="343.2"/><circle cx="582.3" cy="349.9"/><circle cx="589.1" cy="357.0"/><circle cx="586.1" cy="352.6"/><circle cx="586.7" cy="353.4"/><circle cx="587.5" cy="364.4"/><circle cx="584.7" cy="371.9"/><circle cx="591.0" cy="383.7"/><circle cx="590.6" cy="389.5"/><circle cx="593.4" cy="387.0"/><circle cx="589.1" cy="406.4"/><circle cx="591.2" cy="373.5"/><circle cx="590.9" cy="374.3"/><circle cx="592.8" cy="373.7"/><circle cx="604.4" cy="373.7"/><circle cx="602.7" cy="372.1"/><circle cx="605.9" cy="371.3"/><circle cx="541.8" cy="373.5"/><circle cx="552.6" cy="389.5"/><circle cx="553.8" cy="385.6"/><circle cx="556.5" cy="387.7"/><circle cx="555.7" cy="393.8"/><circle cx="560.4" cy="396.8"/><circle cx="561.6" cy="398.5"/><circle cx="564.6" cy="396.4"/><circle cx="572.3" cy="405.6"/><circle cx="570.9" cy="400.5"/><circle cx="588.7" cy="404.0"/><circle cx="515.8" cy="387.6"/><circle cx="514.7" cy="387.8"/><circle cx="525.0" cy="388.6"/><circle cx="533.2" cy="395.8"/><circle cx="536.3" cy="390.8"/><circle cx="545.4" cy="399.7"/><circle cx="545.6" cy="393.8"/><circle cx="553.9" cy="395.3"/><circle cx="562.3" cy="396.6"/><circle cx="560.8" cy="400.5"/><circle cx="563.8" cy="400.7"/><circle cx="514.8" cy="402.0"/><circle cx="520.3" cy="406.2"/><circle cx="519.4" cy="402.2"/><circle cx="519.8" cy="404.7"/><circle cx="525.8" cy="408.4"/><circle cx="525.7" cy="408.4"/><circle cx="530.5" cy="409.7"/><circle cx="529.4" cy="410.7"/><circle cx="531.5" cy="414.0"/><circle cx="536.1" cy="415.8"/><circle cx="508.7" cy="420.6"/><circle cx="511.4" cy="419.0"/><circle cx="510.0" cy="421.1"/><circle cx="524.3" cy="418.4"/><circle cx="535.4" cy="430.5"/><circle cx="537.4" cy="427.8"/><circle cx="541.0" cy="436.3"/><circle cx="545.2" cy="438.2"/><circle cx="545.3" cy="436.3"/><circle cx="512.0" cy="429.1"/><circle cx="513.0" cy="428.5"/><circle cx="520.5" cy="444.4"/><circle cx="525.1" cy="447.3"/><circle cx="526.3" cy="449.9"/><circle cx="528.7" cy="457.6"/><circle cx="530.4" cy="451.5"/><circle cx="530.5" cy="458.9"/><circle cx="541.6" cy="452.9"/><circle cx="541.3" cy="453.5"/><circle cx="534.8" cy="454.9"/><circle cx="539.8" cy="451.3"/><circle cx="539.8" cy="454.6"/><circle cx="551.1" cy="413.5"/><circle cx="569.3" cy="425.9"/><circle cx="570.5" cy="432.9"/><circle cx="490.8" cy="435.5"/><circle cx="489.8" cy="439.6"/><circle cx="492.4" cy="445.8"/><circle cx="491.4" cy="442.6"/><circle cx="496.0" cy="450.3"/><circle cx="506.2" cy="458.8"/><circle cx="553.5" cy="452.1"/><circle cx="551.5" cy="451.7"/><circle cx="561.6" cy="458.8"/><circle cx="510.2" cy="391.2"/><circle cx="524.3" cy="386.7"/><circle cx="534.7" cy="396.5"/><circle cx="534.4" cy="398.8"/><circle cx="535.4" cy="404.7"/><circle cx="541.7" cy="407.3"/><circle cx="540.7" cy="410.9"/><circle cx="543.1" cy="405.6"/><circle cx="560.3" cy="460.8"/><circle cx="554.3" cy="442.1"/><circle cx="559.5" cy="438.9"/><circle cx="571.0" cy="437.5"/><circle cx="567.9" cy="435.3"/><circle cx="575.5" cy="434.9"/><circle cx="559.0" cy="417.5"/><circle cx="560.8" cy="415.9"/><circle cx="572.3" cy="417.6"/><circle cx="566.8" cy="420.6"/><circle cx="573.4" cy="419.5"/><circle cx="571.9" cy="417.7"/><circle cx="577.4" cy="415.0"/><circle cx="585.5" cy="425.6"/><circle cx="586.6" cy="422.6"/><circle cx="519.6" cy="480.5"/><circle cx="519.9" cy="480.8"/><circle cx="523.4" cy="481.3"/><circle cx="523.6" cy="484.8"/><circle cx="525.8" cy="505.0"/><circle cx="560.3" cy="452.9"/><circle cx="564.4" cy="451.7"/><circle cx="538.5" cy="494.4"/><circle cx="505.0" cy="485.9"/><circle cx="555.5" cy="417.6"/><circle cx="512.1" cy="401.8"/><circle cx="544.4" cy="385.8"/><circle cx="552.5" cy="357.4"/><circle cx="541.8" cy="430.2"/><circle cx="520.0" cy="422.3"/><circle cx="551.2" cy="412.1"/><circle cx="563.3" cy="447.7"/><circle cx="548.9" cy="482.1"/><circle cx="542.9" cy="504.4"/><circle cx="530.1" cy="447.0"/><circle cx="497.6" cy="460.5"/><circle cx="524.8" cy="434.5"/><circle cx="539.5" cy="437.0"/><circle cx="563.8" cy="412.5"/></g>
<g fill="#7c9ad0"><circle cx="448.4" cy="398.7"/><circle cx="486.7" cy="314.5"/><circle cx="483.0" cy="311.6"/><circle cx="500.7" cy="321.8"/><circle cx="524.3" cy="299.3"/><circle cx="452.3" cy="396.5"/><circle cx="469.4" cy="329.6"/><circle cx="478.5" cy="337.6"/><circle cx="449.9" cy="394.1"/><circle cx="457.0" cy="394.3"/><circle cx="448.1" cy="381.4"/><circle cx="514.4" cy="312.4"/><circle cx="452.3" cy="379.5"/><circle cx="470.1" cy="330.3"/><circle cx="451.6" cy="372.2"/><circle cx="440.2" cy="355.2"/><circle cx="444.7" cy="384.0"/><circle cx="519.6" cy="321.9"/><circle cx="516.3" cy="329.3"/><circle cx="487.6" cy="342.0"/><circle cx="496.0" cy="339.3"/><circle cx="470.5" cy="314.8"/><circle cx="520.9" cy="307.6"/><circle cx="489.2" cy="345.7"/><circle cx="436.5" cy="371.4"/><circle cx="504.5" cy="316.9"/><circle cx="451.7" cy="395.9"/><circle cx="451.5" cy="351.2"/><circle cx="485.3" cy="332.0"/><circle cx="488.3" cy="336.4"/><circle cx="475.6" cy="336.8"/><circle cx="452.4" cy="352.1"/><circle cx="514.3" cy="329.7"/><circle cx="444.9" cy="381.9"/><circle cx="467.0" cy="352.6"/><circle cx="535.8" cy="308.8"/><circle cx="452.7" cy="402.1"/><circle cx="509.7" cy="333.1"/><circle cx="511.4" cy="297.6"/><circle cx="502.6" cy="359.0"/><circle cx="445.9" cy="377.0"/><circle cx="472.6" cy="338.2"/><circle cx="469.0" cy="363.3"/><circle cx="537.9" cy="297.7"/><circle cx="444.9" cy="394.6"/><circle cx="502.7" cy="297.9"/><circle cx="533.7" cy="322.3"/><circle cx="493.1" cy="330.9"/><circle cx="489.8" cy="366.3"/><circle cx="452.7" cy="344.4"/><circle cx="446.4" cy="385.0"/><circle cx="501.6" cy="313.8"/><circle cx="522.7" cy="322.3"/><circle cx="463.7" cy="352.6"/><circle cx="503.5" cy="344.0"/><circle cx="462.9" cy="363.5"/><circle cx="463.8" cy="352.8"/><circle cx="449.9" cy="361.6"/><circle cx="524.4" cy="296.7"/><circle cx="489.5" cy="363.3"/><circle cx="518.9" cy="332.0"/><circle cx="480.2" cy="324.6"/><circle cx="470.6" cy="363.3"/><circle cx="511.8" cy="331.7"/><circle cx="435.7" cy="365.3"/><circle cx="528.1" cy="309.8"/><circle cx="496.9" cy="340.1"/><circle cx="441.6" cy="398.2"/><circle cx="480.2" cy="338.2"/><circle cx="470.9" cy="357.0"/><circle cx="461.0" cy="363.5"/><circle cx="528.6" cy="298.2"/><circle cx="462.1" cy="339.4"/><circle cx="509.9" cy="297.4"/><circle cx="457.2" cy="378.0"/><circle cx="448.3" cy="368.4"/><circle cx="488.7" cy="333.9"/><circle cx="476.4" cy="318.9"/><circle cx="489.8" cy="350.8"/><circle cx="445.0" cy="398.4"/><circle cx="495.5" cy="321.4"/><circle cx="489.7" cy="333.3"/><circle cx="495.8" cy="331.5"/><circle cx="454.8" cy="335.1"/><circle cx="489.7" cy="323.7"/><circle cx="458.3" cy="396.4"/><circle cx="488.5" cy="315.5"/><circle cx="505.3" cy="317.1"/><circle cx="504.8" cy="363.2"/><circle cx="453.3" cy="399.4"/><circle cx="449.0" cy="348.7"/><circle cx="495.2" cy="323.6"/><circle cx="501.0" cy="300.0"/><circle cx="493.2" cy="318.6"/><circle cx="507.3" cy="297.0"/><circle cx="472.8" cy="353.4"/><circle cx="468.6" cy="360.2"/><circle cx="495.8" cy="322.3"/><circle cx="463.3" cy="349.1"/><circle cx="465.3" cy="346.8"/><circle cx="519.3" cy="316.7"/><circle cx="452.8" cy="349.6"/><circle cx="469.7" cy="329.3"/><circle cx="457.7" cy="345.1"/><circle cx="504.7" cy="322.6"/><circle cx="471.5" cy="329.7"/><circle cx="432.2" cy="464.2"/><circle cx="474.3" cy="519.3"/><circle cx="449.5" cy="513.3"/><circle cx="479.7" cy="511.7"/><circle cx="447.0" cy="468.2"/><circle cx="472.9" cy="518.4"/><circle cx="454.6" cy="516.4"/><circle cx="453.5" cy="506.3"/><circle cx="451.1" cy="517.1"/><circle cx="479.2" cy="513.0"/><circle cx="474.8" cy="518.5"/><circle cx="447.0" cy="511.5"/><circle cx="481.4" cy="530.5"/><circle cx="478.7" cy="522.5"/><circle cx="431.8" cy="458.6"/><circle cx="452.6" cy="520.2"/><circle cx="461.8" cy="526.0"/><circle cx="441.9" cy="464.7"/><circle cx="458.2" cy="503.2"/><circle cx="476.3" cy="506.0"/><circle cx="460.3" cy="510.4"/><circle cx="473.3" cy="531.3"/><circle cx="448.0" cy="475.8"/><circle cx="442.8" cy="475.6"/><circle cx="477.4" cy="531.2"/><circle cx="435.6" cy="449.6"/><circle cx="441.5" cy="471.3"/><circle cx="446.3" cy="486.0"/><circle cx="490.1" cy="520.5"/><circle cx="471.5" cy="514.2"/><circle cx="451.2" cy="496.6"/><circle cx="447.4" cy="496.6"/><circle cx="454.5" cy="520.7"/><circle cx="479.9" cy="529.1"/><circle cx="434.3" cy="451.7"/><circle cx="459.5" cy="519.5"/><circle cx="451.1" cy="513.5"/><circle cx="458.8" cy="507.4"/><circle cx="440.5" cy="449.3"/><circle cx="457.8" cy="513.0"/><circle cx="434.3" cy="478.9"/><circle cx="470.1" cy="433.1"/><circle cx="488.8" cy="449.1"/><circle cx="483.7" cy="465.1"/><circle cx="491.5" cy="460.2"/><circle cx="467.7" cy="440.8"/><circle cx="469.1" cy="434.2"/><circle cx="479.4" cy="441.8"/><circle cx="482.1" cy="433.7"/><circle cx="469.3" cy="440.3"/><circle cx="492.6" cy="446.8"/><circle cx="487.9" cy="438.2"/><circle cx="486.1" cy="446.0"/><circle cx="483.0" cy="435.3"/><circle cx="480.2" cy="451.8"/><circle cx="477.2" cy="449.6"/><circle cx="477.7" cy="462.8"/><circle cx="467.0" cy="429.3"/><circle cx="466.8" cy="438.7"/><circle cx="469.8" cy="439.6"/><circle cx="465.7" cy="436.9"/><circle cx="480.7" cy="433.4"/><circle cx="493.5" cy="443.1"/><circle cx="487.7" cy="431.0"/><circle cx="477.5" cy="440.0"/><circle cx="495.7" cy="442.5"/><circle cx="550.1" cy="341.4"/><circle cx="553.0" cy="342.6"/><circle cx="553.9" cy="341.0"/><circle cx="558.7" cy="344.8"/><circle cx="554.8" cy="338.8"/><circle cx="556.9" cy="343.2"/><circle cx="556.6" cy="345.7"/><circle cx="561.0" cy="344.7"/><circle cx="563.1" cy="350.0"/><circle cx="565.8" cy="349.2"/><circle cx="575.6" cy="349.4"/><circle cx="577.3" cy="346.2"/><circle cx="581.7" cy="351.4"/><circle cx="583.1" cy="351.5"/><circle cx="586.1" cy="355.2"/><circle cx="584.0" cy="352.9"/><circle cx="594.9" cy="360.0"/><circle cx="590.6" cy="359.4"/><circle cx="589.8" cy="362.3"/><circle cx="591.9" cy="364.1"/><circle cx="588.3" cy="363.6"/><circle cx="582.3" cy="366.7"/><circle cx="584.9" cy="367.2"/><circle cx="583.6" cy="374.6"/><circle cx="582.8" cy="377.2"/><circle cx="585.8" cy="375.1"/><circle cx="590.6" cy="387.4"/><circle cx="594.8" cy="389.8"/><circle cx="593.1" cy="392.0"/><circle cx="594.5" cy="395.7"/><circle cx="593.8" cy="387.7"/><circle cx="590.9" cy="405.7"/><circle cx="590.3" cy="404.0"/><circle cx="594.9" cy="372.3"/><circle cx="596.0" cy="373.6"/><circle cx="606.0" cy="369.3"/><circle cx="606.4" cy="372.1"/><circle cx="553.0" cy="387.6"/><circle cx="551.5" cy="387.6"/><circle cx="556.5" cy="388.6"/><circle cx="571.8" cy="404.5"/><circle cx="569.5" cy="405.1"/><circle cx="580.4" cy="389.7"/><circle cx="582.4" cy="395.6"/><circle cx="590.7" cy="401.9"/><circle cx="513.9" cy="390.1"/><circle cx="513.4" cy="388.1"/><circle cx="523.9" cy="387.6"/><circle cx="532.4" cy="393.6"/><circle cx="525.6" cy="391.9"/><circle cx="529.7" cy="395.8"/><circle cx="531.6" cy="391.5"/><circle cx="541.6" cy="396.4"/><circle cx="539.8" cy="393.9"/><circle cx="538.7" cy="393.9"/><circle cx="540.5" cy="394.2"/><circle cx="545.4" cy="395.7"/><circle cx="544.4" cy="392.3"/><circle cx="552.6" cy="395.9"/><circle cx="556.8" cy="395.4"/><circle cx="555.9" cy="398.0"/><circle cx="559.7" cy="397.8"/><circle cx="565.4" cy="398.4"/><circle cx="565.4" cy="400.1"/><circle cx="565.8" cy="400.9"/><circle cx="561.3" cy="401.4"/><circle cx="567.8" cy="400.8"/><circle cx="518.1" cy="400.2"/><circle cx="515.5" cy="400.5"/><circle cx="518.1" cy="401.2"/><circle cx="523.7" cy="407.5"/><circle cx="530.2" cy="412.9"/><circle cx="541.0" cy="421.9"/><circle cx="544.0" cy="429.1"/><circle cx="540.2" cy="428.1"/><circle cx="542.9" cy="435.5"/><circle cx="541.2" cy="433.4"/><circle cx="545.9" cy="431.9"/><circle cx="521.0" cy="418.4"/><circle cx="521.9" cy="421.1"/><circle cx="527.2" cy="420.8"/><circle cx="526.6" cy="421.6"/><circle cx="527.1" cy="420.8"/><circle cx="533.4" cy="427.9"/><circle cx="535.8" cy="429.4"/><circle cx="537.6" cy="428.9"/><circle cx="546.4" cy="437.9"/><circle cx="547.6" cy="435.3"/><circle cx="512.8" cy="428.7"/><circle cx="515.8" cy="438.0"/><circle cx="517.3" cy="435.0"/><circle cx="519.9" cy="443.6"/><circle cx="518.8" cy="447.9"/><circle cx="518.3" cy="442.0"/><circle cx="522.6" cy="448.2"/><circle cx="525.4" cy="451.3"/><circle cx="522.7" cy="452.3"/><circle cx="525.2" cy="454.0"/><circle cx="528.7" cy="456.5"/><circle cx="538.4" cy="454.6"/><circle cx="541.2" cy="457.3"/><circle cx="544.1" cy="456.8"/><circle cx="563.9" cy="424.7"/><circle cx="563.1" cy="415.6"/><circle cx="570.8" cy="423.6"/><circle cx="494.0" cy="436.1"/><circle cx="491.5" cy="443.2"/><circle cx="495.6" cy="447.6"/><circle cx="498.2" cy="448.7"/><circle cx="493.9" cy="447.2"/><circle cx="500.0" cy="459.1"/><circle cx="501.0" cy="458.0"/><circle cx="503.3" cy="458.6"/><circle cx="502.9" cy="459.3"/><circle cx="506.2" cy="462.2"/><circle cx="562.6" cy="467.5"/><circle cx="500.9" cy="382.5"/><circle cx="506.8" cy="387.1"/><circle cx="534.8" cy="399.5"/><circle cx="534.5" cy="398.4"/><circle cx="542.9" cy="406.2"/><circle cx="541.7" cy="407.5"/><circle cx="540.7" cy="405.0"/><circle cx="542.1" cy="410.7"/><circle cx="543.5" cy="410.4"/><circle cx="547.3" cy="414.6"/><circle cx="554.3" cy="461.4"/><circle cx="555.5" cy="460.6"/><circle cx="562.7" cy="460.5"/><circle cx="554.0" cy="439.4"/><circle cx="548.2" cy="439.9"/><circle cx="564.3" cy="438.4"/><circle cx="567.9" cy="439.8"/><circle cx="565.1" cy="437.7"/><circle cx="567.5" cy="437.0"/><circle cx="576.4" cy="435.2"/><circle cx="575.9" cy="432.7"/><circle cx="562.4" cy="420.8"/><circle cx="565.6" cy="421.5"/><circle cx="568.3" cy="418.7"/><circle cx="577.2" cy="418.0"/><circle cx="575.1" cy="417.3"/><circle cx="581.7" cy="417.0"/><circle cx="585.9" cy="423.4"/><circle cx="585.1" cy="420.9"/><circle cx="522.6" cy="479.3"/><circle cx="524.2" cy="494.3"/><circle cx="525.6" cy="503.7"/><circle cx="521.1" cy="504.6"/><circle cx="571.3" cy="449.7"/><circle cx="563.2" cy="376.6"/><circle cx="540.0" cy="412.9"/><circle cx="563.3" cy="371.5"/><circle cx="539.6" cy="391.3"/><circle cx="551.0" cy="463.0"/><circle cx="530.7" cy="399.6"/><circle cx="542.0" cy="362.0"/><circle cx="560.9" cy="450.4"/><circle cx="503.3" cy="453.8"/><circle cx="551.4" cy="438.8"/><circle cx="533.3" cy="438.3"/><circle cx="561.8" cy="351.2"/></g>
<g fill="#7694cd"><circle cx="497.0" cy="360.2"/><circle cx="490.6" cy="348.3"/><circle cx="486.5" cy="337.2"/><circle cx="532.8" cy="321.7"/><circle cx="478.0" cy="340.9"/><circle cx="461.1" cy="366.8"/><circle cx="438.0" cy="370.1"/><circle cx="520.9" cy="343.0"/><circle cx="501.0" cy="346.6"/><circle cx="502.0" cy="345.5"/><circle cx="466.3" cy="348.5"/><circle cx="499.4" cy="365.7"/><circle cx="449.9" cy="385.5"/><circle cx="462.3" cy="341.9"/><circle cx="530.5" cy="333.1"/><circle cx="449.4" cy="344.8"/><circle cx="521.9" cy="335.4"/><circle cx="460.8" cy="341.8"/><circle cx="525.1" cy="320.4"/><circle cx="510.5" cy="326.8"/><circle cx="504.7" cy="315.6"/><circle cx="473.3" cy="321.3"/><circle cx="437.8" cy="371.8"/><circle cx="462.1" cy="356.3"/><circle cx="472.2" cy="340.6"/><circle cx="521.2" cy="329.9"/><circle cx="536.4" cy="303.1"/><circle cx="495.6" cy="341.2"/><circle cx="446.3" cy="385.9"/><circle cx="457.4" cy="396.8"/><circle cx="475.4" cy="333.9"/><circle cx="505.0" cy="324.4"/><circle cx="446.0" cy="378.1"/><circle cx="525.3" cy="299.6"/><circle cx="439.2" cy="351.9"/><circle cx="530.0" cy="298.4"/><circle cx="498.9" cy="371.5"/><circle cx="458.1" cy="364.0"/><circle cx="450.4" cy="371.9"/><circle cx="509.2" cy="299.9"/><circle cx="500.7" cy="332.3"/><circle cx="453.6" cy="402.5"/><circle cx="458.9" cy="395.9"/><circle cx="453.2" cy="343.7"/><circle cx="529.1" cy="319.7"/><circle cx="516.0" cy="305.0"/><circle cx="457.7" cy="395.5"/><circle cx="518.9" cy="342.0"/><circle cx="499.2" cy="329.5"/><circle cx="443.4" cy="401.0"/><circle cx="520.1" cy="306.6"/><circle cx="449.4" cy="360.5"/><circle cx="487.8" cy="331.7"/><circle cx="494.9" cy="330.2"/><circle cx="445.9" cy="363.9"/><circle cx="526.5" cy="334.2"/><circle cx="519.9" cy="303.6"/><circle cx="457.5" cy="343.6"/><circle cx="456.1" cy="367.5"/><circle cx="510.6" cy="335.6"/><circle cx="450.7" cy="353.1"/><circle cx="454.3" cy="343.6"/><circle cx="488.0" cy="351.3"/><circle cx="528.3" cy="307.5"/><circle cx="458.4" cy="374.8"/><circle cx="478.1" cy="333.5"/><circle cx="505.2" cy="354.7"/><circle cx="445.0" cy="400.5"/><circle cx="445.4" cy="383.9"/><circle cx="455.5" cy="386.5"/><circle cx="452.0" cy="339.5"/><circle cx="519.5" cy="305.4"/><circle cx="501.8" cy="366.9"/><circle cx="490.5" cy="318.7"/><circle cx="514.6" cy="302.8"/><circle cx="538.9" cy="299.5"/><circle cx="444.0" cy="382.8"/><circle cx="526.6" cy="326.9"/><circle cx="524.6" cy="297.5"/><circle cx="499.1" cy="330.4"/><circle cx="525.7" cy="322.6"/><circle cx="456.6" cy="351.9"/><circle cx="507.7" cy="309.7"/><circle cx="450.9" cy="377.2"/><circle cx="494.5" cy="339.8"/><circle cx="461.6" cy="343.5"/><circle cx="490.4" cy="337.8"/><circle cx="529.9" cy="313.3"/><circle cx="521.9" cy="334.9"/><circle cx="455.2" cy="391.1"/><circle cx="507.1" cy="343.2"/><circle cx="529.0" cy="301.4"/><circle cx="528.2" cy="330.5"/><circle cx="457.8" cy="368.5"/><circle cx="519.1" cy="341.2"/><circle cx="509.0" cy="325.8"/><circle cx="446.2" cy="367.2"/><circle cx="448.4" cy="351.5"/><circle cx="527.7" cy="309.5"/><circle cx="438.1" cy="390.5"/><circle cx="496.1" cy="318.4"/><circle cx="531.5" cy="316.1"/><circle cx="490.0" cy="332.9"/><circle cx="440.5" cy="379.7"/><circle cx="454.9" cy="341.0"/><circle cx="447.8" cy="360.4"/><circle cx="457.9" cy="370.0"/><circle cx="480.4" cy="340.8"/><circle cx="499.1" cy="328.3"/><circle cx="458.7" cy="325.2"/><circle cx="505.5" cy="326.2"/><circle cx="481.6" cy="336.5"/><circle cx="524.3" cy="320.4"/><circle cx="497.9" cy="337.4"/><circle cx="480.9" cy="336.8"/><circle cx="455.1" cy="368.3"/><circle cx="516.4" cy="327.4"/><circle cx="502.9" cy="353.0"/><circle cx="459.8" cy="337.3"/><circle cx="459.7" cy="370.4"/><circle cx="455.1" cy="368.8"/><circle cx="466.2" cy="342.7"/><circle cx="489.6" cy="349.7"/><circle cx="508.2" cy="298.6"/><circle cx="455.7" cy="394.9"/><circle cx="500.2" cy="326.0"/><circle cx="465.4" cy="506.7"/><circle cx="440.9" cy="467.6"/><circle cx="444.2" cy="476.6"/><circle cx="456.4" cy="509.2"/><circle cx="473.2" cy="507.3"/><circle cx="458.7" cy="508.7"/><circle cx="440.9" cy="465.9"/><circle cx="445.0" cy="472.2"/><circle cx="435.9" cy="452.6"/><circle cx="473.3" cy="517.3"/><circle cx="442.5" cy="473.7"/><circle cx="450.8" cy="473.4"/><circle cx="450.5" cy="497.1"/><circle cx="432.7" cy="460.1"/><circle cx="485.0" cy="514.9"/><circle cx="436.9" cy="454.5"/><circle cx="439.4" cy="470.2"/><circle cx="476.3" cy="525.5"/><circle cx="477.2" cy="527.0"/><circle cx="434.8" cy="453.9"/><circle cx="446.8" cy="511.2"/><circle cx="486.5" cy="515.8"/><circle cx="476.4" cy="526.9"/><circle cx="440.0" cy="470.3"/><circle cx="435.7" cy="468.2"/><circle cx="465.3" cy="525.0"/><circle cx="488.8" cy="518.4"/><circle cx="471.8" cy="532.8"/><circle cx="460.1" cy="526.8"/><circle cx="457.2" cy="514.5"/><circle cx="452.3" cy="486.3"/><circle cx="462.6" cy="507.4"/><circle cx="475.0" cy="526.1"/><circle cx="463.3" cy="528.3"/><circle cx="468.0" cy="514.1"/><circle cx="435.1" cy="469.5"/><circle cx="444.2" cy="486.8"/><circle cx="438.7" cy="464.1"/><circle cx="475.6" cy="501.6"/><circle cx="477.6" cy="521.9"/><circle cx="456.0" cy="523.2"/><circle cx="453.4" cy="487.3"/><circle cx="477.4" cy="515.3"/><circle cx="436.8" cy="450.7"/><circle cx="453.8" cy="492.7"/><circle cx="458.0" cy="506.7"/><circle cx="437.1" cy="453.4"/><circle cx="440.5" cy="468.6"/><circle cx="441.5" cy="454.0"/><circle cx="458.0" cy="511.0"/><circle cx="459.3" cy="527.8"/><circle cx="455.3" cy="515.8"/><circle cx="431.9" cy="454.4"/><circle cx="479.4" cy="528.2"/><circle cx="464.1" cy="509.2"/><circle cx="473.5" cy="505.1"/><circle cx="474.9" cy="514.5"/><circle cx="475.3" cy="436.6"/><circle cx="493.0" cy="460.4"/><circle cx="488.6" cy="432.0"/><circle cx="497.7" cy="444.6"/><circle cx="488.5" cy="447.4"/><circle cx="490.3" cy="445.1"/><circle cx="490.4" cy="458.3"/><circle cx="486.9" cy="465.7"/><circle cx="484.6" cy="444.9"/><circle cx="465.9" cy="434.4"/><circle cx="494.3" cy="459.7"/><circle cx="496.6" cy="446.0"/><circle cx="475.6" cy="437.8"/><circle cx="481.6" cy="454.0"/><circle cx="493.2" cy="457.9"/><circle cx="484.7" cy="432.4"/><circle cx="466.7" cy="428.9"/><circle cx="490.2" cy="455.1"/><circle cx="486.0" cy="453.8"/><circle cx="485.3" cy="454.8"/><circle cx="492.8" cy="460.9"/><circle cx="482.7" cy="452.3"/><circle cx="476.4" cy="439.8"/><circle cx="483.2" cy="442.6"/><circle cx="477.9" cy="449.8"/><circle cx="501.7" cy="457.2"/><circle cx="506.3" cy="462.3"/><circle cx="507.1" cy="456.2"/><circle cx="552.7" cy="342.2"/><circle cx="551.9" cy="339.1"/><circle cx="556.8" cy="343.9"/><circle cx="559.0" cy="341.7"/><circle cx="569.4" cy="343.3"/><circle cx="562.7" cy="348.6"/><circle cx="568.6" cy="349.6"/><circle cx="571.5" cy="349.6"/><circle cx="573.5" cy="351.7"/><circle cx="577.6" cy="348.9"/><circle cx="576.2" cy="345.9"/><circle cx="579.7" cy="346.1"/><circle cx="579.9" cy="349.0"/><circle cx="582.0" cy="350.4"/><circle cx="586.0" cy="349.9"/><circle cx="588.3" cy="350.3"/><circle cx="584.0" cy="360.8"/><circle cx="588.4" cy="358.1"/><circle cx="590.2" cy="359.8"/><circle cx="592.7" cy="360.8"/><circle cx="591.8" cy="358.4"/><circle cx="586.7" cy="361.6"/><circle cx="588.2" cy="366.0"/><circle cx="588.9" cy="369.7"/><circle cx="582.2" cy="374.0"/><circle cx="585.2" cy="375.9"/><circle cx="586.0" cy="377.0"/><circle cx="584.9" cy="383.1"/><circle cx="586.8" cy="381.3"/><circle cx="591.3" cy="382.6"/><circle cx="591.5" cy="382.2"/><circle cx="591.9" cy="387.6"/><circle cx="593.1" cy="384.7"/><circle cx="593.5" cy="383.6"/><circle cx="596.9" cy="389.1"/><circle cx="593.9" cy="391.6"/><circle cx="594.1" cy="391.5"/><circle cx="590.4" cy="401.2"/><circle cx="592.0" cy="399.9"/><circle cx="590.9" cy="405.6"/><circle cx="592.6" cy="404.8"/><circle cx="602.2" cy="373.9"/><circle cx="600.6" cy="372.5"/><circle cx="600.5" cy="374.3"/><circle cx="603.4" cy="370.3"/><circle cx="553.1" cy="347.9"/><circle cx="551.0" cy="387.7"/><circle cx="556.0" cy="389.8"/><circle cx="566.4" cy="396.6"/><circle cx="569.6" cy="400.0"/><circle cx="567.8" cy="401.6"/><circle cx="579.5" cy="390.2"/><circle cx="586.8" cy="397.7"/><circle cx="585.6" cy="398.6"/><circle cx="587.1" cy="400.1"/><circle cx="586.2" cy="400.3"/><circle cx="591.4" cy="399.1"/><circle cx="585.3" cy="401.1"/><circle cx="591.7" cy="403.7"/><circle cx="587.5" cy="400.8"/><circle cx="510.4" cy="389.3"/><circle cx="515.3" cy="384.1"/><circle cx="519.9" cy="387.0"/><circle cx="520.8" cy="388.4"/><circle cx="524.8" cy="392.9"/><circle cx="521.0" cy="389.7"/><circle cx="525.5" cy="393.1"/><circle cx="529.1" cy="394.4"/><circle cx="529.6" cy="397.8"/><circle cx="529.4" cy="393.2"/><circle cx="541.7" cy="398.7"/><circle cx="544.6" cy="395.4"/><circle cx="544.1" cy="396.8"/><circle cx="545.1" cy="391.6"/><circle cx="552.9" cy="395.1"/><circle cx="559.6" cy="395.5"/><circle cx="558.8" cy="399.8"/><circle cx="562.4" cy="400.5"/><circle cx="563.7" cy="396.6"/><circle cx="562.3" cy="403.0"/><circle cx="568.5" cy="402.3"/><circle cx="572.8" cy="403.7"/><circle cx="566.8" cy="395.5"/><circle cx="569.6" cy="399.9"/><circle cx="517.1" cy="397.5"/><circle cx="526.0" cy="409.2"/><circle cx="530.3" cy="412.0"/><circle cx="533.0" cy="416.8"/><circle cx="530.2" cy="413.9"/><circle cx="536.3" cy="418.7"/><circle cx="537.0" cy="416.4"/><circle cx="540.6" cy="425.5"/><circle cx="538.7" cy="421.4"/><circle cx="539.4" cy="423.6"/><circle cx="536.8" cy="425.4"/><circle cx="543.9" cy="424.5"/><circle cx="542.3" cy="424.2"/><circle cx="543.4" cy="429.7"/><circle cx="514.6" cy="418.6"/><circle cx="515.8" cy="419.1"/><circle cx="521.2" cy="420.9"/><circle cx="522.4" cy="422.3"/><circle cx="523.8" cy="425.2"/><circle cx="524.4" cy="425.8"/><circle cx="528.4" cy="423.7"/><circle cx="532.0" cy="425.7"/><circle cx="535.0" cy="427.7"/><circle cx="531.2" cy="429.5"/><circle cx="537.9" cy="431.8"/><circle cx="541.4" cy="433.0"/><circle cx="542.2" cy="431.8"/><circle cx="545.5" cy="432.4"/><circle cx="547.7" cy="436.3"/><circle cx="511.1" cy="427.8"/><circle cx="508.2" cy="423.3"/><circle cx="512.5" cy="430.8"/><circle cx="511.7" cy="431.4"/><circle cx="513.7" cy="432.4"/><circle cx="513.1" cy="431.3"/><circle cx="516.7" cy="444.2"/><circle cx="522.5" cy="447.8"/><circle cx="517.5" cy="445.3"/><circle cx="520.3" cy="443.7"/><circle cx="524.3" cy="446.6"/><circle cx="519.9" cy="444.8"/><circle cx="522.3" cy="447.1"/><circle cx="519.8" cy="448.5"/><circle cx="524.0" cy="451.2"/><circle cx="530.3" cy="453.9"/><circle cx="536.8" cy="453.0"/><circle cx="538.8" cy="453.7"/><circle cx="537.1" cy="457.3"/><circle cx="556.7" cy="415.2"/><circle cx="563.0" cy="417.8"/><circle cx="572.0" cy="425.1"/><circle cx="567.9" cy="428.2"/><circle cx="570.5" cy="431.6"/><circle cx="488.7" cy="436.7"/><circle cx="499.3" cy="445.2"/><circle cx="498.9" cy="448.7"/><circle cx="500.7" cy="458.5"/><circle cx="506.4" cy="459.5"/><circle cx="507.1" cy="464.8"/><circle cx="553.1" cy="453.2"/><circle cx="533.6" cy="396.8"/><circle cx="534.0" cy="399.6"/><circle cx="533.8" cy="399.4"/><circle cx="539.3" cy="408.4"/><circle cx="542.8" cy="409.0"/><circle cx="544.4" cy="410.3"/><circle cx="554.5" cy="461.6"/><circle cx="551.9" cy="460.5"/><circle cx="553.9" cy="459.3"/><circle cx="556.4" cy="460.2"/><circle cx="559.5" cy="463.0"/><circle cx="564.6" cy="463.8"/><circle cx="550.9" cy="437.9"/><circle cx="547.8" cy="438.7"/><circle cx="547.3" cy="440.8"/><circle cx="558.5" cy="438.2"/><circle cx="558.2" cy="442.6"/><circle cx="557.6" cy="438.1"/><circle cx="564.7" cy="438.0"/><circle cx="565.8" cy="440.5"/><circle cx="566.9" cy="438.3"/><circle cx="576.4" cy="435.6"/><circle cx="577.2" cy="434.5"/><circle cx="574.0" cy="433.0"/><circle cx="571.6" cy="434.0"/><circle cx="557.1" cy="417.8"/><circle cx="566.6" cy="421.7"/><circle cx="571.1" cy="417.6"/><circle cx="581.6" cy="416.8"/><circle cx="584.8" cy="424.4"/><circle cx="585.6" cy="421.5"/><circle cx="520.4" cy="494.1"/><circle cx="546.5" cy="397.9"/><circle cx="527.5" cy="375.2"/><circle cx="553.8" cy="442.0"/><circle cx="549.2" cy="420.1"/><circle cx="536.2" cy="434.5"/><circle cx="533.1" cy="379.3"/><circle cx="505.2" cy="486.3"/><circle cx="523.5" cy="448.5"/><circle cx="580.5" cy="400.2"/><circle cx="567.9" cy="342.5"/><circle cx="545.1" cy="508.3"/><circle cx="499.9" cy="476.0"/><circle cx="566.7" cy="345.8"/></g>
<g fill="#708fcb"><circle cx="502.9" cy="301.1"/><circle cx="456.3" cy="371.9"/><circle cx="462.1" cy="335.4"/><circle cx="493.0" cy="330.6"/><circle cx="445.8" cy="357.9"/><circle cx="528.7" cy="310.6"/><circle cx="451.6" cy="342.9"/><circle cx="489.9" cy="320.4"/><circle cx="505.0" cy="325.5"/><circle cx="492.1" cy="321.1"/><circle cx="482.0" cy="327.8"/><circle cx="484.2" cy="332.7"/><circle cx="526.2" cy="295.2"/><circle cx="531.7" cy="319.1"/><circle cx="470.2" cy="324.4"/><circle cx="509.8" cy="329.5"/><circle cx="481.6" cy="319.9"/><circle cx="533.9" cy="305.0"/><circle cx="497.5" cy="368.6"/><circle cx="473.6" cy="351.4"/><circle cx="448.0" cy="402.5"/><circle cx="492.4" cy="365.7"/><circle cx="527.5" cy="320.4"/><circle cx="451.6" cy="383.7"/><circle cx="478.6" cy="341.6"/><circle cx="492.9" cy="323.5"/><circle cx="449.3" cy="350.1"/><circle cx="521.4" cy="331.3"/><circle cx="443.9" cy="363.5"/><circle cx="486.4" cy="351.0"/><circle cx="516.2" cy="332.1"/><circle cx="488.6" cy="323.9"/><circle cx="527.8" cy="341.7"/><circle cx="494.9" cy="340.5"/><circle cx="534.3" cy="320.9"/><circle cx="517.8" cy="321.0"/><circle cx="487.6" cy="319.1"/><circle cx="500.6" cy="345.4"/><circle cx="521.8" cy="306.0"/><circle cx="521.9" cy="320.5"/><circle cx="487.1" cy="311.0"/><circle cx="471.2" cy="315.4"/><circle cx="488.5" cy="361.2"/><circle cx="521.7" cy="338.3"/><circle cx="497.0" cy="317.5"/><circle cx="506.7" cy="337.0"/><circle cx="453.8" cy="388.0"/><circle cx="538.1" cy="297.9"/><circle cx="443.0" cy="386.9"/><circle cx="475.3" cy="337.5"/><circle cx="520.4" cy="304.5"/><circle cx="468.6" cy="324.5"/><circle cx="517.2" cy="303.4"/><circle cx="504.0" cy="366.3"/><circle cx="502.0" cy="325.4"/><circle cx="533.6" cy="315.6"/><circle cx="437.9" cy="383.3"/><circle cx="448.7" cy="345.5"/><circle cx="522.9" cy="308.2"/><circle cx="529.7" cy="337.2"/><circle cx="510.7" cy="298.9"/><circle cx="454.3" cy="386.7"/><circle cx="437.2" cy="389.3"/><circle cx="508.8" cy="322.1"/><circle cx="525.4" cy="317.4"/><circle cx="447.3" cy="404.5"/><circle cx="530.6" cy="304.8"/><circle cx="444.3" cy="365.3"/><circle cx="518.0" cy="328.7"/><circle cx="535.2" cy="305.1"/><circle cx="531.7" cy="298.8"/><circle cx="444.1" cy="400.4"/><circle cx="454.9" cy="379.8"/><circle cx="500.8" cy="354.7"/><circle cx="451.5" cy="372.3"/><circle cx="446.3" cy="379.6"/><circle cx="458.0" cy="339.3"/><circle cx="444.3" cy="377.2"/><circle cx="494.0" cy="315.5"/><circle cx="469.0" cy="330.9"/><circle cx="461.8" cy="367.7"/><circle cx="505.8" cy="356.3"/><circle cx="488.2" cy="351.0"/><circle cx="491.1" cy="318.0"/><circle cx="481.0" cy="330.5"/><circle cx="443.7" cy="386.0"/><circle cx="479.2" cy="336.3"/><circle cx="522.7" cy="320.7"/><circle cx="462.6" cy="339.2"/><circle cx="460.6" cy="352.8"/><circle cx="494.1" cy="324.8"/><circle cx="493.7" cy="316.8"/><circle cx="501.4" cy="344.3"/><circle cx="490.8" cy="362.3"/><circle cx="468.4" cy="315.8"/><circle cx="447.7" cy="357.9"/><circle cx="460.0" cy="352.5"/><circle cx="439.1" cy="389.4"/><circle cx="492.8" cy="355.5"/><circle cx="521.3" cy="301.4"/><circle cx="505.3" cy="358.0"/><circle cx="495.7" cy="320.2"/><circle cx="531.2" cy="301.0"/><circle cx="524.8" cy="295.5"/><circle cx="458.1" cy="343.8"/><circle cx="445.7" cy="379.6"/><circle cx="443.3" cy="380.1"/><circle cx="532.5" cy="312.7"/><circle cx="502.0" cy="361.9"/><circle cx="440.0" cy="394.2"/><circle cx="488.4" cy="360.5"/><circle cx="517.1" cy="314.3"/><circle cx="435.3" cy="363.3"/><circle cx="445.7" cy="359.7"/><circle cx="526.9" cy="300.8"/><circle cx="500.7" cy="370.6"/><circle cx="480.1" cy="329.6"/><circle cx="465.3" cy="345.8"/><circle cx="499.3" cy="364.8"/><circle cx="518.8" cy="345.6"/><circle cx="474.0" cy="347.9"/><circle cx="522.6" cy="311.4"/><circle cx="500.9" cy="356.2"/><circle cx="505.8" cy="315.0"/><circle cx="513.8" cy="298.1"/><circle cx="459.0" cy="348.2"/><circle cx="531.6" cy="311.2"/><circle cx="492.1" cy="340.9"/><circle cx="493.3" cy="323.5"/><circle cx="436.6" cy="357.2"/><circle cx="473.7" cy="319.4"/><circle cx="481.3" cy="325.7"/><circle cx="504.8" cy="300.3"/><circle cx="480.1" cy="339.5"/><circle cx="512.7" cy="323.3"/><circle cx="522.2" cy="342.6"/><circle cx="504.6" cy="303.7"/><circle cx="465.3" cy="345.3"/><circle cx="533.4" cy="315.2"/><circle cx="527.3" cy="329.8"/><circle cx="501.0" cy="352.3"/><circle cx="498.1" cy="355.8"/><circle cx="476.2" cy="338.7"/><circle cx="494.5" cy="327.8"/><circle cx="526.6" cy="303.8"/><circle cx="471.6" cy="319.7"/><circle cx="489.5" cy="352.3"/><circle cx="444.0" cy="377.9"/><circle cx="475.1" cy="339.6"/><circle cx="505.2" cy="331.0"/><circle cx="506.8" cy="313.1"/><circle cx="464.7" cy="360.1"/><circle cx="467.2" cy="344.8"/><circle cx="511.7" cy="310.0"/><circle cx="460.3" cy="342.4"/><circle cx="526.9" cy="295.3"/><circle cx="504.3" cy="333.3"/><circle cx="452.8" cy="379.7"/><circle cx="456.9" cy="382.0"/><circle cx="524.6" cy="336.3"/><circle cx="447.7" cy="362.4"/><circle cx="519.4" cy="344.0"/><circle cx="490.7" cy="316.9"/><circle cx="504.2" cy="320.6"/><circle cx="526.1" cy="315.5"/><circle cx="500.8" cy="362.7"/><circle cx="503.8" cy="312.6"/><circle cx="528.2" cy="329.4"/><circle cx="447.8" cy="401.5"/><circle cx="467.7" cy="316.7"/><circle cx="529.4" cy="312.6"/><circle cx="493.1" cy="319.4"/><circle cx="515.4" cy="310.4"/><circle cx="500.8" cy="323.1"/><circle cx="468.7" cy="348.9"/><circle cx="474.0" cy="338.5"/><circle cx="522.3" cy="315.0"/><circle cx="526.4" cy="310.4"/><circle cx="516.2" cy="303.3"/><circle cx="479.4" cy="319.1"/><circle cx="513.7" cy="311.5"/><circle cx="512.7" cy="299.7"/><circle cx="492.6" cy="362.2"/><circle cx="504.6" cy="344.0"/><circle cx="495.2" cy="366.6"/><circle cx="455.4" cy="367.6"/><circle cx="458.6" cy="394.3"/><circle cx="502.6" cy="364.4"/><circle cx="465.2" cy="355.5"/><circle cx="527.6" cy="301.0"/><circle cx="491.7" cy="325.5"/><circle cx="461.9" cy="348.0"/><circle cx="479.3" cy="331.2"/><circle cx="504.9" cy="327.9"/><circle cx="483.2" cy="333.7"/><circle cx="447.7" cy="367.6"/><circle cx="458.4" cy="379.6"/><circle cx="443.7" cy="471.1"/><circle cx="451.0" cy="483.0"/><circle cx="448.2" cy="490.0"/><circle cx="444.4" cy="465.4"/><circle cx="469.9" cy="507.0"/><circle cx="438.3" cy="447.1"/><circle cx="431.9" cy="470.7"/><circle cx="485.9" cy="514.7"/><circle cx="452.7" cy="484.9"/><circle cx="438.0" cy="448.6"/><circle cx="432.9" cy="459.2"/><circle cx="476.8" cy="522.8"/><circle cx="434.8" cy="480.2"/><circle cx="471.6" cy="532.3"/><circle cx="481.0" cy="511.3"/><circle cx="447.2" cy="491.1"/><circle cx="477.8" cy="527.6"/><circle cx="480.1" cy="519.5"/><circle cx="476.0" cy="518.5"/><circle cx="457.9" cy="520.5"/><circle cx="452.8" cy="518.0"/><circle cx="454.3" cy="506.3"/><circle cx="484.5" cy="528.5"/><circle cx="481.5" cy="527.3"/><circle cx="476.4" cy="508.4"/><circle cx="457.0" cy="510.4"/><circle cx="443.8" cy="469.6"/><circle cx="445.9" cy="493.4"/><circle cx="439.0" cy="451.3"/><circle cx="483.3" cy="513.5"/><circle cx="471.7" cy="529.3"/><circle cx="445.1" cy="492.6"/><circle cx="480.9" cy="530.5"/><circle cx="442.0" cy="465.4"/><circle cx="443.9" cy="471.7"/><circle cx="462.3" cy="511.9"/><circle cx="456.4" cy="522.5"/><circle cx="466.5" cy="529.1"/><circle cx="488.3" cy="520.0"/><circle cx="473.0" cy="525.7"/><circle cx="481.0" cy="511.0"/><circle cx="450.8" cy="517.1"/><circle cx="470.5" cy="527.9"/><circle cx="439.5" cy="468.4"/><circle cx="453.8" cy="483.6"/><circle cx="466.2" cy="517.1"/><circle cx="447.4" cy="491.7"/><circle cx="480.0" cy="506.0"/><circle cx="448.5" cy="477.1"/><circle cx="479.1" cy="508.1"/><circle cx="474.6" cy="528.6"/><circle cx="449.0" cy="482.6"/><circle cx="433.7" cy="454.9"/><circle cx="471.5" cy="525.9"/><circle cx="437.6" cy="470.9"/><circle cx="447.7" cy="473.6"/><circle cx="455.0" cy="519.0"/><circle cx="431.7" cy="470.2"/><circle cx="441.6" cy="503.8"/><circle cx="490.9" cy="518.9"/><circle cx="445.7" cy="474.3"/><circle cx="444.1" cy="488.2"/><circle cx="479.9" cy="527.5"/><circle cx="454.6" cy="509.0"/><circle cx="438.1" cy="481.8"/><circle cx="460.9" cy="527.3"/><circle cx="457.9" cy="522.5"/><circle cx="459.1" cy="527.0"/><circle cx="471.5" cy="513.0"/><circle cx="491.7" cy="449.8"/><circle cx="474.0" cy="441.6"/><circle cx="479.0" cy="434.5"/><circle cx="471.8" cy="432.8"/><circle cx="464.4" cy="432.1"/><circle cx="490.1" cy="449.9"/><circle cx="482.7" cy="454.2"/><circle cx="482.0" cy="446.3"/><circle cx="491.6" cy="450.3"/><circle cx="470.4" cy="443.0"/><circle cx="491.0" cy="462.0"/><circle cx="489.7" cy="446.0"/><circle cx="472.0" cy="438.9"/><circle cx="491.5" cy="458.9"/><circle cx="491.0" cy="449.1"/><circle cx="469.8" cy="431.1"/><circle cx="487.7" cy="453.2"/><circle cx="469.4" cy="432.9"/><circle cx="488.3" cy="443.0"/><circle cx="481.9" cy="440.6"/><circle cx="481.8" cy="433.8"/><circle cx="493.7" cy="462.1"/><circle cx="473.0" cy="432.6"/><circle cx="486.5" cy="432.9"/><circle cx="493.3" cy="455.9"/><circle cx="489.3" cy="432.9"/><circle cx="481.5" cy="448.8"/><circle cx="486.0" cy="466.5"/><circle cx="505.0" cy="461.6"/><circle cx="555.0" cy="344.8"/><circle cx="549.7" cy="342.8"/><circle cx="554.8" cy="342.6"/><circle cx="558.0" cy="337.7"/><circle cx="562.1" cy="341.1"/><circle cx="563.2" cy="344.0"/><circle cx="560.4" cy="344.7"/><circle cx="565.5" cy="347.1"/><circle cx="567.8" cy="348.7"/><circle cx="563.4" cy="349.2"/><circle cx="562.7" cy="343.2"/><circle cx="568.2" cy="348.3"/><circle cx="572.7" cy="347.7"/><circle cx="569.8" cy="353.7"/><circle cx="575.7" cy="348.8"/><circle cx="571.1" cy="348.7"/><circle cx="574.7" cy="350.5"/><circle cx="580.9" cy="349.3"/><circle cx="578.4" cy="349.0"/><circle cx="581.1" cy="347.6"/><circle cx="582.8" cy="352.4"/><circle cx="580.2" cy="355.0"/><circle cx="580.8" cy="353.0"/><circle cx="588.8" cy="357.3"/><circle cx="590.7" cy="357.8"/><circle cx="591.3" cy="358.2"/><circle cx="591.1" cy="363.4"/><circle cx="590.6" cy="362.7"/><circle cx="587.2" cy="364.3"/><circle cx="588.8" cy="362.3"/><circle cx="584.8" cy="376.6"/><circle cx="582.4" cy="380.3"/><circle cx="585.8" cy="381.4"/><circle cx="585.9" cy="381.7"/><circle cx="589.5" cy="383.1"/><circle cx="587.0" cy="383.9"/><circle cx="586.6" cy="382.7"/><circle cx="586.7" cy="381.8"/><circle cx="595.8" cy="386.0"/><circle cx="591.9" cy="387.0"/><circle cx="593.6" cy="392.4"/><circle cx="592.7" cy="389.7"/><circle cx="595.1" cy="396.9"/><circle cx="592.9" cy="392.2"/><circle cx="592.5" cy="402.0"/><circle cx="591.5" cy="405.6"/><circle cx="591.0" cy="371.2"/><circle cx="593.0" cy="372.8"/><circle cx="552.9" cy="390.2"/><circle cx="555.1" cy="392.6"/><circle cx="561.4" cy="396.9"/><circle cx="565.8" cy="397.9"/><circle cx="563.4" cy="399.2"/><circle cx="568.1" cy="401.9"/><circle cx="567.8" cy="400.0"/><circle cx="570.1" cy="400.6"/><circle cx="571.3" cy="399.9"/><circle cx="582.2" cy="392.1"/><circle cx="583.2" cy="389.8"/><circle cx="581.5" cy="396.7"/><circle cx="585.9" cy="397.8"/><circle cx="582.2" cy="398.9"/><circle cx="516.3" cy="390.6"/><circle cx="513.9" cy="388.9"/><circle cx="510.6" cy="388.2"/><circle cx="514.5" cy="385.1"/><circle cx="517.4" cy="383.8"/><circle cx="515.4" cy="384.3"/><circle cx="519.8" cy="383.3"/><circle cx="521.5" cy="388.8"/><circle cx="527.3" cy="386.9"/><circle cx="526.4" cy="390.2"/><circle cx="531.2" cy="391.9"/><circle cx="534.9" cy="396.2"/><circle cx="534.0" cy="394.4"/><circle cx="534.6" cy="394.5"/><circle cx="537.1" cy="398.1"/><circle cx="539.4" cy="391.2"/><circle cx="542.6" cy="394.4"/><circle cx="542.7" cy="396.1"/><circle cx="547.4" cy="397.3"/><circle cx="549.5" cy="392.0"/><circle cx="548.0" cy="391.9"/><circle cx="553.8" cy="395.9"/><circle cx="553.2" cy="395.9"/><circle cx="557.2" cy="393.4"/><circle cx="561.1" cy="399.3"/><circle cx="562.7" cy="395.9"/><circle cx="566.6" cy="398.4"/><circle cx="567.5" cy="401.5"/><circle cx="569.4" cy="398.3"/><circle cx="517.3" cy="397.8"/><circle cx="516.5" cy="403.1"/><circle cx="517.5" cy="399.6"/><circle cx="518.9" cy="404.7"/><circle cx="526.1" cy="404.5"/><circle cx="528.9" cy="406.1"/><circle cx="525.9" cy="410.6"/><circle cx="527.7" cy="408.9"/><circle cx="532.5" cy="412.8"/><circle cx="534.9" cy="414.7"/><circle cx="532.7" cy="414.1"/><circle cx="533.6" cy="412.5"/><circle cx="533.8" cy="414.6"/><circle cx="532.3" cy="415.7"/><circle cx="533.3" cy="419.6"/><circle cx="539.4" cy="419.3"/><circle cx="543.0" cy="426.6"/><circle cx="538.7" cy="421.6"/><circle cx="543.1" cy="427.4"/><circle cx="516.8" cy="419.2"/><circle cx="519.9" cy="424.1"/><circle cx="526.2" cy="420.7"/><circle cx="529.9" cy="424.3"/><circle cx="535.2" cy="426.2"/><circle cx="541.9" cy="433.6"/><circle cx="544.7" cy="427.5"/><circle cx="540.8" cy="431.4"/><circle cx="539.4" cy="432.6"/><circle cx="544.6" cy="430.8"/><circle cx="515.5" cy="433.0"/><circle cx="512.6" cy="431.7"/><circle cx="511.6" cy="432.1"/><circle cx="518.4" cy="443.6"/><circle cx="518.0" cy="440.4"/><circle cx="521.5" cy="443.3"/><circle cx="524.7" cy="445.6"/><circle cx="525.4" cy="452.3"/><circle cx="527.3" cy="455.4"/><circle cx="528.4" cy="451.4"/><circle cx="526.4" cy="457.0"/><circle cx="530.9" cy="458.2"/><circle cx="531.0" cy="457.1"/><circle cx="530.0" cy="453.6"/><circle cx="536.4" cy="457.1"/><circle cx="534.2" cy="452.0"/><circle cx="535.5" cy="452.6"/><circle cx="534.0" cy="453.8"/><circle cx="537.2" cy="454.8"/><circle cx="490.8" cy="433.8"/><circle cx="492.4" cy="432.1"/><circle cx="492.0" cy="436.2"/><circle cx="495.8" cy="447.4"/><circle cx="498.1" cy="454.0"/><circle cx="498.2" cy="451.4"/><circle cx="498.4" cy="453.4"/><circle cx="500.2" cy="452.8"/><circle cx="504.8" cy="457.1"/><circle cx="509.7" cy="463.3"/><circle cx="534.0" cy="397.4"/><circle cx="533.1" cy="400.0"/><circle cx="536.1" cy="405.3"/><circle cx="536.3" cy="405.0"/><circle cx="542.2" cy="403.7"/><circle cx="541.4" cy="406.5"/><circle cx="539.5" cy="411.5"/><circle cx="546.0" cy="410.6"/><circle cx="547.5" cy="415.2"/><circle cx="549.4" cy="413.2"/><circle cx="561.7" cy="462.9"/><circle cx="564.4" cy="462.2"/><circle cx="548.4" cy="439.0"/><circle cx="555.0" cy="438.1"/><circle cx="555.3" cy="442.5"/><circle cx="553.8" cy="441.5"/><circle cx="558.2" cy="441.2"/><circle cx="563.3" cy="442.2"/><circle cx="566.8" cy="436.1"/><circle cx="567.1" cy="437.6"/><circle cx="568.0" cy="437.8"/><circle cx="567.5" cy="441.6"/><circle cx="571.7" cy="436.7"/><circle cx="576.6" cy="434.1"/><circle cx="575.5" cy="433.4"/><circle cx="567.9" cy="422.2"/><circle cx="568.4" cy="418.6"/><circle cx="568.7" cy="420.7"/><circle cx="571.9" cy="418.2"/><circle cx="579.0" cy="418.9"/><circle cx="586.0" cy="422.2"/><circle cx="525.8" cy="507.4"/><circle cx="532.6" cy="361.9"/><circle cx="540.9" cy="345.8"/><circle cx="578.3" cy="408.7"/><circle cx="531.4" cy="443.5"/><circle cx="577.9" cy="406.2"/></g>
<g fill="#6a8ac9"><circle cx="440.9" cy="382.1"/><circle cx="521.3" cy="317.2"/><circle cx="480.8" cy="314.0"/><circle cx="470.3" cy="315.5"/><circle cx="492.8" cy="344.0"/><circle cx="500.5" cy="365.6"/><circle cx="503.8" cy="300.3"/><circle cx="465.2" cy="352.8"/><circle cx="528.4" cy="315.9"/><circle cx="533.8" cy="317.2"/><circle cx="510.1" cy="298.4"/><circle cx="531.1" cy="315.1"/><circle cx="532.0" cy="314.0"/><circle cx="521.6" cy="314.0"/><circle cx="528.8" cy="297.4"/><circle cx="499.6" cy="349.7"/><circle cx="531.1" cy="316.9"/><circle cx="439.3" cy="354.6"/><circle cx="520.0" cy="313.0"/><circle cx="527.0" cy="294.4"/><circle cx="445.9" cy="400.9"/><circle cx="528.1" cy="300.3"/><circle cx="454.0" cy="350.3"/><circle cx="459.2" cy="346.3"/><circle cx="494.9" cy="355.7"/><circle cx="456.7" cy="372.4"/><circle cx="471.6" cy="323.5"/><circle cx="523.9" cy="323.8"/><circle cx="474.0" cy="341.4"/><circle cx="502.3" cy="317.4"/><circle cx="455.7" cy="380.0"/><circle cx="443.9" cy="386.6"/><circle cx="493.9" cy="339.5"/><circle cx="514.2" cy="304.9"/><circle cx="449.7" cy="371.6"/><circle cx="456.8" cy="348.3"/><circle cx="508.0" cy="315.4"/><circle cx="497.5" cy="359.8"/><circle cx="527.4" cy="296.7"/><circle cx="465.5" cy="340.0"/><circle cx="515.7" cy="311.1"/><circle cx="535.2" cy="316.5"/><circle cx="489.0" cy="352.9"/><circle cx="517.3" cy="328.4"/><circle cx="504.3" cy="332.4"/><circle cx="494.2" cy="328.9"/><circle cx="483.8" cy="334.9"/><circle cx="502.3" cy="365.8"/><circle cx="503.1" cy="321.9"/><circle cx="531.9" cy="312.3"/><circle cx="506.8" cy="311.7"/><circle cx="502.6" cy="327.5"/><circle cx="454.5" cy="371.7"/><circle cx="514.1" cy="306.0"/><circle cx="521.3" cy="306.9"/><circle cx="446.5" cy="400.5"/><circle cx="450.5" cy="351.1"/><circle cx="501.1" cy="366.6"/><circle cx="506.1" cy="328.1"/><circle cx="485.2" cy="335.4"/><circle cx="515.1" cy="303.1"/><circle cx="497.8" cy="331.2"/><circle cx="435.2" cy="363.5"/><circle cx="481.1" cy="335.4"/><circle cx="506.0" cy="357.2"/><circle cx="526.1" cy="309.6"/><circle cx="488.3" cy="341.6"/><circle cx="507.6" cy="297.5"/><circle cx="501.9" cy="318.7"/><circle cx="477.0" cy="316.4"/><circle cx="477.9" cy="340.1"/><circle cx="470.3" cy="361.9"/><circle cx="446.3" cy="387.3"/><circle cx="451.7" cy="378.7"/><circle cx="462.0" cy="338.5"/><circle cx="435.1" cy="366.0"/><circle cx="538.1" cy="301.0"/><circle cx="491.9" cy="326.5"/><circle cx="502.9" cy="316.8"/><circle cx="448.3" cy="404.8"/><circle cx="510.5" cy="308.8"/><circle cx="440.0" cy="370.0"/><circle cx="453.7" cy="373.3"/><circle cx="515.0" cy="327.7"/><circle cx="461.8" cy="342.0"/><circle cx="487.8" cy="353.4"/><circle cx="511.6" cy="328.9"/><circle cx="529.5" cy="316.2"/><circle cx="442.0" cy="385.5"/><circle cx="453.9" cy="348.5"/><circle cx="455.5" cy="361.6"/><circle cx="443.8" cy="383.2"/><circle cx="451.9" cy="401.0"/><circle cx="459.0" cy="346.6"/><circle cx="462.8" cy="335.5"/><circle cx="500.0" cy="368.8"/><circle cx="479.0" cy="320.2"/><circle cx="484.8" cy="337.8"/><circle cx="444.3" cy="397.8"/><circle cx="458.0" cy="325.0"/><circle cx="507.4" cy="324.4"/><circle cx="446.1" cy="385.3"/><circle cx="524.1" cy="331.3"/><circle cx="524.5" cy="321.0"/><circle cx="458.6" cy="365.5"/><circle cx="525.1" cy="316.3"/><circle cx="442.3" cy="365.4"/><circle cx="526.3" cy="316.3"/><circle cx="520.8" cy="341.2"/><circle cx="445.1" cy="375.3"/><circle cx="441.6" cy="355.8"/><circle cx="451.8" cy="390.6"/><circle cx="460.1" cy="373.9"/><circle cx="447.5" cy="383.3"/><circle cx="452.8" cy="377.9"/><circle cx="528.9" cy="295.4"/><circle cx="510.6" cy="332.7"/><circle cx="509.2" cy="297.4"/><circle cx="449.9" cy="352.3"/><circle cx="516.0" cy="312.2"/><circle cx="483.5" cy="330.4"/><circle cx="445.1" cy="361.2"/><circle cx="532.3" cy="298.7"/><circle cx="442.7" cy="359.0"/><circle cx="442.6" cy="373.6"/><circle cx="508.1" cy="330.4"/><circle cx="466.4" cy="355.6"/><circle cx="501.5" cy="360.8"/><circle cx="458.0" cy="369.3"/><circle cx="474.8" cy="316.6"/><circle cx="459.2" cy="337.1"/><circle cx="456.7" cy="354.9"/><circle cx="464.2" cy="333.6"/><circle cx="538.0" cy="300.7"/><circle cx="509.8" cy="296.6"/><circle cx="503.2" cy="301.9"/><circle cx="496.1" cy="304.7"/><circle cx="463.6" cy="341.6"/><circle cx="502.4" cy="338.0"/><circle cx="470.2" cy="330.6"/><circle cx="439.4" cy="368.3"/><circle cx="456.6" cy="368.1"/><circle cx="451.9" cy="368.8"/><circle cx="495.6" cy="318.2"/><circle cx="475.8" cy="341.5"/><circle cx="514.9" cy="325.0"/><circle cx="484.1" cy="333.0"/><circle cx="438.1" cy="385.7"/><circle cx="534.8" cy="318.4"/><circle cx="488.7" cy="361.4"/><circle cx="506.4" cy="315.6"/><circle cx="504.6" cy="322.3"/><circle cx="470.6" cy="317.0"/><circle cx="448.4" cy="346.1"/><circle cx="452.3" cy="394.8"/><circle cx="500.6" cy="362.0"/><circle cx="527.4" cy="327.4"/><circle cx="510.1" cy="330.0"/><circle cx="505.2" cy="349.5"/><circle cx="526.3" cy="337.1"/><circle cx="486.4" cy="334.7"/><circle cx="461.2" cy="351.5"/><circle cx="519.9" cy="344.8"/><circle cx="526.5" cy="330.4"/><circle cx="535.9" cy="302.4"/><circle cx="492.9" cy="362.1"/><circle cx="444.7" cy="362.3"/><circle cx="471.3" cy="359.1"/><circle cx="455.7" cy="395.0"/><circle cx="507.4" cy="327.3"/><circle cx="526.0" cy="310.1"/><circle cx="536.7" cy="305.0"/><circle cx="501.8" cy="368.2"/><circle cx="497.7" cy="353.7"/><circle cx="456.9" cy="325.7"/><circle cx="472.8" cy="330.6"/><circle cx="512.4" cy="313.4"/><circle cx="486.0" cy="309.5"/><circle cx="461.8" cy="348.4"/><circle cx="510.5" cy="314.9"/><circle cx="497.1" cy="332.0"/><circle cx="439.5" cy="388.1"/><circle cx="506.0" cy="306.7"/><circle cx="497.3" cy="338.5"/><circle cx="474.8" cy="339.1"/><circle cx="529.4" cy="323.2"/><circle cx="522.7" cy="331.0"/><circle cx="465.0" cy="345.2"/><circle cx="524.2" cy="314.3"/><circle cx="527.3" cy="331.8"/><circle cx="503.7" cy="305.6"/><circle cx="524.8" cy="341.7"/><circle cx="459.8" cy="390.8"/><circle cx="454.0" cy="396.4"/><circle cx="457.1" cy="384.9"/><circle cx="471.6" cy="362.7"/><circle cx="522.1" cy="315.0"/><circle cx="440.5" cy="391.2"/><circle cx="450.2" cy="385.0"/><circle cx="505.6" cy="356.8"/><circle cx="501.3" cy="298.3"/><circle cx="522.1" cy="310.6"/><circle cx="480.9" cy="340.5"/><circle cx="472.2" cy="355.8"/><circle cx="524.4" cy="324.4"/><circle cx="445.2" cy="366.7"/><circle cx="472.8" cy="336.8"/><circle cx="478.6" cy="330.3"/><circle cx="450.6" cy="353.6"/><circle cx="493.3" cy="367.0"/><circle cx="456.7" cy="391.6"/><circle cx="503.3" cy="333.5"/><circle cx="499.0" cy="363.9"/><circle cx="465.4" cy="335.1"/><circle cx="502.5" cy="331.4"/><circle cx="487.0" cy="350.8"/><circle cx="480.9" cy="323.0"/><circle cx="436.5" cy="364.2"/><circle cx="449.4" cy="358.3"/><circle cx="496.1" cy="364.5"/><circle cx="489.7" cy="338.7"/><circle cx="446.7" cy="373.2"/><circle cx="453.2" cy="335.6"/><circle cx="465.7" cy="344.0"/><circle cx="473.9" cy="348.4"/><circle cx="459.1" cy="374.9"/><circle cx="435.4" cy="453.1"/><circle cx="472.7" cy="531.2"/><circle cx="470.0" cy="529.3"/><circle cx="450.3" cy="516.5"/><circle cx="460.5" cy="507.5"/><circle cx="458.9" cy="521.5"/><circle cx="487.5" cy="525.7"/><circle cx="479.0" cy="525.3"/><circle cx="453.5" cy="495.4"/><circle cx="469.9" cy="528.8"/><circle cx="448.7" cy="496.5"/><circle cx="441.2" cy="465.6"/><circle cx="449.8" cy="504.2"/><circle cx="477.6" cy="505.3"/><circle cx="441.0" cy="453.5"/><circle cx="440.4" cy="466.9"/><circle cx="442.9" cy="489.1"/><circle cx="454.4" cy="521.4"/><circle cx="458.2" cy="516.3"/><circle cx="440.9" cy="451.6"/><circle cx="479.0" cy="507.5"/><circle cx="482.0" cy="525.1"/><circle cx="447.2" cy="474.9"/><circle cx="437.9" cy="455.2"/><circle cx="436.4" cy="446.9"/><circle cx="435.5" cy="455.2"/><circle cx="473.4" cy="518.5"/><circle cx="451.4" cy="496.0"/><circle cx="458.5" cy="525.1"/><circle cx="450.4" cy="510.0"/><circle cx="466.4" cy="516.9"/><circle cx="461.1" cy="526.3"/><circle cx="436.0" cy="468.8"/><circle cx="450.5" cy="491.1"/><circle cx="443.7" cy="492.0"/><circle cx="432.3" cy="472.9"/><circle cx="480.4" cy="527.1"/><circle cx="485.7" cy="525.1"/><circle cx="487.2" cy="516.4"/><circle cx="435.1" cy="478.5"/><circle cx="476.8" cy="514.8"/><circle cx="454.1" cy="513.7"/><circle cx="480.2" cy="512.8"/><circle cx="478.5" cy="510.1"/><circle cx="453.9" cy="506.2"/><circle cx="474.9" cy="515.7"/><circle cx="454.5" cy="518.8"/><circle cx="447.3" cy="493.9"/><circle cx="442.6" cy="499.8"/><circle cx="441.9" cy="463.9"/><circle cx="446.6" cy="490.3"/><circle cx="442.3" cy="490.1"/><circle cx="474.8" cy="518.3"/><circle cx="444.3" cy="474.9"/><circle cx="437.6" cy="449.0"/><circle cx="476.9" cy="513.3"/><circle cx="448.0" cy="468.0"/><circle cx="449.2" cy="505.6"/><circle cx="454.4" cy="520.8"/><circle cx="458.4" cy="510.0"/><circle cx="437.1" cy="449.0"/><circle cx="441.2" cy="464.7"/><circle cx="448.0" cy="513.7"/><circle cx="458.3" cy="526.2"/><circle cx="434.0" cy="449.4"/><circle cx="453.3" cy="518.3"/><circle cx="475.3" cy="512.3"/><circle cx="457.0" cy="517.3"/><circle cx="455.0" cy="507.7"/><circle cx="454.6" cy="521.4"/><circle cx="439.5" cy="456.3"/><circle cx="455.4" cy="516.8"/><circle cx="477.0" cy="523.6"/><circle cx="461.3" cy="523.1"/><circle cx="436.9" cy="449.3"/><circle cx="450.0" cy="474.7"/><circle cx="450.5" cy="516.1"/><circle cx="489.3" cy="438.2"/><circle cx="486.7" cy="434.8"/><circle cx="483.1" cy="434.4"/><circle cx="481.6" cy="449.2"/><circle cx="489.5" cy="451.9"/><circle cx="487.1" cy="443.1"/><circle cx="467.1" cy="438.2"/><circle cx="479.9" cy="468.3"/><circle cx="487.1" cy="438.0"/><circle cx="479.8" cy="435.0"/><circle cx="477.4" cy="449.3"/><circle cx="489.6" cy="440.4"/><circle cx="484.8" cy="447.2"/><circle cx="486.4" cy="430.3"/><circle cx="490.5" cy="444.5"/><circle cx="485.9" cy="434.9"/><circle cx="482.8" cy="456.4"/><circle cx="481.5" cy="458.3"/><circle cx="468.2" cy="437.0"/><circle cx="478.1" cy="451.9"/><circle cx="476.4" cy="462.4"/><circle cx="466.1" cy="436.6"/><circle cx="479.0" cy="436.5"/><circle cx="482.2" cy="463.5"/><circle cx="505.2" cy="453.0"/><circle cx="506.8" cy="461.6"/><circle cx="506.1" cy="460.0"/><circle cx="556.3" cy="339.9"/><circle cx="560.3" cy="344.2"/><circle cx="575.5" cy="346.7"/><circle cx="577.4" cy="347.3"/><circle cx="579.2" cy="348.2"/><circle cx="579.3" cy="344.4"/><circle cx="582.2" cy="352.0"/><circle cx="587.1" cy="353.7"/><circle cx="587.9" cy="356.7"/><circle cx="590.2" cy="360.1"/><circle cx="589.2" cy="355.1"/><circle cx="587.6" cy="367.0"/><circle cx="583.6" cy="366.7"/><circle cx="581.8" cy="372.5"/><circle cx="586.8" cy="376.9"/><circle cx="586.9" cy="379.6"/><circle cx="588.2" cy="383.0"/><circle cx="592.6" cy="390.9"/><circle cx="595.7" cy="388.0"/><circle cx="596.4" cy="392.0"/><circle cx="594.0" cy="398.6"/><circle cx="591.4" cy="404.2"/><circle cx="592.5" cy="400.2"/><circle cx="593.3" cy="400.8"/><circle cx="592.5" cy="401.2"/><circle cx="590.1" cy="402.1"/><circle cx="591.9" cy="373.8"/><circle cx="597.2" cy="373.0"/><circle cx="608.4" cy="371.5"/><circle cx="545.0" cy="347.7"/><circle cx="556.1" cy="387.4"/><circle cx="557.0" cy="390.7"/><circle cx="556.3" cy="390.8"/><circle cx="554.9" cy="395.3"/><circle cx="560.5" cy="393.9"/><circle cx="564.4" cy="392.3"/><circle cx="562.5" cy="399.1"/><circle cx="570.8" cy="400.9"/><circle cx="577.1" cy="405.4"/><circle cx="580.2" cy="393.5"/><circle cx="584.8" cy="394.5"/><circle cx="586.5" cy="397.4"/><circle cx="590.1" cy="399.7"/><circle cx="589.8" cy="405.2"/><circle cx="589.9" cy="404.2"/><circle cx="516.9" cy="385.7"/><circle cx="516.2" cy="387.4"/><circle cx="523.8" cy="388.7"/><circle cx="519.9" cy="386.5"/><circle cx="524.4" cy="390.8"/><circle cx="528.9" cy="394.6"/><circle cx="530.2" cy="389.6"/><circle cx="531.3" cy="394.9"/><circle cx="536.9" cy="397.4"/><circle cx="539.9" cy="401.2"/><circle cx="539.3" cy="398.9"/><circle cx="541.3" cy="397.8"/><circle cx="542.4" cy="398.4"/><circle cx="542.1" cy="394.3"/><circle cx="555.8" cy="395.5"/><circle cx="562.6" cy="396.5"/><circle cx="560.6" cy="397.2"/><circle cx="559.5" cy="395.0"/><circle cx="567.8" cy="398.2"/><circle cx="574.4" cy="400.6"/><circle cx="570.5" cy="401.7"/><circle cx="509.3" cy="401.0"/><circle cx="514.7" cy="396.3"/><circle cx="519.5" cy="403.3"/><circle cx="528.9" cy="412.7"/><circle cx="526.8" cy="409.2"/><circle cx="522.6" cy="411.6"/><circle cx="527.9" cy="415.3"/><circle cx="529.4" cy="406.3"/><circle cx="531.2" cy="413.7"/><circle cx="530.6" cy="412.4"/><circle cx="533.3" cy="415.6"/><circle cx="535.8" cy="416.4"/><circle cx="539.4" cy="420.5"/><circle cx="543.2" cy="423.2"/><circle cx="539.3" cy="423.7"/><circle cx="540.7" cy="427.3"/><circle cx="544.1" cy="430.9"/><circle cx="516.0" cy="417.2"/><circle cx="519.2" cy="419.5"/><circle cx="524.9" cy="419.7"/><circle cx="524.4" cy="422.1"/><circle cx="525.8" cy="419.9"/><circle cx="525.7" cy="421.7"/><circle cx="528.3" cy="425.0"/><circle cx="527.1" cy="423.1"/><circle cx="530.3" cy="424.5"/><circle cx="533.0" cy="429.4"/><circle cx="529.7" cy="427.2"/><circle cx="536.3" cy="430.7"/><circle cx="534.9" cy="428.2"/><circle cx="542.5" cy="431.6"/><circle cx="541.6" cy="431.9"/><circle cx="548.9" cy="433.8"/><circle cx="509.8" cy="431.1"/><circle cx="512.1" cy="430.1"/><circle cx="510.2" cy="424.7"/><circle cx="518.4" cy="439.1"/><circle cx="514.8" cy="440.4"/><circle cx="515.1" cy="441.3"/><circle cx="517.7" cy="441.5"/><circle cx="524.2" cy="447.3"/><circle cx="532.9" cy="457.8"/><circle cx="537.7" cy="454.4"/><circle cx="541.8" cy="450.8"/><circle cx="542.0" cy="453.3"/><circle cx="493.0" cy="430.3"/><circle cx="494.6" cy="434.4"/><circle cx="492.0" cy="436.6"/><circle cx="491.9" cy="446.2"/><circle cx="496.2" cy="448.3"/><circle cx="497.1" cy="449.5"/><circle cx="498.5" cy="452.1"/><circle cx="500.5" cy="451.3"/><circle cx="504.7" cy="463.4"/><circle cx="509.6" cy="465.2"/><circle cx="556.5" cy="456.3"/><circle cx="564.6" cy="466.0"/><circle cx="505.3" cy="384.0"/><circle cx="530.9" cy="399.1"/><circle cx="531.0" cy="398.1"/><circle cx="529.0" cy="396.9"/><circle cx="547.9" cy="410.9"/><circle cx="548.9" cy="411.8"/><circle cx="548.3" cy="410.9"/><circle cx="552.5" cy="463.3"/><circle cx="556.3" cy="461.0"/><circle cx="558.7" cy="461.1"/><circle cx="565.0" cy="462.5"/><circle cx="550.2" cy="441.0"/><circle cx="553.8" cy="441.9"/><circle cx="559.5" cy="440.9"/><circle cx="560.7" cy="441.0"/><circle cx="570.2" cy="437.8"/><circle cx="572.4" cy="435.0"/><circle cx="557.4" cy="420.4"/><circle cx="560.8" cy="421.3"/><circle cx="575.2" cy="417.6"/><circle cx="574.2" cy="418.9"/><circle cx="583.7" cy="420.5"/><circle cx="517.3" cy="470.9"/><circle cx="520.2" cy="484.5"/><circle cx="562.9" cy="451.9"/><circle cx="570.5" cy="448.7"/><circle cx="562.0" cy="381.4"/><circle cx="543.6" cy="349.6"/><circle cx="573.8" cy="374.7"/><circle cx="502.4" cy="399.9"/></g>
<g fill="#6584c6"><circle cx="521.4" cy="307.1"/><circle cx="520.3" cy="313.7"/><circle cx="470.6" cy="323.5"/><circle cx="490.5" cy="353.6"/><circle cx="514.3" cy="326.4"/><circle cx="477.1" cy="333.1"/><circle cx="512.4" cy="322.4"/><circle cx="512.6" cy="328.1"/><circle cx="502.3" cy="326.0"/><circle cx="466.2" cy="357.6"/><circle cx="459.8" cy="322.7"/><circle cx="489.7" cy="360.6"/><circle cx="461.0" cy="342.7"/><circle cx="505.8" cy="314.2"/><circle cx="530.7" cy="311.9"/><circle cx="487.8" cy="329.8"/><circle cx="528.6" cy="312.3"/><circle cx="448.8" cy="401.8"/><circle cx="435.9" cy="367.8"/><circle cx="498.5" cy="351.7"/><circle cx="482.1" cy="319.0"/><circle cx="446.2" cy="366.8"/><circle cx="532.2" cy="314.0"/><circle cx="475.8" cy="317.3"/><circle cx="473.1" cy="347.9"/><circle cx="504.6" cy="346.0"/><circle cx="438.6" cy="382.9"/><circle cx="532.6" cy="299.0"/><circle cx="511.2" cy="312.0"/><circle cx="445.8" cy="366.4"/><circle cx="485.2" cy="312.3"/><circle cx="500.6" cy="345.3"/><circle cx="489.9" cy="314.3"/><circle cx="498.6" cy="359.1"/><circle cx="492.9" cy="337.4"/><circle cx="451.1" cy="381.1"/><circle cx="499.7" cy="321.7"/><circle cx="475.1" cy="339.6"/><circle cx="449.6" cy="358.3"/><circle cx="455.4" cy="374.4"/><circle cx="504.1" cy="352.6"/><circle cx="475.9" cy="348.1"/><circle cx="463.6" cy="322.7"/><circle cx="500.4" cy="331.6"/><circle cx="453.8" cy="402.1"/><circle cx="482.9" cy="330.4"/><circle cx="462.2" cy="343.2"/><circle cx="527.3" cy="317.1"/><circle cx="530.3" cy="310.2"/><circle cx="506.3" cy="303.2"/><circle cx="455.7" cy="399.8"/><circle cx="497.4" cy="355.6"/><circle cx="485.1" cy="310.0"/><circle cx="512.9" cy="308.4"/><circle cx="498.1" cy="345.9"/><circle cx="535.6" cy="314.5"/><circle cx="504.7" cy="360.0"/><circle cx="499.7" cy="361.9"/><circle cx="506.8" cy="324.5"/><circle cx="444.6" cy="401.3"/><circle cx="522.0" cy="296.2"/><circle cx="485.0" cy="312.9"/><circle cx="491.0" cy="319.9"/><circle cx="449.1" cy="353.5"/><circle cx="504.3" cy="358.5"/><circle cx="510.3" cy="299.1"/><circle cx="515.2" cy="308.4"/><circle cx="511.7" cy="307.8"/><circle cx="482.5" cy="332.2"/><circle cx="437.4" cy="385.4"/><circle cx="494.8" cy="305.0"/><circle cx="517.4" cy="334.2"/><circle cx="511.5" cy="314.4"/><circle cx="480.1" cy="327.4"/><circle cx="491.2" cy="324.8"/><circle cx="475.7" cy="322.2"/><circle cx="508.7" cy="313.0"/><circle cx="502.7" cy="304.0"/><circle cx="449.1" cy="347.4"/><circle cx="493.5" cy="340.7"/><circle cx="449.5" cy="349.0"/><circle cx="525.6" cy="337.8"/><circle cx="466.2" cy="346.4"/><circle cx="505.0" cy="326.1"/><circle cx="455.1" cy="353.0"/><circle cx="484.5" cy="329.1"/><circle cx="518.6" cy="320.4"/><circle cx="513.6" cy="303.3"/><circle cx="464.0" cy="344.6"/><circle cx="444.8" cy="365.2"/><circle cx="528.1" cy="316.0"/><circle cx="483.9" cy="337.8"/><circle cx="477.0" cy="348.0"/><circle cx="503.8" cy="329.8"/><circle cx="506.5" cy="345.1"/><circle cx="440.6" cy="354.2"/><circle cx="523.1" cy="340.3"/><circle cx="500.5" cy="345.4"/><circle cx="498.6" cy="342.0"/><circle cx="496.7" cy="354.4"/><circle cx="451.9" cy="394.5"/><circle cx="481.9" cy="322.5"/><circle cx="458.1" cy="394.9"/><circle cx="524.6" cy="293.8"/><circle cx="519.7" cy="332.4"/><circle cx="508.5" cy="312.8"/><circle cx="515.6" cy="328.3"/><circle cx="489.4" cy="314.0"/><circle cx="451.3" cy="392.3"/><circle cx="514.6" cy="335.0"/><circle cx="528.6" cy="330.7"/><circle cx="506.2" cy="360.0"/><circle cx="520.5" cy="316.3"/><circle cx="511.8" cy="311.6"/><circle cx="514.6" cy="311.5"/><circle cx="496.5" cy="322.9"/><circle cx="460.9" cy="351.2"/><circle cx="461.3" cy="347.7"/><circle cx="439.2" cy="386.4"/><circle cx="502.9" cy="327.6"/><circle cx="515.0" cy="313.1"/><circle cx="438.8" cy="356.9"/><circle cx="445.0" cy="384.5"/><circle cx="503.2" cy="333.0"/><circle cx="480.9" cy="341.4"/><circle cx="481.7" cy="321.0"/><circle cx="454.9" cy="348.2"/><circle cx="527.6" cy="300.7"/><circle cx="476.7" cy="341.8"/><circle cx="490.1" cy="322.2"/><circle cx="523.7" cy="343.5"/><circle cx="441.8" cy="356.0"/><circle cx="445.9" cy="366.2"/><circle cx="499.5" cy="321.0"/><circle cx="505.2" cy="307.8"/><circle cx="453.0" cy="333.3"/><circle cx="534.2" cy="321.1"/><circle cx="457.4" cy="353.3"/><circle cx="461.6" cy="339.6"/><circle cx="458.0" cy="367.9"/><circle cx="501.0" cy="363.0"/><circle cx="449.3" cy="383.0"/><circle cx="490.6" cy="356.7"/><circle cx="461.9" cy="366.4"/><circle cx="481.7" cy="312.2"/><circle cx="454.8" cy="359.2"/><circle cx="464.8" cy="340.8"/><circle cx="478.3" cy="342.3"/><circle cx="490.4" cy="323.4"/><circle cx="526.2" cy="309.4"/><circle cx="455.2" cy="349.5"/><circle cx="454.1" cy="386.1"/><circle cx="494.1" cy="325.9"/><circle cx="500.2" cy="332.4"/><circle cx="518.8" cy="317.7"/><circle cx="519.6" cy="337.5"/><circle cx="531.4" cy="317.0"/><circle cx="442.5" cy="397.6"/><circle cx="528.5" cy="309.6"/><circle cx="516.4" cy="328.5"/><circle cx="525.2" cy="301.2"/><circle cx="451.0" cy="392.3"/><circle cx="529.3" cy="301.5"/><circle cx="435.2" cy="371.2"/><circle cx="481.6" cy="317.4"/><circle cx="507.3" cy="335.5"/><circle cx="527.7" cy="320.2"/><circle cx="463.1" cy="333.1"/><circle cx="538.3" cy="298.5"/><circle cx="527.3" cy="309.7"/><circle cx="495.4" cy="340.5"/><circle cx="497.6" cy="318.3"/><circle cx="457.7" cy="342.4"/><circle cx="467.8" cy="325.7"/><circle cx="457.9" cy="397.0"/><circle cx="495.1" cy="320.5"/><circle cx="499.2" cy="368.6"/><circle cx="456.3" cy="346.4"/><circle cx="447.6" cy="374.3"/><circle cx="446.1" cy="372.9"/><circle cx="455.7" cy="385.4"/><circle cx="444.9" cy="382.3"/><circle cx="501.6" cy="323.6"/><circle cx="518.0" cy="336.6"/><circle cx="515.1" cy="332.2"/><circle cx="518.1" cy="328.6"/><circle cx="497.7" cy="317.1"/><circle cx="498.7" cy="312.9"/><circle cx="449.2" cy="400.8"/><circle cx="453.5" cy="492.1"/><circle cx="429.7" cy="456.2"/><circle cx="458.0" cy="526.1"/><circle cx="473.2" cy="532.6"/><circle cx="453.3" cy="506.8"/><circle cx="460.5" cy="515.2"/><circle cx="453.3" cy="508.8"/><circle cx="472.9" cy="524.2"/><circle cx="448.8" cy="491.9"/><circle cx="483.4" cy="515.4"/><circle cx="441.2" cy="498.0"/><circle cx="479.1" cy="523.3"/><circle cx="465.4" cy="518.9"/><circle cx="475.1" cy="528.8"/><circle cx="441.3" cy="500.4"/><circle cx="472.7" cy="519.8"/><circle cx="463.5" cy="507.0"/><circle cx="490.2" cy="521.3"/><circle cx="463.6" cy="530.3"/><circle cx="460.0" cy="509.5"/><circle cx="436.4" cy="467.3"/><circle cx="490.5" cy="520.4"/><circle cx="450.8" cy="476.2"/><circle cx="474.3" cy="511.4"/><circle cx="476.4" cy="531.1"/><circle cx="460.9" cy="520.7"/><circle cx="463.7" cy="519.6"/><circle cx="438.6" cy="464.4"/><circle cx="443.5" cy="489.4"/><circle cx="431.3" cy="467.1"/><circle cx="463.3" cy="513.5"/><circle cx="444.1" cy="488.3"/><circle cx="439.9" cy="457.6"/><circle cx="472.6" cy="533.8"/><circle cx="461.1" cy="522.2"/><circle cx="441.7" cy="489.7"/><circle cx="431.7" cy="472.4"/><circle cx="479.0" cy="529.2"/><circle cx="461.3" cy="522.5"/><circle cx="450.7" cy="490.1"/><circle cx="442.0" cy="465.5"/><circle cx="438.2" cy="470.7"/><circle cx="481.8" cy="526.9"/><circle cx="434.5" cy="461.7"/><circle cx="446.9" cy="477.6"/><circle cx="452.4" cy="506.5"/><circle cx="441.1" cy="508.0"/><circle cx="479.6" cy="512.1"/><circle cx="467.8" cy="504.5"/><circle cx="448.5" cy="515.3"/><circle cx="439.6" cy="466.0"/><circle cx="469.1" cy="503.9"/><circle cx="468.6" cy="528.4"/><circle cx="455.0" cy="494.6"/><circle cx="483.6" cy="527.0"/><circle cx="451.7" cy="501.3"/><circle cx="453.9" cy="522.5"/><circle cx="452.0" cy="521.1"/><circle cx="448.7" cy="491.5"/><circle cx="486.4" cy="515.1"/><circle cx="437.9" cy="484.0"/><circle cx="434.5" cy="481.7"/><circle cx="465.8" cy="509.0"/><circle cx="447.6" cy="477.2"/><circle cx="474.0" cy="521.4"/><circle cx="476.7" cy="518.5"/><circle cx="454.0" cy="484.2"/><circle cx="444.1" cy="489.4"/><circle cx="439.4" cy="473.1"/><circle cx="451.1" cy="486.6"/><circle cx="473.7" cy="532.2"/><circle cx="460.8" cy="517.9"/><circle cx="456.0" cy="505.4"/><circle cx="456.4" cy="503.8"/><circle cx="481.4" cy="524.1"/><circle cx="439.2" cy="472.2"/><circle cx="457.6" cy="514.0"/><circle cx="479.2" cy="514.7"/><circle cx="444.0" cy="476.6"/><circle cx="474.3" cy="439.9"/><circle cx="487.0" cy="443.3"/><circle cx="476.4" cy="430.3"/><circle cx="487.6" cy="447.7"/><circle cx="482.0" cy="458.6"/><circle cx="489.7" cy="443.0"/><circle cx="473.6" cy="437.9"/><circle cx="466.5" cy="437.0"/><circle cx="467.6" cy="437.7"/><circle cx="473.6" cy="434.9"/><circle cx="483.8" cy="453.4"/><circle cx="490.0" cy="453.1"/><circle cx="484.1" cy="430.8"/><circle cx="554.8" cy="341.9"/><circle cx="556.4" cy="339.7"/><circle cx="563.6" cy="349.5"/><circle cx="565.5" cy="349.0"/><circle cx="570.8" cy="349.2"/><circle cx="568.6" cy="345.9"/><circle cx="575.0" cy="353.6"/><circle cx="573.7" cy="346.6"/><circle cx="579.3" cy="346.9"/><circle cx="584.3" cy="351.3"/><circle cx="587.5" cy="352.7"/><circle cx="582.9" cy="350.7"/><circle cx="589.7" cy="361.6"/><circle cx="585.4" cy="363.8"/><circle cx="589.6" cy="362.4"/><circle cx="585.0" cy="367.0"/><circle cx="583.2" cy="370.8"/><circle cx="583.9" cy="366.3"/><circle cx="588.2" cy="371.9"/><circle cx="581.7" cy="373.0"/><circle cx="581.5" cy="379.7"/><circle cx="584.4" cy="379.8"/><circle cx="588.4" cy="380.1"/><circle cx="589.4" cy="386.9"/><circle cx="593.5" cy="387.8"/><circle cx="591.0" cy="389.7"/><circle cx="594.8" cy="388.1"/><circle cx="594.0" cy="391.0"/><circle cx="591.5" cy="389.3"/><circle cx="596.8" cy="392.7"/><circle cx="591.2" cy="398.3"/><circle cx="594.0" cy="401.9"/><circle cx="589.7" cy="403.8"/><circle cx="593.8" cy="397.6"/><circle cx="592.4" cy="407.0"/><circle cx="551.2" cy="390.6"/><circle cx="560.1" cy="393.7"/><circle cx="557.5" cy="391.4"/><circle cx="564.8" cy="396.0"/><circle cx="565.2" cy="400.1"/><circle cx="569.1" cy="397.7"/><circle cx="574.8" cy="402.0"/><circle cx="574.1" cy="408.0"/><circle cx="583.8" cy="396.4"/><circle cx="583.2" cy="394.9"/><circle cx="584.4" cy="397.0"/><circle cx="587.3" cy="400.1"/><circle cx="524.0" cy="386.8"/><circle cx="525.0" cy="391.1"/><circle cx="523.3" cy="389.1"/><circle cx="538.3" cy="395.1"/><circle cx="547.1" cy="397.1"/><circle cx="542.4" cy="395.5"/><circle cx="546.2" cy="399.6"/><circle cx="556.9" cy="394.8"/><circle cx="553.9" cy="398.2"/><circle cx="556.4" cy="395.7"/><circle cx="553.9" cy="397.9"/><circle cx="557.1" cy="398.0"/><circle cx="556.2" cy="398.4"/><circle cx="561.9" cy="396.7"/><circle cx="557.0" cy="399.0"/><circle cx="566.1" cy="399.9"/><circle cx="565.9" cy="397.2"/><circle cx="520.8" cy="404.7"/><circle cx="519.7" cy="404.7"/><circle cx="519.7" cy="404.3"/><circle cx="521.3" cy="405.3"/><circle cx="529.1" cy="408.2"/><circle cx="539.2" cy="424.1"/><circle cx="542.6" cy="434.0"/><circle cx="544.5" cy="426.3"/><circle cx="513.5" cy="421.7"/><circle cx="521.6" cy="419.9"/><circle cx="518.5" cy="420.5"/><circle cx="523.9" cy="421.8"/><circle cx="534.1" cy="430.0"/><circle cx="539.8" cy="433.9"/><circle cx="542.7" cy="433.2"/><circle cx="549.1" cy="435.5"/><circle cx="547.9" cy="433.4"/><circle cx="507.7" cy="424.8"/><circle cx="514.9" cy="428.8"/><circle cx="512.1" cy="434.1"/><circle cx="514.7" cy="433.1"/><circle cx="516.9" cy="438.9"/><circle cx="517.6" cy="441.2"/><circle cx="516.9" cy="442.7"/><circle cx="516.8" cy="450.4"/><circle cx="520.8" cy="443.4"/><circle cx="522.9" cy="450.7"/><circle cx="525.9" cy="450.7"/><circle cx="526.8" cy="450.5"/><circle cx="526.4" cy="449.2"/><circle cx="533.7" cy="459.3"/><circle cx="532.1" cy="454.0"/><circle cx="529.7" cy="453.3"/><circle cx="533.4" cy="459.1"/><circle cx="559.4" cy="416.8"/><circle cx="488.9" cy="433.2"/><circle cx="491.2" cy="434.1"/><circle cx="491.2" cy="437.4"/><circle cx="492.0" cy="439.0"/><circle cx="491.8" cy="441.0"/><circle cx="496.6" cy="442.1"/><circle cx="494.0" cy="445.0"/><circle cx="497.0" cy="449.3"/><circle cx="494.8" cy="443.8"/><circle cx="498.9" cy="453.9"/><circle cx="502.7" cy="459.2"/><circle cx="500.8" cy="457.3"/><circle cx="504.1" cy="459.4"/><circle cx="503.1" cy="458.1"/><circle cx="511.2" cy="466.9"/><circle cx="556.7" cy="455.5"/><circle cx="535.0" cy="399.9"/><circle cx="532.8" cy="402.5"/><circle cx="535.2" cy="402.0"/><circle cx="540.5" cy="405.8"/><circle cx="543.5" cy="409.6"/><circle cx="543.3" cy="407.2"/><circle cx="547.5" cy="411.0"/><circle cx="553.3" cy="461.5"/><circle cx="564.2" cy="460.7"/><circle cx="572.6" cy="435.4"/><circle cx="562.1" cy="417.4"/><circle cx="568.0" cy="423.4"/><circle cx="571.8" cy="420.5"/><circle cx="582.9" cy="419.8"/><circle cx="522.4" cy="480.3"/><circle cx="570.3" cy="449.8"/><circle cx="561.4" cy="424.6"/><circle cx="529.8" cy="374.3"/><circle cx="576.8" cy="353.5"/><circle cx="577.7" cy="402.8"/><circle cx="518.3" cy="398.8"/></g>
<g fill="#607fc4"><circle cx="518.4" cy="338.4"/><circle cx="445.6" cy="366.5"/><circle cx="496.2" cy="322.9"/><circle cx="438.8" cy="383.4"/><circle cx="508.1" cy="303.1"/><circle cx="454.6" cy="348.0"/><circle cx="455.8" cy="351.4"/><circle cx="447.3" cy="400.6"/><circle cx="536.2" cy="307.3"/><circle cx="506.3" cy="315.7"/><circle cx="534.2" cy="309.7"/><circle cx="447.7" cy="405.0"/><circle cx="528.7" cy="296.2"/><circle cx="491.1" cy="317.9"/><circle cx="444.2" cy="388.2"/><circle cx="528.1" cy="302.7"/><circle cx="436.2" cy="368.5"/><circle cx="497.7" cy="328.6"/><circle cx="439.1" cy="389.7"/><circle cx="528.7" cy="299.3"/><circle cx="525.4" cy="330.0"/><circle cx="490.3" cy="355.2"/><circle cx="449.1" cy="361.6"/><circle cx="523.6" cy="298.9"/><circle cx="449.3" cy="405.6"/><circle cx="447.3" cy="361.9"/><circle cx="494.7" cy="341.3"/><circle cx="523.9" cy="330.0"/><circle cx="472.6" cy="350.9"/><circle cx="506.4" cy="333.3"/><circle cx="498.6" cy="327.3"/><circle cx="495.7" cy="305.9"/><circle cx="495.9" cy="302.0"/><circle cx="455.7" cy="362.9"/><circle cx="506.6" cy="310.7"/><circle cx="495.7" cy="329.8"/><circle cx="522.9" cy="310.3"/><circle cx="503.5" cy="298.5"/><circle cx="490.9" cy="306.3"/><circle cx="439.1" cy="388.5"/><circle cx="442.7" cy="365.3"/><circle cx="456.1" cy="398.5"/><circle cx="529.2" cy="308.2"/><circle cx="513.6" cy="324.6"/><circle cx="457.7" cy="337.4"/><circle cx="498.1" cy="368.5"/><circle cx="460.3" cy="369.3"/><circle cx="442.4" cy="379.0"/><circle cx="502.0" cy="366.6"/><circle cx="511.1" cy="332.5"/><circle cx="458.0" cy="329.7"/><circle cx="461.5" cy="347.3"/><circle cx="450.3" cy="392.2"/><circle cx="488.5" cy="347.2"/><circle cx="449.6" cy="346.2"/><circle cx="512.0" cy="299.5"/><circle cx="462.2" cy="363.8"/><circle cx="511.1" cy="332.6"/><circle cx="492.7" cy="316.6"/><circle cx="453.5" cy="389.6"/><circle cx="469.8" cy="323.7"/><circle cx="472.2" cy="328.3"/><circle cx="505.4" cy="363.8"/><circle cx="481.5" cy="339.9"/><circle cx="476.2" cy="318.8"/><circle cx="436.1" cy="365.7"/><circle cx="474.9" cy="343.4"/><circle cx="509.2" cy="300.0"/><circle cx="525.2" cy="313.1"/><circle cx="506.8" cy="297.7"/><circle cx="525.0" cy="336.4"/><circle cx="504.4" cy="324.9"/><circle cx="457.2" cy="330.6"/><circle cx="526.7" cy="296.1"/><circle cx="454.9" cy="365.6"/><circle cx="453.8" cy="376.5"/><circle cx="501.6" cy="332.6"/><circle cx="471.4" cy="314.4"/><circle cx="492.6" cy="339.7"/><circle cx="519.8" cy="332.2"/><circle cx="518.7" cy="328.2"/><circle cx="527.1" cy="313.0"/><circle cx="479.9" cy="320.3"/><circle cx="484.5" cy="311.6"/><circle cx="500.8" cy="329.1"/><circle cx="538.3" cy="299.7"/><circle cx="442.7" cy="382.3"/><circle cx="459.9" cy="361.3"/><circle cx="481.6" cy="334.3"/><circle cx="486.3" cy="337.4"/><circle cx="463.8" cy="353.9"/><circle cx="438.8" cy="371.5"/><circle cx="488.5" cy="322.0"/><circle cx="492.2" cy="324.7"/><circle cx="471.1" cy="325.8"/><circle cx="506.1" cy="305.5"/><circle cx="506.6" cy="330.9"/><circle cx="456.9" cy="391.8"/><circle cx="516.2" cy="305.7"/><circle cx="455.6" cy="364.5"/><circle cx="471.6" cy="353.6"/><circle cx="441.6" cy="400.5"/><circle cx="527.5" cy="301.0"/><circle cx="489.7" cy="367.9"/><circle cx="502.0" cy="327.6"/><circle cx="472.2" cy="359.7"/><circle cx="513.3" cy="336.4"/><circle cx="502.1" cy="333.1"/><circle cx="514.7" cy="325.0"/><circle cx="526.6" cy="302.8"/><circle cx="504.6" cy="365.6"/><circle cx="445.3" cy="359.5"/><circle cx="438.9" cy="368.1"/><circle cx="524.4" cy="323.2"/><circle cx="537.9" cy="303.6"/><circle cx="486.5" cy="360.3"/><circle cx="493.7" cy="335.5"/><circle cx="462.9" cy="364.9"/><circle cx="509.1" cy="315.4"/><circle cx="456.2" cy="396.3"/><circle cx="504.6" cy="327.5"/><circle cx="507.1" cy="329.0"/><circle cx="458.5" cy="327.9"/><circle cx="515.0" cy="304.5"/><circle cx="457.7" cy="362.1"/><circle cx="519.9" cy="322.4"/><circle cx="506.6" cy="301.7"/><circle cx="453.9" cy="349.1"/><circle cx="492.6" cy="364.8"/><circle cx="503.3" cy="366.5"/><circle cx="456.5" cy="379.5"/><circle cx="501.2" cy="357.0"/><circle cx="466.1" cy="349.0"/><circle cx="479.3" cy="316.2"/><circle cx="478.5" cy="337.3"/><circle cx="502.6" cy="364.6"/><circle cx="512.8" cy="316.8"/><circle cx="489.0" cy="332.7"/><circle cx="505.9" cy="322.8"/><circle cx="456.4" cy="379.2"/><circle cx="525.9" cy="330.8"/><circle cx="455.9" cy="373.5"/><circle cx="491.5" cy="339.2"/><circle cx="455.4" cy="380.8"/><circle cx="441.9" cy="379.9"/><circle cx="520.2" cy="304.8"/><circle cx="496.0" cy="339.7"/><circle cx="454.5" cy="337.4"/><circle cx="497.7" cy="300.3"/><circle cx="446.2" cy="401.0"/><circle cx="494.9" cy="328.5"/><circle cx="527.2" cy="294.9"/><circle cx="532.3" cy="320.6"/><circle cx="456.0" cy="388.9"/><circle cx="534.0" cy="319.3"/><circle cx="438.2" cy="381.4"/><circle cx="510.1" cy="297.9"/><circle cx="499.7" cy="361.8"/><circle cx="460.0" cy="354.7"/><circle cx="443.2" cy="387.1"/><circle cx="437.1" cy="356.2"/><circle cx="437.5" cy="486.2"/><circle cx="430.4" cy="451.8"/><circle cx="455.3" cy="509.1"/><circle cx="471.3" cy="516.2"/><circle cx="477.5" cy="522.9"/><circle cx="476.0" cy="514.5"/><circle cx="435.3" cy="481.3"/><circle cx="439.1" cy="486.4"/><circle cx="456.1" cy="489.9"/><circle cx="444.7" cy="472.8"/><circle cx="437.7" cy="486.6"/><circle cx="480.3" cy="528.4"/><circle cx="441.3" cy="465.3"/><circle cx="477.5" cy="521.3"/><circle cx="476.2" cy="512.4"/><circle cx="458.7" cy="503.7"/><circle cx="439.0" cy="451.1"/><circle cx="440.3" cy="493.0"/><circle cx="456.6" cy="518.6"/><circle cx="436.9" cy="466.3"/><circle cx="437.9" cy="463.1"/><circle cx="478.9" cy="504.7"/><circle cx="450.4" cy="474.6"/><circle cx="443.7" cy="482.2"/><circle cx="459.0" cy="515.5"/><circle cx="481.7" cy="520.8"/><circle cx="474.8" cy="516.3"/><circle cx="434.6" cy="452.7"/><circle cx="453.6" cy="506.2"/><circle cx="462.7" cy="510.4"/><circle cx="430.4" cy="466.0"/><circle cx="488.3" cy="520.8"/><circle cx="457.0" cy="503.7"/><circle cx="454.5" cy="519.0"/><circle cx="474.1" cy="513.8"/><circle cx="475.6" cy="508.8"/><circle cx="475.7" cy="501.9"/><circle cx="487.4" cy="514.9"/><circle cx="480.1" cy="528.0"/><circle cx="469.6" cy="533.2"/><circle cx="436.4" cy="457.8"/><circle cx="459.4" cy="514.3"/><circle cx="471.1" cy="505.1"/><circle cx="438.2" cy="452.4"/><circle cx="432.0" cy="454.9"/><circle cx="437.7" cy="481.2"/><circle cx="492.3" cy="459.4"/><circle cx="494.9" cy="444.4"/><circle cx="474.8" cy="436.2"/><circle cx="479.8" cy="454.8"/><circle cx="481.3" cy="454.3"/><circle cx="474.1" cy="431.3"/><circle cx="483.4" cy="460.0"/><circle cx="473.7" cy="440.5"/><circle cx="495.1" cy="447.3"/><circle cx="478.2" cy="438.0"/><circle cx="481.7" cy="439.9"/><circle cx="503.1" cy="456.7"/><circle cx="560.7" cy="341.5"/><circle cx="564.9" cy="352.1"/><circle cx="576.1" cy="350.5"/><circle cx="576.1" cy="348.9"/><circle cx="585.3" cy="352.1"/><circle cx="589.0" cy="353.4"/><circle cx="587.9" cy="353.0"/><circle cx="592.8" cy="359.8"/><circle cx="590.4" cy="363.8"/><circle cx="586.7" cy="364.2"/><circle cx="588.0" cy="372.1"/><circle cx="583.6" cy="375.8"/><circle cx="581.1" cy="372.3"/><circle cx="583.1" cy="376.0"/><circle cx="584.4" cy="380.7"/><circle cx="590.9" cy="380.5"/><circle cx="595.2" cy="394.7"/><circle cx="592.8" cy="393.9"/><circle cx="592.0" cy="396.2"/><circle cx="592.0" cy="410.0"/><circle cx="550.8" cy="387.9"/><circle cx="558.6" cy="392.5"/><circle cx="560.9" cy="395.5"/><circle cx="561.1" cy="394.6"/><circle cx="569.3" cy="401.5"/><circle cx="582.0" cy="391.9"/><circle cx="582.0" cy="396.9"/><circle cx="510.3" cy="387.1"/><circle cx="514.0" cy="388.5"/><circle cx="518.8" cy="386.1"/><circle cx="518.1" cy="385.9"/><circle cx="519.9" cy="388.4"/><circle cx="520.4" cy="385.3"/><circle cx="524.1" cy="395.0"/><circle cx="539.5" cy="393.5"/><circle cx="537.8" cy="394.4"/><circle cx="535.8" cy="396.2"/><circle cx="540.2" cy="395.4"/><circle cx="554.1" cy="398.2"/><circle cx="551.6" cy="396.6"/><circle cx="556.6" cy="396.9"/><circle cx="562.0" cy="401.5"/><circle cx="515.6" cy="398.2"/><circle cx="514.3" cy="399.3"/><circle cx="514.4" cy="395.8"/><circle cx="519.3" cy="397.1"/><circle cx="516.2" cy="402.6"/><circle cx="523.0" cy="404.4"/><circle cx="526.3" cy="405.6"/><circle cx="521.3" cy="407.2"/><circle cx="519.2" cy="406.9"/><circle cx="522.9" cy="410.9"/><circle cx="528.5" cy="415.2"/><circle cx="526.0" cy="410.2"/><circle cx="531.1" cy="408.8"/><circle cx="530.5" cy="416.8"/><circle cx="537.3" cy="423.6"/><circle cx="542.0" cy="426.3"/><circle cx="541.0" cy="427.9"/><circle cx="545.2" cy="432.4"/><circle cx="506.1" cy="419.7"/><circle cx="510.3" cy="417.5"/><circle cx="511.7" cy="417.9"/><circle cx="516.2" cy="421.7"/><circle cx="514.3" cy="417.9"/><circle cx="519.1" cy="422.8"/><circle cx="519.0" cy="423.4"/><circle cx="522.4" cy="422.0"/><circle cx="524.8" cy="421.1"/><circle cx="534.3" cy="428.7"/><circle cx="534.6" cy="424.2"/><circle cx="534.7" cy="432.9"/><circle cx="548.1" cy="437.3"/><circle cx="549.5" cy="437.2"/><circle cx="545.8" cy="436.1"/><circle cx="553.7" cy="436.5"/><circle cx="516.7" cy="441.6"/><circle cx="516.9" cy="442.4"/><circle cx="518.1" cy="450.3"/><circle cx="525.9" cy="448.6"/><circle cx="525.1" cy="446.5"/><circle cx="537.3" cy="453.9"/><circle cx="498.0" cy="449.5"/><circle cx="501.9" cy="452.9"/><circle cx="504.6" cy="460.5"/><circle cx="506.1" cy="459.9"/><circle cx="532.3" cy="399.5"/><circle cx="538.1" cy="404.9"/><circle cx="543.8" cy="409.0"/><circle cx="552.3" cy="460.8"/><circle cx="550.4" cy="438.4"/><circle cx="557.1" cy="440.5"/><circle cx="570.6" cy="435.1"/><circle cx="563.6" cy="419.7"/><circle cx="568.1" cy="418.7"/><circle cx="520.4" cy="496.5"/><circle cx="557.4" cy="374.6"/><circle cx="545.1" cy="388.9"/><circle cx="521.1" cy="499.0"/><circle cx="547.7" cy="400.5"/><circle cx="557.9" cy="383.5"/><circle cx="563.6" cy="398.7"/></g>
<g fill="#5a79c1"><circle cx="514.1" cy="310.4"/><circle cx="464.5" cy="337.6"/><circle cx="516.4" cy="331.1"/><circle cx="510.7" cy="312.5"/><circle cx="506.9" cy="342.2"/><circle cx="451.2" cy="344.6"/><circle cx="438.8" cy="383.8"/><circle cx="478.7" cy="322.6"/><circle cx="455.4" cy="377.5"/><circle cx="500.9" cy="326.1"/><circle cx="502.5" cy="333.2"/><circle cx="510.4" cy="325.4"/><circle cx="442.6" cy="366.9"/><circle cx="443.5" cy="365.9"/><circle cx="505.7" cy="346.9"/><circle cx="489.4" cy="348.2"/><circle cx="530.1" cy="300.1"/><circle cx="440.5" cy="387.1"/><circle cx="513.0" cy="311.8"/><circle cx="487.6" cy="314.6"/><circle cx="520.2" cy="328.0"/><circle cx="448.4" cy="375.0"/><circle cx="474.2" cy="320.7"/><circle cx="459.3" cy="366.0"/><circle cx="453.5" cy="384.4"/><circle cx="487.8" cy="335.4"/><circle cx="517.9" cy="333.1"/><circle cx="526.0" cy="341.6"/><circle cx="515.1" cy="307.5"/><circle cx="446.0" cy="366.5"/><circle cx="520.7" cy="332.9"/><circle cx="507.7" cy="307.2"/><circle cx="534.2" cy="309.6"/><circle cx="500.2" cy="314.6"/><circle cx="497.8" cy="352.1"/><circle cx="455.4" cy="376.8"/><circle cx="492.6" cy="362.7"/><circle cx="534.6" cy="314.7"/><circle cx="454.6" cy="348.0"/><circle cx="466.8" cy="356.2"/><circle cx="441.8" cy="401.7"/><circle cx="519.7" cy="319.3"/><circle cx="492.7" cy="368.9"/><circle cx="484.6" cy="331.0"/><circle cx="466.3" cy="356.2"/><circle cx="461.4" cy="360.9"/><circle cx="493.3" cy="344.4"/><circle cx="496.7" cy="342.6"/><circle cx="473.4" cy="339.2"/><circle cx="492.2" cy="333.6"/><circle cx="459.0" cy="366.5"/><circle cx="523.1" cy="312.6"/><circle cx="442.3" cy="352.1"/><circle cx="527.4" cy="328.1"/><circle cx="488.2" cy="359.4"/><circle cx="505.3" cy="299.9"/><circle cx="518.4" cy="331.9"/><circle cx="519.5" cy="306.0"/><circle cx="489.8" cy="353.8"/><circle cx="531.3" cy="300.1"/><circle cx="453.0" cy="349.2"/><circle cx="488.6" cy="335.1"/><circle cx="492.3" cy="364.4"/><circle cx="461.7" cy="334.0"/><circle cx="458.7" cy="387.2"/><circle cx="470.8" cy="314.9"/><circle cx="457.8" cy="363.5"/><circle cx="461.5" cy="348.6"/><circle cx="469.6" cy="360.2"/><circle cx="492.3" cy="333.6"/><circle cx="502.2" cy="363.1"/><circle cx="471.3" cy="365.5"/><circle cx="496.6" cy="366.2"/><circle cx="449.1" cy="355.0"/><circle cx="472.7" cy="319.7"/><circle cx="496.1" cy="364.2"/><circle cx="523.6" cy="321.3"/><circle cx="446.8" cy="379.7"/><circle cx="499.5" cy="304.4"/><circle cx="501.8" cy="365.0"/><circle cx="497.1" cy="319.0"/><circle cx="523.8" cy="310.9"/><circle cx="454.2" cy="363.7"/><circle cx="496.0" cy="337.5"/><circle cx="456.0" cy="388.4"/><circle cx="467.1" cy="332.4"/><circle cx="526.1" cy="299.6"/><circle cx="466.3" cy="360.3"/><circle cx="452.9" cy="350.3"/><circle cx="445.2" cy="473.4"/><circle cx="459.9" cy="522.8"/><circle cx="472.4" cy="527.7"/><circle cx="445.9" cy="490.3"/><circle cx="468.1" cy="503.9"/><circle cx="483.4" cy="513.1"/><circle cx="466.9" cy="509.4"/><circle cx="438.4" cy="449.9"/><circle cx="437.6" cy="463.6"/><circle cx="459.6" cy="514.1"/><circle cx="450.6" cy="515.8"/><circle cx="450.3" cy="518.8"/><circle cx="469.4" cy="505.7"/><circle cx="439.5" cy="448.8"/><circle cx="456.5" cy="520.8"/><circle cx="444.5" cy="492.5"/><circle cx="446.2" cy="486.4"/><circle cx="439.1" cy="470.0"/><circle cx="455.1" cy="505.3"/><circle cx="431.6" cy="471.9"/><circle cx="486.7" cy="515.9"/><circle cx="449.1" cy="473.7"/><circle cx="477.0" cy="523.0"/><circle cx="437.6" cy="459.1"/><circle cx="474.4" cy="531.0"/><circle cx="469.4" cy="513.8"/><circle cx="473.9" cy="526.1"/><circle cx="435.2" cy="471.0"/><circle cx="466.7" cy="527.7"/><circle cx="472.0" cy="516.3"/><circle cx="466.1" cy="523.1"/><circle cx="491.2" cy="520.3"/><circle cx="467.2" cy="515.2"/><circle cx="465.2" cy="529.2"/><circle cx="446.9" cy="493.1"/><circle cx="489.6" cy="521.4"/><circle cx="439.3" cy="455.8"/><circle cx="461.4" cy="511.2"/><circle cx="474.6" cy="529.8"/><circle cx="489.0" cy="515.6"/><circle cx="478.5" cy="529.2"/><circle cx="445.2" cy="475.8"/><circle cx="437.2" cy="458.1"/><circle cx="460.1" cy="515.6"/><circle cx="459.2" cy="506.1"/><circle cx="482.5" cy="434.3"/><circle cx="491.3" cy="439.1"/><circle cx="494.6" cy="437.7"/><circle cx="479.3" cy="439.7"/><circle cx="492.3" cy="460.4"/><circle cx="482.5" cy="453.9"/><circle cx="482.7" cy="466.3"/><circle cx="476.1" cy="432.4"/><circle cx="501.9" cy="459.1"/><circle cx="552.6" cy="345.0"/><circle cx="555.7" cy="343.3"/><circle cx="561.4" cy="344.3"/><circle cx="563.5" cy="342.2"/><circle cx="572.2" cy="349.1"/><circle cx="574.7" cy="351.4"/><circle cx="586.6" cy="368.4"/><circle cx="581.9" cy="377.3"/><circle cx="585.4" cy="381.6"/><circle cx="590.8" cy="406.4"/><circle cx="558.4" cy="392.8"/><circle cx="555.5" cy="393.3"/><circle cx="560.4" cy="394.5"/><circle cx="571.6" cy="402.6"/><circle cx="512.9" cy="384.6"/><circle cx="523.2" cy="385.4"/><circle cx="523.2" cy="391.1"/><circle cx="531.0" cy="391.6"/><circle cx="566.1" cy="401.2"/><circle cx="530.0" cy="411.4"/><circle cx="534.0" cy="417.4"/><circle cx="535.0" cy="418.3"/><circle cx="536.1" cy="416.8"/><circle cx="538.5" cy="424.7"/><circle cx="537.8" cy="422.6"/><circle cx="540.9" cy="435.3"/><circle cx="526.2" cy="418.7"/><circle cx="532.9" cy="428.0"/><circle cx="542.8" cy="436.0"/><circle cx="518.2" cy="438.6"/><circle cx="489.8" cy="437.8"/><circle cx="491.4" cy="437.8"/><circle cx="492.7" cy="442.8"/><circle cx="494.0" cy="448.1"/><circle cx="498.0" cy="454.5"/><circle cx="509.1" cy="462.3"/><circle cx="506.1" cy="385.8"/><circle cx="539.5" cy="406.0"/><circle cx="536.9" cy="364.2"/><circle cx="537.6" cy="388.5"/><circle cx="574.4" cy="348.6"/></g>
<g fill="#5574bf"><circle cx="471.4" cy="356.6"/><circle cx="498.9" cy="351.5"/><circle cx="492.4" cy="367.1"/><circle cx="494.5" cy="328.5"/><circle cx="452.5" cy="343.8"/><circle cx="523.2" cy="310.7"/><circle cx="516.1" cy="333.0"/><circle cx="506.4" cy="306.8"/><circle cx="494.1" cy="326.7"/><circle cx="463.4" cy="355.8"/><circle cx="498.9" cy="347.3"/><circle cx="500.8" cy="362.9"/><circle cx="509.8" cy="325.5"/><circle cx="471.6" cy="365.9"/><circle cx="466.5" cy="337.0"/><circle cx="458.6" cy="380.8"/><circle cx="502.1" cy="327.4"/><circle cx="442.2" cy="362.1"/><circle cx="505.9" cy="310.3"/><circle cx="513.3" cy="296.7"/><circle cx="512.5" cy="297.1"/><circle cx="535.9" cy="311.4"/><circle cx="458.0" cy="379.3"/><circle cx="470.5" cy="314.5"/><circle cx="454.9" cy="382.7"/><circle cx="480.8" cy="339.0"/><circle cx="456.7" cy="394.9"/><circle cx="473.7" cy="348.6"/><circle cx="488.7" cy="314.5"/><circle cx="526.6" cy="299.6"/><circle cx="520.7" cy="327.8"/><circle cx="530.0" cy="331.0"/><circle cx="444.5" cy="358.6"/><circle cx="476.2" cy="341.9"/><circle cx="495.6" cy="320.4"/><circle cx="526.2" cy="330.1"/><circle cx="458.5" cy="379.8"/><circle cx="463.4" cy="340.3"/><circle cx="459.5" cy="370.3"/><circle cx="526.3" cy="310.6"/><circle cx="473.6" cy="318.8"/><circle cx="525.2" cy="325.2"/><circle cx="458.5" cy="386.6"/><circle cx="468.0" cy="325.3"/><circle cx="436.3" cy="368.8"/><circle cx="517.9" cy="313.5"/><circle cx="532.9" cy="314.1"/><circle cx="458.6" cy="365.9"/><circle cx="511.7" cy="296.5"/><circle cx="492.1" cy="341.7"/><circle cx="501.0" cy="317.5"/><circle cx="441.3" cy="356.3"/><circle cx="521.9" cy="336.9"/><circle cx="494.9" cy="325.3"/><circle cx="451.7" cy="337.3"/><circle cx="436.5" cy="481.5"/><circle cx="448.5" cy="474.3"/><circle cx="454.7" cy="509.6"/><circle cx="434.1" cy="454.5"/><circle cx="439.3" cy="465.1"/><circle cx="474.5" cy="530.4"/><circle cx="448.8" cy="483.9"/><circle cx="471.6" cy="505.9"/><circle cx="451.5" cy="512.5"/><circle cx="441.0" cy="457.3"/><circle cx="459.6" cy="525.9"/><circle cx="469.7" cy="525.7"/><circle cx="454.8" cy="511.3"/><circle cx="436.5" cy="464.1"/><circle cx="460.8" cy="518.0"/><circle cx="453.6" cy="523.0"/><circle cx="471.2" cy="505.4"/><circle cx="470.4" cy="441.9"/><circle cx="501.1" cy="457.8"/><circle cx="567.2" cy="347.1"/><circle cx="577.7" cy="346.8"/><circle cx="583.6" cy="350.1"/><circle cx="595.1" cy="395.8"/><circle cx="555.4" cy="391.7"/><circle cx="523.2" cy="389.4"/><circle cx="525.2" cy="412.9"/><circle cx="526.3" cy="410.4"/><circle cx="543.5" cy="427.3"/><circle cx="527.7" cy="423.5"/><circle cx="532.3" cy="428.9"/><circle cx="538.4" cy="432.4"/><circle cx="520.7" cy="447.3"/><circle cx="500.6" cy="455.0"/><circle cx="538.3" cy="405.0"/><circle cx="553.3" cy="440.0"/><circle cx="565.6" cy="421.2"/><circle cx="567.4" cy="375.0"/><circle cx="563.5" cy="388.9"/><circle cx="542.3" cy="363.4"/><circle cx="558.3" cy="390.4"/><circle cx="549.1" cy="403.9"/></g>
<g fill="#506ebc"><circle cx="495.2" cy="338.9"/><circle cx="463.9" cy="341.0"/><circle cx="488.7" cy="364.6"/><circle cx="460.7" cy="339.2"/><circle cx="438.2" cy="357.0"/><circle cx="507.6" cy="345.0"/><circle cx="458.7" cy="380.0"/><circle cx="528.2" cy="309.5"/><circle cx="512.5" cy="332.5"/><circle cx="496.4" cy="319.0"/><circle cx="454.6" cy="398.1"/><circle cx="494.4" cy="318.7"/><circle cx="517.7" cy="319.6"/><circle cx="497.7" cy="331.9"/><circle cx="530.0" cy="319.8"/><circle cx="439.6" cy="379.1"/><circle cx="496.7" cy="335.4"/><circle cx="512.2" cy="311.0"/><circle cx="522.6" cy="295.5"/><circle cx="511.8" cy="324.0"/><circle cx="494.1" cy="332.4"/><circle cx="435.7" cy="356.9"/><circle cx="491.3" cy="317.8"/><circle cx="495.7" cy="341.1"/><circle cx="507.1" cy="311.8"/><circle cx="451.1" cy="403.7"/><circle cx="469.9" cy="365.7"/><circle cx="460.0" cy="392.7"/><circle cx="435.8" cy="356.1"/><circle cx="495.0" cy="334.6"/><circle cx="520.4" cy="315.9"/><circle cx="440.2" cy="369.5"/><circle cx="457.5" cy="395.0"/><circle cx="505.3" cy="347.1"/><circle cx="475.3" cy="517.0"/><circle cx="459.1" cy="527.4"/><circle cx="479.0" cy="521.5"/><circle cx="477.8" cy="505.9"/><circle cx="466.5" cy="509.7"/><circle cx="446.7" cy="477.8"/><circle cx="452.6" cy="508.7"/><circle cx="472.6" cy="515.0"/><circle cx="485.8" cy="513.5"/><circle cx="461.8" cy="515.9"/><circle cx="457.6" cy="516.8"/><circle cx="467.0" cy="430.7"/><circle cx="472.5" cy="430.0"/><circle cx="477.0" cy="434.0"/><circle cx="483.5" cy="457.4"/><circle cx="493.9" cy="460.6"/><circle cx="480.5" cy="433.0"/><circle cx="495.8" cy="447.1"/><circle cx="493.0" cy="438.3"/><circle cx="504.5" cy="463.8"/><circle cx="584.4" cy="374.1"/><circle cx="591.7" cy="401.1"/><circle cx="591.6" cy="400.2"/><circle cx="570.1" cy="400.3"/><circle cx="535.5" cy="416.8"/><circle cx="541.7" cy="433.9"/><circle cx="533.2" cy="429.7"/><circle cx="497.1" cy="456.3"/><circle cx="557.7" cy="441.1"/></g>
<g fill="#4c6ab9"><circle cx="497.4" cy="322.6"/><circle cx="468.0" cy="316.6"/><circle cx="511.3" cy="306.8"/><circle cx="438.8" cy="387.0"/><circle cx="497.6" cy="323.1"/><circle cx="458.6" cy="353.9"/><circle cx="449.4" cy="403.5"/><circle cx="451.2" cy="357.8"/><circle cx="452.2" cy="350.4"/><circle cx="527.2" cy="317.3"/><circle cx="538.8" cy="300.1"/><circle cx="528.9" cy="327.7"/><circle cx="461.0" cy="368.4"/><circle cx="482.5" cy="529.5"/><circle cx="441.4" cy="507.6"/><circle cx="477.1" cy="505.3"/><circle cx="519.8" cy="401.3"/><circle cx="517.0" cy="421.9"/><circle cx="553.5" cy="365.3"/></g>
<g fill="#4865b7"><circle cx="513.2" cy="309.5"/><circle cx="462.7" cy="512.2"/><circle cx="550.9" cy="402.9"/><circle cx="568.7" cy="339.9"/></g>
<g fill="#4461b4"><circle cx="568.1" cy="343.3"/></g>
<g fill="#405cb2"><circle cx="496.3" cy="339.7"/><circle cx="519.1" cy="371.3"/></g>
</g>
<g stroke="#222" stroke-width="0.6">
<circle cx="476.2" cy="317.1" r="3" fill="#3d5aa6"/>
<circle cx="526.0" cy="341.2" r="3" fill="#3d5aa6"/>
<circle cx="461.5" cy="356.7" r="3" fill="#3d5aa6"/>
<circle cx="473.5" cy="355.9" r="3" fill="#3d5aa6"/>
<circle cx="584.2" cy="368.8" r="3" fill="#3d5aa6"/>
<circle cx="591.6" cy="375.8" r="3" fill="#3d5aa6"/>
<circle cx="601.3" cy="377.3" r="3" fill="#3d5aa6"/>
<circle cx="585.8" cy="381.2" r="3" fill="#3d5aa6"/>
<circle cx="589.2" cy="383.9" r="3" fill="#3d5aa6"/>
<circle cx="595.1" cy="402.2" r="3" fill="#3d5aa6"/>
<circle cx="499.5" cy="402.9" r="3" fill="#3d5aa6"/>
<circle cx="508.9" cy="424.7" r="3" fill="#3d5aa6"/>
<circle cx="543.4" cy="434.8" r="3" fill="#3d5aa6"/>
<circle cx="539.5" cy="475.2" r="3" fill="#3d5aa6"/>
<circle cx="442.5" cy="445.6" r="3" fill="#3d5aa6"/>
<circle cx="470.8" cy="532.6" r="3" fill="#3d5aa6"/>
<circle cx="503.0" cy="399.0" r="3" fill="#e3262b"/>
<circle cx="606.3" cy="390.9" r="3" fill="#e3262b"/>
<circle cx="610.2" cy="394.4" r="3" fill="#e3262b"/>
<circle cx="616.0" cy="424.3" r="3" fill="#e3262b"/>
<circle cx="563.2" cy="442.5" r="3" fill="#e3262b"/>
<circle cx="566.7" cy="463.1" r="3" fill="#e3262b"/>
<circle cx="590.8" cy="457.7" r="3" fill="#e3262b"/>
<circle cx="612.2" cy="450.3" r="3" fill="#e3262b"/>
<circle cx="614.5" cy="464.3" r="3" fill="#e3262b"/>
<circle cx="628.9" cy="465.5" r="3" fill="#e3262b"/>
<circle cx="580.3" cy="492.6" r="3" fill="#e3262b"/>
<circle cx="584.2" cy="489.1" r="3" fill="#e3262b"/>
</g>
<circle cx="672.4" cy="380.8" r="1.1" fill="#eeae98"/>
</g>
<rect x="418.6" y="281.5" width="265.6" height="264.1" fill="none" stroke="#111" stroke-width="1.1"/>
<line x1="424.77" y1="545.6" x2="424.77" y2="549.8000000000001" stroke="#111" stroke-width="1.1"/>
<text x="424.77" y="561.6" font-size="9.3" text-anchor="middle" fill="#111">−60</text>
<line x1="458.88" y1="545.6" x2="458.88" y2="549.8000000000001" stroke="#111" stroke-width="1.1"/>
<text x="458.88" y="561.6" font-size="9.3" text-anchor="middle" fill="#111">−40</text>
<line x1="492.99" y1="545.6" x2="492.99" y2="549.8000000000001" stroke="#111" stroke-width="1.1"/>
<text x="492.99" y="561.6" font-size="9.3" text-anchor="middle" fill="#111">−20</text>
<line x1="527.10" y1="545.6" x2="527.10" y2="549.8000000000001" stroke="#111" stroke-width="1.1"/>
<text x="527.10" y="561.6" font-size="9.3" text-anchor="middle" fill="#111">0</text>
<line x1="561.21" y1="545.6" x2="561.21" y2="549.8000000000001" stroke="#111" stroke-width="1.1"/>
<text x="561.21" y="561.6" font-size="9.3" text-anchor="middle" fill="#111">20</text>
<line x1="595.32" y1="545.6" x2="595.32" y2="549.8000000000001" stroke="#111" stroke-width="1.1"/>
<text x="595.32" y="561.6" font-size="9.3" text-anchor="middle" fill="#111">40</text>
<line x1="629.43" y1="545.6" x2="629.43" y2="549.8000000000001" stroke="#111" stroke-width="1.1"/>
<text x="629.43" y="561.6" font-size="9.3" text-anchor="middle" fill="#111">60</text>
<line x1="663.54" y1="545.6" x2="663.54" y2="549.8000000000001" stroke="#111" stroke-width="1.1"/>
<text x="663.54" y="561.6" font-size="9.3" text-anchor="middle" fill="#111">80</text>
<line x1="414.20000000000005" y1="526.76" x2="418.6" y2="526.76" stroke="#111" stroke-width="1.1"/>
<text x="409.2" y="530.16" font-size="9.3" text-anchor="end" fill="#111">−60</text>
<line x1="414.20000000000005" y1="490.24" x2="418.6" y2="490.24" stroke="#111" stroke-width="1.1"/>
<text x="409.2" y="493.64" font-size="9.3" text-anchor="end" fill="#111">−40</text>
<line x1="414.20000000000005" y1="453.72" x2="418.6" y2="453.72" stroke="#111" stroke-width="1.1"/>
<text x="409.2" y="457.12" font-size="9.3" text-anchor="end" fill="#111">−20</text>
<line x1="414.20000000000005" y1="417.20" x2="418.6" y2="417.20" stroke="#111" stroke-width="1.1"/>
<text x="409.2" y="420.60" font-size="9.3" text-anchor="end" fill="#111">0</text>
<line x1="414.20000000000005" y1="380.68" x2="418.6" y2="380.68" stroke="#111" stroke-width="1.1"/>
<text x="409.2" y="384.08" font-size="9.3" text-anchor="end" fill="#111">20</text>
<line x1="414.20000000000005" y1="344.16" x2="418.6" y2="344.16" stroke="#111" stroke-width="1.1"/>
<text x="409.2" y="347.56" font-size="9.3" text-anchor="end" fill="#111">40</text>
<line x1="414.20000000000005" y1="307.64" x2="418.6" y2="307.64" stroke="#111" stroke-width="1.1"/>
<text x="409.2" y="311.04" font-size="9.3" text-anchor="end" fill="#111">60</text>
<text x="551.3" y="576" font-size="9.4" text-anchor="middle" fill="#111">t-SNE component 1</text>
<text font-size="9.4" fill="#111" text-anchor="middle" transform="translate(385.8 414) rotate(-90)">t-SNE component 2</text>
<rect x="631.2" y="285.2" width="46.7" height="56.2" rx="2" fill="#fff" fill-opacity="0.85" stroke="#ccc" stroke-width="0.9"/>
<circle cx="644.2" cy="293.5" r="4.6" fill="#e06c56"/>
<text x="661.2" y="296.0" font-size="9.2" fill="#111">0.2</text>
<circle cx="644.2" cy="306.8" r="4.6" fill="#efbba5"/>
<text x="661.2" y="309.3" font-size="9.2" fill="#111">0.4</text>
<circle cx="644.2" cy="319.8" r="4.6" fill="#aac4e2"/>
<text x="661.2" y="322.3" font-size="9.2" fill="#111">0.6</text>
<circle cx="644.2" cy="333.1" r="4.6" fill="#6a8ac9"/>
<text x="661.2" y="335.6" font-size="9.2" fill="#111">0.8</text>
<text x="172.0" y="601.3" font-size="23.5" font-weight="bold">D</text>
<g class="sd" stroke="#3a3a3a" stroke-opacity="0.7" stroke-width="0.5">
<g fill="#b72223"><circle cx="253.0" cy="818.1"/></g>
<g fill="#bc2927"><circle cx="265.6" cy="785.3"/><circle cx="253.5" cy="823.6"/><circle cx="250.2" cy="815.5"/></g>
<g fill="#c22f2a"><circle cx="260.1" cy="814.7"/><circle cx="254.3" cy="815.3"/><circle cx="283.4" cy="723.0"/><circle cx="261.1" cy="799.1"/></g>
<g fill="#c6352e"><circle cx="276.7" cy="763.7"/><circle cx="273.3" cy="741.1"/><circle cx="241.8" cy="829.3"/><circle cx="260.9" cy="797.0"/><circle cx="273.4" cy="799.2"/><circle cx="267.2" cy="794.9"/><circle cx="269.5" cy="777.3"/></g>
<g fill="#ca4036"><circle cx="273.3" cy="728.8"/><circle cx="265.8" cy="800.3"/><circle cx="252.3" cy="817.9"/><circle cx="275.5" cy="747.4"/><circle cx="280.2" cy="762.9"/><circle cx="272.9" cy="722.3"/></g>
<g fill="#ce493d"><circle cx="270.3" cy="758.0"/><circle cx="272.8" cy="757.7"/><circle cx="266.6" cy="790.6"/><circle cx="272.9" cy="767.7"/><circle cx="281.0" cy="748.2"/><circle cx="288.0" cy="783.2"/><circle cx="298.6" cy="717.9"/></g>
<g fill="#d15444"><circle cx="277.0" cy="725.0"/><circle cx="286.8" cy="748.0"/><circle cx="292.6" cy="793.8"/><circle cx="280.2" cy="744.0"/><circle cx="282.5" cy="716.3"/><circle cx="269.9" cy="774.7"/><circle cx="271.7" cy="732.2"/><circle cx="293.7" cy="735.3"/><circle cx="274.3" cy="774.7"/><circle cx="275.4" cy="774.6"/><circle cx="284.1" cy="782.7"/><circle cx="265.6" cy="801.1"/></g>
<g fill="#d55e4b"><circle cx="286.3" cy="762.2"/><circle cx="299.0" cy="716.2"/><circle cx="277.1" cy="741.1"/><circle cx="280.7" cy="750.5"/><circle cx="281.7" cy="752.8"/><circle cx="273.3" cy="726.4"/><circle cx="278.4" cy="804.3"/><circle cx="279.6" cy="749.4"/><circle cx="279.5" cy="772.9"/><circle cx="274.9" cy="808.6"/><circle cx="283.6" cy="713.9"/><circle cx="277.9" cy="705.9"/></g>
<g fill="#d96853"><circle cx="296.1" cy="789.0"/><circle cx="285.2" cy="793.3"/><circle cx="281.8" cy="740.9"/><circle cx="289.8" cy="756.6"/><circle cx="294.4" cy="748.9"/><circle cx="286.8" cy="797.3"/><circle cx="275.1" cy="773.9"/><circle cx="283.4" cy="765.7"/><circle cx="274.0" cy="811.0"/><circle cx="295.8" cy="734.4"/><circle cx="275.5" cy="751.6"/><circle cx="268.6" cy="762.7"/><circle cx="277.9" cy="725.2"/><circle cx="292.4" cy="736.6"/><circle cx="268.4" cy="799.9"/></g>
<g fill="#db705b"><circle cx="304.3" cy="723.6"/><circle cx="300.5" cy="697.2"/><circle cx="277.9" cy="741.2"/><circle cx="292.1" cy="724.1"/><circle cx="306.5" cy="661.2"/><circle cx="289.0" cy="773.6"/><circle cx="290.7" cy="749.1"/><circle cx="287.4" cy="762.2"/><circle cx="301.0" cy="769.1"/><circle cx="300.0" cy="763.0"/><circle cx="291.4" cy="761.0"/><circle cx="302.0" cy="679.6"/><circle cx="285.0" cy="755.9"/><circle cx="278.4" cy="754.8"/><circle cx="290.0" cy="743.5"/><circle cx="290.9" cy="710.5"/><circle cx="290.9" cy="768.0"/></g>
<g fill="#de7962"><circle cx="296.7" cy="682.6"/><circle cx="288.1" cy="778.2"/><circle cx="287.8" cy="737.9"/><circle cx="307.3" cy="711.9"/><circle cx="298.8" cy="747.8"/><circle cx="290.3" cy="754.7"/><circle cx="300.8" cy="681.3"/><circle cx="303.3" cy="750.5"/><circle cx="301.5" cy="748.1"/><circle cx="283.6" cy="741.3"/><circle cx="294.9" cy="696.5"/></g>
<g fill="#e0816a"><circle cx="298.7" cy="774.7"/><circle cx="309.5" cy="677.0"/><circle cx="317.2" cy="748.2"/><circle cx="308.2" cy="752.9"/><circle cx="300.2" cy="697.7"/><circle cx="321.8" cy="779.7"/><circle cx="302.0" cy="784.6"/><circle cx="306.7" cy="789.2"/><circle cx="286.4" cy="783.3"/><circle cx="310.8" cy="755.4"/><circle cx="308.6" cy="708.0"/><circle cx="315.5" cy="718.4"/><circle cx="318.7" cy="704.4"/><circle cx="309.3" cy="736.4"/><circle cx="312.8" cy="700.7"/></g>
<g fill="#e28972"><circle cx="317.1" cy="726.1"/><circle cx="305.6" cy="716.9"/><circle cx="320.4" cy="695.5"/><circle cx="301.4" cy="687.5"/><circle cx="310.8" cy="724.0"/><circle cx="317.7" cy="702.3"/><circle cx="303.8" cy="726.4"/><circle cx="300.4" cy="754.2"/><circle cx="315.4" cy="771.7"/><circle cx="304.9" cy="742.5"/></g>
<g fill="#e4917a"><circle cx="327.9" cy="711.5"/><circle cx="319.5" cy="672.8"/><circle cx="304.3" cy="748.2"/><circle cx="333.4" cy="727.1"/><circle cx="313.6" cy="776.9"/><circle cx="320.4" cy="651.2"/><circle cx="324.8" cy="743.3"/><circle cx="306.6" cy="756.6"/><circle cx="307.1" cy="719.8"/><circle cx="292.3" cy="724.9"/><circle cx="312.9" cy="701.2"/></g>
<g fill="#e59881"><circle cx="322.2" cy="760.7"/><circle cx="307.6" cy="658.4"/><circle cx="323.3" cy="737.8"/><circle cx="333.0" cy="750.2"/><circle cx="316.3" cy="670.9"/><circle cx="321.5" cy="777.8"/><circle cx="310.1" cy="731.8"/><circle cx="324.5" cy="643.0"/><circle cx="322.1" cy="725.0"/><circle cx="318.9" cy="710.1"/><circle cx="313.7" cy="721.8"/><circle cx="327.9" cy="698.0"/><circle cx="323.8" cy="735.7"/></g>
<g fill="#e5a089"><circle cx="314.9" cy="720.7"/><circle cx="341.6" cy="733.7"/><circle cx="315.2" cy="679.4"/><circle cx="327.0" cy="742.9"/><circle cx="341.0" cy="756.4"/><circle cx="332.5" cy="717.6"/><circle cx="318.0" cy="745.9"/><circle cx="324.3" cy="654.2"/><circle cx="328.3" cy="739.6"/><circle cx="332.0" cy="704.1"/><circle cx="329.8" cy="666.2"/><circle cx="317.2" cy="692.3"/><circle cx="330.4" cy="754.4"/></g>
<g fill="#e6a690"><circle cx="348.0" cy="705.8"/><circle cx="324.2" cy="768.3"/><circle cx="336.9" cy="714.8"/><circle cx="326.2" cy="736.3"/><circle cx="330.3" cy="714.6"/><circle cx="333.5" cy="718.7"/><circle cx="340.5" cy="757.7"/><circle cx="323.5" cy="739.9"/><circle cx="331.6" cy="755.5"/><circle cx="337.6" cy="663.7"/><circle cx="339.8" cy="684.5"/><circle cx="326.2" cy="748.1"/><circle cx="325.5" cy="752.8"/><circle cx="320.4" cy="677.4"/></g>
<g fill="#e6ae98"><circle cx="333.6" cy="747.9"/><circle cx="344.9" cy="660.5"/><circle cx="349.3" cy="726.5"/><circle cx="346.1" cy="718.5"/><circle cx="359.9" cy="726.6"/><circle cx="339.6" cy="738.1"/></g>
<g fill="#e7b5a0"><circle cx="346.1" cy="766.5"/><circle cx="342.6" cy="726.9"/><circle cx="339.7" cy="659.7"/><circle cx="358.4" cy="720.4"/><circle cx="359.1" cy="710.4"/><circle cx="350.4" cy="665.2"/><circle cx="325.9" cy="695.0"/><circle cx="359.7" cy="666.8"/><circle cx="344.4" cy="701.1"/><circle cx="344.3" cy="763.8"/><circle cx="336.0" cy="732.6"/><circle cx="355.3" cy="719.4"/><circle cx="342.6" cy="649.1"/><circle cx="363.0" cy="710.8"/><circle cx="331.0" cy="699.4"/><circle cx="336.2" cy="702.8"/></g>
<g fill="#e4baa8"><circle cx="349.2" cy="755.2"/><circle cx="355.8" cy="723.3"/><circle cx="363.6" cy="691.4"/><circle cx="355.5" cy="677.0"/><circle cx="353.1" cy="743.6"/><circle cx="349.9" cy="717.8"/><circle cx="360.7" cy="775.8"/><circle cx="357.7" cy="706.2"/><circle cx="335.3" cy="760.0"/><circle cx="346.8" cy="736.5"/><circle cx="359.1" cy="654.5"/><circle cx="349.1" cy="759.3"/><circle cx="355.2" cy="684.4"/></g>
<g fill="#e1c0b2"><circle cx="359.9" cy="749.1"/><circle cx="341.5" cy="646.1"/><circle cx="364.5" cy="645.3"/><circle cx="380.5" cy="780.7"/><circle cx="360.5" cy="631.8"/><circle cx="358.3" cy="723.0"/><circle cx="367.1" cy="721.8"/><circle cx="369.6" cy="718.1"/><circle cx="347.5" cy="751.5"/><circle cx="347.2" cy="740.1"/><circle cx="360.2" cy="640.7"/><circle cx="354.9" cy="704.8"/><circle cx="355.8" cy="663.4"/><circle cx="339.3" cy="666.1"/><circle cx="365.0" cy="777.3"/><circle cx="355.3" cy="612.0"/></g>
<g fill="#dec4bb"><circle cx="367.7" cy="730.5"/><circle cx="360.1" cy="659.9"/><circle cx="382.5" cy="657.6"/><circle cx="351.0" cy="698.8"/><circle cx="372.0" cy="749.1"/><circle cx="369.9" cy="785.3"/><circle cx="361.2" cy="726.1"/><circle cx="371.1" cy="667.5"/><circle cx="354.6" cy="662.7"/><circle cx="348.0" cy="753.6"/><circle cx="354.2" cy="689.5"/><circle cx="369.4" cy="776.8"/><circle cx="355.2" cy="651.3"/><circle cx="382.2" cy="764.6"/><circle cx="382.3" cy="666.5"/><circle cx="357.4" cy="654.8"/></g>
<g fill="#dacac4"><circle cx="363.8" cy="747.1"/><circle cx="350.1" cy="748.7"/><circle cx="379.8" cy="774.0"/><circle cx="371.4" cy="789.2"/><circle cx="376.3" cy="777.0"/><circle cx="368.6" cy="633.9"/><circle cx="370.1" cy="781.1"/><circle cx="362.5" cy="675.1"/><circle cx="382.9" cy="776.5"/><circle cx="391.1" cy="783.1"/><circle cx="398.8" cy="705.4"/><circle cx="373.5" cy="729.6"/></g>
<g fill="#d7cfcd"><circle cx="378.9" cy="681.8"/><circle cx="389.5" cy="783.1"/><circle cx="363.0" cy="703.1"/><circle cx="366.4" cy="701.2"/><circle cx="365.4" cy="680.4"/><circle cx="379.6" cy="737.2"/><circle cx="379.2" cy="724.7"/><circle cx="374.1" cy="782.1"/><circle cx="367.7" cy="612.1"/><circle cx="382.5" cy="736.9"/><circle cx="369.0" cy="698.2"/><circle cx="372.0" cy="723.6"/><circle cx="377.0" cy="737.8"/><circle cx="373.1" cy="785.0"/><circle cx="367.1" cy="607.0"/><circle cx="386.6" cy="710.1"/><circle cx="376.2" cy="697.3"/><circle cx="374.6" cy="624.1"/><circle cx="361.1" cy="688.9"/><circle cx="354.1" cy="740.3"/><circle cx="390.5" cy="692.5"/><circle cx="378.1" cy="751.7"/><circle cx="388.5" cy="709.4"/></g>
<g fill="#cdcbd0"><circle cx="382.4" cy="751.4"/><circle cx="389.1" cy="791.4"/><circle cx="376.5" cy="643.0"/><circle cx="392.3" cy="725.1"/><circle cx="352.8" cy="717.6"/><circle cx="371.2" cy="779.8"/><circle cx="397.9" cy="720.7"/><circle cx="368.6" cy="720.8"/><circle cx="396.3" cy="784.2"/><circle cx="386.9" cy="665.7"/><circle cx="391.3" cy="736.1"/><circle cx="392.6" cy="708.7"/><circle cx="388.8" cy="707.9"/><circle cx="389.0" cy="746.4"/></g>
<g fill="#c2c8d3"><circle cx="375.6" cy="755.4"/><circle cx="390.7" cy="697.3"/><circle cx="377.0" cy="681.7"/><circle cx="367.6" cy="703.8"/><circle cx="373.0" cy="706.7"/><circle cx="396.1" cy="653.1"/><circle cx="388.2" cy="766.9"/><circle cx="407.5" cy="792.5"/><circle cx="385.9" cy="663.9"/><circle cx="374.5" cy="727.0"/><circle cx="383.2" cy="615.3"/><circle cx="376.2" cy="697.9"/><circle cx="382.4" cy="679.9"/><circle cx="398.2" cy="769.2"/><circle cx="383.7" cy="768.9"/><circle cx="370.9" cy="666.5"/><circle cx="369.1" cy="749.2"/><circle cx="394.8" cy="748.6"/><circle cx="395.5" cy="687.7"/><circle cx="377.5" cy="724.4"/><circle cx="381.2" cy="655.1"/><circle cx="369.8" cy="754.7"/><circle cx="396.1" cy="759.7"/><circle cx="393.2" cy="738.6"/><circle cx="382.4" cy="730.5"/><circle cx="389.1" cy="790.8"/></g>
<g fill="#b9c4d5"><circle cx="378.6" cy="666.5"/><circle cx="392.7" cy="676.7"/><circle cx="389.7" cy="747.1"/><circle cx="384.7" cy="682.1"/><circle cx="394.7" cy="749.8"/><circle cx="383.7" cy="664.2"/><circle cx="384.6" cy="769.0"/><circle cx="407.5" cy="768.5"/><circle cx="400.7" cy="786.8"/><circle cx="378.4" cy="720.1"/><circle cx="377.9" cy="709.9"/><circle cx="392.4" cy="710.1"/><circle cx="392.1" cy="686.2"/><circle cx="387.5" cy="755.3"/><circle cx="391.5" cy="712.8"/><circle cx="390.8" cy="760.5"/><circle cx="385.7" cy="768.5"/><circle cx="397.5" cy="745.4"/><circle cx="373.8" cy="744.3"/><circle cx="384.2" cy="746.6"/><circle cx="401.8" cy="696.2"/><circle cx="381.7" cy="618.0"/><circle cx="391.7" cy="743.5"/><circle cx="386.1" cy="729.3"/><circle cx="399.7" cy="703.5"/><circle cx="390.8" cy="721.5"/><circle cx="390.1" cy="620.5"/><circle cx="400.5" cy="792.5"/><circle cx="402.6" cy="659.3"/><circle cx="382.0" cy="758.9"/></g>
<g fill="#aec2d8"><circle cx="375.4" cy="689.3"/><circle cx="413.1" cy="733.2"/><circle cx="383.7" cy="687.8"/><circle cx="399.5" cy="710.8"/><circle cx="411.1" cy="786.3"/><circle cx="400.5" cy="776.7"/><circle cx="387.0" cy="717.1"/><circle cx="378.6" cy="732.8"/><circle cx="391.9" cy="777.1"/><circle cx="401.0" cy="793.9"/><circle cx="399.8" cy="722.1"/><circle cx="400.2" cy="718.5"/><circle cx="406.9" cy="662.7"/><circle cx="401.5" cy="793.5"/><circle cx="399.5" cy="685.7"/><circle cx="399.2" cy="785.0"/><circle cx="394.5" cy="758.7"/><circle cx="398.6" cy="793.1"/><circle cx="390.4" cy="791.7"/><circle cx="401.9" cy="692.7"/><circle cx="394.6" cy="658.1"/><circle cx="392.2" cy="651.8"/><circle cx="374.8" cy="735.7"/><circle cx="383.7" cy="708.5"/><circle cx="384.6" cy="791.7"/><circle cx="396.6" cy="640.1"/><circle cx="413.7" cy="755.5"/><circle cx="400.8" cy="716.8"/><circle cx="399.8" cy="675.4"/><circle cx="405.1" cy="795.6"/><circle cx="394.9" cy="703.4"/></g>
<g fill="#a4bedb"><circle cx="391.4" cy="751.1"/><circle cx="407.8" cy="780.8"/><circle cx="410.1" cy="726.1"/><circle cx="386.0" cy="689.9"/><circle cx="396.6" cy="779.1"/><circle cx="403.7" cy="725.4"/><circle cx="408.4" cy="775.2"/><circle cx="407.0" cy="703.0"/><circle cx="379.4" cy="622.2"/><circle cx="403.4" cy="742.6"/><circle cx="405.9" cy="713.3"/><circle cx="385.7" cy="736.8"/><circle cx="412.9" cy="774.5"/><circle cx="395.5" cy="686.1"/><circle cx="391.0" cy="653.5"/><circle cx="391.6" cy="720.1"/><circle cx="395.4" cy="729.5"/><circle cx="403.3" cy="796.4"/><circle cx="400.7" cy="736.5"/><circle cx="411.1" cy="792.1"/><circle cx="404.0" cy="779.5"/><circle cx="407.8" cy="793.2"/><circle cx="406.8" cy="664.5"/><circle cx="393.8" cy="739.5"/><circle cx="397.6" cy="746.1"/><circle cx="396.2" cy="693.6"/><circle cx="400.1" cy="792.5"/><circle cx="396.7" cy="782.6"/><circle cx="402.2" cy="742.4"/><circle cx="408.0" cy="758.8"/><circle cx="384.3" cy="655.7"/><circle cx="407.6" cy="702.5"/><circle cx="404.8" cy="713.2"/><circle cx="396.0" cy="766.1"/><circle cx="391.5" cy="724.8"/><circle cx="406.9" cy="698.3"/><circle cx="405.1" cy="692.8"/><circle cx="388.5" cy="687.8"/></g>
<g fill="#9eb8d8"><circle cx="415.8" cy="800.4"/><circle cx="383.8" cy="763.8"/><circle cx="403.9" cy="719.5"/><circle cx="386.4" cy="638.2"/><circle cx="402.5" cy="652.5"/><circle cx="405.9" cy="735.6"/><circle cx="422.7" cy="810.0"/><circle cx="413.0" cy="769.6"/><circle cx="410.4" cy="766.1"/><circle cx="410.4" cy="720.0"/><circle cx="399.9" cy="669.9"/><circle cx="404.5" cy="682.1"/><circle cx="406.2" cy="709.7"/><circle cx="411.3" cy="733.0"/><circle cx="399.1" cy="702.9"/><circle cx="402.8" cy="774.5"/><circle cx="417.1" cy="679.7"/><circle cx="408.7" cy="697.1"/><circle cx="404.3" cy="798.1"/><circle cx="423.3" cy="773.7"/><circle cx="410.6" cy="795.7"/><circle cx="413.8" cy="749.5"/><circle cx="412.8" cy="792.6"/><circle cx="412.8" cy="769.3"/><circle cx="402.8" cy="687.2"/><circle cx="409.6" cy="785.4"/><circle cx="415.1" cy="780.8"/><circle cx="414.5" cy="779.8"/><circle cx="403.0" cy="708.4"/><circle cx="424.5" cy="742.9"/><circle cx="409.1" cy="774.2"/><circle cx="398.5" cy="770.2"/><circle cx="385.2" cy="765.6"/><circle cx="413.7" cy="735.9"/><circle cx="406.2" cy="800.9"/><circle cx="404.4" cy="762.3"/><circle cx="409.7" cy="677.5"/><circle cx="415.3" cy="676.7"/><circle cx="412.0" cy="787.4"/></g>
<g fill="#97b1d5"><circle cx="418.2" cy="716.8"/><circle cx="419.9" cy="767.5"/><circle cx="406.3" cy="727.5"/><circle cx="416.9" cy="807.9"/><circle cx="404.3" cy="722.7"/><circle cx="403.5" cy="783.9"/><circle cx="409.0" cy="778.3"/><circle cx="425.6" cy="720.6"/><circle cx="388.1" cy="789.9"/><circle cx="416.7" cy="740.6"/><circle cx="427.1" cy="737.2"/><circle cx="409.8" cy="733.8"/><circle cx="395.9" cy="746.6"/><circle cx="401.8" cy="738.8"/><circle cx="414.7" cy="734.0"/><circle cx="414.3" cy="722.5"/><circle cx="410.0" cy="725.6"/><circle cx="418.1" cy="715.8"/><circle cx="398.2" cy="761.5"/><circle cx="419.3" cy="774.5"/><circle cx="401.1" cy="731.2"/><circle cx="415.0" cy="741.3"/><circle cx="427.9" cy="783.0"/><circle cx="400.0" cy="754.6"/><circle cx="414.5" cy="768.2"/><circle cx="408.8" cy="708.4"/><circle cx="410.9" cy="801.1"/><circle cx="440.5" cy="731.9"/><circle cx="406.8" cy="698.5"/><circle cx="400.1" cy="760.2"/><circle cx="402.0" cy="713.8"/><circle cx="404.6" cy="724.0"/><circle cx="410.8" cy="735.7"/><circle cx="414.7" cy="713.4"/></g>
<g fill="#91abd3"><circle cx="421.5" cy="733.2"/><circle cx="416.2" cy="767.5"/><circle cx="407.5" cy="779.5"/><circle cx="420.6" cy="813.6"/><circle cx="424.3" cy="816.6"/><circle cx="407.6" cy="796.9"/><circle cx="429.4" cy="727.7"/><circle cx="421.5" cy="809.1"/><circle cx="415.5" cy="785.9"/><circle cx="417.2" cy="783.5"/><circle cx="408.5" cy="782.8"/><circle cx="410.4" cy="788.0"/><circle cx="420.6" cy="779.0"/><circle cx="414.9" cy="770.9"/><circle cx="413.7" cy="754.4"/><circle cx="427.3" cy="774.0"/><circle cx="415.1" cy="734.8"/><circle cx="427.0" cy="759.6"/><circle cx="415.4" cy="747.4"/><circle cx="408.2" cy="784.4"/><circle cx="420.9" cy="698.4"/><circle cx="417.0" cy="757.8"/><circle cx="411.3" cy="724.2"/><circle cx="400.1" cy="678.0"/><circle cx="429.6" cy="813.9"/><circle cx="409.1" cy="760.9"/><circle cx="406.0" cy="721.9"/><circle cx="413.3" cy="721.6"/><circle cx="423.4" cy="749.6"/><circle cx="427.4" cy="753.0"/><circle cx="417.7" cy="705.4"/><circle cx="420.6" cy="756.5"/><circle cx="426.0" cy="713.0"/><circle cx="418.8" cy="719.7"/><circle cx="429.2" cy="737.4"/><circle cx="427.8" cy="756.8"/><circle cx="408.1" cy="720.5"/><circle cx="416.7" cy="779.2"/><circle cx="419.3" cy="781.3"/><circle cx="399.3" cy="742.9"/></g>
<g fill="#8aa4d0"><circle cx="422.8" cy="702.9"/><circle cx="419.1" cy="780.7"/><circle cx="421.0" cy="768.4"/><circle cx="423.0" cy="734.4"/><circle cx="413.8" cy="756.2"/><circle cx="410.4" cy="796.6"/><circle cx="421.9" cy="805.5"/><circle cx="411.0" cy="771.7"/><circle cx="430.1" cy="796.7"/><circle cx="418.0" cy="645.1"/><circle cx="413.8" cy="754.9"/><circle cx="408.5" cy="768.7"/><circle cx="419.2" cy="677.3"/><circle cx="416.2" cy="752.8"/><circle cx="422.2" cy="802.8"/><circle cx="420.4" cy="711.5"/><circle cx="420.0" cy="709.6"/><circle cx="421.1" cy="801.4"/><circle cx="415.6" cy="744.6"/><circle cx="406.0" cy="699.6"/><circle cx="419.9" cy="795.5"/><circle cx="414.0" cy="762.0"/><circle cx="420.7" cy="708.7"/><circle cx="419.9" cy="696.9"/><circle cx="427.7" cy="776.6"/><circle cx="416.6" cy="788.9"/><circle cx="408.4" cy="765.8"/><circle cx="407.7" cy="738.9"/><circle cx="417.3" cy="767.9"/><circle cx="404.8" cy="718.4"/><circle cx="413.7" cy="694.5"/><circle cx="419.1" cy="731.8"/><circle cx="410.4" cy="707.6"/><circle cx="431.2" cy="765.7"/><circle cx="403.5" cy="740.2"/><circle cx="417.8" cy="748.4"/><circle cx="410.6" cy="692.2"/><circle cx="417.3" cy="729.7"/><circle cx="452.2" cy="815.3"/></g>
<g fill="#839fcd"><circle cx="431.8" cy="803.4"/><circle cx="414.0" cy="685.1"/><circle cx="429.8" cy="814.5"/><circle cx="434.8" cy="782.3"/><circle cx="436.4" cy="724.7"/><circle cx="425.8" cy="725.4"/><circle cx="393.3" cy="682.4"/><circle cx="420.1" cy="748.5"/><circle cx="432.1" cy="765.8"/><circle cx="429.2" cy="704.3"/><circle cx="438.8" cy="803.0"/><circle cx="420.6" cy="778.9"/><circle cx="413.5" cy="729.0"/><circle cx="405.0" cy="792.8"/><circle cx="438.7" cy="818.5"/><circle cx="433.8" cy="790.4"/><circle cx="410.7" cy="751.4"/><circle cx="422.0" cy="727.3"/><circle cx="439.9" cy="756.1"/><circle cx="438.7" cy="735.2"/><circle cx="426.6" cy="799.1"/><circle cx="409.3" cy="682.7"/><circle cx="424.6" cy="709.9"/><circle cx="433.7" cy="764.4"/><circle cx="430.3" cy="726.7"/><circle cx="442.2" cy="765.3"/><circle cx="414.5" cy="722.8"/><circle cx="452.1" cy="791.2"/><circle cx="424.7" cy="748.2"/><circle cx="419.7" cy="805.2"/><circle cx="426.0" cy="789.1"/><circle cx="409.9" cy="720.9"/></g>
<g fill="#7e9acb"><circle cx="418.2" cy="725.6"/><circle cx="437.9" cy="816.0"/><circle cx="425.2" cy="771.8"/><circle cx="418.7" cy="784.5"/><circle cx="439.2" cy="706.9"/><circle cx="435.6" cy="804.9"/><circle cx="433.1" cy="758.7"/><circle cx="443.8" cy="792.9"/><circle cx="436.4" cy="772.6"/><circle cx="450.4" cy="790.9"/><circle cx="437.2" cy="757.2"/><circle cx="433.4" cy="756.8"/><circle cx="423.6" cy="756.5"/><circle cx="432.0" cy="803.6"/><circle cx="442.0" cy="797.4"/><circle cx="438.8" cy="810.4"/><circle cx="444.7" cy="788.3"/><circle cx="434.7" cy="808.2"/><circle cx="428.1" cy="798.6"/><circle cx="415.0" cy="711.8"/><circle cx="436.1" cy="742.9"/><circle cx="416.8" cy="750.8"/><circle cx="419.3" cy="793.8"/><circle cx="417.8" cy="767.0"/></g>
<g fill="#7895c9"><circle cx="439.8" cy="780.0"/><circle cx="439.1" cy="809.8"/><circle cx="426.1" cy="775.5"/><circle cx="412.9" cy="701.1"/><circle cx="432.1" cy="767.5"/><circle cx="436.0" cy="738.0"/><circle cx="434.2" cy="720.4"/><circle cx="409.9" cy="795.1"/><circle cx="441.8" cy="827.0"/><circle cx="427.9" cy="819.1"/><circle cx="420.5" cy="763.7"/><circle cx="427.6" cy="771.4"/><circle cx="430.4" cy="708.5"/><circle cx="439.4" cy="800.3"/><circle cx="431.0" cy="768.0"/><circle cx="447.1" cy="787.0"/><circle cx="428.5" cy="811.7"/><circle cx="442.7" cy="800.2"/><circle cx="419.0" cy="775.6"/><circle cx="415.3" cy="785.8"/><circle cx="413.2" cy="718.7"/><circle cx="414.4" cy="790.2"/><circle cx="433.0" cy="787.4"/><circle cx="415.4" cy="798.4"/><circle cx="433.4" cy="718.7"/><circle cx="428.2" cy="760.5"/><circle cx="437.8" cy="776.6"/></g>
<g fill="#6e8bc0"><circle cx="426.6" cy="791.6"/><circle cx="423.6" cy="757.2"/><circle cx="427.9" cy="786.0"/><circle cx="432.5" cy="690.5"/><circle cx="425.4" cy="806.0"/><circle cx="438.7" cy="808.6"/><circle cx="424.9" cy="771.8"/><circle cx="429.6" cy="780.5"/><circle cx="430.9" cy="713.8"/><circle cx="433.9" cy="781.8"/><circle cx="430.2" cy="720.7"/><circle cx="447.7" cy="726.1"/><circle cx="448.6" cy="783.0"/><circle cx="425.5" cy="751.2"/><circle cx="441.6" cy="761.9"/><circle cx="433.8" cy="809.0"/><circle cx="447.0" cy="820.2"/><circle cx="446.0" cy="721.1"/><circle cx="414.0" cy="788.2"/><circle cx="433.7" cy="798.9"/><circle cx="449.9" cy="803.4"/><circle cx="449.0" cy="784.3"/><circle cx="439.1" cy="739.5"/><circle cx="429.4" cy="787.9"/><circle cx="459.2" cy="814.5"/><circle cx="447.9" cy="753.8"/><circle cx="446.7" cy="775.7"/><circle cx="455.3" cy="795.7"/><circle cx="441.3" cy="760.3"/><circle cx="430.9" cy="749.3"/><circle cx="438.4" cy="747.0"/><circle cx="436.0" cy="803.0"/><circle cx="445.6" cy="729.3"/><circle cx="452.7" cy="808.7"/><circle cx="423.2" cy="788.6"/><circle cx="433.6" cy="780.1"/><circle cx="445.2" cy="814.5"/><circle cx="452.2" cy="813.8"/><circle cx="439.2" cy="797.0"/><circle cx="444.1" cy="798.3"/><circle cx="448.0" cy="738.0"/><circle cx="433.7" cy="792.1"/><circle cx="438.9" cy="781.1"/></g>
<g fill="#6986be"><circle cx="459.1" cy="830.0"/><circle cx="438.1" cy="737.0"/><circle cx="426.8" cy="746.8"/><circle cx="444.5" cy="785.5"/><circle cx="457.4" cy="831.1"/><circle cx="431.0" cy="751.4"/><circle cx="454.1" cy="751.1"/><circle cx="444.9" cy="742.3"/><circle cx="436.2" cy="795.8"/><circle cx="465.2" cy="811.2"/><circle cx="452.1" cy="784.3"/><circle cx="440.3" cy="753.5"/><circle cx="445.3" cy="807.8"/><circle cx="441.8" cy="786.3"/><circle cx="454.5" cy="764.0"/><circle cx="453.5" cy="794.4"/><circle cx="445.4" cy="752.1"/><circle cx="442.7" cy="784.0"/><circle cx="441.3" cy="732.4"/><circle cx="455.5" cy="794.7"/><circle cx="454.5" cy="822.8"/><circle cx="444.8" cy="772.8"/><circle cx="445.3" cy="721.5"/><circle cx="455.3" cy="827.4"/><circle cx="447.8" cy="800.2"/><circle cx="435.1" cy="732.3"/><circle cx="444.9" cy="749.2"/><circle cx="449.8" cy="811.3"/><circle cx="443.1" cy="733.8"/><circle cx="441.6" cy="782.0"/><circle cx="438.1" cy="734.9"/><circle cx="441.9" cy="769.4"/><circle cx="452.4" cy="788.8"/><circle cx="440.4" cy="794.1"/><circle cx="433.5" cy="709.5"/><circle cx="436.9" cy="746.8"/><circle cx="441.0" cy="780.9"/><circle cx="434.5" cy="789.2"/></g>
<g fill="#6381bc"><circle cx="445.6" cy="823.5"/><circle cx="457.4" cy="766.4"/><circle cx="458.1" cy="778.2"/><circle cx="437.1" cy="818.7"/><circle cx="435.0" cy="748.6"/><circle cx="443.8" cy="756.2"/><circle cx="439.0" cy="736.7"/><circle cx="435.4" cy="754.5"/><circle cx="443.2" cy="800.3"/><circle cx="451.8" cy="813.5"/><circle cx="443.4" cy="828.0"/><circle cx="443.2" cy="773.7"/><circle cx="445.6" cy="769.3"/><circle cx="443.6" cy="825.1"/><circle cx="460.4" cy="828.1"/><circle cx="475.7" cy="828.9"/><circle cx="462.2" cy="799.3"/><circle cx="446.4" cy="777.0"/><circle cx="452.6" cy="811.9"/><circle cx="454.4" cy="767.7"/><circle cx="435.4" cy="718.0"/><circle cx="438.7" cy="763.0"/><circle cx="446.9" cy="817.0"/><circle cx="471.2" cy="813.1"/><circle cx="452.2" cy="827.0"/><circle cx="433.3" cy="741.1"/><circle cx="437.1" cy="761.6"/><circle cx="434.7" cy="781.4"/><circle cx="440.2" cy="735.6"/></g>
<g fill="#5e7cba"><circle cx="448.1" cy="737.8"/><circle cx="438.7" cy="732.2"/><circle cx="460.0" cy="746.1"/><circle cx="451.7" cy="782.0"/><circle cx="441.2" cy="788.8"/><circle cx="444.7" cy="778.8"/><circle cx="459.0" cy="740.8"/><circle cx="463.4" cy="826.5"/><circle cx="446.3" cy="760.9"/><circle cx="447.0" cy="780.0"/><circle cx="447.7" cy="765.4"/><circle cx="459.0" cy="828.4"/><circle cx="450.3" cy="776.3"/><circle cx="452.2" cy="828.3"/><circle cx="464.2" cy="833.5"/><circle cx="469.5" cy="831.5"/><circle cx="438.2" cy="789.0"/><circle cx="430.1" cy="797.7"/><circle cx="453.2" cy="787.1"/><circle cx="455.6" cy="827.9"/><circle cx="465.8" cy="808.6"/><circle cx="452.4" cy="831.5"/><circle cx="453.4" cy="735.3"/><circle cx="457.0" cy="752.3"/><circle cx="469.8" cy="839.5"/><circle cx="458.5" cy="785.4"/><circle cx="457.9" cy="815.5"/><circle cx="450.9" cy="812.4"/><circle cx="460.3" cy="810.3"/><circle cx="467.8" cy="828.8"/><circle cx="479.8" cy="810.6"/><circle cx="456.3" cy="777.8"/><circle cx="449.5" cy="768.1"/><circle cx="459.7" cy="793.3"/><circle cx="460.3" cy="742.1"/><circle cx="455.0" cy="766.6"/><circle cx="456.7" cy="800.4"/></g>
<g fill="#5a77b8"><circle cx="435.9" cy="736.7"/><circle cx="449.1" cy="805.9"/><circle cx="462.6" cy="770.5"/><circle cx="453.1" cy="803.6"/><circle cx="460.9" cy="791.6"/><circle cx="451.3" cy="753.3"/><circle cx="458.6" cy="748.5"/><circle cx="458.1" cy="766.7"/><circle cx="466.9" cy="799.1"/><circle cx="458.6" cy="787.8"/><circle cx="461.9" cy="738.9"/><circle cx="455.2" cy="761.2"/><circle cx="461.9" cy="777.3"/><circle cx="468.8" cy="798.8"/><circle cx="457.8" cy="784.7"/><circle cx="449.1" cy="800.6"/><circle cx="464.8" cy="736.5"/><circle cx="455.2" cy="800.3"/><circle cx="466.8" cy="834.1"/><circle cx="471.8" cy="828.4"/><circle cx="473.5" cy="825.3"/><circle cx="468.8" cy="811.9"/><circle cx="462.0" cy="766.2"/><circle cx="466.6" cy="838.4"/><circle cx="448.1" cy="821.1"/><circle cx="453.2" cy="770.3"/><circle cx="441.4" cy="809.5"/><circle cx="454.8" cy="797.3"/><circle cx="451.3" cy="721.5"/><circle cx="455.4" cy="752.2"/><circle cx="469.4" cy="755.7"/><circle cx="453.5" cy="743.8"/><circle cx="466.7" cy="743.7"/><circle cx="458.3" cy="776.9"/><circle cx="461.9" cy="799.3"/><circle cx="449.2" cy="739.2"/></g>
<g fill="#5471b5"><circle cx="451.7" cy="751.9"/><circle cx="484.3" cy="836.9"/><circle cx="483.5" cy="822.0"/><circle cx="470.0" cy="785.8"/><circle cx="475.8" cy="814.3"/><circle cx="476.8" cy="838.5"/><circle cx="461.8" cy="798.8"/><circle cx="466.1" cy="762.9"/><circle cx="461.1" cy="817.7"/><circle cx="460.8" cy="731.3"/><circle cx="466.4" cy="835.6"/><circle cx="464.6" cy="785.9"/><circle cx="462.0" cy="787.6"/><circle cx="467.4" cy="818.8"/><circle cx="440.6" cy="800.1"/><circle cx="451.8" cy="809.1"/><circle cx="447.7" cy="820.0"/><circle cx="460.3" cy="772.2"/><circle cx="472.9" cy="798.3"/><circle cx="464.5" cy="805.6"/><circle cx="463.8" cy="834.3"/><circle cx="465.8" cy="776.8"/><circle cx="474.8" cy="827.8"/><circle cx="459.7" cy="824.6"/><circle cx="451.1" cy="791.6"/><circle cx="465.9" cy="799.9"/><circle cx="463.6" cy="830.1"/><circle cx="454.2" cy="770.5"/><circle cx="464.7" cy="832.7"/><circle cx="466.6" cy="816.6"/><circle cx="473.3" cy="801.8"/><circle cx="474.7" cy="804.9"/><circle cx="462.6" cy="799.7"/><circle cx="481.9" cy="820.6"/></g>
<g fill="#4f6db3"><circle cx="461.7" cy="789.2"/><circle cx="457.7" cy="795.8"/><circle cx="478.5" cy="829.3"/><circle cx="476.8" cy="784.4"/><circle cx="477.5" cy="780.0"/><circle cx="477.6" cy="845.8"/><circle cx="457.8" cy="798.2"/><circle cx="473.3" cy="832.4"/><circle cx="468.2" cy="765.5"/><circle cx="469.3" cy="820.7"/><circle cx="464.5" cy="829.5"/><circle cx="479.4" cy="795.6"/><circle cx="471.2" cy="816.9"/><circle cx="466.9" cy="796.1"/><circle cx="468.5" cy="819.3"/><circle cx="463.3" cy="799.5"/><circle cx="472.5" cy="816.7"/><circle cx="472.3" cy="812.7"/><circle cx="468.8" cy="808.8"/><circle cx="475.9" cy="842.9"/><circle cx="470.1" cy="838.9"/><circle cx="484.8" cy="800.6"/><circle cx="472.3" cy="800.1"/><circle cx="463.6" cy="813.1"/><circle cx="474.6" cy="809.6"/><circle cx="472.7" cy="826.2"/><circle cx="463.6" cy="832.1"/></g>
<g fill="#4b67b0"><circle cx="459.5" cy="801.7"/><circle cx="480.1" cy="820.8"/><circle cx="466.0" cy="828.1"/><circle cx="472.5" cy="841.3"/><circle cx="470.3" cy="821.1"/><circle cx="472.7" cy="786.1"/><circle cx="464.6" cy="780.9"/><circle cx="479.2" cy="824.5"/><circle cx="475.9" cy="824.1"/><circle cx="465.9" cy="818.4"/><circle cx="451.0" cy="762.8"/><circle cx="486.3" cy="827.4"/><circle cx="475.2" cy="823.9"/><circle cx="468.2" cy="801.7"/><circle cx="473.3" cy="835.8"/><circle cx="476.2" cy="844.8"/><circle cx="468.7" cy="785.4"/><circle cx="476.3" cy="809.1"/><circle cx="475.7" cy="780.6"/><circle cx="469.5" cy="800.7"/><circle cx="478.6" cy="780.5"/><circle cx="469.6" cy="827.1"/><circle cx="477.0" cy="793.2"/><circle cx="474.8" cy="827.3"/><circle cx="474.8" cy="805.8"/></g>
<g fill="#4763ad"><circle cx="473.1" cy="807.1"/><circle cx="467.2" cy="779.1"/><circle cx="485.4" cy="813.8"/><circle cx="474.2" cy="807.6"/><circle cx="483.1" cy="825.3"/><circle cx="473.2" cy="785.4"/><circle cx="485.1" cy="828.7"/><circle cx="474.4" cy="796.8"/><circle cx="463.6" cy="822.2"/><circle cx="487.9" cy="821.5"/><circle cx="483.5" cy="842.1"/><circle cx="481.8" cy="829.0"/><circle cx="482.4" cy="798.1"/><circle cx="481.2" cy="790.8"/><circle cx="481.2" cy="845.2"/><circle cx="479.4" cy="797.6"/></g>
<g fill="#435eac"><circle cx="481.3" cy="824.5"/><circle cx="472.5" cy="796.7"/><circle cx="480.8" cy="840.7"/><circle cx="466.1" cy="813.0"/><circle cx="482.4" cy="843.2"/></g>
<g fill="#3f5ba9"><circle cx="483.3" cy="807.2"/><circle cx="485.3" cy="831.9"/><circle cx="484.6" cy="834.4"/></g>
<g fill="#b72223"><circle cx="248.3" cy="825.8"/></g>
<g fill="#bc2927"><circle cx="263.5" cy="805.5"/><circle cx="252.3" cy="819.2"/><circle cx="251.1" cy="825.0"/></g>
<g fill="#c22f2a"><circle cx="256.4" cy="809.6"/><circle cx="268.2" cy="769.3"/><circle cx="273.5" cy="748.1"/></g>
<g fill="#c6352e"><circle cx="268.7" cy="781.1"/><circle cx="273.6" cy="763.7"/><circle cx="250.4" cy="821.5"/><circle cx="272.0" cy="815.0"/></g>
<g fill="#ca4036"><circle cx="276.6" cy="750.9"/><circle cx="269.6" cy="754.4"/><circle cx="270.4" cy="727.1"/><circle cx="277.1" cy="773.3"/><circle cx="272.3" cy="811.0"/><circle cx="257.6" cy="798.9"/><circle cx="271.7" cy="802.5"/></g>
<g fill="#ce493d"><circle cx="273.2" cy="781.1"/><circle cx="284.5" cy="779.1"/><circle cx="298.5" cy="758.0"/><circle cx="267.2" cy="768.9"/><circle cx="271.8" cy="728.6"/><circle cx="268.3" cy="779.3"/><circle cx="280.5" cy="783.8"/><circle cx="281.9" cy="788.0"/></g>
<g fill="#d15444"><circle cx="274.7" cy="783.2"/><circle cx="274.5" cy="787.3"/><circle cx="278.8" cy="713.9"/><circle cx="286.0" cy="706.0"/><circle cx="302.0" cy="703.0"/><circle cx="289.3" cy="716.3"/><circle cx="277.7" cy="779.1"/><circle cx="286.3" cy="729.9"/><circle cx="297.0" cy="773.5"/><circle cx="270.4" cy="759.3"/></g>
<g fill="#d55e4b"><circle cx="283.4" cy="793.4"/><circle cx="302.6" cy="689.7"/><circle cx="266.6" cy="797.5"/><circle cx="272.2" cy="704.0"/><circle cx="276.5" cy="733.9"/><circle cx="300.3" cy="684.8"/><circle cx="290.5" cy="705.0"/><circle cx="274.2" cy="785.7"/><circle cx="269.0" cy="737.4"/><circle cx="299.6" cy="762.2"/><circle cx="281.6" cy="751.9"/><circle cx="291.3" cy="799.0"/><circle cx="275.9" cy="781.7"/><circle cx="285.5" cy="764.4"/><circle cx="277.7" cy="704.5"/><circle cx="294.4" cy="757.9"/><circle cx="280.5" cy="777.5"/></g>
<g fill="#d96853"><circle cx="295.7" cy="775.6"/><circle cx="299.3" cy="756.6"/><circle cx="288.6" cy="789.1"/><circle cx="284.3" cy="737.9"/><circle cx="305.5" cy="652.3"/><circle cx="273.0" cy="734.0"/><circle cx="287.8" cy="731.9"/><circle cx="300.8" cy="745.1"/><circle cx="289.9" cy="736.1"/><circle cx="291.4" cy="767.1"/></g>
<g fill="#db705b"><circle cx="297.3" cy="768.5"/><circle cx="298.0" cy="790.7"/><circle cx="298.1" cy="756.4"/><circle cx="305.1" cy="735.5"/><circle cx="278.0" cy="751.0"/><circle cx="296.7" cy="759.8"/><circle cx="293.6" cy="793.4"/><circle cx="302.2" cy="737.6"/><circle cx="313.3" cy="719.9"/></g>
<g fill="#de7962"><circle cx="289.0" cy="745.0"/><circle cx="301.7" cy="702.7"/><circle cx="293.1" cy="791.7"/><circle cx="308.8" cy="737.4"/><circle cx="300.4" cy="771.0"/><circle cx="313.7" cy="772.6"/><circle cx="300.6" cy="656.0"/><circle cx="290.7" cy="710.5"/><circle cx="297.6" cy="740.8"/><circle cx="297.0" cy="769.5"/><circle cx="299.8" cy="675.0"/><circle cx="310.5" cy="703.2"/><circle cx="285.6" cy="746.2"/><circle cx="304.4" cy="727.8"/></g>
<g fill="#e0816a"><circle cx="293.6" cy="731.3"/><circle cx="311.9" cy="765.6"/><circle cx="327.3" cy="780.1"/><circle cx="299.6" cy="728.8"/><circle cx="307.1" cy="747.0"/><circle cx="293.8" cy="749.0"/><circle cx="298.3" cy="766.7"/><circle cx="314.8" cy="770.2"/><circle cx="293.6" cy="725.1"/><circle cx="298.3" cy="737.6"/><circle cx="292.1" cy="741.3"/><circle cx="294.2" cy="754.2"/><circle cx="291.3" cy="722.9"/><circle cx="303.5" cy="741.9"/><circle cx="297.3" cy="783.5"/><circle cx="277.9" cy="782.9"/><circle cx="306.0" cy="723.3"/><circle cx="314.3" cy="741.2"/><circle cx="300.3" cy="679.8"/><circle cx="301.8" cy="746.2"/><circle cx="317.4" cy="693.7"/><circle cx="309.4" cy="706.9"/></g>
<g fill="#e28972"><circle cx="309.4" cy="715.7"/><circle cx="299.1" cy="755.2"/><circle cx="308.2" cy="745.8"/><circle cx="312.3" cy="759.1"/><circle cx="320.6" cy="710.8"/><circle cx="298.1" cy="718.2"/><circle cx="314.4" cy="683.0"/><circle cx="305.1" cy="752.8"/><circle cx="302.1" cy="682.7"/><circle cx="323.6" cy="685.2"/><circle cx="291.8" cy="774.8"/></g>
<g fill="#e4917a"><circle cx="307.5" cy="739.9"/><circle cx="321.9" cy="746.5"/><circle cx="312.8" cy="769.6"/><circle cx="309.1" cy="715.6"/><circle cx="306.0" cy="768.2"/><circle cx="305.9" cy="756.2"/><circle cx="316.2" cy="752.6"/><circle cx="308.6" cy="710.8"/><circle cx="310.8" cy="713.4"/><circle cx="313.9" cy="755.1"/><circle cx="314.1" cy="763.7"/><circle cx="308.0" cy="687.8"/><circle cx="319.1" cy="699.7"/><circle cx="300.5" cy="786.8"/></g>
<g fill="#e59881"><circle cx="341.6" cy="641.3"/><circle cx="325.4" cy="680.1"/><circle cx="319.9" cy="723.1"/><circle cx="309.9" cy="735.6"/><circle cx="314.1" cy="783.7"/><circle cx="339.4" cy="759.4"/><circle cx="338.3" cy="689.7"/><circle cx="325.6" cy="655.4"/><circle cx="311.9" cy="752.8"/></g>
<g fill="#e5a089"><circle cx="329.3" cy="746.4"/><circle cx="332.4" cy="634.8"/><circle cx="325.8" cy="691.2"/><circle cx="336.4" cy="701.5"/><circle cx="327.4" cy="737.9"/><circle cx="330.3" cy="697.4"/><circle cx="330.4" cy="748.7"/><circle cx="337.2" cy="664.2"/><circle cx="336.0" cy="705.2"/><circle cx="327.7" cy="741.2"/><circle cx="310.6" cy="751.2"/><circle cx="328.6" cy="751.5"/><circle cx="337.8" cy="769.8"/><circle cx="332.2" cy="777.3"/><circle cx="326.3" cy="689.9"/><circle cx="335.2" cy="686.0"/><circle cx="323.8" cy="701.6"/><circle cx="330.1" cy="777.0"/><circle cx="327.6" cy="645.5"/></g>
<g fill="#e6a690"><circle cx="326.2" cy="695.2"/><circle cx="344.3" cy="708.5"/><circle cx="325.7" cy="709.1"/><circle cx="327.6" cy="656.4"/><circle cx="316.5" cy="697.1"/><circle cx="330.9" cy="749.7"/><circle cx="307.4" cy="771.8"/><circle cx="314.5" cy="740.5"/><circle cx="333.9" cy="731.9"/><circle cx="344.2" cy="775.2"/><circle cx="358.8" cy="748.4"/></g>
<g fill="#e6ae98"><circle cx="325.2" cy="684.6"/><circle cx="343.6" cy="695.9"/><circle cx="357.8" cy="651.0"/><circle cx="337.1" cy="713.4"/><circle cx="347.4" cy="712.7"/><circle cx="333.4" cy="725.6"/><circle cx="339.5" cy="645.6"/><circle cx="334.6" cy="755.7"/><circle cx="333.8" cy="769.6"/><circle cx="330.8" cy="687.5"/><circle cx="337.6" cy="643.7"/><circle cx="347.1" cy="723.8"/><circle cx="324.2" cy="787.2"/><circle cx="340.4" cy="623.9"/><circle cx="346.3" cy="690.8"/><circle cx="344.6" cy="775.2"/><circle cx="343.9" cy="772.1"/><circle cx="335.5" cy="755.2"/></g>
<g fill="#e7b5a0"><circle cx="367.2" cy="783.0"/><circle cx="338.8" cy="725.9"/><circle cx="346.9" cy="723.7"/><circle cx="339.7" cy="730.7"/><circle cx="335.4" cy="630.4"/><circle cx="353.4" cy="663.4"/><circle cx="345.4" cy="723.5"/><circle cx="354.9" cy="677.0"/><circle cx="333.0" cy="737.7"/><circle cx="342.0" cy="778.1"/><circle cx="348.8" cy="696.4"/><circle cx="334.1" cy="660.3"/><circle cx="343.4" cy="773.2"/><circle cx="360.9" cy="698.6"/></g>
<g fill="#e4baa8"><circle cx="345.2" cy="721.1"/><circle cx="351.4" cy="702.2"/><circle cx="348.7" cy="622.2"/><circle cx="335.2" cy="758.3"/><circle cx="350.5" cy="677.8"/><circle cx="351.1" cy="627.5"/><circle cx="317.1" cy="724.0"/><circle cx="325.2" cy="702.7"/><circle cx="363.8" cy="750.7"/><circle cx="369.4" cy="734.4"/><circle cx="364.1" cy="651.2"/><circle cx="351.3" cy="684.1"/><circle cx="353.7" cy="702.4"/><circle cx="354.4" cy="670.5"/><circle cx="356.3" cy="719.5"/></g>
<g fill="#e1c0b2"><circle cx="365.3" cy="767.4"/><circle cx="346.0" cy="693.9"/><circle cx="363.1" cy="727.7"/><circle cx="351.3" cy="736.5"/><circle cx="350.9" cy="676.6"/><circle cx="360.6" cy="712.7"/><circle cx="358.9" cy="716.4"/><circle cx="360.2" cy="749.1"/><circle cx="343.8" cy="764.5"/><circle cx="351.6" cy="698.1"/><circle cx="365.5" cy="629.8"/></g>
<g fill="#dec4bb"><circle cx="373.0" cy="777.6"/><circle cx="374.3" cy="706.4"/><circle cx="369.2" cy="674.6"/><circle cx="367.1" cy="657.9"/><circle cx="366.4" cy="646.7"/><circle cx="372.7" cy="766.7"/><circle cx="377.5" cy="773.8"/><circle cx="358.8" cy="696.5"/><circle cx="350.0" cy="764.0"/><circle cx="344.1" cy="771.3"/><circle cx="332.8" cy="718.5"/><circle cx="372.2" cy="715.9"/><circle cx="370.5" cy="685.8"/><circle cx="358.1" cy="713.5"/></g>
<g fill="#dacac4"><circle cx="370.7" cy="703.3"/><circle cx="379.9" cy="704.8"/><circle cx="373.6" cy="694.7"/><circle cx="369.9" cy="683.4"/><circle cx="365.4" cy="748.7"/><circle cx="397.7" cy="743.9"/><circle cx="388.6" cy="702.5"/><circle cx="379.4" cy="726.4"/><circle cx="365.0" cy="730.0"/><circle cx="380.1" cy="695.4"/><circle cx="380.8" cy="703.5"/><circle cx="378.9" cy="664.7"/><circle cx="358.8" cy="734.9"/><circle cx="359.0" cy="689.2"/><circle cx="364.4" cy="760.1"/><circle cx="353.6" cy="645.8"/><circle cx="353.1" cy="716.0"/><circle cx="363.7" cy="624.1"/><circle cx="368.1" cy="744.9"/><circle cx="358.0" cy="755.8"/><circle cx="387.2" cy="762.3"/></g>
<g fill="#d7cfcd"><circle cx="385.2" cy="683.3"/><circle cx="378.7" cy="718.2"/><circle cx="390.2" cy="701.4"/><circle cx="376.8" cy="753.5"/><circle cx="383.2" cy="740.5"/><circle cx="356.2" cy="665.2"/><circle cx="367.8" cy="619.5"/><circle cx="374.6" cy="784.9"/><circle cx="362.5" cy="731.0"/><circle cx="375.4" cy="739.8"/><circle cx="388.3" cy="756.7"/><circle cx="385.3" cy="730.4"/><circle cx="387.6" cy="745.7"/><circle cx="372.4" cy="711.1"/><circle cx="373.9" cy="609.3"/></g>
<g fill="#cdcbd0"><circle cx="382.4" cy="694.2"/><circle cx="381.5" cy="703.8"/><circle cx="379.4" cy="748.6"/><circle cx="388.8" cy="765.1"/><circle cx="369.0" cy="721.3"/><circle cx="398.4" cy="736.2"/><circle cx="378.0" cy="742.7"/><circle cx="373.4" cy="677.9"/><circle cx="371.6" cy="732.9"/><circle cx="381.3" cy="775.3"/><circle cx="369.1" cy="726.4"/><circle cx="385.5" cy="718.8"/><circle cx="370.8" cy="769.0"/><circle cx="373.3" cy="653.2"/><circle cx="379.9" cy="739.1"/><circle cx="371.0" cy="704.6"/><circle cx="378.4" cy="678.6"/><circle cx="379.1" cy="675.6"/><circle cx="382.6" cy="652.7"/><circle cx="380.8" cy="764.3"/><circle cx="388.8" cy="685.8"/></g>
<g fill="#c2c8d3"><circle cx="361.1" cy="723.3"/><circle cx="404.7" cy="729.0"/><circle cx="392.2" cy="765.3"/><circle cx="389.7" cy="659.1"/><circle cx="387.8" cy="724.2"/><circle cx="355.7" cy="660.3"/><circle cx="384.9" cy="755.0"/><circle cx="400.7" cy="708.3"/><circle cx="372.4" cy="767.9"/><circle cx="399.9" cy="785.7"/><circle cx="395.9" cy="700.9"/><circle cx="377.4" cy="706.6"/><circle cx="383.7" cy="653.6"/><circle cx="380.6" cy="733.7"/><circle cx="387.8" cy="710.0"/><circle cx="385.3" cy="679.0"/><circle cx="386.8" cy="699.6"/><circle cx="367.3" cy="724.5"/><circle cx="384.1" cy="684.7"/><circle cx="378.2" cy="782.4"/><circle cx="398.2" cy="710.1"/><circle cx="394.0" cy="767.8"/><circle cx="398.8" cy="751.4"/></g>
<g fill="#b9c4d5"><circle cx="385.6" cy="738.5"/><circle cx="386.6" cy="714.5"/><circle cx="387.5" cy="665.7"/><circle cx="389.3" cy="788.4"/><circle cx="389.6" cy="779.6"/><circle cx="392.5" cy="773.8"/><circle cx="363.8" cy="682.0"/><circle cx="390.4" cy="672.3"/><circle cx="390.5" cy="748.5"/><circle cx="389.1" cy="673.4"/><circle cx="390.0" cy="783.8"/><circle cx="391.8" cy="683.3"/><circle cx="383.2" cy="755.7"/><circle cx="403.3" cy="711.4"/><circle cx="382.2" cy="757.3"/><circle cx="386.5" cy="760.4"/><circle cx="402.7" cy="676.2"/><circle cx="389.4" cy="739.5"/><circle cx="393.4" cy="781.3"/><circle cx="389.5" cy="785.5"/><circle cx="404.0" cy="794.3"/><circle cx="397.1" cy="698.3"/><circle cx="379.6" cy="712.5"/><circle cx="392.2" cy="768.2"/><circle cx="385.0" cy="772.4"/><circle cx="396.9" cy="734.7"/><circle cx="387.6" cy="764.9"/><circle cx="386.9" cy="650.2"/><circle cx="379.9" cy="703.0"/><circle cx="388.8" cy="714.4"/><circle cx="390.0" cy="715.8"/><circle cx="372.0" cy="724.7"/></g>
<g fill="#aec2d8"><circle cx="406.9" cy="731.6"/><circle cx="389.3" cy="701.2"/><circle cx="390.9" cy="785.3"/><circle cx="403.8" cy="749.1"/><circle cx="394.2" cy="695.8"/><circle cx="396.4" cy="744.4"/><circle cx="390.8" cy="705.4"/><circle cx="383.9" cy="653.8"/><circle cx="378.3" cy="738.2"/><circle cx="396.2" cy="709.2"/><circle cx="396.0" cy="764.6"/><circle cx="394.1" cy="745.9"/><circle cx="383.4" cy="783.7"/><circle cx="404.5" cy="738.2"/><circle cx="398.2" cy="768.9"/><circle cx="404.1" cy="795.4"/><circle cx="389.4" cy="723.7"/><circle cx="385.0" cy="701.1"/><circle cx="391.6" cy="711.9"/><circle cx="400.8" cy="721.1"/><circle cx="393.4" cy="786.0"/><circle cx="400.1" cy="771.6"/><circle cx="396.2" cy="740.4"/><circle cx="380.3" cy="738.0"/><circle cx="377.1" cy="664.2"/><circle cx="386.9" cy="762.5"/><circle cx="401.7" cy="712.3"/><circle cx="397.1" cy="722.5"/><circle cx="400.5" cy="717.7"/><circle cx="403.8" cy="733.5"/><circle cx="397.2" cy="703.8"/><circle cx="400.4" cy="725.0"/><circle cx="393.7" cy="681.9"/><circle cx="395.6" cy="679.9"/><circle cx="388.0" cy="770.6"/><circle cx="396.0" cy="761.7"/><circle cx="397.8" cy="675.5"/><circle cx="386.3" cy="723.2"/><circle cx="386.6" cy="650.5"/><circle cx="377.2" cy="693.3"/></g>
<g fill="#a4bedb"><circle cx="411.6" cy="788.2"/><circle cx="397.6" cy="675.4"/><circle cx="397.4" cy="738.8"/><circle cx="400.1" cy="737.0"/><circle cx="399.1" cy="691.5"/><circle cx="398.0" cy="785.2"/><circle cx="403.9" cy="681.2"/><circle cx="390.4" cy="670.8"/><circle cx="403.5" cy="720.4"/><circle cx="409.4" cy="737.7"/><circle cx="393.9" cy="791.2"/><circle cx="388.7" cy="768.1"/><circle cx="404.2" cy="751.6"/><circle cx="394.1" cy="712.6"/><circle cx="409.1" cy="700.4"/><circle cx="396.3" cy="792.0"/><circle cx="382.9" cy="707.0"/><circle cx="382.4" cy="696.9"/><circle cx="388.0" cy="680.1"/><circle cx="415.1" cy="806.9"/><circle cx="394.0" cy="712.7"/><circle cx="377.5" cy="753.5"/><circle cx="399.0" cy="720.7"/><circle cx="403.4" cy="770.0"/><circle cx="406.6" cy="679.5"/><circle cx="402.3" cy="762.2"/><circle cx="384.4" cy="622.1"/><circle cx="409.2" cy="751.5"/><circle cx="408.6" cy="719.2"/><circle cx="418.1" cy="760.9"/><circle cx="417.4" cy="780.3"/><circle cx="394.5" cy="743.5"/></g>
<g fill="#9eb8d8"><circle cx="397.1" cy="712.9"/><circle cx="415.3" cy="767.6"/><circle cx="411.1" cy="797.8"/><circle cx="395.1" cy="681.8"/><circle cx="376.3" cy="708.5"/><circle cx="416.0" cy="714.3"/><circle cx="406.9" cy="779.7"/><circle cx="416.0" cy="694.8"/><circle cx="407.3" cy="765.4"/><circle cx="400.8" cy="787.8"/><circle cx="414.9" cy="806.7"/><circle cx="397.0" cy="782.8"/><circle cx="399.6" cy="697.5"/><circle cx="397.8" cy="727.0"/><circle cx="383.0" cy="721.2"/><circle cx="404.0" cy="704.6"/><circle cx="414.7" cy="716.7"/><circle cx="412.0" cy="783.4"/><circle cx="421.0" cy="730.5"/><circle cx="414.5" cy="736.1"/><circle cx="406.9" cy="755.4"/><circle cx="421.0" cy="760.2"/><circle cx="404.4" cy="761.2"/><circle cx="408.8" cy="802.4"/><circle cx="435.1" cy="779.9"/><circle cx="405.5" cy="759.6"/><circle cx="405.4" cy="727.5"/><circle cx="418.1" cy="783.2"/><circle cx="406.4" cy="740.0"/><circle cx="394.1" cy="646.4"/><circle cx="410.6" cy="674.7"/><circle cx="406.5" cy="755.1"/><circle cx="417.5" cy="786.0"/><circle cx="420.8" cy="788.1"/><circle cx="402.3" cy="715.0"/><circle cx="394.2" cy="789.6"/></g>
<g fill="#97b1d5"><circle cx="400.2" cy="755.0"/><circle cx="407.8" cy="738.0"/><circle cx="414.6" cy="798.3"/><circle cx="424.9" cy="795.8"/><circle cx="411.2" cy="722.2"/><circle cx="395.2" cy="695.8"/><circle cx="419.9" cy="763.4"/><circle cx="397.2" cy="721.7"/><circle cx="415.6" cy="804.5"/><circle cx="388.7" cy="727.9"/><circle cx="404.0" cy="678.1"/><circle cx="426.8" cy="705.8"/><circle cx="425.5" cy="792.2"/><circle cx="420.7" cy="746.2"/><circle cx="410.6" cy="766.8"/><circle cx="406.7" cy="782.2"/><circle cx="420.7" cy="787.6"/><circle cx="409.5" cy="665.6"/><circle cx="395.8" cy="754.9"/><circle cx="415.0" cy="734.7"/><circle cx="414.2" cy="751.9"/><circle cx="407.1" cy="787.4"/><circle cx="413.9" cy="736.4"/><circle cx="401.6" cy="787.7"/><circle cx="425.0" cy="778.5"/><circle cx="403.4" cy="795.9"/><circle cx="403.7" cy="723.9"/><circle cx="409.2" cy="748.6"/><circle cx="400.4" cy="738.3"/><circle cx="405.1" cy="754.7"/></g>
<g fill="#91abd3"><circle cx="425.3" cy="754.2"/><circle cx="406.1" cy="764.4"/><circle cx="408.9" cy="742.3"/><circle cx="421.9" cy="737.2"/><circle cx="430.2" cy="804.6"/><circle cx="404.3" cy="730.5"/><circle cx="414.2" cy="747.8"/><circle cx="427.1" cy="718.6"/><circle cx="411.8" cy="740.2"/><circle cx="424.6" cy="805.5"/><circle cx="409.4" cy="796.3"/><circle cx="403.0" cy="751.0"/><circle cx="414.7" cy="766.0"/><circle cx="431.8" cy="765.7"/><circle cx="423.0" cy="778.1"/><circle cx="404.3" cy="799.4"/><circle cx="420.9" cy="796.9"/><circle cx="419.4" cy="770.3"/><circle cx="406.7" cy="756.7"/><circle cx="421.5" cy="768.5"/><circle cx="432.1" cy="821.4"/><circle cx="421.0" cy="730.9"/><circle cx="433.6" cy="729.4"/><circle cx="418.6" cy="805.1"/><circle cx="421.9" cy="751.1"/><circle cx="416.7" cy="772.3"/><circle cx="420.5" cy="765.1"/><circle cx="419.3" cy="709.5"/><circle cx="406.0" cy="671.2"/><circle cx="419.4" cy="755.7"/><circle cx="427.6" cy="817.7"/><circle cx="421.6" cy="775.2"/><circle cx="433.4" cy="761.4"/><circle cx="414.9" cy="756.1"/><circle cx="416.6" cy="737.5"/><circle cx="416.3" cy="797.1"/><circle cx="419.3" cy="745.2"/><circle cx="428.6" cy="807.5"/><circle cx="418.2" cy="772.0"/><circle cx="415.1" cy="661.4"/><circle cx="421.6" cy="735.9"/><circle cx="409.0" cy="759.3"/><circle cx="416.3" cy="669.2"/><circle cx="397.3" cy="774.4"/></g>
<g fill="#8aa4d0"><circle cx="421.8" cy="656.7"/><circle cx="408.0" cy="675.2"/><circle cx="433.6" cy="714.5"/><circle cx="418.5" cy="786.1"/><circle cx="438.7" cy="794.6"/><circle cx="431.1" cy="741.6"/><circle cx="429.7" cy="780.7"/><circle cx="421.0" cy="718.9"/><circle cx="420.5" cy="777.7"/><circle cx="408.0" cy="792.0"/><circle cx="420.6" cy="679.0"/><circle cx="422.7" cy="766.8"/><circle cx="429.1" cy="765.0"/><circle cx="412.4" cy="773.5"/><circle cx="401.3" cy="742.1"/><circle cx="404.9" cy="695.0"/><circle cx="413.1" cy="711.4"/><circle cx="413.8" cy="804.5"/><circle cx="422.6" cy="743.5"/><circle cx="418.8" cy="718.7"/><circle cx="424.8" cy="777.0"/><circle cx="412.1" cy="743.8"/><circle cx="411.8" cy="740.0"/><circle cx="407.7" cy="752.1"/><circle cx="424.9" cy="798.8"/><circle cx="403.9" cy="778.5"/><circle cx="407.3" cy="776.8"/><circle cx="406.9" cy="794.1"/><circle cx="420.0" cy="767.8"/><circle cx="418.5" cy="796.7"/><circle cx="419.9" cy="775.8"/></g>
<g fill="#839fcd"><circle cx="424.6" cy="727.9"/><circle cx="430.9" cy="727.0"/><circle cx="433.9" cy="764.6"/><circle cx="412.4" cy="719.3"/><circle cx="418.1" cy="689.1"/><circle cx="411.1" cy="712.1"/><circle cx="432.2" cy="701.2"/><circle cx="426.2" cy="771.9"/><circle cx="429.5" cy="785.3"/><circle cx="410.6" cy="798.7"/><circle cx="433.0" cy="733.0"/><circle cx="411.4" cy="744.8"/><circle cx="425.6" cy="729.0"/><circle cx="418.8" cy="682.1"/><circle cx="421.5" cy="775.0"/><circle cx="429.3" cy="785.4"/><circle cx="412.2" cy="783.0"/><circle cx="441.5" cy="808.1"/><circle cx="412.4" cy="736.4"/><circle cx="421.2" cy="729.0"/><circle cx="427.4" cy="697.0"/><circle cx="421.7" cy="775.8"/><circle cx="401.9" cy="788.7"/><circle cx="423.4" cy="802.0"/><circle cx="408.1" cy="744.5"/><circle cx="420.8" cy="799.9"/><circle cx="433.5" cy="807.1"/><circle cx="412.2" cy="791.1"/><circle cx="414.6" cy="793.0"/><circle cx="427.4" cy="753.4"/><circle cx="421.7" cy="795.1"/><circle cx="419.2" cy="756.0"/><circle cx="422.5" cy="694.1"/><circle cx="427.1" cy="806.0"/><circle cx="442.9" cy="725.3"/><circle cx="426.2" cy="777.7"/><circle cx="420.3" cy="812.8"/></g>
<g fill="#7e9acb"><circle cx="424.9" cy="739.3"/><circle cx="408.9" cy="707.7"/><circle cx="427.1" cy="778.7"/><circle cx="443.2" cy="824.6"/><circle cx="438.8" cy="706.9"/><circle cx="421.4" cy="682.7"/><circle cx="422.8" cy="713.4"/><circle cx="417.8" cy="706.2"/><circle cx="431.5" cy="793.3"/><circle cx="424.7" cy="807.0"/><circle cx="423.8" cy="702.5"/><circle cx="425.3" cy="791.1"/><circle cx="430.7" cy="800.9"/><circle cx="441.1" cy="808.2"/><circle cx="423.7" cy="777.7"/><circle cx="431.5" cy="802.4"/><circle cx="435.7" cy="806.5"/><circle cx="435.6" cy="722.9"/><circle cx="424.0" cy="758.7"/><circle cx="433.5" cy="755.6"/><circle cx="433.9" cy="758.4"/><circle cx="408.0" cy="744.9"/><circle cx="440.4" cy="769.9"/><circle cx="420.5" cy="648.8"/><circle cx="426.0" cy="693.4"/><circle cx="426.1" cy="766.7"/><circle cx="431.8" cy="743.7"/><circle cx="425.7" cy="697.9"/><circle cx="444.6" cy="745.8"/><circle cx="419.8" cy="787.3"/><circle cx="417.5" cy="746.8"/><circle cx="420.8" cy="802.0"/><circle cx="415.3" cy="796.0"/><circle cx="431.6" cy="772.1"/></g>
<g fill="#7895c9"><circle cx="426.2" cy="736.9"/><circle cx="439.5" cy="771.9"/><circle cx="429.6" cy="790.2"/><circle cx="464.1" cy="762.4"/><circle cx="429.5" cy="774.6"/><circle cx="428.5" cy="756.3"/><circle cx="425.5" cy="802.6"/><circle cx="427.9" cy="785.5"/><circle cx="406.3" cy="743.5"/><circle cx="439.6" cy="807.3"/><circle cx="430.8" cy="772.2"/><circle cx="440.9" cy="801.8"/><circle cx="431.0" cy="706.7"/><circle cx="427.7" cy="735.8"/><circle cx="418.1" cy="757.3"/><circle cx="431.1" cy="757.0"/><circle cx="435.4" cy="745.1"/><circle cx="429.3" cy="780.8"/><circle cx="423.5" cy="768.1"/><circle cx="438.1" cy="796.9"/><circle cx="432.6" cy="759.2"/><circle cx="442.7" cy="740.4"/><circle cx="426.9" cy="791.9"/><circle cx="422.2" cy="803.7"/><circle cx="445.3" cy="785.6"/><circle cx="438.1" cy="785.2"/><circle cx="436.8" cy="743.1"/><circle cx="428.3" cy="794.1"/><circle cx="439.1" cy="797.2"/></g>
<g fill="#6e8bc0"><circle cx="460.2" cy="726.7"/><circle cx="448.6" cy="795.3"/><circle cx="441.0" cy="826.0"/><circle cx="421.3" cy="805.0"/><circle cx="438.9" cy="805.4"/><circle cx="431.3" cy="749.9"/><circle cx="440.8" cy="799.5"/><circle cx="433.9" cy="780.1"/><circle cx="429.5" cy="784.0"/><circle cx="436.5" cy="824.4"/><circle cx="448.8" cy="732.4"/><circle cx="438.1" cy="748.2"/><circle cx="429.7" cy="741.0"/><circle cx="433.4" cy="782.2"/><circle cx="423.8" cy="741.2"/><circle cx="442.3" cy="818.8"/><circle cx="424.0" cy="801.0"/><circle cx="417.1" cy="730.3"/><circle cx="441.1" cy="744.4"/><circle cx="423.1" cy="760.0"/><circle cx="441.8" cy="765.4"/><circle cx="457.4" cy="774.0"/><circle cx="429.9" cy="795.1"/><circle cx="425.4" cy="810.4"/><circle cx="429.8" cy="803.1"/><circle cx="434.5" cy="722.9"/></g>
<g fill="#6986be"><circle cx="435.4" cy="724.1"/><circle cx="460.1" cy="763.2"/><circle cx="449.4" cy="812.9"/><circle cx="444.1" cy="763.2"/><circle cx="449.1" cy="754.0"/><circle cx="435.5" cy="756.3"/><circle cx="434.1" cy="742.6"/><circle cx="444.1" cy="785.0"/><circle cx="453.2" cy="745.9"/><circle cx="447.5" cy="807.1"/><circle cx="449.9" cy="774.4"/><circle cx="417.4" cy="728.8"/><circle cx="449.5" cy="726.6"/><circle cx="439.9" cy="736.5"/><circle cx="454.2" cy="809.9"/><circle cx="453.3" cy="789.0"/><circle cx="434.2" cy="730.4"/><circle cx="422.6" cy="738.3"/><circle cx="447.0" cy="726.6"/><circle cx="446.3" cy="821.3"/><circle cx="424.8" cy="743.1"/><circle cx="422.6" cy="710.4"/><circle cx="448.0" cy="748.8"/><circle cx="443.5" cy="757.8"/><circle cx="453.9" cy="758.4"/><circle cx="452.3" cy="742.8"/><circle cx="439.5" cy="768.4"/><circle cx="447.8" cy="747.9"/><circle cx="435.9" cy="720.7"/><circle cx="444.5" cy="761.1"/><circle cx="432.8" cy="759.5"/><circle cx="455.1" cy="798.8"/><circle cx="438.1" cy="748.6"/><circle cx="445.9" cy="799.9"/><circle cx="457.6" cy="824.2"/><circle cx="460.0" cy="763.0"/><circle cx="439.3" cy="762.9"/><circle cx="440.5" cy="808.4"/><circle cx="443.3" cy="738.1"/><circle cx="447.6" cy="736.6"/><circle cx="447.8" cy="809.5"/><circle cx="453.4" cy="778.3"/><circle cx="446.2" cy="815.0"/><circle cx="426.0" cy="732.6"/><circle cx="456.2" cy="738.8"/><circle cx="436.7" cy="739.8"/><circle cx="436.7" cy="772.8"/></g>
<g fill="#6381bc"><circle cx="439.6" cy="776.0"/><circle cx="455.1" cy="788.5"/><circle cx="452.9" cy="740.6"/><circle cx="464.3" cy="758.1"/><circle cx="452.4" cy="828.4"/><circle cx="450.6" cy="766.4"/><circle cx="456.5" cy="749.5"/><circle cx="457.1" cy="819.5"/><circle cx="432.8" cy="739.4"/><circle cx="453.1" cy="816.3"/><circle cx="459.1" cy="757.0"/><circle cx="430.6" cy="717.3"/><circle cx="450.4" cy="813.6"/><circle cx="440.9" cy="809.1"/><circle cx="456.0" cy="761.2"/><circle cx="450.1" cy="776.6"/><circle cx="452.7" cy="807.1"/><circle cx="442.7" cy="712.6"/><circle cx="456.0" cy="780.0"/><circle cx="445.4" cy="780.4"/><circle cx="444.2" cy="783.5"/><circle cx="454.7" cy="769.6"/><circle cx="446.4" cy="767.7"/><circle cx="458.2" cy="823.3"/><circle cx="434.5" cy="750.0"/><circle cx="444.5" cy="733.2"/><circle cx="456.8" cy="767.2"/><circle cx="438.0" cy="719.3"/><circle cx="449.5" cy="793.3"/><circle cx="457.1" cy="753.4"/><circle cx="450.0" cy="777.1"/><circle cx="445.1" cy="765.2"/><circle cx="452.7" cy="822.4"/><circle cx="457.2" cy="797.9"/></g>
<g fill="#5e7cba"><circle cx="430.7" cy="806.2"/><circle cx="461.6" cy="757.5"/><circle cx="457.8" cy="778.9"/><circle cx="453.7" cy="827.8"/><circle cx="472.4" cy="824.5"/><circle cx="468.0" cy="788.5"/><circle cx="452.8" cy="774.6"/><circle cx="453.9" cy="725.0"/><circle cx="443.9" cy="784.4"/><circle cx="464.2" cy="751.7"/><circle cx="452.3" cy="753.8"/><circle cx="458.5" cy="764.6"/><circle cx="451.0" cy="769.7"/><circle cx="458.1" cy="810.2"/><circle cx="450.5" cy="803.9"/><circle cx="458.1" cy="799.8"/><circle cx="473.9" cy="771.8"/><circle cx="456.7" cy="783.1"/><circle cx="452.0" cy="759.5"/><circle cx="453.1" cy="774.2"/><circle cx="455.5" cy="771.3"/><circle cx="460.3" cy="804.0"/><circle cx="464.4" cy="752.7"/><circle cx="471.4" cy="784.7"/><circle cx="456.7" cy="799.8"/><circle cx="450.3" cy="792.1"/><circle cx="436.2" cy="793.4"/></g>
<g fill="#5a77b8"><circle cx="465.1" cy="830.2"/><circle cx="469.7" cy="840.2"/><circle cx="458.0" cy="814.8"/><circle cx="452.6" cy="820.3"/><circle cx="450.7" cy="753.7"/><circle cx="460.6" cy="782.0"/><circle cx="467.5" cy="785.7"/><circle cx="465.7" cy="759.6"/><circle cx="467.5" cy="749.3"/><circle cx="438.9" cy="759.9"/><circle cx="441.6" cy="768.7"/><circle cx="457.6" cy="765.8"/><circle cx="471.2" cy="817.1"/><circle cx="458.5" cy="826.6"/><circle cx="458.0" cy="775.9"/><circle cx="463.5" cy="821.3"/><circle cx="463.8" cy="832.7"/><circle cx="459.5" cy="811.9"/><circle cx="466.0" cy="806.9"/><circle cx="462.7" cy="828.2"/><circle cx="455.6" cy="775.7"/><circle cx="472.1" cy="838.5"/><circle cx="447.5" cy="822.3"/><circle cx="467.9" cy="833.6"/><circle cx="456.4" cy="785.0"/><circle cx="461.7" cy="790.8"/><circle cx="441.3" cy="727.9"/><circle cx="465.5" cy="767.2"/><circle cx="474.8" cy="816.2"/><circle cx="450.2" cy="729.1"/><circle cx="461.5" cy="746.6"/><circle cx="452.7" cy="757.3"/><circle cx="462.3" cy="815.4"/><circle cx="468.9" cy="802.3"/><circle cx="468.3" cy="813.7"/><circle cx="446.7" cy="761.6"/><circle cx="461.1" cy="798.3"/></g>
<g fill="#5471b5"><circle cx="447.5" cy="812.4"/><circle cx="476.1" cy="842.4"/><circle cx="472.7" cy="794.6"/><circle cx="451.2" cy="799.2"/><circle cx="470.6" cy="839.1"/><circle cx="465.4" cy="762.9"/><circle cx="477.3" cy="779.6"/><circle cx="458.8" cy="784.2"/><circle cx="471.1" cy="836.4"/><circle cx="443.8" cy="819.4"/><circle cx="469.1" cy="763.5"/><circle cx="462.7" cy="778.8"/><circle cx="474.9" cy="820.7"/><circle cx="476.4" cy="810.4"/><circle cx="460.7" cy="826.5"/><circle cx="463.2" cy="783.1"/><circle cx="465.9" cy="838.0"/><circle cx="474.8" cy="815.4"/><circle cx="475.7" cy="831.7"/><circle cx="461.6" cy="809.6"/><circle cx="459.7" cy="809.3"/><circle cx="452.7" cy="785.6"/><circle cx="460.3" cy="745.4"/><circle cx="474.7" cy="807.2"/><circle cx="472.6" cy="834.0"/><circle cx="462.5" cy="812.4"/><circle cx="473.6" cy="817.6"/><circle cx="465.9" cy="819.5"/><circle cx="480.0" cy="789.7"/><circle cx="461.0" cy="805.4"/><circle cx="470.8" cy="824.1"/><circle cx="475.0" cy="820.9"/><circle cx="464.4" cy="757.8"/></g>
<g fill="#4f6db3"><circle cx="466.3" cy="818.1"/><circle cx="470.2" cy="787.3"/><circle cx="473.6" cy="795.2"/><circle cx="471.9" cy="783.3"/><circle cx="461.0" cy="754.6"/><circle cx="478.8" cy="837.4"/><circle cx="481.9" cy="810.1"/><circle cx="468.0" cy="835.3"/><circle cx="483.5" cy="811.2"/><circle cx="454.5" cy="777.8"/><circle cx="464.5" cy="772.0"/><circle cx="457.5" cy="764.4"/><circle cx="457.3" cy="780.2"/><circle cx="484.0" cy="817.2"/><circle cx="468.1" cy="781.1"/><circle cx="468.4" cy="796.9"/><circle cx="473.1" cy="786.0"/><circle cx="462.2" cy="820.0"/><circle cx="458.9" cy="752.2"/><circle cx="459.2" cy="806.5"/><circle cx="469.0" cy="812.7"/><circle cx="450.0" cy="763.6"/><circle cx="453.6" cy="778.3"/><circle cx="466.5" cy="812.2"/><circle cx="477.6" cy="781.8"/></g>
<g fill="#4b67b0"><circle cx="473.4" cy="837.0"/><circle cx="470.1" cy="807.7"/><circle cx="461.4" cy="823.7"/><circle cx="484.9" cy="807.2"/><circle cx="471.1" cy="810.1"/><circle cx="476.9" cy="832.1"/><circle cx="480.4" cy="804.8"/><circle cx="471.6" cy="838.6"/><circle cx="459.8" cy="762.7"/><circle cx="471.2" cy="809.8"/><circle cx="479.2" cy="828.0"/><circle cx="466.1" cy="833.4"/><circle cx="475.4" cy="843.2"/><circle cx="479.1" cy="824.6"/><circle cx="474.9" cy="810.8"/><circle cx="474.0" cy="819.2"/><circle cx="487.0" cy="841.4"/></g>
<g fill="#4763ad"><circle cx="484.4" cy="805.7"/><circle cx="473.5" cy="788.6"/><circle cx="465.0" cy="752.1"/><circle cx="489.7" cy="835.5"/><circle cx="469.5" cy="799.6"/><circle cx="486.6" cy="825.1"/><circle cx="484.6" cy="813.3"/><circle cx="478.1" cy="798.5"/><circle cx="483.6" cy="798.6"/><circle cx="480.5" cy="797.8"/><circle cx="481.9" cy="842.4"/><circle cx="477.1" cy="790.5"/><circle cx="480.6" cy="805.4"/><circle cx="483.3" cy="824.1"/><circle cx="469.4" cy="836.5"/></g>
<g fill="#435eac"><circle cx="483.2" cy="800.5"/><circle cx="486.5" cy="844.0"/><circle cx="486.4" cy="826.8"/><circle cx="486.4" cy="839.1"/><circle cx="484.1" cy="842.2"/><circle cx="475.2" cy="797.7"/></g>
<g fill="#3f5ba9"><circle cx="483.7" cy="811.5"/><circle cx="473.0" cy="790.3"/><circle cx="481.2" cy="815.8"/><circle cx="486.1" cy="839.0"/></g>
<g fill="#b72223"><circle cx="248.0" cy="827.3"/><circle cx="250.3" cy="815.7"/></g>
<g fill="#bc2927"><circle cx="260.2" cy="805.1"/><circle cx="262.3" cy="804.2"/><circle cx="254.1" cy="818.6"/></g>
<g fill="#c22f2a"><circle cx="260.5" cy="811.2"/><circle cx="263.4" cy="803.9"/><circle cx="253.2" cy="815.3"/></g>
<g fill="#c6352e"><circle cx="269.1" cy="782.7"/><circle cx="270.8" cy="777.5"/><circle cx="250.7" cy="822.4"/><circle cx="262.8" cy="807.3"/><circle cx="261.9" cy="817.4"/><circle cx="260.3" cy="813.9"/><circle cx="273.9" cy="797.1"/></g>
<g fill="#ca4036"><circle cx="249.9" cy="822.0"/><circle cx="270.2" cy="763.2"/><circle cx="275.2" cy="770.4"/><circle cx="274.1" cy="758.3"/><circle cx="279.0" cy="755.8"/><circle cx="274.4" cy="737.1"/><circle cx="264.1" cy="793.9"/><circle cx="269.3" cy="802.3"/><circle cx="267.5" cy="799.4"/><circle cx="254.1" cy="822.0"/></g>
<g fill="#ce493d"><circle cx="268.1" cy="776.0"/><circle cx="277.6" cy="707.9"/><circle cx="283.0" cy="775.9"/><circle cx="265.7" cy="797.0"/><circle cx="266.8" cy="775.9"/><circle cx="258.8" cy="806.4"/><circle cx="294.5" cy="747.9"/><circle cx="269.1" cy="767.7"/></g>
<g fill="#d15444"><circle cx="258.5" cy="805.9"/><circle cx="293.4" cy="698.0"/><circle cx="280.4" cy="806.7"/><circle cx="274.7" cy="808.4"/><circle cx="297.8" cy="792.9"/><circle cx="274.1" cy="792.1"/><circle cx="281.8" cy="699.8"/><circle cx="291.7" cy="793.7"/><circle cx="271.1" cy="743.7"/><circle cx="304.7" cy="700.6"/><circle cx="289.6" cy="728.8"/><circle cx="291.6" cy="705.2"/><circle cx="270.8" cy="777.0"/><circle cx="278.5" cy="756.3"/><circle cx="278.1" cy="764.1"/></g>
<g fill="#d55e4b"><circle cx="283.3" cy="758.1"/><circle cx="290.4" cy="766.0"/><circle cx="275.9" cy="783.1"/><circle cx="278.5" cy="789.3"/><circle cx="281.3" cy="774.6"/><circle cx="272.1" cy="733.7"/><circle cx="278.2" cy="752.2"/><circle cx="277.6" cy="806.0"/><circle cx="285.0" cy="741.2"/><circle cx="275.5" cy="756.5"/><circle cx="304.9" cy="727.4"/><circle cx="281.0" cy="759.4"/><circle cx="283.8" cy="771.7"/><circle cx="278.9" cy="802.2"/><circle cx="290.9" cy="771.9"/></g>
<g fill="#d96853"><circle cx="288.8" cy="775.2"/><circle cx="307.9" cy="656.9"/><circle cx="291.4" cy="717.4"/><circle cx="289.3" cy="705.9"/><circle cx="297.1" cy="703.6"/><circle cx="289.9" cy="777.5"/><circle cx="282.8" cy="707.7"/><circle cx="271.2" cy="765.3"/><circle cx="288.7" cy="733.4"/></g>
<g fill="#db705b"><circle cx="275.9" cy="795.0"/><circle cx="286.8" cy="758.9"/><circle cx="296.7" cy="759.1"/><circle cx="286.7" cy="703.3"/><circle cx="292.6" cy="682.0"/><circle cx="313.8" cy="714.6"/><circle cx="282.5" cy="773.5"/><circle cx="295.5" cy="744.1"/><circle cx="316.7" cy="723.2"/><circle cx="291.4" cy="784.9"/><circle cx="292.9" cy="759.8"/><circle cx="283.5" cy="776.7"/><circle cx="299.0" cy="735.9"/><circle cx="301.9" cy="681.7"/><circle cx="310.5" cy="715.1"/></g>
<g fill="#de7962"><circle cx="311.3" cy="765.0"/><circle cx="298.4" cy="694.7"/><circle cx="302.9" cy="667.3"/><circle cx="307.5" cy="676.7"/><circle cx="289.9" cy="777.5"/><circle cx="289.6" cy="696.8"/><circle cx="288.7" cy="776.6"/><circle cx="317.2" cy="639.4"/><circle cx="296.2" cy="688.2"/><circle cx="296.7" cy="760.9"/><circle cx="305.6" cy="759.6"/><circle cx="313.3" cy="719.1"/><circle cx="293.4" cy="760.2"/><circle cx="287.0" cy="752.3"/><circle cx="307.9" cy="735.0"/><circle cx="300.4" cy="794.1"/><circle cx="301.0" cy="700.2"/></g>
<g fill="#e0816a"><circle cx="298.6" cy="721.3"/><circle cx="297.2" cy="724.1"/><circle cx="321.9" cy="784.6"/><circle cx="298.2" cy="762.6"/><circle cx="320.1" cy="742.1"/><circle cx="302.7" cy="754.1"/><circle cx="300.7" cy="791.3"/><circle cx="301.5" cy="702.0"/><circle cx="299.3" cy="788.0"/><circle cx="305.1" cy="690.8"/><circle cx="304.6" cy="737.4"/><circle cx="288.4" cy="713.2"/><circle cx="303.1" cy="713.1"/><circle cx="318.6" cy="725.4"/><circle cx="325.6" cy="695.9"/><circle cx="312.2" cy="716.7"/></g>
<g fill="#e28972"><circle cx="307.7" cy="671.0"/><circle cx="332.0" cy="769.2"/><circle cx="313.7" cy="668.2"/><circle cx="304.1" cy="685.1"/><circle cx="306.4" cy="734.1"/><circle cx="312.8" cy="754.1"/><circle cx="325.6" cy="678.4"/><circle cx="306.0" cy="688.3"/><circle cx="290.6" cy="737.3"/><circle cx="314.3" cy="645.8"/><circle cx="298.5" cy="747.7"/></g>
<g fill="#e4917a"><circle cx="299.4" cy="728.6"/><circle cx="333.4" cy="632.5"/><circle cx="310.6" cy="761.9"/><circle cx="319.7" cy="774.5"/><circle cx="309.2" cy="714.0"/><circle cx="332.3" cy="633.8"/><circle cx="315.5" cy="736.7"/><circle cx="316.2" cy="701.3"/><circle cx="306.3" cy="720.1"/><circle cx="317.9" cy="749.7"/><circle cx="293.6" cy="694.2"/><circle cx="314.3" cy="760.5"/><circle cx="302.2" cy="732.1"/><circle cx="306.7" cy="776.3"/><circle cx="317.0" cy="734.4"/></g>
<g fill="#e59881"><circle cx="332.1" cy="757.6"/><circle cx="318.5" cy="739.3"/><circle cx="327.9" cy="659.6"/><circle cx="329.3" cy="769.6"/><circle cx="341.3" cy="766.3"/><circle cx="313.3" cy="679.4"/><circle cx="332.6" cy="775.8"/><circle cx="307.8" cy="715.3"/><circle cx="318.7" cy="740.6"/><circle cx="319.7" cy="738.1"/><circle cx="337.2" cy="757.5"/><circle cx="302.7" cy="761.2"/><circle cx="309.4" cy="704.1"/><circle cx="324.5" cy="724.0"/><circle cx="333.1" cy="716.7"/><circle cx="326.8" cy="751.5"/></g>
<g fill="#e5a089"><circle cx="331.1" cy="717.1"/><circle cx="312.4" cy="737.9"/><circle cx="319.8" cy="723.5"/><circle cx="324.1" cy="713.0"/><circle cx="338.2" cy="718.1"/><circle cx="316.7" cy="719.0"/><circle cx="329.8" cy="721.5"/><circle cx="353.2" cy="762.7"/><circle cx="320.8" cy="707.1"/><circle cx="332.5" cy="727.5"/><circle cx="344.0" cy="647.6"/><circle cx="338.3" cy="685.9"/><circle cx="334.4" cy="681.5"/><circle cx="328.4" cy="742.2"/><circle cx="321.2" cy="761.3"/></g>
<g fill="#e6a690"><circle cx="327.4" cy="715.5"/><circle cx="343.2" cy="704.1"/><circle cx="353.2" cy="704.9"/><circle cx="332.0" cy="739.1"/><circle cx="332.9" cy="729.4"/><circle cx="336.2" cy="752.9"/><circle cx="324.7" cy="671.7"/><circle cx="351.6" cy="723.0"/><circle cx="312.3" cy="655.1"/><circle cx="315.7" cy="728.9"/><circle cx="343.6" cy="722.1"/><circle cx="328.1" cy="673.1"/><circle cx="327.3" cy="727.3"/><circle cx="329.8" cy="729.6"/><circle cx="343.3" cy="730.9"/><circle cx="334.1" cy="660.5"/></g>
<g fill="#e6ae98"><circle cx="338.9" cy="732.7"/><circle cx="327.9" cy="755.4"/><circle cx="351.5" cy="659.2"/><circle cx="351.2" cy="675.1"/><circle cx="349.8" cy="704.7"/><circle cx="346.1" cy="649.0"/><circle cx="333.3" cy="731.8"/><circle cx="327.4" cy="678.2"/><circle cx="347.0" cy="749.1"/><circle cx="335.1" cy="627.3"/></g>
<g fill="#e7b5a0"><circle cx="343.2" cy="678.5"/><circle cx="345.6" cy="633.5"/><circle cx="337.7" cy="719.2"/><circle cx="342.1" cy="668.2"/><circle cx="340.2" cy="744.8"/><circle cx="350.0" cy="677.6"/><circle cx="347.5" cy="713.7"/><circle cx="335.3" cy="653.8"/><circle cx="356.7" cy="667.1"/><circle cx="330.9" cy="742.9"/><circle cx="328.1" cy="749.9"/><circle cx="347.0" cy="701.0"/><circle cx="346.8" cy="746.8"/><circle cx="334.9" cy="770.4"/><circle cx="338.7" cy="687.6"/><circle cx="368.9" cy="720.4"/><circle cx="335.2" cy="754.6"/><circle cx="354.1" cy="630.1"/></g>
<g fill="#e4baa8"><circle cx="356.5" cy="681.4"/><circle cx="351.0" cy="701.6"/><circle cx="357.9" cy="698.0"/><circle cx="354.6" cy="659.1"/><circle cx="344.5" cy="717.9"/><circle cx="356.1" cy="678.2"/><circle cx="362.8" cy="712.4"/><circle cx="351.2" cy="642.1"/><circle cx="349.5" cy="765.2"/><circle cx="349.8" cy="656.1"/><circle cx="360.0" cy="717.3"/><circle cx="372.0" cy="764.9"/><circle cx="343.2" cy="769.0"/><circle cx="357.5" cy="669.8"/><circle cx="353.3" cy="755.6"/><circle cx="333.2" cy="744.7"/><circle cx="339.7" cy="686.2"/><circle cx="371.6" cy="722.1"/><circle cx="352.5" cy="645.0"/><circle cx="352.0" cy="750.0"/><circle cx="354.8" cy="661.5"/><circle cx="357.8" cy="769.1"/><circle cx="355.3" cy="702.1"/><circle cx="369.2" cy="729.1"/><circle cx="339.7" cy="711.9"/><circle cx="352.2" cy="761.2"/><circle cx="353.5" cy="719.6"/><circle cx="354.0" cy="743.6"/></g>
<g fill="#e1c0b2"><circle cx="377.7" cy="761.4"/><circle cx="372.0" cy="640.8"/><circle cx="360.2" cy="705.3"/><circle cx="365.5" cy="714.5"/><circle cx="352.3" cy="709.5"/><circle cx="349.0" cy="699.9"/><circle cx="348.8" cy="690.7"/><circle cx="349.4" cy="748.8"/><circle cx="358.8" cy="701.0"/><circle cx="353.5" cy="639.8"/><circle cx="359.5" cy="689.6"/><circle cx="362.9" cy="750.0"/></g>
<g fill="#dec4bb"><circle cx="371.2" cy="609.4"/><circle cx="368.6" cy="780.9"/><circle cx="358.7" cy="627.4"/><circle cx="370.0" cy="768.3"/><circle cx="378.5" cy="698.8"/><circle cx="366.2" cy="711.6"/><circle cx="374.0" cy="749.3"/><circle cx="383.1" cy="739.0"/><circle cx="367.5" cy="736.0"/><circle cx="374.3" cy="731.1"/><circle cx="351.0" cy="708.6"/><circle cx="369.7" cy="769.5"/><circle cx="354.3" cy="701.3"/><circle cx="369.3" cy="730.4"/><circle cx="371.5" cy="707.5"/><circle cx="360.5" cy="717.1"/></g>
<g fill="#dacac4"><circle cx="389.6" cy="703.5"/><circle cx="374.6" cy="789.6"/><circle cx="357.3" cy="704.3"/><circle cx="357.0" cy="693.0"/><circle cx="378.2" cy="733.8"/><circle cx="380.2" cy="740.0"/><circle cx="369.2" cy="768.3"/><circle cx="368.7" cy="775.3"/><circle cx="392.9" cy="624.9"/><circle cx="393.8" cy="717.1"/><circle cx="356.9" cy="702.7"/><circle cx="372.2" cy="766.6"/><circle cx="366.6" cy="695.8"/></g>
<g fill="#d7cfcd"><circle cx="357.8" cy="726.7"/><circle cx="375.6" cy="741.8"/><circle cx="366.3" cy="790.2"/><circle cx="381.5" cy="718.6"/><circle cx="371.1" cy="641.7"/><circle cx="382.7" cy="785.5"/><circle cx="376.9" cy="739.2"/><circle cx="388.2" cy="713.5"/><circle cx="375.7" cy="732.0"/><circle cx="375.9" cy="733.7"/><circle cx="387.3" cy="646.4"/><circle cx="375.0" cy="743.7"/><circle cx="365.9" cy="726.9"/><circle cx="397.3" cy="770.8"/><circle cx="366.8" cy="784.6"/><circle cx="384.6" cy="718.1"/><circle cx="385.2" cy="696.0"/><circle cx="365.6" cy="732.6"/><circle cx="369.7" cy="689.6"/><circle cx="367.3" cy="721.4"/><circle cx="374.7" cy="770.9"/><circle cx="368.7" cy="772.7"/><circle cx="377.1" cy="715.5"/><circle cx="364.6" cy="687.5"/></g>
<g fill="#cdcbd0"><circle cx="376.1" cy="762.1"/><circle cx="354.2" cy="694.6"/><circle cx="377.4" cy="734.6"/><circle cx="385.0" cy="745.2"/><circle cx="399.3" cy="684.8"/><circle cx="378.2" cy="788.3"/><circle cx="374.4" cy="780.5"/><circle cx="370.4" cy="747.1"/><circle cx="379.4" cy="758.3"/><circle cx="370.1" cy="709.3"/><circle cx="353.0" cy="700.7"/><circle cx="382.2" cy="752.1"/><circle cx="364.8" cy="653.8"/><circle cx="381.0" cy="688.0"/><circle cx="392.6" cy="743.3"/><circle cx="383.3" cy="721.0"/><circle cx="371.1" cy="742.7"/></g>
<g fill="#c2c8d3"><circle cx="378.0" cy="774.6"/><circle cx="371.7" cy="674.0"/><circle cx="387.0" cy="760.5"/><circle cx="411.1" cy="803.4"/><circle cx="380.8" cy="734.8"/><circle cx="381.5" cy="707.6"/><circle cx="377.4" cy="699.8"/><circle cx="382.0" cy="722.9"/><circle cx="385.3" cy="649.7"/><circle cx="392.1" cy="763.4"/><circle cx="374.8" cy="636.7"/><circle cx="381.2" cy="771.8"/><circle cx="384.4" cy="770.1"/><circle cx="374.2" cy="699.6"/><circle cx="386.2" cy="782.8"/><circle cx="391.7" cy="755.8"/><circle cx="398.3" cy="666.6"/><circle cx="385.1" cy="772.0"/><circle cx="391.5" cy="759.3"/><circle cx="381.4" cy="723.1"/><circle cx="396.8" cy="776.0"/><circle cx="394.8" cy="791.6"/><circle cx="377.7" cy="678.0"/><circle cx="377.6" cy="766.6"/><circle cx="388.9" cy="746.4"/><circle cx="399.1" cy="778.6"/></g>
<g fill="#b9c4d5"><circle cx="386.0" cy="780.0"/><circle cx="392.3" cy="780.5"/><circle cx="382.7" cy="725.8"/><circle cx="385.4" cy="752.0"/><circle cx="389.2" cy="691.9"/><circle cx="427.5" cy="730.9"/><circle cx="378.4" cy="740.7"/><circle cx="377.2" cy="716.0"/><circle cx="399.8" cy="722.4"/><circle cx="408.6" cy="753.5"/><circle cx="396.7" cy="751.4"/><circle cx="400.2" cy="786.4"/><circle cx="389.9" cy="783.1"/><circle cx="394.2" cy="766.7"/><circle cx="391.3" cy="723.3"/><circle cx="393.4" cy="748.5"/><circle cx="391.9" cy="757.2"/><circle cx="385.4" cy="701.9"/><circle cx="393.3" cy="719.1"/><circle cx="401.9" cy="708.2"/><circle cx="398.3" cy="721.0"/><circle cx="398.0" cy="756.9"/><circle cx="385.2" cy="613.7"/><circle cx="394.5" cy="752.5"/><circle cx="400.0" cy="751.9"/><circle cx="397.3" cy="771.2"/><circle cx="398.0" cy="638.2"/><circle cx="391.5" cy="703.0"/></g>
<g fill="#aec2d8"><circle cx="406.0" cy="770.4"/><circle cx="396.1" cy="721.3"/><circle cx="388.4" cy="785.2"/><circle cx="400.2" cy="729.4"/><circle cx="400.2" cy="790.5"/><circle cx="390.7" cy="661.3"/><circle cx="377.9" cy="719.7"/><circle cx="387.0" cy="697.2"/><circle cx="406.1" cy="777.6"/><circle cx="406.7" cy="733.4"/><circle cx="399.5" cy="725.6"/><circle cx="397.9" cy="782.7"/><circle cx="380.7" cy="654.7"/><circle cx="387.4" cy="736.7"/><circle cx="374.0" cy="661.9"/><circle cx="371.8" cy="788.5"/><circle cx="403.4" cy="758.6"/><circle cx="389.2" cy="678.6"/><circle cx="396.6" cy="652.0"/><circle cx="397.0" cy="741.5"/><circle cx="405.3" cy="689.9"/><circle cx="405.0" cy="760.6"/><circle cx="400.5" cy="729.1"/><circle cx="386.7" cy="707.3"/><circle cx="393.7" cy="739.2"/><circle cx="402.5" cy="672.0"/><circle cx="397.0" cy="707.4"/><circle cx="410.2" cy="753.0"/><circle cx="390.4" cy="750.7"/><circle cx="402.0" cy="728.4"/><circle cx="392.8" cy="706.8"/><circle cx="376.3" cy="707.2"/><circle cx="388.3" cy="707.9"/><circle cx="403.5" cy="757.3"/><circle cx="403.6" cy="758.6"/><circle cx="404.8" cy="770.0"/></g>
<g fill="#a4bedb"><circle cx="401.4" cy="708.0"/><circle cx="393.5" cy="676.5"/><circle cx="380.4" cy="705.9"/><circle cx="401.6" cy="756.6"/><circle cx="403.2" cy="750.9"/><circle cx="410.5" cy="764.9"/><circle cx="410.4" cy="747.5"/><circle cx="398.2" cy="754.3"/><circle cx="399.9" cy="748.7"/><circle cx="379.7" cy="767.8"/><circle cx="388.6" cy="726.0"/><circle cx="400.2" cy="792.6"/><circle cx="391.2" cy="788.0"/><circle cx="399.9" cy="708.7"/><circle cx="388.6" cy="744.5"/><circle cx="397.6" cy="751.9"/><circle cx="411.8" cy="680.9"/><circle cx="398.6" cy="708.5"/><circle cx="410.7" cy="735.5"/><circle cx="407.9" cy="744.1"/><circle cx="412.2" cy="725.9"/><circle cx="387.0" cy="783.5"/><circle cx="413.9" cy="739.1"/><circle cx="390.1" cy="757.0"/><circle cx="392.2" cy="709.9"/><circle cx="412.8" cy="731.9"/><circle cx="400.5" cy="744.0"/><circle cx="395.2" cy="744.8"/><circle cx="400.6" cy="785.3"/><circle cx="410.9" cy="738.2"/><circle cx="395.9" cy="732.9"/><circle cx="404.4" cy="774.0"/><circle cx="400.9" cy="781.9"/><circle cx="407.4" cy="765.3"/><circle cx="409.2" cy="652.2"/><circle cx="405.1" cy="731.8"/><circle cx="401.7" cy="691.3"/></g>
<g fill="#9eb8d8"><circle cx="398.9" cy="782.7"/><circle cx="399.1" cy="731.4"/><circle cx="405.5" cy="764.4"/><circle cx="390.0" cy="759.4"/><circle cx="419.0" cy="756.6"/><circle cx="385.3" cy="771.5"/><circle cx="407.6" cy="770.9"/><circle cx="397.3" cy="794.1"/><circle cx="403.1" cy="770.0"/><circle cx="400.8" cy="768.2"/><circle cx="409.0" cy="742.8"/><circle cx="403.4" cy="735.9"/><circle cx="405.4" cy="756.3"/><circle cx="413.1" cy="740.8"/><circle cx="397.7" cy="737.2"/><circle cx="394.5" cy="718.6"/><circle cx="379.4" cy="747.6"/><circle cx="414.8" cy="750.4"/><circle cx="398.0" cy="784.0"/></g>
<g fill="#97b1d5"><circle cx="399.3" cy="753.6"/><circle cx="420.5" cy="780.5"/><circle cx="412.3" cy="710.3"/><circle cx="410.5" cy="703.6"/><circle cx="408.8" cy="731.7"/><circle cx="405.5" cy="690.2"/><circle cx="429.5" cy="784.2"/><circle cx="396.4" cy="758.6"/><circle cx="401.7" cy="709.9"/><circle cx="404.9" cy="669.6"/><circle cx="419.1" cy="710.3"/><circle cx="440.4" cy="822.9"/><circle cx="397.8" cy="790.3"/><circle cx="410.3" cy="781.8"/><circle cx="420.3" cy="707.2"/><circle cx="418.7" cy="728.2"/><circle cx="415.1" cy="690.4"/><circle cx="431.9" cy="819.9"/><circle cx="434.3" cy="779.4"/><circle cx="401.6" cy="709.3"/><circle cx="427.8" cy="743.4"/><circle cx="410.3" cy="703.5"/><circle cx="424.4" cy="677.1"/><circle cx="414.2" cy="782.6"/><circle cx="428.5" cy="706.9"/><circle cx="410.2" cy="798.4"/><circle cx="398.3" cy="782.7"/><circle cx="385.8" cy="685.1"/><circle cx="406.1" cy="769.9"/><circle cx="411.9" cy="703.8"/><circle cx="411.7" cy="773.8"/><circle cx="414.7" cy="782.9"/><circle cx="402.4" cy="767.7"/><circle cx="421.3" cy="771.7"/><circle cx="412.6" cy="712.3"/><circle cx="409.8" cy="788.8"/><circle cx="419.8" cy="720.2"/><circle cx="397.3" cy="786.2"/></g>
<g fill="#91abd3"><circle cx="430.9" cy="799.3"/><circle cx="420.5" cy="778.2"/><circle cx="405.4" cy="668.4"/><circle cx="407.0" cy="712.6"/><circle cx="409.7" cy="734.1"/><circle cx="437.1" cy="770.1"/><circle cx="414.6" cy="793.3"/><circle cx="400.2" cy="720.4"/><circle cx="423.9" cy="801.7"/><circle cx="427.6" cy="756.9"/><circle cx="421.6" cy="763.0"/><circle cx="414.6" cy="801.7"/><circle cx="425.1" cy="727.8"/><circle cx="417.0" cy="710.6"/><circle cx="409.4" cy="772.8"/><circle cx="414.0" cy="761.8"/><circle cx="414.0" cy="655.8"/><circle cx="421.7" cy="710.2"/><circle cx="412.2" cy="704.5"/><circle cx="417.7" cy="785.5"/><circle cx="418.1" cy="741.2"/><circle cx="420.2" cy="766.6"/><circle cx="435.9" cy="801.0"/><circle cx="409.8" cy="742.5"/><circle cx="415.8" cy="767.9"/><circle cx="402.6" cy="737.8"/><circle cx="422.4" cy="700.5"/><circle cx="413.1" cy="741.6"/><circle cx="431.1" cy="759.0"/><circle cx="411.7" cy="780.3"/><circle cx="404.5" cy="770.0"/><circle cx="414.9" cy="688.0"/><circle cx="413.0" cy="690.0"/><circle cx="417.6" cy="715.0"/><circle cx="419.0" cy="787.1"/></g>
<g fill="#8aa4d0"><circle cx="415.5" cy="732.7"/><circle cx="416.2" cy="732.9"/><circle cx="407.4" cy="753.7"/><circle cx="417.2" cy="773.7"/><circle cx="423.5" cy="798.5"/><circle cx="420.3" cy="750.8"/><circle cx="431.5" cy="781.7"/><circle cx="400.9" cy="743.4"/><circle cx="416.7" cy="803.5"/><circle cx="423.8" cy="719.3"/><circle cx="420.4" cy="709.6"/><circle cx="413.3" cy="734.7"/><circle cx="437.7" cy="721.3"/><circle cx="416.4" cy="733.5"/><circle cx="415.6" cy="796.7"/><circle cx="414.5" cy="729.6"/><circle cx="419.5" cy="805.0"/><circle cx="419.6" cy="787.9"/><circle cx="418.2" cy="724.4"/><circle cx="412.4" cy="728.0"/><circle cx="424.2" cy="769.5"/><circle cx="421.1" cy="722.1"/><circle cx="446.8" cy="805.5"/><circle cx="424.4" cy="726.6"/><circle cx="409.1" cy="681.0"/><circle cx="420.4" cy="740.5"/></g>
<g fill="#839fcd"><circle cx="424.7" cy="731.3"/><circle cx="423.9" cy="800.4"/><circle cx="423.2" cy="815.9"/><circle cx="429.7" cy="795.8"/><circle cx="425.8" cy="727.4"/><circle cx="438.9" cy="779.6"/><circle cx="435.9" cy="790.9"/><circle cx="426.2" cy="818.7"/><circle cx="435.3" cy="769.8"/><circle cx="402.1" cy="791.6"/><circle cx="424.2" cy="677.2"/><circle cx="429.4" cy="745.2"/><circle cx="411.2" cy="691.8"/><circle cx="415.7" cy="763.3"/><circle cx="426.8" cy="811.4"/><circle cx="420.6" cy="758.1"/><circle cx="429.9" cy="763.8"/><circle cx="424.0" cy="766.0"/><circle cx="417.5" cy="702.5"/><circle cx="417.3" cy="710.6"/><circle cx="428.9" cy="761.5"/><circle cx="417.3" cy="731.8"/><circle cx="420.2" cy="696.8"/><circle cx="429.1" cy="725.0"/><circle cx="416.9" cy="736.3"/><circle cx="425.9" cy="771.4"/><circle cx="425.2" cy="785.8"/><circle cx="416.5" cy="722.0"/><circle cx="433.2" cy="739.4"/><circle cx="420.9" cy="790.1"/><circle cx="421.6" cy="709.1"/><circle cx="415.3" cy="708.7"/><circle cx="424.0" cy="707.8"/><circle cx="427.6" cy="792.7"/><circle cx="427.2" cy="768.1"/><circle cx="419.6" cy="745.7"/><circle cx="421.6" cy="714.4"/><circle cx="422.1" cy="804.6"/></g>
<g fill="#7e9acb"><circle cx="430.1" cy="732.6"/><circle cx="435.8" cy="807.3"/><circle cx="414.9" cy="724.0"/><circle cx="417.0" cy="781.9"/><circle cx="439.7" cy="814.7"/><circle cx="429.6" cy="768.2"/><circle cx="413.5" cy="758.3"/><circle cx="424.4" cy="813.5"/><circle cx="425.6" cy="767.0"/><circle cx="411.9" cy="794.4"/><circle cx="426.7" cy="796.8"/><circle cx="429.1" cy="751.5"/><circle cx="423.5" cy="760.5"/><circle cx="413.5" cy="754.7"/><circle cx="444.5" cy="760.8"/><circle cx="421.2" cy="744.5"/><circle cx="430.8" cy="803.1"/><circle cx="429.1" cy="771.2"/><circle cx="410.7" cy="738.3"/><circle cx="442.8" cy="808.5"/><circle cx="441.8" cy="755.2"/><circle cx="430.3" cy="717.8"/><circle cx="445.3" cy="719.4"/><circle cx="441.7" cy="734.5"/><circle cx="426.4" cy="811.7"/><circle cx="433.7" cy="754.4"/><circle cx="436.2" cy="717.8"/><circle cx="421.1" cy="738.2"/></g>
<g fill="#7895c9"><circle cx="427.6" cy="746.3"/><circle cx="432.6" cy="799.7"/><circle cx="418.7" cy="714.2"/><circle cx="430.8" cy="778.1"/><circle cx="422.9" cy="704.8"/><circle cx="433.2" cy="698.9"/><circle cx="428.9" cy="757.2"/><circle cx="419.4" cy="757.4"/><circle cx="441.6" cy="816.9"/><circle cx="423.4" cy="751.9"/><circle cx="416.2" cy="804.7"/><circle cx="426.6" cy="757.3"/><circle cx="416.3" cy="759.7"/><circle cx="449.0" cy="819.9"/><circle cx="432.4" cy="783.5"/><circle cx="432.9" cy="743.0"/><circle cx="436.5" cy="774.2"/><circle cx="425.6" cy="721.6"/><circle cx="440.2" cy="812.1"/><circle cx="439.1" cy="775.6"/><circle cx="433.3" cy="744.4"/><circle cx="416.0" cy="782.6"/><circle cx="418.5" cy="800.7"/><circle cx="431.1" cy="729.4"/><circle cx="428.4" cy="759.3"/><circle cx="432.1" cy="761.4"/><circle cx="444.5" cy="729.1"/><circle cx="441.5" cy="786.5"/><circle cx="436.6" cy="798.1"/><circle cx="417.2" cy="687.0"/><circle cx="427.3" cy="730.5"/><circle cx="438.8" cy="714.7"/><circle cx="438.1" cy="786.3"/><circle cx="430.9" cy="800.4"/><circle cx="425.3" cy="774.0"/><circle cx="426.0" cy="764.4"/></g>
<g fill="#6e8bc0"><circle cx="443.4" cy="806.2"/><circle cx="430.1" cy="717.0"/><circle cx="448.9" cy="707.9"/><circle cx="442.2" cy="775.9"/><circle cx="431.8" cy="731.6"/><circle cx="457.1" cy="823.7"/><circle cx="434.4" cy="817.2"/><circle cx="436.6" cy="799.1"/><circle cx="451.7" cy="768.4"/><circle cx="456.2" cy="798.2"/><circle cx="434.4" cy="789.8"/><circle cx="433.6" cy="799.9"/><circle cx="429.5" cy="770.7"/><circle cx="451.6" cy="808.3"/><circle cx="431.3" cy="774.6"/><circle cx="445.1" cy="813.8"/><circle cx="419.4" cy="811.6"/><circle cx="435.7" cy="793.6"/><circle cx="447.2" cy="774.4"/><circle cx="418.7" cy="749.4"/><circle cx="444.2" cy="762.9"/><circle cx="431.6" cy="738.8"/><circle cx="421.9" cy="782.7"/><circle cx="450.3" cy="808.6"/><circle cx="450.5" cy="795.4"/><circle cx="442.1" cy="734.3"/></g>
<g fill="#6986be"><circle cx="445.2" cy="820.6"/><circle cx="447.1" cy="801.3"/><circle cx="434.8" cy="798.1"/><circle cx="427.4" cy="729.6"/><circle cx="448.0" cy="815.7"/><circle cx="440.2" cy="716.2"/><circle cx="440.1" cy="817.4"/><circle cx="461.3" cy="802.3"/><circle cx="436.9" cy="729.0"/><circle cx="438.0" cy="822.0"/><circle cx="424.6" cy="714.4"/><circle cx="448.0" cy="818.7"/><circle cx="455.5" cy="783.0"/><circle cx="458.8" cy="799.5"/><circle cx="458.6" cy="809.5"/><circle cx="447.0" cy="820.3"/><circle cx="447.2" cy="820.0"/><circle cx="445.5" cy="773.0"/><circle cx="438.9" cy="697.7"/><circle cx="451.3" cy="758.1"/><circle cx="422.9" cy="782.5"/><circle cx="438.3" cy="799.8"/><circle cx="445.6" cy="772.8"/><circle cx="424.7" cy="775.9"/><circle cx="446.7" cy="768.8"/><circle cx="438.5" cy="764.8"/><circle cx="431.5" cy="739.6"/><circle cx="446.3" cy="769.5"/><circle cx="450.4" cy="724.2"/><circle cx="471.6" cy="827.4"/><circle cx="461.3" cy="769.7"/><circle cx="446.4" cy="798.9"/><circle cx="446.6" cy="777.2"/><circle cx="441.7" cy="738.7"/><circle cx="438.5" cy="799.3"/><circle cx="441.6" cy="738.6"/><circle cx="428.8" cy="795.9"/><circle cx="423.4" cy="762.3"/><circle cx="455.6" cy="762.2"/><circle cx="451.2" cy="807.7"/><circle cx="435.1" cy="791.6"/><circle cx="441.8" cy="823.1"/></g>
<g fill="#6381bc"><circle cx="449.2" cy="771.1"/><circle cx="460.7" cy="741.6"/><circle cx="429.5" cy="803.1"/><circle cx="449.3" cy="727.9"/><circle cx="459.5" cy="807.1"/><circle cx="441.3" cy="736.5"/><circle cx="452.9" cy="735.8"/><circle cx="452.5" cy="758.6"/><circle cx="461.4" cy="800.8"/><circle cx="447.9" cy="815.5"/><circle cx="433.3" cy="788.3"/><circle cx="459.9" cy="801.4"/><circle cx="457.7" cy="791.6"/><circle cx="453.1" cy="795.1"/><circle cx="452.4" cy="744.6"/><circle cx="451.0" cy="826.9"/><circle cx="462.9" cy="784.7"/><circle cx="433.9" cy="800.4"/><circle cx="453.9" cy="819.0"/><circle cx="457.4" cy="759.1"/><circle cx="449.9" cy="762.8"/><circle cx="451.2" cy="798.0"/><circle cx="441.9" cy="756.0"/><circle cx="443.4" cy="822.9"/><circle cx="457.8" cy="728.2"/><circle cx="439.6" cy="754.7"/><circle cx="456.8" cy="745.5"/><circle cx="457.6" cy="830.9"/><circle cx="449.2" cy="809.4"/><circle cx="434.4" cy="710.1"/><circle cx="433.3" cy="713.5"/><circle cx="455.8" cy="776.1"/><circle cx="450.8" cy="786.5"/><circle cx="436.0" cy="816.8"/><circle cx="432.3" cy="812.8"/><circle cx="441.3" cy="767.4"/><circle cx="451.5" cy="773.4"/><circle cx="441.1" cy="814.7"/><circle cx="447.1" cy="814.5"/><circle cx="459.1" cy="778.4"/><circle cx="451.7" cy="777.1"/><circle cx="454.9" cy="734.6"/><circle cx="440.1" cy="821.6"/><circle cx="443.7" cy="747.8"/><circle cx="431.2" cy="767.5"/><circle cx="430.9" cy="737.4"/></g>
<g fill="#5e7cba"><circle cx="450.1" cy="806.3"/><circle cx="446.5" cy="787.4"/><circle cx="456.6" cy="736.2"/><circle cx="463.3" cy="817.6"/><circle cx="465.3" cy="787.8"/><circle cx="450.3" cy="792.1"/><circle cx="439.0" cy="763.9"/><circle cx="473.1" cy="804.3"/><circle cx="462.5" cy="780.4"/><circle cx="464.7" cy="825.5"/><circle cx="455.2" cy="721.7"/><circle cx="469.0" cy="759.5"/><circle cx="454.2" cy="817.3"/><circle cx="446.6" cy="809.6"/><circle cx="442.7" cy="812.7"/><circle cx="475.9" cy="814.9"/><circle cx="449.4" cy="743.8"/><circle cx="445.4" cy="710.9"/><circle cx="465.6" cy="809.5"/><circle cx="456.6" cy="789.0"/><circle cx="449.3" cy="794.9"/><circle cx="457.9" cy="777.9"/><circle cx="438.7" cy="730.2"/><circle cx="460.7" cy="774.1"/><circle cx="453.9" cy="826.3"/><circle cx="448.6" cy="719.0"/><circle cx="449.8" cy="799.4"/><circle cx="429.6" cy="756.4"/><circle cx="455.6" cy="753.2"/><circle cx="460.6" cy="798.7"/><circle cx="462.1" cy="801.8"/><circle cx="450.3" cy="822.9"/></g>
<g fill="#5a77b8"><circle cx="470.8" cy="812.7"/><circle cx="462.6" cy="816.8"/><circle cx="470.7" cy="759.5"/><circle cx="460.0" cy="796.7"/><circle cx="451.3" cy="793.0"/><circle cx="455.7" cy="781.0"/><circle cx="474.3" cy="839.6"/><circle cx="454.4" cy="793.8"/><circle cx="453.0" cy="747.7"/><circle cx="454.7" cy="792.8"/><circle cx="463.1" cy="779.0"/><circle cx="471.2" cy="787.0"/><circle cx="447.1" cy="739.1"/><circle cx="454.4" cy="772.9"/><circle cx="464.3" cy="803.7"/><circle cx="453.7" cy="765.3"/><circle cx="451.6" cy="750.4"/><circle cx="456.2" cy="796.5"/><circle cx="475.2" cy="773.5"/><circle cx="460.2" cy="756.7"/><circle cx="456.5" cy="807.2"/><circle cx="454.5" cy="730.4"/><circle cx="450.1" cy="818.8"/><circle cx="447.7" cy="768.5"/><circle cx="459.7" cy="823.4"/><circle cx="461.4" cy="806.9"/><circle cx="471.5" cy="814.5"/><circle cx="463.1" cy="834.5"/><circle cx="446.1" cy="770.8"/><circle cx="453.2" cy="725.3"/><circle cx="441.2" cy="775.7"/><circle cx="462.7" cy="777.6"/><circle cx="450.1" cy="731.5"/><circle cx="448.9" cy="778.5"/></g>
<g fill="#5471b5"><circle cx="452.6" cy="768.2"/><circle cx="468.1" cy="788.9"/><circle cx="463.0" cy="761.0"/><circle cx="455.2" cy="771.5"/><circle cx="464.6" cy="781.7"/><circle cx="467.4" cy="801.9"/><circle cx="462.6" cy="788.6"/><circle cx="458.2" cy="806.5"/><circle cx="471.1" cy="802.3"/><circle cx="459.4" cy="772.1"/><circle cx="477.1" cy="804.6"/><circle cx="467.1" cy="785.6"/><circle cx="452.4" cy="762.3"/><circle cx="466.7" cy="754.9"/><circle cx="456.9" cy="759.4"/><circle cx="470.7" cy="803.3"/><circle cx="469.9" cy="748.3"/><circle cx="452.8" cy="756.1"/><circle cx="455.2" cy="790.6"/><circle cx="483.9" cy="827.6"/><circle cx="456.1" cy="755.8"/><circle cx="473.9" cy="794.3"/><circle cx="475.7" cy="809.9"/><circle cx="481.3" cy="813.9"/><circle cx="454.3" cy="755.6"/><circle cx="483.2" cy="809.4"/><circle cx="463.2" cy="783.0"/><circle cx="476.9" cy="798.8"/><circle cx="451.1" cy="823.5"/><circle cx="463.4" cy="799.0"/><circle cx="465.8" cy="762.0"/><circle cx="472.4" cy="803.5"/><circle cx="457.3" cy="817.9"/><circle cx="471.4" cy="769.2"/><circle cx="468.3" cy="801.8"/></g>
<g fill="#4f6db3"><circle cx="478.9" cy="846.7"/><circle cx="455.3" cy="823.2"/><circle cx="472.1" cy="815.8"/><circle cx="469.0" cy="762.0"/><circle cx="471.0" cy="764.3"/><circle cx="474.1" cy="786.9"/><circle cx="471.1" cy="779.1"/><circle cx="464.3" cy="787.9"/><circle cx="471.6" cy="819.7"/><circle cx="472.1" cy="822.2"/><circle cx="463.6" cy="824.3"/><circle cx="452.0" cy="799.8"/><circle cx="467.0" cy="784.5"/><circle cx="475.2" cy="766.4"/><circle cx="480.3" cy="794.6"/><circle cx="458.4" cy="775.6"/><circle cx="476.9" cy="782.1"/><circle cx="458.9" cy="791.7"/><circle cx="469.2" cy="797.4"/></g>
<g fill="#4b67b0"><circle cx="475.7" cy="829.8"/><circle cx="464.0" cy="825.4"/><circle cx="461.4" cy="751.9"/><circle cx="481.6" cy="827.6"/><circle cx="484.5" cy="844.9"/><circle cx="488.3" cy="826.9"/><circle cx="476.8" cy="835.7"/><circle cx="470.5" cy="747.8"/><circle cx="460.8" cy="816.1"/><circle cx="473.0" cy="836.9"/><circle cx="472.6" cy="820.0"/><circle cx="472.6" cy="770.9"/><circle cx="460.6" cy="782.4"/><circle cx="470.8" cy="834.7"/><circle cx="455.6" cy="802.4"/><circle cx="468.1" cy="823.9"/><circle cx="488.5" cy="833.3"/></g>
<g fill="#4763ad"><circle cx="482.7" cy="839.7"/><circle cx="491.0" cy="834.3"/><circle cx="466.5" cy="808.5"/><circle cx="459.3" cy="791.1"/><circle cx="481.9" cy="787.0"/><circle cx="482.4" cy="842.6"/><circle cx="467.0" cy="770.4"/><circle cx="471.9" cy="817.3"/></g>
<g fill="#435eac"><circle cx="487.4" cy="823.7"/><circle cx="474.6" cy="804.4"/></g>
<g fill="#3f5ba9"><circle cx="486.5" cy="842.7"/></g>
<g fill="#b72223"><circle cx="242.6" cy="825.0"/></g>
<g fill="#bc2927"><circle cx="266.1" cy="791.5"/><circle cx="260.0" cy="804.3"/></g>
<g fill="#ca4036"><circle cx="276.2" cy="778.8"/><circle cx="273.5" cy="752.5"/><circle cx="271.0" cy="796.9"/><circle cx="253.3" cy="823.6"/><circle cx="265.3" cy="790.8"/><circle cx="295.3" cy="696.3"/></g>
<g fill="#ce493d"><circle cx="277.1" cy="800.6"/><circle cx="274.8" cy="761.5"/><circle cx="282.0" cy="744.9"/><circle cx="263.7" cy="819.0"/><circle cx="276.8" cy="777.9"/><circle cx="269.9" cy="751.9"/><circle cx="275.3" cy="746.2"/><circle cx="281.0" cy="706.1"/><circle cx="277.5" cy="748.0"/></g>
<g fill="#d15444"><circle cx="287.1" cy="700.1"/><circle cx="286.2" cy="754.1"/><circle cx="263.6" cy="800.9"/><circle cx="277.9" cy="799.1"/><circle cx="282.8" cy="799.2"/><circle cx="269.3" cy="745.4"/><circle cx="249.2" cy="814.7"/><circle cx="289.8" cy="725.9"/><circle cx="275.1" cy="760.0"/><circle cx="283.6" cy="746.5"/><circle cx="278.9" cy="771.8"/><circle cx="281.8" cy="790.1"/><circle cx="279.4" cy="763.1"/></g>
<g fill="#d55e4b"><circle cx="276.6" cy="765.9"/><circle cx="287.7" cy="735.8"/><circle cx="291.7" cy="785.8"/><circle cx="277.5" cy="811.5"/><circle cx="278.1" cy="750.1"/><circle cx="281.5" cy="754.4"/><circle cx="290.6" cy="764.6"/><circle cx="289.1" cy="735.1"/><circle cx="275.4" cy="742.5"/><circle cx="286.8" cy="717.1"/></g>
<g fill="#d96853"><circle cx="271.8" cy="813.1"/><circle cx="285.0" cy="740.0"/><circle cx="288.0" cy="757.5"/><circle cx="274.9" cy="744.1"/><circle cx="292.8" cy="759.1"/><circle cx="285.8" cy="709.0"/><circle cx="281.9" cy="737.3"/><circle cx="294.7" cy="689.4"/><circle cx="289.9" cy="759.9"/><circle cx="292.7" cy="755.5"/><circle cx="288.1" cy="686.2"/><circle cx="288.0" cy="779.5"/><circle cx="290.3" cy="733.9"/><circle cx="297.2" cy="769.9"/><circle cx="289.0" cy="745.8"/></g>
<g fill="#db705b"><circle cx="309.3" cy="777.1"/><circle cx="289.4" cy="760.0"/><circle cx="297.4" cy="741.6"/><circle cx="298.8" cy="760.1"/><circle cx="304.9" cy="707.5"/><circle cx="288.3" cy="717.8"/><circle cx="301.2" cy="770.2"/><circle cx="280.3" cy="782.0"/><circle cx="289.6" cy="741.3"/><circle cx="305.6" cy="779.0"/><circle cx="286.9" cy="718.3"/><circle cx="294.6" cy="725.8"/><circle cx="297.2" cy="754.1"/><circle cx="295.9" cy="752.4"/><circle cx="292.6" cy="786.4"/><circle cx="296.9" cy="686.1"/><circle cx="293.5" cy="714.6"/><circle cx="288.2" cy="752.6"/><circle cx="306.2" cy="688.5"/></g>
<g fill="#de7962"><circle cx="306.7" cy="753.7"/><circle cx="297.0" cy="695.3"/><circle cx="278.4" cy="722.4"/><circle cx="308.6" cy="676.6"/><circle cx="289.9" cy="727.4"/><circle cx="288.2" cy="731.3"/><circle cx="287.0" cy="699.6"/><circle cx="290.3" cy="762.4"/><circle cx="287.7" cy="739.7"/><circle cx="282.6" cy="723.7"/><circle cx="290.4" cy="788.0"/><circle cx="311.3" cy="751.5"/><circle cx="290.4" cy="798.2"/><circle cx="288.6" cy="771.6"/><circle cx="306.4" cy="780.0"/><circle cx="286.4" cy="794.3"/><circle cx="295.5" cy="749.0"/></g>
<g fill="#e0816a"><circle cx="308.8" cy="716.3"/><circle cx="315.2" cy="745.5"/><circle cx="299.2" cy="741.2"/><circle cx="293.0" cy="709.2"/><circle cx="316.5" cy="684.5"/><circle cx="305.1" cy="722.8"/><circle cx="317.4" cy="785.1"/><circle cx="297.6" cy="754.6"/><circle cx="303.3" cy="770.0"/><circle cx="311.0" cy="759.0"/><circle cx="320.4" cy="696.5"/><circle cx="297.4" cy="794.5"/><circle cx="299.8" cy="772.5"/><circle cx="310.5" cy="713.2"/><circle cx="317.5" cy="774.5"/></g>
<g fill="#e28972"><circle cx="319.2" cy="661.1"/><circle cx="302.6" cy="757.5"/><circle cx="327.0" cy="745.4"/><circle cx="310.7" cy="724.7"/><circle cx="320.2" cy="671.2"/><circle cx="320.0" cy="694.3"/><circle cx="311.3" cy="738.3"/><circle cx="313.5" cy="723.5"/><circle cx="306.5" cy="724.7"/><circle cx="315.4" cy="756.8"/><circle cx="297.3" cy="788.1"/><circle cx="304.3" cy="785.3"/><circle cx="309.3" cy="756.6"/><circle cx="317.1" cy="738.9"/><circle cx="313.3" cy="733.8"/></g>
<g fill="#e4917a"><circle cx="313.8" cy="719.4"/><circle cx="319.5" cy="668.1"/><circle cx="323.7" cy="668.2"/><circle cx="308.1" cy="713.9"/><circle cx="316.9" cy="672.0"/><circle cx="315.6" cy="763.0"/><circle cx="308.9" cy="677.2"/><circle cx="299.9" cy="712.7"/><circle cx="321.4" cy="765.0"/><circle cx="300.2" cy="708.2"/></g>
<g fill="#e59881"><circle cx="328.3" cy="729.3"/><circle cx="311.4" cy="666.3"/><circle cx="309.3" cy="724.4"/><circle cx="315.2" cy="721.2"/><circle cx="315.7" cy="720.1"/><circle cx="337.6" cy="658.6"/><circle cx="316.2" cy="660.6"/><circle cx="315.7" cy="709.1"/><circle cx="328.6" cy="719.5"/><circle cx="336.6" cy="743.2"/><circle cx="337.3" cy="689.5"/><circle cx="321.7" cy="689.9"/><circle cx="308.3" cy="776.7"/><circle cx="317.7" cy="696.6"/><circle cx="331.7" cy="694.8"/><circle cx="332.0" cy="758.3"/><circle cx="330.5" cy="677.5"/><circle cx="303.4" cy="706.2"/><circle cx="332.7" cy="694.4"/><circle cx="308.5" cy="687.4"/><circle cx="326.9" cy="665.0"/></g>
<g fill="#e5a089"><circle cx="346.1" cy="722.6"/><circle cx="324.1" cy="766.8"/><circle cx="325.7" cy="703.3"/><circle cx="329.1" cy="681.9"/><circle cx="335.4" cy="736.3"/><circle cx="319.1" cy="751.3"/><circle cx="309.1" cy="766.4"/><circle cx="324.6" cy="768.8"/><circle cx="321.0" cy="753.0"/><circle cx="311.7" cy="763.0"/><circle cx="338.5" cy="622.9"/><circle cx="326.1" cy="721.4"/><circle cx="323.9" cy="695.6"/><circle cx="333.7" cy="751.7"/><circle cx="353.7" cy="665.9"/><circle cx="327.6" cy="778.6"/><circle cx="328.9" cy="648.1"/><circle cx="306.8" cy="740.1"/></g>
<g fill="#e6a690"><circle cx="335.2" cy="728.9"/><circle cx="343.4" cy="745.0"/><circle cx="310.9" cy="701.1"/><circle cx="338.8" cy="679.0"/><circle cx="319.9" cy="663.3"/><circle cx="338.1" cy="725.3"/><circle cx="347.5" cy="675.9"/><circle cx="332.0" cy="656.2"/><circle cx="316.5" cy="742.6"/><circle cx="313.5" cy="688.9"/><circle cx="326.9" cy="730.9"/></g>
<g fill="#e6ae98"><circle cx="332.6" cy="625.4"/><circle cx="321.9" cy="698.7"/><circle cx="338.3" cy="694.1"/><circle cx="321.4" cy="768.9"/><circle cx="347.2" cy="699.2"/><circle cx="343.6" cy="721.2"/><circle cx="336.4" cy="621.7"/><circle cx="332.9" cy="699.5"/><circle cx="329.7" cy="747.8"/><circle cx="340.2" cy="696.8"/><circle cx="345.4" cy="698.7"/><circle cx="337.1" cy="776.2"/><circle cx="336.8" cy="727.0"/><circle cx="343.6" cy="672.2"/><circle cx="339.8" cy="764.1"/><circle cx="338.8" cy="636.5"/><circle cx="330.9" cy="732.4"/></g>
<g fill="#e7b5a0"><circle cx="353.9" cy="699.6"/><circle cx="358.6" cy="664.8"/><circle cx="343.6" cy="729.7"/><circle cx="351.4" cy="737.6"/><circle cx="341.1" cy="723.8"/><circle cx="359.1" cy="690.7"/><circle cx="353.4" cy="674.0"/><circle cx="348.4" cy="656.1"/><circle cx="357.0" cy="688.2"/><circle cx="368.2" cy="716.4"/></g>
<g fill="#e4baa8"><circle cx="352.6" cy="764.9"/><circle cx="344.7" cy="695.1"/><circle cx="360.5" cy="764.8"/><circle cx="360.4" cy="735.3"/><circle cx="340.6" cy="684.3"/><circle cx="348.0" cy="675.5"/><circle cx="356.8" cy="763.6"/><circle cx="349.8" cy="737.1"/><circle cx="354.0" cy="679.9"/><circle cx="363.3" cy="724.5"/><circle cx="366.4" cy="692.6"/><circle cx="349.9" cy="699.6"/><circle cx="348.8" cy="724.2"/></g>
<g fill="#e1c0b2"><circle cx="368.9" cy="793.1"/><circle cx="354.3" cy="692.2"/><circle cx="337.9" cy="710.5"/><circle cx="388.0" cy="711.5"/><circle cx="360.7" cy="666.7"/><circle cx="349.1" cy="647.3"/><circle cx="347.0" cy="769.9"/><circle cx="356.8" cy="721.4"/><circle cx="356.6" cy="630.0"/><circle cx="368.2" cy="778.5"/><circle cx="366.2" cy="778.7"/><circle cx="341.0" cy="755.9"/><circle cx="351.7" cy="755.8"/><circle cx="361.9" cy="720.6"/><circle cx="349.7" cy="775.4"/><circle cx="350.1" cy="654.6"/><circle cx="367.9" cy="784.1"/></g>
<g fill="#dec4bb"><circle cx="350.2" cy="722.7"/><circle cx="376.4" cy="780.8"/><circle cx="350.9" cy="622.3"/><circle cx="370.2" cy="785.4"/><circle cx="351.6" cy="695.0"/><circle cx="396.6" cy="783.2"/><circle cx="367.1" cy="756.6"/><circle cx="357.3" cy="746.3"/><circle cx="343.5" cy="755.3"/><circle cx="376.0" cy="648.2"/><circle cx="362.0" cy="700.3"/><circle cx="376.4" cy="728.2"/><circle cx="365.1" cy="651.6"/><circle cx="367.9" cy="721.8"/><circle cx="370.7" cy="726.7"/><circle cx="365.5" cy="777.7"/><circle cx="361.2" cy="767.1"/></g>
<g fill="#dacac4"><circle cx="373.9" cy="704.1"/><circle cx="371.3" cy="732.1"/><circle cx="369.0" cy="612.1"/><circle cx="390.4" cy="656.0"/><circle cx="380.2" cy="773.2"/><circle cx="375.1" cy="685.9"/><circle cx="365.4" cy="791.2"/><circle cx="369.0" cy="685.3"/><circle cx="379.3" cy="747.2"/><circle cx="367.9" cy="659.7"/><circle cx="370.2" cy="754.1"/><circle cx="366.7" cy="699.9"/><circle cx="368.0" cy="715.1"/><circle cx="391.5" cy="728.4"/><circle cx="369.4" cy="790.2"/></g>
<g fill="#d7cfcd"><circle cx="377.6" cy="693.1"/><circle cx="380.8" cy="770.2"/><circle cx="365.0" cy="748.0"/><circle cx="378.8" cy="679.0"/><circle cx="366.6" cy="755.8"/><circle cx="373.9" cy="753.8"/><circle cx="382.5" cy="771.1"/><circle cx="373.9" cy="756.3"/><circle cx="370.5" cy="752.2"/><circle cx="369.1" cy="719.6"/><circle cx="384.9" cy="716.3"/><circle cx="363.9" cy="766.1"/><circle cx="385.1" cy="690.1"/><circle cx="385.8" cy="770.5"/><circle cx="393.2" cy="690.1"/><circle cx="376.1" cy="792.1"/></g>
<g fill="#cdcbd0"><circle cx="360.8" cy="748.6"/><circle cx="411.3" cy="713.3"/><circle cx="397.9" cy="743.5"/><circle cx="390.5" cy="687.2"/><circle cx="376.7" cy="726.8"/><circle cx="383.1" cy="764.1"/><circle cx="394.4" cy="710.1"/><circle cx="404.8" cy="703.4"/><circle cx="381.8" cy="745.4"/><circle cx="384.4" cy="789.2"/><circle cx="361.0" cy="603.7"/><circle cx="397.8" cy="719.3"/><circle cx="376.5" cy="771.3"/><circle cx="398.3" cy="760.2"/><circle cx="403.8" cy="732.9"/><circle cx="373.1" cy="768.7"/><circle cx="383.7" cy="710.3"/><circle cx="374.4" cy="764.8"/><circle cx="371.5" cy="756.9"/><circle cx="382.5" cy="786.8"/><circle cx="387.0" cy="787.5"/></g>
<g fill="#c2c8d3"><circle cx="383.6" cy="730.0"/><circle cx="389.6" cy="702.7"/><circle cx="396.0" cy="768.2"/><circle cx="371.0" cy="716.5"/><circle cx="398.4" cy="658.7"/><circle cx="403.6" cy="682.5"/><circle cx="376.5" cy="790.0"/><circle cx="379.7" cy="705.6"/><circle cx="389.2" cy="729.7"/><circle cx="393.0" cy="781.4"/><circle cx="382.9" cy="656.4"/><circle cx="385.4" cy="707.0"/><circle cx="386.9" cy="687.3"/><circle cx="382.0" cy="785.1"/><circle cx="386.1" cy="718.2"/><circle cx="373.9" cy="729.2"/><circle cx="388.6" cy="767.9"/><circle cx="384.6" cy="701.2"/><circle cx="388.8" cy="670.9"/><circle cx="399.8" cy="688.2"/><circle cx="382.2" cy="731.2"/></g>
<g fill="#b9c4d5"><circle cx="380.8" cy="677.5"/><circle cx="377.1" cy="722.1"/><circle cx="386.2" cy="773.2"/><circle cx="388.3" cy="701.1"/><circle cx="399.5" cy="790.9"/><circle cx="406.8" cy="666.0"/><circle cx="389.6" cy="641.3"/><circle cx="377.1" cy="695.0"/><circle cx="382.2" cy="730.1"/><circle cx="399.7" cy="757.8"/><circle cx="385.5" cy="726.2"/><circle cx="394.5" cy="720.0"/><circle cx="375.3" cy="695.1"/><circle cx="395.9" cy="715.5"/><circle cx="389.7" cy="771.1"/><circle cx="390.2" cy="791.4"/><circle cx="372.2" cy="789.1"/><circle cx="394.1" cy="759.6"/><circle cx="395.5" cy="690.3"/><circle cx="399.0" cy="644.1"/><circle cx="393.8" cy="777.9"/><circle cx="382.3" cy="700.6"/><circle cx="387.1" cy="704.4"/><circle cx="383.8" cy="704.2"/><circle cx="389.1" cy="766.7"/></g>
<g fill="#aec2d8"><circle cx="406.1" cy="767.0"/><circle cx="401.6" cy="708.2"/><circle cx="390.8" cy="654.0"/><circle cx="393.7" cy="718.5"/><circle cx="383.0" cy="782.3"/><circle cx="384.2" cy="710.0"/><circle cx="397.9" cy="754.0"/><circle cx="392.4" cy="656.1"/><circle cx="402.2" cy="698.9"/><circle cx="400.0" cy="671.0"/><circle cx="382.6" cy="685.0"/><circle cx="396.0" cy="730.7"/><circle cx="394.7" cy="695.3"/><circle cx="405.4" cy="773.3"/><circle cx="373.5" cy="786.9"/><circle cx="410.4" cy="798.0"/><circle cx="386.8" cy="630.3"/><circle cx="394.3" cy="676.4"/><circle cx="412.9" cy="761.8"/><circle cx="403.1" cy="784.3"/><circle cx="398.4" cy="689.1"/><circle cx="381.3" cy="677.2"/><circle cx="394.2" cy="771.7"/><circle cx="400.7" cy="692.0"/></g>
<g fill="#a4bedb"><circle cx="397.2" cy="768.7"/><circle cx="395.4" cy="765.7"/><circle cx="395.6" cy="770.7"/><circle cx="387.7" cy="743.4"/><circle cx="409.3" cy="740.7"/><circle cx="394.1" cy="695.8"/><circle cx="384.6" cy="718.8"/><circle cx="400.2" cy="763.4"/><circle cx="405.2" cy="761.5"/><circle cx="387.7" cy="775.1"/><circle cx="418.6" cy="773.9"/><circle cx="392.3" cy="732.3"/><circle cx="383.4" cy="747.5"/><circle cx="405.1" cy="710.3"/><circle cx="396.5" cy="734.9"/><circle cx="405.7" cy="701.0"/><circle cx="403.1" cy="708.6"/><circle cx="401.8" cy="780.4"/><circle cx="401.2" cy="793.9"/><circle cx="401.9" cy="750.0"/><circle cx="386.1" cy="782.9"/><circle cx="407.9" cy="737.2"/><circle cx="402.0" cy="753.3"/><circle cx="369.8" cy="712.0"/><circle cx="392.0" cy="671.2"/><circle cx="402.8" cy="727.8"/><circle cx="392.4" cy="709.9"/><circle cx="406.3" cy="741.7"/><circle cx="398.2" cy="661.1"/><circle cx="393.1" cy="650.4"/><circle cx="392.5" cy="727.6"/><circle cx="402.9" cy="765.1"/><circle cx="411.1" cy="666.6"/><circle cx="407.3" cy="773.6"/><circle cx="388.1" cy="756.6"/><circle cx="411.6" cy="749.7"/><circle cx="412.7" cy="771.4"/><circle cx="400.8" cy="665.1"/><circle cx="393.9" cy="704.1"/><circle cx="397.2" cy="713.1"/><circle cx="409.0" cy="787.7"/><circle cx="394.8" cy="788.4"/><circle cx="399.7" cy="711.4"/><circle cx="388.8" cy="779.3"/><circle cx="392.7" cy="779.0"/></g>
<g fill="#9eb8d8"><circle cx="406.6" cy="685.9"/><circle cx="400.9" cy="772.8"/><circle cx="432.1" cy="791.1"/><circle cx="411.5" cy="781.6"/><circle cx="401.1" cy="666.9"/><circle cx="413.8" cy="804.7"/><circle cx="408.2" cy="721.9"/><circle cx="400.3" cy="666.1"/><circle cx="419.7" cy="797.9"/><circle cx="403.1" cy="727.7"/><circle cx="419.9" cy="759.6"/><circle cx="409.8" cy="677.0"/><circle cx="399.9" cy="771.0"/><circle cx="400.7" cy="768.7"/><circle cx="422.7" cy="760.2"/><circle cx="412.3" cy="705.2"/><circle cx="408.1" cy="741.4"/><circle cx="407.7" cy="726.5"/><circle cx="409.1" cy="782.9"/><circle cx="415.9" cy="708.5"/><circle cx="403.3" cy="666.8"/><circle cx="392.4" cy="704.2"/><circle cx="412.2" cy="803.7"/><circle cx="406.9" cy="787.2"/><circle cx="413.8" cy="703.2"/><circle cx="395.8" cy="713.8"/><circle cx="398.6" cy="748.5"/><circle cx="400.2" cy="782.5"/><circle cx="384.1" cy="745.3"/><circle cx="387.0" cy="734.6"/><circle cx="403.9" cy="712.8"/><circle cx="390.4" cy="689.1"/><circle cx="383.4" cy="707.3"/><circle cx="419.1" cy="796.2"/><circle cx="409.0" cy="719.2"/><circle cx="401.6" cy="767.6"/><circle cx="418.0" cy="750.5"/></g>
<g fill="#97b1d5"><circle cx="400.0" cy="733.3"/><circle cx="403.2" cy="765.7"/><circle cx="392.9" cy="677.0"/><circle cx="399.7" cy="737.3"/><circle cx="410.8" cy="793.0"/><circle cx="419.0" cy="725.9"/><circle cx="400.4" cy="793.7"/><circle cx="425.7" cy="797.9"/><circle cx="410.4" cy="737.9"/><circle cx="398.1" cy="757.8"/><circle cx="426.9" cy="719.7"/><circle cx="402.8" cy="753.9"/><circle cx="415.5" cy="783.1"/><circle cx="408.4" cy="677.5"/><circle cx="420.6" cy="781.8"/><circle cx="412.7" cy="760.9"/><circle cx="400.7" cy="781.0"/><circle cx="419.1" cy="781.2"/><circle cx="423.8" cy="711.3"/><circle cx="390.9" cy="731.8"/><circle cx="399.9" cy="744.0"/><circle cx="419.8" cy="797.6"/><circle cx="411.1" cy="700.2"/><circle cx="400.8" cy="776.4"/><circle cx="410.1" cy="721.4"/><circle cx="414.7" cy="750.0"/><circle cx="413.8" cy="753.2"/><circle cx="414.3" cy="803.4"/><circle cx="409.6" cy="738.9"/><circle cx="430.7" cy="756.8"/><circle cx="424.3" cy="802.2"/><circle cx="403.7" cy="774.8"/><circle cx="412.9" cy="754.5"/><circle cx="412.7" cy="791.6"/><circle cx="405.8" cy="668.4"/><circle cx="432.1" cy="816.1"/></g>
<g fill="#91abd3"><circle cx="394.4" cy="764.0"/><circle cx="402.2" cy="797.8"/><circle cx="419.4" cy="796.2"/><circle cx="419.6" cy="724.2"/><circle cx="414.0" cy="699.7"/><circle cx="417.6" cy="764.5"/><circle cx="410.8" cy="796.9"/><circle cx="439.8" cy="759.7"/><circle cx="411.9" cy="696.8"/><circle cx="400.3" cy="744.7"/><circle cx="408.4" cy="724.6"/><circle cx="406.4" cy="744.5"/><circle cx="413.2" cy="698.5"/><circle cx="407.0" cy="791.0"/><circle cx="406.8" cy="732.6"/><circle cx="417.8" cy="808.5"/><circle cx="421.2" cy="783.3"/><circle cx="421.3" cy="739.1"/><circle cx="429.3" cy="774.5"/><circle cx="417.2" cy="803.9"/><circle cx="420.1" cy="810.2"/><circle cx="400.8" cy="792.5"/><circle cx="423.3" cy="767.3"/><circle cx="415.2" cy="784.0"/><circle cx="414.4" cy="725.6"/><circle cx="420.2" cy="726.9"/><circle cx="418.8" cy="719.4"/><circle cx="412.8" cy="797.1"/><circle cx="409.7" cy="701.2"/><circle cx="410.9" cy="798.4"/><circle cx="407.6" cy="663.4"/><circle cx="420.4" cy="789.2"/><circle cx="414.2" cy="781.6"/><circle cx="417.2" cy="788.5"/><circle cx="421.8" cy="762.4"/><circle cx="410.3" cy="695.9"/><circle cx="416.4" cy="768.6"/></g>
<g fill="#8aa4d0"><circle cx="423.8" cy="800.1"/><circle cx="411.1" cy="727.1"/><circle cx="418.0" cy="759.2"/><circle cx="407.2" cy="712.8"/><circle cx="437.7" cy="743.6"/><circle cx="410.1" cy="749.8"/><circle cx="419.0" cy="810.0"/><circle cx="426.2" cy="815.1"/><circle cx="410.5" cy="729.5"/><circle cx="412.0" cy="783.8"/><circle cx="422.7" cy="783.9"/><circle cx="409.1" cy="748.0"/><circle cx="407.8" cy="721.7"/><circle cx="414.9" cy="760.2"/><circle cx="426.6" cy="808.0"/><circle cx="405.4" cy="767.8"/><circle cx="417.8" cy="733.5"/><circle cx="411.8" cy="724.5"/><circle cx="416.6" cy="684.6"/><circle cx="420.4" cy="734.0"/><circle cx="413.7" cy="774.5"/><circle cx="422.7" cy="782.4"/><circle cx="396.5" cy="736.6"/><circle cx="434.9" cy="771.9"/><circle cx="418.0" cy="719.1"/><circle cx="424.8" cy="720.5"/><circle cx="420.8" cy="683.2"/><circle cx="432.8" cy="817.2"/><circle cx="434.7" cy="762.1"/><circle cx="417.0" cy="742.1"/><circle cx="431.9" cy="791.0"/></g>
<g fill="#839fcd"><circle cx="427.8" cy="800.1"/><circle cx="434.3" cy="720.4"/><circle cx="410.4" cy="775.7"/><circle cx="423.7" cy="770.9"/><circle cx="432.4" cy="781.0"/><circle cx="423.9" cy="724.0"/><circle cx="432.1" cy="759.2"/><circle cx="424.8" cy="705.6"/><circle cx="416.2" cy="793.9"/><circle cx="418.8" cy="770.7"/><circle cx="428.0" cy="697.3"/><circle cx="419.4" cy="785.1"/><circle cx="427.8" cy="729.1"/><circle cx="413.0" cy="771.4"/><circle cx="417.7" cy="730.0"/><circle cx="415.7" cy="792.1"/><circle cx="439.4" cy="825.7"/><circle cx="421.2" cy="762.9"/><circle cx="413.6" cy="793.7"/><circle cx="428.7" cy="816.4"/><circle cx="442.5" cy="759.4"/><circle cx="426.2" cy="781.0"/><circle cx="421.1" cy="744.0"/><circle cx="426.0" cy="804.4"/><circle cx="434.6" cy="790.6"/><circle cx="414.5" cy="678.2"/><circle cx="410.4" cy="793.3"/><circle cx="432.1" cy="801.4"/><circle cx="433.1" cy="782.5"/><circle cx="435.6" cy="802.1"/><circle cx="417.3" cy="703.7"/><circle cx="446.5" cy="781.4"/></g>
<g fill="#7e9acb"><circle cx="427.0" cy="739.4"/><circle cx="439.1" cy="767.9"/><circle cx="419.1" cy="728.0"/><circle cx="429.7" cy="705.1"/><circle cx="431.4" cy="777.4"/><circle cx="430.6" cy="806.0"/><circle cx="434.2" cy="757.8"/><circle cx="432.9" cy="796.1"/><circle cx="426.4" cy="754.3"/><circle cx="425.9" cy="797.7"/><circle cx="420.9" cy="744.9"/><circle cx="425.8" cy="814.3"/><circle cx="420.6" cy="722.7"/><circle cx="410.4" cy="754.8"/><circle cx="440.6" cy="767.6"/><circle cx="427.7" cy="798.7"/><circle cx="430.8" cy="756.4"/><circle cx="416.2" cy="773.4"/><circle cx="414.0" cy="777.7"/><circle cx="416.7" cy="796.2"/><circle cx="426.6" cy="810.2"/><circle cx="447.6" cy="803.1"/><circle cx="427.5" cy="741.3"/><circle cx="451.2" cy="783.7"/><circle cx="423.4" cy="751.5"/><circle cx="417.8" cy="673.0"/><circle cx="414.6" cy="735.4"/><circle cx="435.1" cy="798.1"/><circle cx="437.1" cy="807.0"/><circle cx="424.3" cy="735.8"/></g>
<g fill="#7895c9"><circle cx="454.9" cy="781.9"/><circle cx="428.6" cy="715.0"/><circle cx="435.7" cy="741.6"/><circle cx="430.3" cy="792.2"/><circle cx="426.4" cy="801.1"/><circle cx="419.3" cy="809.9"/><circle cx="429.6" cy="806.0"/><circle cx="427.9" cy="694.7"/><circle cx="426.4" cy="773.9"/><circle cx="424.8" cy="808.0"/><circle cx="429.2" cy="785.0"/><circle cx="437.6" cy="763.0"/><circle cx="439.4" cy="771.1"/><circle cx="422.2" cy="813.1"/><circle cx="432.7" cy="734.2"/><circle cx="421.9" cy="673.4"/><circle cx="429.0" cy="769.7"/><circle cx="442.6" cy="767.5"/><circle cx="440.4" cy="819.2"/><circle cx="429.9" cy="818.2"/><circle cx="420.4" cy="761.1"/><circle cx="406.1" cy="748.2"/><circle cx="406.5" cy="785.4"/><circle cx="428.9" cy="816.4"/><circle cx="435.9" cy="800.3"/><circle cx="425.9" cy="759.3"/><circle cx="444.8" cy="749.5"/><circle cx="441.2" cy="787.3"/><circle cx="437.9" cy="820.0"/><circle cx="437.5" cy="714.6"/><circle cx="427.3" cy="759.3"/><circle cx="440.2" cy="803.6"/><circle cx="442.8" cy="789.0"/><circle cx="439.3" cy="764.4"/><circle cx="434.0" cy="730.5"/><circle cx="421.1" cy="745.9"/><circle cx="430.0" cy="809.4"/><circle cx="443.9" cy="759.6"/><circle cx="450.4" cy="756.0"/><circle cx="423.8" cy="799.9"/><circle cx="429.2" cy="740.3"/><circle cx="437.5" cy="786.1"/><circle cx="430.6" cy="740.7"/><circle cx="434.1" cy="747.7"/><circle cx="423.0" cy="752.7"/></g>
<g fill="#6e8bc0"><circle cx="431.4" cy="744.3"/><circle cx="430.3" cy="730.8"/><circle cx="432.7" cy="751.2"/><circle cx="441.4" cy="806.5"/><circle cx="434.0" cy="819.3"/><circle cx="431.8" cy="736.3"/><circle cx="429.3" cy="815.2"/><circle cx="437.1" cy="795.8"/><circle cx="443.8" cy="767.0"/><circle cx="435.8" cy="766.1"/><circle cx="454.5" cy="797.5"/><circle cx="440.3" cy="815.4"/><circle cx="433.3" cy="761.7"/><circle cx="431.6" cy="806.7"/><circle cx="448.8" cy="821.1"/><circle cx="438.7" cy="822.9"/><circle cx="451.2" cy="787.9"/><circle cx="458.9" cy="820.7"/><circle cx="441.5" cy="824.2"/><circle cx="427.4" cy="733.4"/><circle cx="422.1" cy="711.1"/><circle cx="467.0" cy="803.6"/><circle cx="427.8" cy="740.2"/><circle cx="444.1" cy="828.4"/><circle cx="445.5" cy="707.4"/><circle cx="446.2" cy="728.0"/><circle cx="434.0" cy="817.8"/><circle cx="433.4" cy="770.7"/><circle cx="425.4" cy="761.1"/><circle cx="444.7" cy="793.1"/><circle cx="429.4" cy="719.5"/><circle cx="444.3" cy="748.4"/><circle cx="434.2" cy="756.2"/><circle cx="439.0" cy="755.7"/><circle cx="432.9" cy="805.6"/><circle cx="437.2" cy="781.4"/><circle cx="442.8" cy="809.7"/><circle cx="433.5" cy="730.6"/><circle cx="421.3" cy="807.2"/><circle cx="448.6" cy="777.5"/><circle cx="430.6" cy="791.3"/></g>
<g fill="#6986be"><circle cx="458.2" cy="777.8"/><circle cx="444.7" cy="823.7"/><circle cx="442.2" cy="761.6"/><circle cx="439.7" cy="762.0"/><circle cx="455.2" cy="749.6"/><circle cx="430.7" cy="791.6"/><circle cx="447.6" cy="794.7"/><circle cx="446.7" cy="808.1"/><circle cx="439.6" cy="807.8"/><circle cx="449.1" cy="748.4"/><circle cx="438.1" cy="803.6"/><circle cx="432.6" cy="796.8"/><circle cx="440.5" cy="795.1"/><circle cx="448.9" cy="815.5"/><circle cx="441.9" cy="825.2"/><circle cx="435.8" cy="708.7"/><circle cx="425.8" cy="691.0"/><circle cx="453.4" cy="833.1"/><circle cx="444.3" cy="761.2"/><circle cx="435.9" cy="790.0"/><circle cx="447.6" cy="817.0"/><circle cx="434.4" cy="817.3"/><circle cx="452.7" cy="754.7"/><circle cx="449.4" cy="830.7"/><circle cx="457.4" cy="777.1"/><circle cx="429.9" cy="817.7"/><circle cx="431.7" cy="774.6"/><circle cx="443.1" cy="795.1"/><circle cx="448.3" cy="775.5"/><circle cx="444.5" cy="812.1"/><circle cx="441.2" cy="805.0"/><circle cx="425.9" cy="748.1"/><circle cx="446.7" cy="784.3"/><circle cx="446.7" cy="727.0"/><circle cx="425.3" cy="732.9"/><circle cx="452.0" cy="729.9"/><circle cx="436.5" cy="792.4"/><circle cx="446.3" cy="725.6"/><circle cx="444.5" cy="758.4"/><circle cx="442.3" cy="793.3"/></g>
<g fill="#6381bc"><circle cx="440.0" cy="736.0"/><circle cx="438.8" cy="822.9"/><circle cx="459.7" cy="770.8"/><circle cx="426.5" cy="807.8"/><circle cx="432.3" cy="802.9"/><circle cx="461.7" cy="782.2"/><circle cx="447.5" cy="776.1"/><circle cx="437.4" cy="819.9"/><circle cx="444.9" cy="824.2"/><circle cx="453.0" cy="789.6"/><circle cx="457.7" cy="830.4"/><circle cx="437.0" cy="754.0"/><circle cx="448.7" cy="736.5"/><circle cx="442.6" cy="738.9"/><circle cx="460.8" cy="812.6"/><circle cx="456.4" cy="772.5"/><circle cx="438.0" cy="739.4"/><circle cx="450.5" cy="750.9"/><circle cx="460.7" cy="796.2"/><circle cx="428.9" cy="803.7"/><circle cx="464.4" cy="792.6"/><circle cx="454.6" cy="809.0"/><circle cx="444.6" cy="773.8"/><circle cx="446.3" cy="767.0"/><circle cx="461.8" cy="805.2"/><circle cx="423.8" cy="682.2"/><circle cx="448.5" cy="720.9"/><circle cx="433.4" cy="794.0"/><circle cx="425.4" cy="761.9"/><circle cx="454.8" cy="794.0"/><circle cx="437.2" cy="784.1"/></g>
<g fill="#5e7cba"><circle cx="445.4" cy="749.5"/><circle cx="452.2" cy="763.5"/><circle cx="464.1" cy="821.7"/><circle cx="470.6" cy="800.6"/><circle cx="439.6" cy="814.8"/><circle cx="456.5" cy="773.3"/><circle cx="465.0" cy="793.1"/><circle cx="448.9" cy="813.6"/><circle cx="450.1" cy="777.5"/><circle cx="457.3" cy="807.7"/><circle cx="449.0" cy="826.8"/><circle cx="468.8" cy="796.2"/><circle cx="451.8" cy="774.3"/><circle cx="459.6" cy="750.5"/><circle cx="453.5" cy="799.3"/><circle cx="463.8" cy="825.5"/><circle cx="455.6" cy="792.1"/><circle cx="463.4" cy="759.8"/><circle cx="443.9" cy="815.2"/><circle cx="455.4" cy="757.9"/><circle cx="457.9" cy="831.3"/><circle cx="462.8" cy="778.3"/><circle cx="446.6" cy="828.3"/><circle cx="436.9" cy="745.3"/><circle cx="459.4" cy="787.4"/><circle cx="459.5" cy="765.4"/><circle cx="439.3" cy="715.6"/><circle cx="453.9" cy="817.4"/><circle cx="437.3" cy="812.4"/><circle cx="466.5" cy="828.0"/></g>
<g fill="#5a77b8"><circle cx="449.4" cy="796.8"/><circle cx="462.7" cy="830.5"/><circle cx="462.1" cy="818.5"/><circle cx="479.6" cy="828.1"/><circle cx="475.2" cy="759.8"/><circle cx="462.8" cy="797.8"/><circle cx="450.9" cy="754.1"/><circle cx="455.7" cy="798.5"/><circle cx="455.2" cy="791.9"/><circle cx="475.0" cy="761.6"/><circle cx="460.2" cy="773.5"/><circle cx="452.6" cy="752.8"/><circle cx="470.0" cy="791.6"/><circle cx="456.6" cy="758.5"/><circle cx="472.6" cy="827.7"/><circle cx="473.5" cy="765.7"/><circle cx="465.4" cy="813.7"/><circle cx="463.8" cy="833.7"/><circle cx="437.3" cy="814.2"/><circle cx="464.7" cy="762.2"/><circle cx="458.2" cy="765.8"/><circle cx="469.2" cy="809.4"/><circle cx="466.0" cy="799.1"/><circle cx="469.8" cy="792.6"/><circle cx="465.1" cy="761.5"/><circle cx="462.9" cy="815.2"/></g>
<g fill="#5471b5"><circle cx="483.8" cy="814.7"/><circle cx="481.6" cy="823.4"/><circle cx="456.9" cy="776.1"/><circle cx="463.8" cy="750.2"/><circle cx="459.1" cy="823.3"/><circle cx="465.8" cy="754.9"/><circle cx="465.6" cy="813.6"/><circle cx="456.0" cy="732.6"/><circle cx="466.3" cy="780.6"/><circle cx="477.5" cy="788.6"/><circle cx="448.4" cy="796.9"/><circle cx="477.2" cy="822.8"/><circle cx="469.7" cy="818.1"/><circle cx="454.5" cy="757.0"/><circle cx="471.8" cy="783.1"/><circle cx="460.0" cy="747.7"/><circle cx="465.9" cy="757.0"/><circle cx="448.1" cy="817.0"/><circle cx="466.0" cy="808.9"/><circle cx="474.7" cy="806.5"/><circle cx="473.1" cy="837.3"/><circle cx="479.8" cy="805.4"/><circle cx="447.6" cy="756.1"/><circle cx="453.1" cy="771.9"/><circle cx="473.5" cy="827.6"/><circle cx="471.0" cy="763.7"/><circle cx="479.4" cy="832.6"/><circle cx="463.0" cy="761.6"/><circle cx="459.4" cy="817.5"/><circle cx="472.5" cy="790.2"/><circle cx="465.1" cy="792.7"/><circle cx="483.3" cy="830.9"/><circle cx="455.3" cy="808.8"/></g>
<g fill="#4f6db3"><circle cx="481.4" cy="810.7"/><circle cx="479.8" cy="807.8"/><circle cx="484.2" cy="816.2"/><circle cx="485.1" cy="801.0"/><circle cx="461.9" cy="817.8"/><circle cx="466.7" cy="824.1"/><circle cx="465.2" cy="791.9"/><circle cx="463.6" cy="796.6"/><circle cx="468.8" cy="764.7"/><circle cx="473.7" cy="842.9"/><circle cx="460.9" cy="825.2"/><circle cx="483.6" cy="833.0"/><circle cx="461.2" cy="799.2"/><circle cx="454.8" cy="812.4"/><circle cx="472.8" cy="769.9"/><circle cx="473.8" cy="806.0"/><circle cx="466.0" cy="838.6"/><circle cx="464.4" cy="830.7"/><circle cx="468.1" cy="798.6"/><circle cx="478.9" cy="795.4"/><circle cx="475.7" cy="805.8"/><circle cx="478.0" cy="777.3"/><circle cx="480.1" cy="833.7"/><circle cx="468.3" cy="762.7"/></g>
<g fill="#4b67b0"><circle cx="481.3" cy="798.4"/><circle cx="481.3" cy="788.9"/><circle cx="463.1" cy="801.7"/><circle cx="478.1" cy="823.7"/><circle cx="473.2" cy="786.5"/><circle cx="459.6" cy="787.3"/><circle cx="478.7" cy="810.9"/><circle cx="478.1" cy="807.5"/><circle cx="475.5" cy="835.9"/><circle cx="478.1" cy="785.2"/><circle cx="472.0" cy="783.2"/><circle cx="480.5" cy="845.7"/><circle cx="474.4" cy="774.9"/><circle cx="470.3" cy="797.9"/><circle cx="473.8" cy="830.6"/><circle cx="458.0" cy="802.3"/><circle cx="477.3" cy="815.9"/><circle cx="474.6" cy="832.3"/><circle cx="475.9" cy="832.5"/><circle cx="476.9" cy="789.5"/></g>
<g fill="#4763ad"><circle cx="478.6" cy="785.2"/><circle cx="484.9" cy="809.4"/><circle cx="487.5" cy="836.2"/><circle cx="478.0" cy="813.2"/><circle cx="478.0" cy="802.6"/><circle cx="479.9" cy="818.3"/><circle cx="478.5" cy="845.1"/><circle cx="480.5" cy="847.4"/><circle cx="477.4" cy="770.7"/><circle cx="478.1" cy="814.5"/><circle cx="472.9" cy="827.2"/><circle cx="482.6" cy="803.1"/><circle cx="478.7" cy="841.4"/><circle cx="479.0" cy="802.4"/><circle cx="470.9" cy="780.6"/><circle cx="470.4" cy="822.9"/></g>
<g fill="#435eac"><circle cx="490.0" cy="835.6"/><circle cx="484.1" cy="846.1"/><circle cx="473.0" cy="793.7"/><circle cx="485.9" cy="838.3"/></g>
<g fill="#3f5ba9"><circle cx="480.7" cy="818.3"/><circle cx="486.6" cy="832.6"/><circle cx="480.2" cy="784.6"/><circle cx="481.8" cy="845.3"/></g>
</g>
<g stroke="#222" stroke-width="0.6">
<circle cx="281.3" cy="763.6" r="2.9" fill="#e3262b"/>
<circle cx="299.1" cy="769.2" r="2.9" fill="#e3262b"/>
<circle cx="300.1" cy="777.2" r="2.9" fill="#e3262b"/>
<circle cx="280.1" cy="781.2" r="2.9" fill="#e3262b"/>
<circle cx="288.6" cy="787" r="2.9" fill="#e3262b"/>
<circle cx="273.3" cy="790.8" r="2.9" fill="#e3262b"/>
<circle cx="259" cy="811.5" r="2.9" fill="#e3262b"/>
<circle cx="271.4" cy="810.1" r="2.9" fill="#e3262b"/>
<circle cx="277.2" cy="813" r="2.9" fill="#e3262b"/>
<circle cx="271.4" cy="813.7" r="2.9" fill="#e3262b"/>
<circle cx="265.5" cy="819.1" r="2.9" fill="#e3262b"/>
<circle cx="326" cy="659" r="2.9" fill="#e3262b"/>
<circle cx="444.8" cy="743.2" r="2.9" fill="#3f6cc0"/>
<circle cx="455.2" cy="786.4" r="2.9" fill="#3f6cc0"/>
<circle cx="457.4" cy="799.1" r="2.9" fill="#3f6cc0"/>
<circle cx="469.3" cy="796.5" r="2.9" fill="#3f6cc0"/>
<circle cx="467" cy="821.9" r="2.9" fill="#3f6cc0"/>
<circle cx="465.5" cy="827.7" r="2.9" fill="#3f6cc0"/>
<circle cx="474.3" cy="825" r="2.9" fill="#3f6cc0"/>
<circle cx="478.7" cy="831.5" r="2.9" fill="#3f6cc0"/>
<circle cx="469.4" cy="833.8" r="2.9" fill="#3f6cc0"/>
<circle cx="481" cy="836.4" r="2.9" fill="#3f6cc0"/>
<circle cx="472" cy="840" r="2.9" fill="#3f6cc0"/>
<circle cx="476" cy="844" r="2.9" fill="#3f6cc0"/>
<circle cx="439.6" cy="712.7" r="2.9" fill="#7a1f63"/>
<circle cx="417.5" cy="741.6" r="2.9" fill="#7a1f63"/>
<circle cx="471.2" cy="810.7" r="2.9" fill="#7a1f63"/>
</g>
<rect x="229.4" y="588.7" width="274.29999999999995" height="271.69999999999993" fill="none" stroke="#111" stroke-width="1.1"/>
<line x1="231.70" y1="860.4" x2="231.70" y2="864.6" stroke="#111" stroke-width="1.1"/>
<text x="231.70" y="877.8" font-size="9.5" text-anchor="middle" fill="#111">0.1</text>
<line x1="265.30" y1="860.4" x2="265.30" y2="864.6" stroke="#111" stroke-width="1.1"/>
<text x="265.30" y="877.8" font-size="9.5" text-anchor="middle" fill="#111">0.2</text>
<line x1="298.90" y1="860.4" x2="298.90" y2="864.6" stroke="#111" stroke-width="1.1"/>
<text x="298.90" y="877.8" font-size="9.5" text-anchor="middle" fill="#111">0.3</text>
<line x1="332.50" y1="860.4" x2="332.50" y2="864.6" stroke="#111" stroke-width="1.1"/>
<text x="332.50" y="877.8" font-size="9.5" text-anchor="middle" fill="#111">0.4</text>
<line x1="366.10" y1="860.4" x2="366.10" y2="864.6" stroke="#111" stroke-width="1.1"/>
<text x="366.10" y="877.8" font-size="9.5" text-anchor="middle" fill="#111">0.5</text>
<line x1="399.70" y1="860.4" x2="399.70" y2="864.6" stroke="#111" stroke-width="1.1"/>
<text x="399.70" y="877.8" font-size="9.5" text-anchor="middle" fill="#111">0.6</text>
<line x1="433.30" y1="860.4" x2="433.30" y2="864.6" stroke="#111" stroke-width="1.1"/>
<text x="433.30" y="877.8" font-size="9.5" text-anchor="middle" fill="#111">0.7</text>
<line x1="466.90" y1="860.4" x2="466.90" y2="864.6" stroke="#111" stroke-width="1.1"/>
<text x="466.90" y="877.8" font-size="9.5" text-anchor="middle" fill="#111">0.8</text>
<line x1="500.50" y1="860.4" x2="500.50" y2="864.6" stroke="#111" stroke-width="1.1"/>
<text x="500.50" y="877.8" font-size="9.5" text-anchor="middle" fill="#111">0.9</text>
<line x1="225.0" y1="822.70" x2="229.4" y2="822.70" stroke="#111" stroke-width="1.1"/>
<text x="219.0" y="826.10" font-size="9.5" text-anchor="end" fill="#111">0.10</text>
<line x1="225.0" y1="775.90" x2="229.4" y2="775.90" stroke="#111" stroke-width="1.1"/>
<text x="219.0" y="779.30" font-size="9.5" text-anchor="end" fill="#111">0.15</text>
<line x1="225.0" y1="729.10" x2="229.4" y2="729.10" stroke="#111" stroke-width="1.1"/>
<text x="219.0" y="732.50" font-size="9.5" text-anchor="end" fill="#111">0.20</text>
<line x1="225.0" y1="682.30" x2="229.4" y2="682.30" stroke="#111" stroke-width="1.1"/>
<text x="219.0" y="685.70" font-size="9.5" text-anchor="end" fill="#111">0.25</text>
<line x1="225.0" y1="635.50" x2="229.4" y2="635.50" stroke="#111" stroke-width="1.1"/>
<text x="219.0" y="638.90" font-size="9.5" text-anchor="end" fill="#111">0.30</text>
<line x1="225.0" y1="588.70" x2="229.4" y2="588.70" stroke="#111" stroke-width="1.1"/>
<text x="219.0" y="592.10" font-size="9.5" text-anchor="end" fill="#111">0.35</text>
<text x="366.5" y="891.2" font-size="9.6" text-anchor="middle" fill="#111">Prediction Mean</text>
<text font-size="9.7" fill="#111" text-anchor="middle" transform="translate(194.1 724.3) rotate(-90)">Prediction Standard Deviation</text>
<rect x="448.1" y="595.5" width="47.3" height="56.7" rx="2" fill="#fff" fill-opacity="0.85" stroke="#ccc" stroke-width="0.9"/>
<circle cx="461.5" cy="603.7" r="4.1" fill="#cc5a55" stroke="#333" stroke-width="0.6"/>
<text x="478.7" y="606.6" font-size="9.0" fill="#111">0.2</text>
<circle cx="461.5" cy="616.9" r="4.1" fill="#f0b09c" stroke="#333" stroke-width="0.6"/>
<text x="478.7" y="619.8" font-size="9.0" fill="#111">0.4</text>
<circle cx="461.5" cy="630.0" r="4.1" fill="#a9c4e6" stroke="#333" stroke-width="0.6"/>
<text x="478.7" y="632.9" font-size="9.0" fill="#111">0.6</text>
<circle cx="461.5" cy="643.2" r="4.1" fill="#6e7fc4" stroke="#333" stroke-width="0.6"/>
<text x="478.7" y="646.1" font-size="9.0" fill="#111">0.8</text>
</svg></body></html>
